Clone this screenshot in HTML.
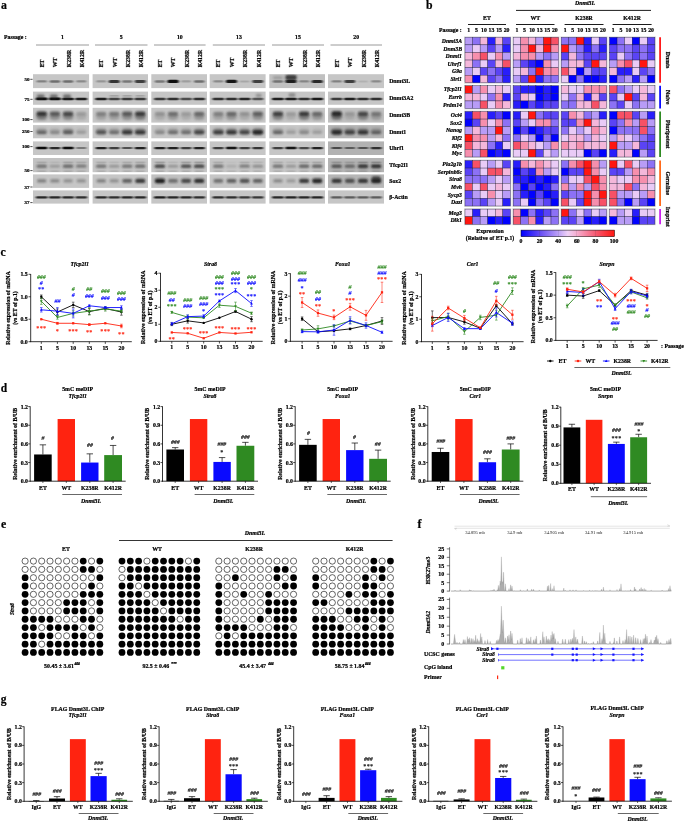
<!DOCTYPE html>
<html><head><meta charset="utf-8"><title>Figure</title>
<style>
html,body{margin:0;padding:0;background:#fff;}
body{width:685px;height:822px;overflow:hidden;font-family:"Liberation Serif",serif;}
svg{display:block;font-family:"Liberation Serif",serif;}
</style></head><body>
<svg width="685" height="822" viewBox="0 0 685 822">
<defs>
<filter id="b1" x="-30%" y="-80%" width="160%" height="260%"><feGaussianBlur stdDeviation="1.1 0.55"/></filter>
<filter id="b2" x="-30%" y="-80%" width="160%" height="260%"><feGaussianBlur stdDeviation="1.3 0.9"/></filter>
<filter id="b3" x="-30%" y="-80%" width="160%" height="260%"><feGaussianBlur stdDeviation="1.5 1.3"/></filter>
<linearGradient id="cb" x1="0" x2="1" y1="0" y2="0">
<stop offset="0" stop-color="#0000ff"/><stop offset="0.2" stop-color="#644af4"/><stop offset="0.4" stop-color="#bca0f6"/><stop offset="0.5" stop-color="#eed0f6"/><stop offset="0.6" stop-color="#f6acce"/><stop offset="0.8" stop-color="#f65870"/><stop offset="1" stop-color="#ff1610"/>
</linearGradient>
</defs>
<rect width="685" height="822" fill="#fff"/>
<g opacity="0.999">
<text x="1.00" y="8.90" font-size="11.8" font-weight="bold" font-style="normal" text-anchor="start" fill="#000" stroke="#000" stroke-width="0.22">a</text>
<text x="4.00" y="39.30" font-size="5.8" font-weight="bold" font-style="normal" text-anchor="start" fill="#000" stroke="#000" stroke-width="0.22">Passage :</text>
<line x1="36.00" y1="45.00" x2="89.00" y2="45.00" stroke="#9a9a9a" stroke-width="1.0"/>
<text x="62.50" y="39.30" font-size="5.8" font-weight="bold" font-style="normal" text-anchor="middle" fill="#000" stroke="#000" stroke-width="0.22">1</text>
<text x="43.76" y="67.30" font-size="5.8" font-weight="bold" font-style="normal" text-anchor="start" fill="#000" stroke="#000" stroke-width="0.22" transform="rotate(-90 43.76 67.30)">ET</text>
<text x="57.22" y="67.30" font-size="5.8" font-weight="bold" font-style="normal" text-anchor="start" fill="#000" stroke="#000" stroke-width="0.22" transform="rotate(-90 57.22 67.30)">WT</text>
<text x="70.68" y="67.30" font-size="5.8" font-weight="bold" font-style="normal" text-anchor="start" fill="#000" stroke="#000" stroke-width="0.22" transform="rotate(-90 70.68 67.30)">K238R</text>
<text x="84.15" y="67.30" font-size="5.8" font-weight="bold" font-style="normal" text-anchor="start" fill="#000" stroke="#000" stroke-width="0.22" transform="rotate(-90 84.15 67.30)">K412R</text>
<line x1="95.00" y1="45.00" x2="147.50" y2="45.00" stroke="#9a9a9a" stroke-width="1.0"/>
<text x="121.25" y="39.30" font-size="5.8" font-weight="bold" font-style="normal" text-anchor="middle" fill="#000" stroke="#000" stroke-width="0.22">5</text>
<text x="103.24" y="67.30" font-size="5.8" font-weight="bold" font-style="normal" text-anchor="start" fill="#000" stroke="#000" stroke-width="0.22" transform="rotate(-90 103.24 67.30)">ET</text>
<text x="116.54" y="67.30" font-size="5.8" font-weight="bold" font-style="normal" text-anchor="start" fill="#000" stroke="#000" stroke-width="0.22" transform="rotate(-90 116.54 67.30)">WT</text>
<text x="129.83" y="67.30" font-size="5.8" font-weight="bold" font-style="normal" text-anchor="start" fill="#000" stroke="#000" stroke-width="0.22" transform="rotate(-90 129.83 67.30)">K238R</text>
<text x="143.13" y="67.30" font-size="5.8" font-weight="bold" font-style="normal" text-anchor="start" fill="#000" stroke="#000" stroke-width="0.22" transform="rotate(-90 143.13 67.30)">K412R</text>
<line x1="154.00" y1="45.00" x2="205.60" y2="45.00" stroke="#9a9a9a" stroke-width="1.0"/>
<text x="179.80" y="39.30" font-size="5.8" font-weight="bold" font-style="normal" text-anchor="middle" fill="#000" stroke="#000" stroke-width="0.22">10</text>
<text x="161.99" y="67.30" font-size="5.8" font-weight="bold" font-style="normal" text-anchor="start" fill="#000" stroke="#000" stroke-width="0.22" transform="rotate(-90 161.99 67.30)">ET</text>
<text x="175.36" y="67.30" font-size="5.8" font-weight="bold" font-style="normal" text-anchor="start" fill="#000" stroke="#000" stroke-width="0.22" transform="rotate(-90 175.36 67.30)">WT</text>
<text x="188.73" y="67.30" font-size="5.8" font-weight="bold" font-style="normal" text-anchor="start" fill="#000" stroke="#000" stroke-width="0.22" transform="rotate(-90 188.73 67.30)">K238R</text>
<text x="202.09" y="67.30" font-size="5.8" font-weight="bold" font-style="normal" text-anchor="start" fill="#000" stroke="#000" stroke-width="0.22" transform="rotate(-90 202.09 67.30)">K412R</text>
<line x1="212.80" y1="45.00" x2="265.00" y2="45.00" stroke="#9a9a9a" stroke-width="1.0"/>
<text x="238.90" y="39.30" font-size="5.8" font-weight="bold" font-style="normal" text-anchor="middle" fill="#000" stroke="#000" stroke-width="0.22">13</text>
<text x="220.42" y="67.30" font-size="5.8" font-weight="bold" font-style="normal" text-anchor="start" fill="#000" stroke="#000" stroke-width="0.22" transform="rotate(-90 220.42 67.30)">ET</text>
<text x="233.84" y="67.30" font-size="5.8" font-weight="bold" font-style="normal" text-anchor="start" fill="#000" stroke="#000" stroke-width="0.22" transform="rotate(-90 233.84 67.30)">WT</text>
<text x="247.26" y="67.30" font-size="5.8" font-weight="bold" font-style="normal" text-anchor="start" fill="#000" stroke="#000" stroke-width="0.22" transform="rotate(-90 247.26 67.30)">K238R</text>
<text x="260.67" y="67.30" font-size="5.8" font-weight="bold" font-style="normal" text-anchor="start" fill="#000" stroke="#000" stroke-width="0.22" transform="rotate(-90 260.67 67.30)">K412R</text>
<line x1="272.00" y1="45.00" x2="324.00" y2="45.00" stroke="#9a9a9a" stroke-width="1.0"/>
<text x="298.00" y="39.30" font-size="5.8" font-weight="bold" font-style="normal" text-anchor="middle" fill="#000" stroke="#000" stroke-width="0.22">15</text>
<text x="279.99" y="67.30" font-size="5.8" font-weight="bold" font-style="normal" text-anchor="start" fill="#000" stroke="#000" stroke-width="0.22" transform="rotate(-90 279.99 67.30)">ET</text>
<text x="293.36" y="67.30" font-size="5.8" font-weight="bold" font-style="normal" text-anchor="start" fill="#000" stroke="#000" stroke-width="0.22" transform="rotate(-90 293.36 67.30)">WT</text>
<text x="306.73" y="67.30" font-size="5.8" font-weight="bold" font-style="normal" text-anchor="start" fill="#000" stroke="#000" stroke-width="0.22" transform="rotate(-90 306.73 67.30)">K238R</text>
<text x="320.09" y="67.30" font-size="5.8" font-weight="bold" font-style="normal" text-anchor="start" fill="#000" stroke="#000" stroke-width="0.22" transform="rotate(-90 320.09 67.30)">K412R</text>
<line x1="330.50" y1="45.00" x2="382.00" y2="45.00" stroke="#9a9a9a" stroke-width="1.0"/>
<text x="356.25" y="39.30" font-size="5.8" font-weight="bold" font-style="normal" text-anchor="middle" fill="#000" stroke="#000" stroke-width="0.22">20</text>
<text x="338.74" y="67.30" font-size="5.8" font-weight="bold" font-style="normal" text-anchor="start" fill="#000" stroke="#000" stroke-width="0.22" transform="rotate(-90 338.74 67.30)">ET</text>
<text x="352.18" y="67.30" font-size="5.8" font-weight="bold" font-style="normal" text-anchor="start" fill="#000" stroke="#000" stroke-width="0.22" transform="rotate(-90 352.18 67.30)">WT</text>
<text x="365.62" y="67.30" font-size="5.8" font-weight="bold" font-style="normal" text-anchor="start" fill="#000" stroke="#000" stroke-width="0.22" transform="rotate(-90 365.62 67.30)">K238R</text>
<text x="379.06" y="67.30" font-size="5.8" font-weight="bold" font-style="normal" text-anchor="start" fill="#000" stroke="#000" stroke-width="0.22" transform="rotate(-90 379.06 67.30)">K412R</text>
<text x="29.60" y="81.00" font-size="5.0" font-weight="bold" font-style="normal" text-anchor="end" fill="#000" stroke="#000" stroke-width="0.22">50</text>
<line x1="30.30" y1="79.30" x2="32.60" y2="79.30" stroke="#000" stroke-width="0.7"/>
<text x="29.60" y="101.00" font-size="5.0" font-weight="bold" font-style="normal" text-anchor="end" fill="#000" stroke="#000" stroke-width="0.22">75</text>
<line x1="30.30" y1="99.30" x2="32.60" y2="99.30" stroke="#000" stroke-width="0.7"/>
<text x="29.60" y="121.30" font-size="5.0" font-weight="bold" font-style="normal" text-anchor="end" fill="#000" stroke="#000" stroke-width="0.22">100</text>
<line x1="30.30" y1="119.60" x2="32.60" y2="119.60" stroke="#000" stroke-width="0.7"/>
<text x="29.60" y="133.20" font-size="5.0" font-weight="bold" font-style="normal" text-anchor="end" fill="#000" stroke="#000" stroke-width="0.22">250</text>
<line x1="30.30" y1="131.50" x2="32.60" y2="131.50" stroke="#000" stroke-width="0.7"/>
<text x="29.60" y="148.30" font-size="5.0" font-weight="bold" font-style="normal" text-anchor="end" fill="#000" stroke="#000" stroke-width="0.22">100</text>
<line x1="30.30" y1="146.60" x2="32.60" y2="146.60" stroke="#000" stroke-width="0.7"/>
<text x="29.60" y="172.30" font-size="5.0" font-weight="bold" font-style="normal" text-anchor="end" fill="#000" stroke="#000" stroke-width="0.22">50</text>
<line x1="30.30" y1="170.60" x2="32.60" y2="170.60" stroke="#000" stroke-width="0.7"/>
<text x="29.60" y="188.70" font-size="5.0" font-weight="bold" font-style="normal" text-anchor="end" fill="#000" stroke="#000" stroke-width="0.22">37</text>
<line x1="30.30" y1="187.00" x2="32.60" y2="187.00" stroke="#000" stroke-width="0.7"/>
<text x="29.60" y="204.30" font-size="5.0" font-weight="bold" font-style="normal" text-anchor="end" fill="#000" stroke="#000" stroke-width="0.22">37</text>
<line x1="30.30" y1="202.60" x2="32.60" y2="202.60" stroke="#000" stroke-width="0.7"/>
<clipPath id="c1"><rect x="33.0" y="74.2" width="56.10" height="13.90"/></clipPath>
<rect x="33.00" y="74.20" width="56.10" height="13.90" fill="#c6c6c6"/>
<g clip-path="url(#c1)">
<rect x="36.60" y="80.25" width="10.20" height="2.36" rx="1.18" fill="#111" opacity="0.37" filter="url(#b1)"/>
<rect x="49.68" y="80.17" width="10.40" height="2.52" rx="1.26" fill="#111" opacity="0.47" filter="url(#b1)"/>
<rect x="62.86" y="80.17" width="10.40" height="2.52" rx="1.26" fill="#111" opacity="0.47" filter="url(#b1)"/>
<rect x="76.20" y="80.29" width="10.10" height="2.28" rx="1.14" fill="#111" opacity="0.32" filter="url(#b1)"/>
</g>
<clipPath id="c2"><rect x="92.6" y="74.2" width="55.40" height="13.90"/></clipPath>
<rect x="92.60" y="74.20" width="55.40" height="13.90" fill="#c6c6c6"/>
<g clip-path="url(#c2)">
<rect x="96.19" y="80.33" width="10.00" height="2.20" rx="1.10" fill="#111" opacity="0.26" filter="url(#b1)"/>
<rect x="108.71" y="79.93" width="11.00" height="3.00" rx="1.50" fill="#111" opacity="0.79" filter="url(#b1)"/>
<rect x="122.07" y="80.21" width="10.30" height="2.44" rx="1.22" fill="#111" opacity="0.42" filter="url(#b1)"/>
<rect x="134.79" y="79.97" width="10.90" height="2.92" rx="1.46" fill="#111" opacity="0.73" filter="url(#b1)"/>
</g>
<clipPath id="c3"><rect x="151.3" y="74.2" width="55.70" height="13.90"/></clipPath>
<rect x="151.30" y="74.20" width="55.70" height="13.90" fill="#c6c6c6"/>
<g clip-path="url(#c3)">
<rect x="154.78" y="80.21" width="10.30" height="2.44" rx="1.22" fill="#111" opacity="0.42" filter="url(#b1)"/>
<rect x="167.32" y="79.77" width="11.40" height="3.32" rx="1.66" fill="#111" opacity="1.00" filter="url(#b1)"/>
<rect x="181.16" y="80.37" width="9.90" height="2.12" rx="1.06" fill="#111" opacity="0.21" filter="url(#b1)"/>
<rect x="194.00" y="80.17" width="10.40" height="2.52" rx="1.26" fill="#111" opacity="0.47" filter="url(#b1)"/>
</g>
<clipPath id="c4"><rect x="209.7" y="74.2" width="55.90" height="13.90"/></clipPath>
<rect x="209.70" y="74.20" width="55.90" height="13.90" fill="#c6c6c6"/>
<g clip-path="url(#c4)">
<rect x="213.31" y="80.29" width="10.10" height="2.28" rx="1.14" fill="#111" opacity="0.32" filter="url(#b1)"/>
<rect x="225.85" y="79.81" width="11.30" height="3.24" rx="1.62" fill="#111" opacity="0.95" filter="url(#b1)"/>
<rect x="239.74" y="80.41" width="9.80" height="2.04" rx="1.02" fill="#111" opacity="0.16" filter="url(#b1)"/>
<rect x="252.32" y="79.97" width="10.90" height="2.92" rx="1.46" fill="#111" opacity="0.73" filter="url(#b1)"/>
</g>
<clipPath id="c5"><rect x="269.3" y="74.2" width="55.70" height="13.90"/></clipPath>
<rect x="269.30" y="74.20" width="55.70" height="13.90" fill="#c0c0c0"/>
<g clip-path="url(#c5)">
<rect x="272.78" y="80.21" width="10.30" height="2.44" rx="1.22" fill="#111" opacity="0.42" filter="url(#b1)"/>
<rect x="285.42" y="79.85" width="11.20" height="3.16" rx="1.58" fill="#111" opacity="0.89" filter="url(#b1)"/>
<rect x="299.06" y="80.29" width="10.10" height="2.28" rx="1.14" fill="#111" opacity="0.32" filter="url(#b1)"/>
<rect x="311.65" y="79.89" width="11.10" height="3.08" rx="1.54" fill="#111" opacity="0.84" filter="url(#b1)"/>
<rect x="285.27" y="74.85" width="11.50" height="5.50" rx="2.75" fill="#1a1a1a" opacity="0.80" filter="url(#b2)"/>
<rect x="272.93" y="76.20" width="10.00" height="3.00" rx="1.50" fill="#111" opacity="0.20" filter="url(#b2)"/>
</g>
<clipPath id="c6"><rect x="328.0" y="74.2" width="56.00" height="13.90"/></clipPath>
<rect x="328.00" y="74.20" width="56.00" height="13.90" fill="#c6c6c6"/>
<g clip-path="url(#c6)">
<rect x="331.58" y="80.25" width="10.20" height="2.36" rx="1.18" fill="#111" opacity="0.37" filter="url(#b1)"/>
<rect x="344.39" y="79.97" width="10.90" height="2.92" rx="1.46" fill="#111" opacity="0.73" filter="url(#b1)"/>
<rect x="358.15" y="80.45" width="9.70" height="1.96" rx="0.98" fill="#111" opacity="0.11" filter="url(#b1)"/>
<rect x="371.11" y="80.29" width="10.10" height="2.28" rx="1.14" fill="#111" opacity="0.32" filter="url(#b1)"/>
</g>
<text x="389.20" y="83.05" font-size="5.8" font-weight="bold" font-style="normal" text-anchor="start" fill="#000" stroke="#000" stroke-width="0.22">Dnmt3L</text>
<clipPath id="c7"><rect x="33.0" y="91.6" width="56.10" height="13.20"/></clipPath>
<rect x="33.00" y="91.60" width="56.10" height="13.20" fill="#c6c6c6"/>
<g clip-path="url(#c7)">
<rect x="35.71" y="97.60" width="11.97" height="2.77" rx="1.39" fill="#080808" opacity="0.98" filter="url(#b1)"/>
<rect x="48.89" y="97.60" width="11.97" height="2.77" rx="1.39" fill="#080808" opacity="0.98" filter="url(#b1)"/>
<rect x="62.12" y="97.64" width="11.88" height="2.70" rx="1.35" fill="#080808" opacity="0.92" filter="url(#b1)"/>
<rect x="75.32" y="97.66" width="11.85" height="2.67" rx="1.33" fill="#080808" opacity="0.90" filter="url(#b1)"/>
<rect x="36.70" y="94.60" width="8.00" height="4.00" rx="2.00" fill="#222" opacity="0.55" filter="url(#b2)"/>
<rect x="49.88" y="94.60" width="8.00" height="4.00" rx="2.00" fill="#222" opacity="0.55" filter="url(#b2)"/>
<rect x="63.06" y="94.60" width="8.00" height="4.00" rx="2.00" fill="#222" opacity="0.55" filter="url(#b2)"/>
</g>
<clipPath id="c8"><rect x="92.6" y="91.6" width="55.40" height="13.20"/></clipPath>
<rect x="92.60" y="91.60" width="55.40" height="13.20" fill="#c6c6c6"/>
<g clip-path="url(#c8)">
<rect x="95.26" y="97.66" width="11.85" height="2.67" rx="1.33" fill="#080808" opacity="0.90" filter="url(#b1)"/>
<rect x="108.43" y="97.79" width="11.55" height="2.41" rx="1.21" fill="#080808" opacity="0.70" filter="url(#b1)"/>
<rect x="121.41" y="97.75" width="11.62" height="2.48" rx="1.24" fill="#080808" opacity="0.75" filter="url(#b1)"/>
<rect x="134.43" y="97.75" width="11.62" height="2.48" rx="1.24" fill="#080808" opacity="0.75" filter="url(#b1)"/>
<rect x="109.46" y="95.20" width="9.50" height="1.40" rx="0.70" fill="#333" opacity="0.30" filter="url(#b1)"/>
<rect x="122.47" y="95.20" width="9.50" height="1.40" rx="0.70" fill="#333" opacity="0.30" filter="url(#b1)"/>
<rect x="135.49" y="95.20" width="9.50" height="1.40" rx="0.70" fill="#333" opacity="0.30" filter="url(#b1)"/>
</g>
<clipPath id="c9"><rect x="151.3" y="91.6" width="55.70" height="13.20"/></clipPath>
<rect x="151.30" y="91.60" width="55.70" height="13.20" fill="#c6c6c6"/>
<g clip-path="url(#c9)">
<rect x="154.12" y="97.75" width="11.62" height="2.48" rx="1.24" fill="#080808" opacity="0.75" filter="url(#b1)"/>
<rect x="167.17" y="97.72" width="11.70" height="2.54" rx="1.27" fill="#080808" opacity="0.80" filter="url(#b1)"/>
<rect x="180.38" y="97.82" width="11.47" height="2.35" rx="1.17" fill="#080808" opacity="0.65" filter="url(#b1)"/>
<rect x="193.35" y="97.72" width="11.70" height="2.54" rx="1.27" fill="#080808" opacity="0.80" filter="url(#b1)"/>
</g>
<clipPath id="c10"><rect x="209.7" y="91.6" width="55.90" height="13.20"/></clipPath>
<rect x="209.70" y="91.60" width="55.90" height="13.20" fill="#c6c6c6"/>
<g clip-path="url(#c10)">
<rect x="212.51" y="97.72" width="11.70" height="2.54" rx="1.27" fill="#080808" opacity="0.80" filter="url(#b1)"/>
<rect x="225.65" y="97.72" width="11.70" height="2.54" rx="1.27" fill="#080808" opacity="0.80" filter="url(#b1)"/>
<rect x="238.75" y="97.69" width="11.78" height="2.60" rx="1.30" fill="#080808" opacity="0.85" filter="url(#b1)"/>
<rect x="252.07" y="97.85" width="11.40" height="2.28" rx="1.14" fill="#080808" opacity="0.60" filter="url(#b1)"/>
<rect x="255.77" y="93.85" width="6.00" height="3.50" rx="1.75" fill="#222" opacity="0.30" filter="url(#b2)"/>
</g>
<clipPath id="c11"><rect x="269.3" y="91.6" width="55.70" height="13.20"/></clipPath>
<rect x="269.30" y="91.60" width="55.70" height="13.20" fill="#c6c6c6"/>
<g clip-path="url(#c11)">
<rect x="272.01" y="97.66" width="11.85" height="2.67" rx="1.33" fill="#080808" opacity="0.90" filter="url(#b1)"/>
<rect x="285.10" y="97.66" width="11.85" height="2.67" rx="1.33" fill="#080808" opacity="0.90" filter="url(#b1)"/>
<rect x="298.26" y="97.72" width="11.70" height="2.54" rx="1.27" fill="#080808" opacity="0.80" filter="url(#b1)"/>
<rect x="311.26" y="97.64" width="11.88" height="2.70" rx="1.35" fill="#080808" opacity="0.92" filter="url(#b1)"/>
<rect x="288.52" y="93.10" width="7.00" height="4.00" rx="2.00" fill="#222" opacity="0.35" filter="url(#b2)"/>
</g>
<clipPath id="c12"><rect x="328.0" y="91.6" width="56.00" height="13.20"/></clipPath>
<rect x="328.00" y="91.60" width="56.00" height="13.20" fill="#c6c6c6"/>
<g clip-path="url(#c12)">
<rect x="330.87" y="97.75" width="11.62" height="2.48" rx="1.24" fill="#080808" opacity="0.75" filter="url(#b1)"/>
<rect x="343.91" y="97.66" width="11.85" height="2.67" rx="1.33" fill="#080808" opacity="0.90" filter="url(#b1)"/>
<rect x="357.15" y="97.72" width="11.70" height="2.54" rx="1.27" fill="#080808" opacity="0.80" filter="url(#b1)"/>
<rect x="370.31" y="97.72" width="11.70" height="2.54" rx="1.27" fill="#080808" opacity="0.80" filter="url(#b1)"/>
</g>
<text x="389.20" y="100.10" font-size="5.8" font-weight="bold" font-style="normal" text-anchor="start" fill="#000" stroke="#000" stroke-width="0.22">Dnmt3A2</text>
<clipPath id="c13"><rect x="33.0" y="107.8" width="56.10" height="14.80"/></clipPath>
<rect x="33.00" y="107.80" width="56.10" height="14.80" fill="#c6c6c6"/>
<g clip-path="url(#c13)">
<rect x="36.45" y="111.38" width="10.50" height="4.67" rx="2.34" fill="#151515" opacity="0.81" filter="url(#b2)"/>
<rect x="36.45" y="113.43" width="10.50" height="6.50" rx="3.25" fill="#2a2a2a" opacity="0.47" filter="url(#b3)"/>
<rect x="49.63" y="111.57" width="10.50" height="4.30" rx="2.15" fill="#151515" opacity="0.57" filter="url(#b2)"/>
<rect x="49.63" y="113.43" width="10.50" height="6.50" rx="3.25" fill="#2a2a2a" opacity="0.35" filter="url(#b3)"/>
<rect x="62.81" y="111.50" width="10.50" height="4.45" rx="2.22" fill="#151515" opacity="0.66" filter="url(#b2)"/>
<rect x="62.81" y="113.43" width="10.50" height="6.50" rx="3.25" fill="#2a2a2a" opacity="0.40" filter="url(#b3)"/>
<rect x="76.00" y="111.87" width="10.50" height="3.70" rx="1.85" fill="#151515" opacity="0.19" filter="url(#b2)"/>
<rect x="76.00" y="113.43" width="10.50" height="6.50" rx="3.25" fill="#2a2a2a" opacity="0.15" filter="url(#b3)"/>
</g>
<clipPath id="c14"><rect x="92.6" y="107.8" width="55.40" height="14.80"/></clipPath>
<rect x="92.60" y="107.80" width="55.40" height="14.80" fill="#c6c6c6"/>
<g clip-path="url(#c14)">
<rect x="95.94" y="111.76" width="10.50" height="3.92" rx="1.96" fill="#151515" opacity="0.33" filter="url(#b2)"/>
<rect x="95.94" y="113.43" width="10.50" height="6.50" rx="3.25" fill="#2a2a2a" opacity="0.22" filter="url(#b3)"/>
<rect x="108.96" y="111.72" width="10.50" height="4.00" rx="2.00" fill="#151515" opacity="0.38" filter="url(#b2)"/>
<rect x="108.96" y="113.43" width="10.50" height="6.50" rx="3.25" fill="#2a2a2a" opacity="0.25" filter="url(#b3)"/>
<rect x="121.97" y="111.57" width="10.50" height="4.30" rx="2.15" fill="#151515" opacity="0.57" filter="url(#b2)"/>
<rect x="121.97" y="113.43" width="10.50" height="6.50" rx="3.25" fill="#2a2a2a" opacity="0.35" filter="url(#b3)"/>
<rect x="134.99" y="111.42" width="10.50" height="4.60" rx="2.30" fill="#151515" opacity="0.76" filter="url(#b2)"/>
<rect x="134.99" y="113.43" width="10.50" height="6.50" rx="3.25" fill="#2a2a2a" opacity="0.45" filter="url(#b3)"/>
</g>
<clipPath id="c15"><rect x="151.3" y="107.8" width="55.70" height="14.80"/></clipPath>
<rect x="151.30" y="107.80" width="55.70" height="14.80" fill="#c6c6c6"/>
<g clip-path="url(#c15)">
<rect x="154.68" y="111.83" width="10.50" height="3.77" rx="1.89" fill="#151515" opacity="0.24" filter="url(#b2)"/>
<rect x="154.68" y="113.43" width="10.50" height="6.50" rx="3.25" fill="#2a2a2a" opacity="0.17" filter="url(#b3)"/>
<rect x="167.77" y="111.68" width="10.50" height="4.08" rx="2.04" fill="#151515" opacity="0.43" filter="url(#b2)"/>
<rect x="167.77" y="113.43" width="10.50" height="6.50" rx="3.25" fill="#2a2a2a" opacity="0.28" filter="url(#b3)"/>
<rect x="180.86" y="111.87" width="10.50" height="3.70" rx="1.85" fill="#151515" opacity="0.19" filter="url(#b2)"/>
<rect x="180.86" y="113.43" width="10.50" height="6.50" rx="3.25" fill="#2a2a2a" opacity="0.15" filter="url(#b3)"/>
<rect x="193.95" y="111.64" width="10.50" height="4.15" rx="2.08" fill="#151515" opacity="0.47" filter="url(#b2)"/>
<rect x="193.95" y="113.43" width="10.50" height="6.50" rx="3.25" fill="#2a2a2a" opacity="0.30" filter="url(#b3)"/>
</g>
<clipPath id="c16"><rect x="209.7" y="107.8" width="55.90" height="14.80"/></clipPath>
<rect x="209.70" y="107.80" width="55.90" height="14.80" fill="#c6c6c6"/>
<g clip-path="url(#c16)">
<rect x="213.11" y="111.76" width="10.50" height="3.92" rx="1.96" fill="#151515" opacity="0.33" filter="url(#b2)"/>
<rect x="213.11" y="113.43" width="10.50" height="6.50" rx="3.25" fill="#2a2a2a" opacity="0.22" filter="url(#b3)"/>
<rect x="226.25" y="111.64" width="10.50" height="4.15" rx="2.08" fill="#151515" opacity="0.47" filter="url(#b2)"/>
<rect x="226.25" y="113.43" width="10.50" height="6.50" rx="3.25" fill="#2a2a2a" opacity="0.30" filter="url(#b3)"/>
<rect x="239.39" y="111.83" width="10.50" height="3.77" rx="1.89" fill="#151515" opacity="0.24" filter="url(#b2)"/>
<rect x="239.39" y="113.43" width="10.50" height="6.50" rx="3.25" fill="#2a2a2a" opacity="0.17" filter="url(#b3)"/>
<rect x="252.52" y="111.61" width="10.50" height="4.22" rx="2.11" fill="#151515" opacity="0.52" filter="url(#b2)"/>
<rect x="252.52" y="113.43" width="10.50" height="6.50" rx="3.25" fill="#2a2a2a" opacity="0.33" filter="url(#b3)"/>
</g>
<clipPath id="c17"><rect x="269.3" y="107.8" width="55.70" height="14.80"/></clipPath>
<rect x="269.30" y="107.80" width="55.70" height="14.80" fill="#c6c6c6"/>
<g clip-path="url(#c17)">
<rect x="272.68" y="111.46" width="10.50" height="4.53" rx="2.26" fill="#151515" opacity="0.71" filter="url(#b2)"/>
<rect x="272.68" y="113.43" width="10.50" height="6.50" rx="3.25" fill="#2a2a2a" opacity="0.42" filter="url(#b3)"/>
<rect x="285.77" y="111.87" width="10.50" height="3.70" rx="1.85" fill="#151515" opacity="0.19" filter="url(#b2)"/>
<rect x="285.77" y="113.43" width="10.50" height="6.50" rx="3.25" fill="#2a2a2a" opacity="0.15" filter="url(#b3)"/>
<rect x="298.86" y="111.42" width="10.50" height="4.60" rx="2.30" fill="#151515" opacity="0.76" filter="url(#b2)"/>
<rect x="298.86" y="113.43" width="10.50" height="6.50" rx="3.25" fill="#2a2a2a" opacity="0.45" filter="url(#b3)"/>
<rect x="311.95" y="111.64" width="10.50" height="4.15" rx="2.08" fill="#151515" opacity="0.47" filter="url(#b2)"/>
<rect x="311.95" y="113.43" width="10.50" height="6.50" rx="3.25" fill="#2a2a2a" opacity="0.30" filter="url(#b3)"/>
</g>
<clipPath id="c18"><rect x="328.0" y="107.8" width="56.00" height="14.80"/></clipPath>
<rect x="328.00" y="107.80" width="56.00" height="14.80" fill="#c0c0c0"/>
<g clip-path="url(#c18)">
<rect x="331.43" y="111.31" width="10.50" height="4.82" rx="2.41" fill="#151515" opacity="0.90" filter="url(#b2)"/>
<rect x="331.43" y="113.43" width="10.50" height="6.50" rx="3.25" fill="#2a2a2a" opacity="0.53" filter="url(#b3)"/>
<rect x="344.59" y="111.87" width="10.50" height="3.70" rx="1.85" fill="#151515" opacity="0.19" filter="url(#b2)"/>
<rect x="344.59" y="113.43" width="10.50" height="6.50" rx="3.25" fill="#2a2a2a" opacity="0.15" filter="url(#b3)"/>
<rect x="357.75" y="111.50" width="10.50" height="4.45" rx="2.22" fill="#151515" opacity="0.66" filter="url(#b2)"/>
<rect x="357.75" y="113.43" width="10.50" height="6.50" rx="3.25" fill="#2a2a2a" opacity="0.40" filter="url(#b3)"/>
<rect x="370.91" y="111.72" width="10.50" height="4.00" rx="2.00" fill="#151515" opacity="0.38" filter="url(#b2)"/>
<rect x="370.91" y="113.43" width="10.50" height="6.50" rx="3.25" fill="#2a2a2a" opacity="0.25" filter="url(#b3)"/>
</g>
<text x="389.20" y="117.10" font-size="5.8" font-weight="bold" font-style="normal" text-anchor="start" fill="#000" stroke="#000" stroke-width="0.22">Dnmt3B</text>
<clipPath id="c19"><rect x="33.0" y="125.1" width="56.10" height="13.20"/></clipPath>
<rect x="33.00" y="125.10" width="56.10" height="13.20" fill="#c6c6c6"/>
<g clip-path="url(#c19)">
<rect x="36.57" y="130.41" width="10.25" height="3.90" rx="1.95" fill="#151515" opacity="0.50" filter="url(#b2)"/>
<rect x="36.45" y="127.63" width="10.50" height="5.50" rx="2.75" fill="#2a2a2a" opacity="0.17" filter="url(#b3)"/>
<rect x="49.90" y="130.59" width="9.95" height="3.54" rx="1.77" fill="#151515" opacity="0.30" filter="url(#b2)"/>
<rect x="49.63" y="127.63" width="10.50" height="5.50" rx="2.75" fill="#2a2a2a" opacity="0.10" filter="url(#b3)"/>
<rect x="62.90" y="130.37" width="10.32" height="3.99" rx="2.00" fill="#151515" opacity="0.55" filter="url(#b2)"/>
<rect x="62.81" y="127.63" width="10.50" height="5.50" rx="2.75" fill="#2a2a2a" opacity="0.19" filter="url(#b3)"/>
<rect x="76.35" y="130.68" width="9.80" height="3.36" rx="1.68" fill="#151515" opacity="0.20" filter="url(#b2)"/>
<rect x="76.00" y="127.63" width="10.50" height="5.50" rx="2.75" fill="#2a2a2a" opacity="0.07" filter="url(#b3)"/>
</g>
<clipPath id="c20"><rect x="92.6" y="125.1" width="55.40" height="13.20"/></clipPath>
<rect x="92.60" y="125.10" width="55.40" height="13.20" fill="#c6c6c6"/>
<g clip-path="url(#c20)">
<rect x="95.99" y="130.32" width="10.40" height="4.08" rx="2.04" fill="#151515" opacity="0.60" filter="url(#b2)"/>
<rect x="95.94" y="127.63" width="10.50" height="5.50" rx="2.75" fill="#2a2a2a" opacity="0.21" filter="url(#b3)"/>
<rect x="109.12" y="130.46" width="10.18" height="3.81" rx="1.91" fill="#151515" opacity="0.45" filter="url(#b2)"/>
<rect x="108.96" y="127.63" width="10.50" height="5.50" rx="2.75" fill="#2a2a2a" opacity="0.16" filter="url(#b3)"/>
<rect x="121.88" y="130.14" width="10.70" height="4.44" rx="2.22" fill="#151515" opacity="0.80" filter="url(#b2)"/>
<rect x="121.97" y="127.63" width="10.50" height="5.50" rx="2.75" fill="#2a2a2a" opacity="0.28" filter="url(#b3)"/>
<rect x="134.89" y="130.14" width="10.70" height="4.44" rx="2.22" fill="#151515" opacity="0.80" filter="url(#b2)"/>
<rect x="134.99" y="127.63" width="10.50" height="5.50" rx="2.75" fill="#2a2a2a" opacity="0.28" filter="url(#b3)"/>
</g>
<clipPath id="c21"><rect x="151.3" y="125.1" width="55.70" height="13.20"/></clipPath>
<rect x="151.30" y="125.10" width="55.70" height="13.20" fill="#c6c6c6"/>
<g clip-path="url(#c21)">
<rect x="154.96" y="130.59" width="9.95" height="3.54" rx="1.77" fill="#151515" opacity="0.30" filter="url(#b2)"/>
<rect x="154.68" y="127.63" width="10.50" height="5.50" rx="2.75" fill="#2a2a2a" opacity="0.10" filter="url(#b3)"/>
<rect x="167.94" y="130.46" width="10.18" height="3.81" rx="1.91" fill="#151515" opacity="0.45" filter="url(#b2)"/>
<rect x="167.77" y="127.63" width="10.50" height="5.50" rx="2.75" fill="#2a2a2a" opacity="0.16" filter="url(#b3)"/>
<rect x="181.03" y="130.46" width="10.18" height="3.81" rx="1.91" fill="#151515" opacity="0.45" filter="url(#b2)"/>
<rect x="180.86" y="127.63" width="10.50" height="5.50" rx="2.75" fill="#2a2a2a" opacity="0.16" filter="url(#b3)"/>
<rect x="193.93" y="130.23" width="10.55" height="4.26" rx="2.13" fill="#151515" opacity="0.70" filter="url(#b2)"/>
<rect x="193.95" y="127.63" width="10.50" height="5.50" rx="2.75" fill="#2a2a2a" opacity="0.24" filter="url(#b3)"/>
</g>
<clipPath id="c22"><rect x="209.7" y="125.1" width="55.90" height="13.20"/></clipPath>
<rect x="209.70" y="125.10" width="55.90" height="13.20" fill="#c6c6c6"/>
<g clip-path="url(#c22)">
<rect x="213.05" y="130.19" width="10.62" height="4.35" rx="2.17" fill="#151515" opacity="0.75" filter="url(#b2)"/>
<rect x="213.11" y="127.63" width="10.50" height="5.50" rx="2.75" fill="#2a2a2a" opacity="0.26" filter="url(#b3)"/>
<rect x="226.15" y="130.14" width="10.70" height="4.44" rx="2.22" fill="#151515" opacity="0.80" filter="url(#b2)"/>
<rect x="226.25" y="127.63" width="10.50" height="5.50" rx="2.75" fill="#2a2a2a" opacity="0.28" filter="url(#b3)"/>
<rect x="239.36" y="130.23" width="10.55" height="4.26" rx="2.13" fill="#151515" opacity="0.70" filter="url(#b2)"/>
<rect x="239.39" y="127.63" width="10.50" height="5.50" rx="2.75" fill="#2a2a2a" opacity="0.24" filter="url(#b3)"/>
<rect x="252.35" y="130.05" width="10.85" height="4.62" rx="2.31" fill="#151515" opacity="0.90" filter="url(#b2)"/>
<rect x="252.52" y="127.63" width="10.50" height="5.50" rx="2.75" fill="#2a2a2a" opacity="0.32" filter="url(#b3)"/>
</g>
<clipPath id="c23"><rect x="269.3" y="125.1" width="55.70" height="13.20"/></clipPath>
<rect x="269.30" y="125.10" width="55.70" height="13.20" fill="#c6c6c6"/>
<g clip-path="url(#c23)">
<rect x="272.81" y="130.41" width="10.25" height="3.90" rx="1.95" fill="#151515" opacity="0.50" filter="url(#b2)"/>
<rect x="272.68" y="127.63" width="10.50" height="5.50" rx="2.75" fill="#2a2a2a" opacity="0.17" filter="url(#b3)"/>
<rect x="286.12" y="130.68" width="9.80" height="3.36" rx="1.68" fill="#151515" opacity="0.20" filter="url(#b2)"/>
<rect x="285.77" y="127.63" width="10.50" height="5.50" rx="2.75" fill="#2a2a2a" opacity="0.07" filter="url(#b3)"/>
<rect x="299.14" y="130.59" width="9.95" height="3.54" rx="1.77" fill="#151515" opacity="0.30" filter="url(#b2)"/>
<rect x="298.86" y="127.63" width="10.50" height="5.50" rx="2.75" fill="#2a2a2a" opacity="0.10" filter="url(#b3)"/>
<rect x="312.30" y="130.68" width="9.80" height="3.36" rx="1.68" fill="#151515" opacity="0.20" filter="url(#b2)"/>
<rect x="311.95" y="127.63" width="10.50" height="5.50" rx="2.75" fill="#2a2a2a" opacity="0.07" filter="url(#b3)"/>
</g>
<clipPath id="c24"><rect x="328.0" y="125.1" width="56.00" height="13.20"/></clipPath>
<rect x="328.00" y="125.10" width="56.00" height="13.20" fill="#b4b4b4"/>
<g clip-path="url(#c24)">
<rect x="331.29" y="130.10" width="10.78" height="4.53" rx="2.27" fill="#151515" opacity="0.85" filter="url(#b2)"/>
<rect x="331.43" y="127.63" width="10.50" height="5.50" rx="2.75" fill="#2a2a2a" opacity="0.30" filter="url(#b3)"/>
<rect x="344.56" y="130.23" width="10.55" height="4.26" rx="2.13" fill="#151515" opacity="0.70" filter="url(#b2)"/>
<rect x="344.59" y="127.63" width="10.50" height="5.50" rx="2.75" fill="#2a2a2a" opacity="0.24" filter="url(#b3)"/>
<rect x="357.65" y="130.14" width="10.70" height="4.44" rx="2.22" fill="#151515" opacity="0.80" filter="url(#b2)"/>
<rect x="357.75" y="127.63" width="10.50" height="5.50" rx="2.75" fill="#2a2a2a" opacity="0.28" filter="url(#b3)"/>
<rect x="371.03" y="130.41" width="10.25" height="3.90" rx="1.95" fill="#151515" opacity="0.50" filter="url(#b2)"/>
<rect x="370.91" y="127.63" width="10.50" height="5.50" rx="2.75" fill="#2a2a2a" opacity="0.17" filter="url(#b3)"/>
</g>
<text x="389.20" y="133.60" font-size="5.8" font-weight="bold" font-style="normal" text-anchor="start" fill="#000" stroke="#000" stroke-width="0.22">Dnmt1</text>
<clipPath id="c25"><rect x="33.0" y="141.4" width="56.10" height="13.60"/></clipPath>
<rect x="33.00" y="141.40" width="56.10" height="13.60" fill="#c6c6c6"/>
<g clip-path="url(#c25)">
<rect x="36.00" y="146.84" width="11.40" height="2.45" rx="1.23" fill="#080808" opacity="1.00" filter="url(#b1)"/>
<rect x="49.33" y="146.91" width="11.10" height="2.30" rx="1.15" fill="#080808" opacity="0.84" filter="url(#b1)"/>
<rect x="62.36" y="146.84" width="11.40" height="2.45" rx="1.23" fill="#080808" opacity="1.00" filter="url(#b1)"/>
<rect x="76.10" y="147.11" width="10.30" height="1.90" rx="0.95" fill="#080808" opacity="0.42" filter="url(#b1)"/>
</g>
<clipPath id="c26"><rect x="92.6" y="141.4" width="55.40" height="13.60"/></clipPath>
<rect x="92.60" y="141.40" width="55.40" height="13.60" fill="#c6c6c6"/>
<g clip-path="url(#c26)">
<rect x="95.59" y="146.89" width="11.20" height="2.35" rx="1.18" fill="#080808" opacity="0.89" filter="url(#b1)"/>
<rect x="108.76" y="146.96" width="10.90" height="2.20" rx="1.10" fill="#080808" opacity="0.73" filter="url(#b1)"/>
<rect x="121.88" y="147.01" width="10.70" height="2.10" rx="1.05" fill="#080808" opacity="0.63" filter="url(#b1)"/>
<rect x="134.64" y="146.89" width="11.20" height="2.35" rx="1.18" fill="#080808" opacity="0.89" filter="url(#b1)"/>
</g>
<clipPath id="c27"><rect x="151.3" y="141.4" width="55.70" height="13.60"/></clipPath>
<rect x="151.30" y="141.40" width="55.70" height="13.60" fill="#c6c6c6"/>
<g clip-path="url(#c27)">
<rect x="154.33" y="146.89" width="11.20" height="2.35" rx="1.18" fill="#080808" opacity="0.89" filter="url(#b1)"/>
<rect x="167.42" y="146.89" width="11.20" height="2.35" rx="1.18" fill="#080808" opacity="0.89" filter="url(#b1)"/>
<rect x="180.66" y="146.96" width="10.90" height="2.20" rx="1.10" fill="#080808" opacity="0.73" filter="url(#b1)"/>
<rect x="193.60" y="146.89" width="11.20" height="2.35" rx="1.18" fill="#080808" opacity="0.89" filter="url(#b1)"/>
</g>
<clipPath id="c28"><rect x="209.7" y="141.4" width="55.90" height="13.60"/></clipPath>
<rect x="209.70" y="141.40" width="55.90" height="13.60" fill="#c6c6c6"/>
<g clip-path="url(#c28)">
<rect x="212.91" y="146.96" width="10.90" height="2.20" rx="1.10" fill="#080808" opacity="0.73" filter="url(#b1)"/>
<rect x="225.85" y="146.86" width="11.30" height="2.40" rx="1.20" fill="#080808" opacity="0.95" filter="url(#b1)"/>
<rect x="239.19" y="146.96" width="10.90" height="2.20" rx="1.10" fill="#080808" opacity="0.73" filter="url(#b1)"/>
<rect x="252.27" y="146.94" width="11.00" height="2.25" rx="1.12" fill="#080808" opacity="0.79" filter="url(#b1)"/>
</g>
<clipPath id="c29"><rect x="269.3" y="141.4" width="55.70" height="13.60"/></clipPath>
<rect x="269.30" y="141.40" width="55.70" height="13.60" fill="#c6c6c6"/>
<g clip-path="url(#c29)">
<rect x="272.48" y="146.96" width="10.90" height="2.20" rx="1.10" fill="#080808" opacity="0.73" filter="url(#b1)"/>
<rect x="285.37" y="146.86" width="11.30" height="2.40" rx="1.20" fill="#080808" opacity="0.95" filter="url(#b1)"/>
<rect x="298.71" y="146.99" width="10.80" height="2.15" rx="1.07" fill="#080808" opacity="0.68" filter="url(#b1)"/>
<rect x="311.60" y="146.89" width="11.20" height="2.35" rx="1.18" fill="#080808" opacity="0.89" filter="url(#b1)"/>
</g>
<clipPath id="c30"><rect x="328.0" y="141.4" width="56.00" height="13.60"/></clipPath>
<rect x="328.00" y="141.40" width="56.00" height="13.60" fill="#b2b2b2"/>
<g clip-path="url(#c30)">
<rect x="331.33" y="147.01" width="10.70" height="2.10" rx="1.05" fill="#080808" opacity="0.63" filter="url(#b1)"/>
<rect x="344.59" y="147.06" width="10.50" height="2.00" rx="1.00" fill="#080808" opacity="0.53" filter="url(#b1)"/>
<rect x="357.70" y="147.04" width="10.60" height="2.05" rx="1.02" fill="#080808" opacity="0.58" filter="url(#b1)"/>
<rect x="370.66" y="146.94" width="11.00" height="2.25" rx="1.12" fill="#080808" opacity="0.79" filter="url(#b1)"/>
</g>
<text x="389.20" y="150.10" font-size="5.8" font-weight="bold" font-style="normal" text-anchor="start" fill="#000" stroke="#000" stroke-width="0.22">Uhrf1</text>
<clipPath id="c31"><rect x="33.0" y="158.0" width="56.10" height="14.20"/></clipPath>
<rect x="33.00" y="158.00" width="56.10" height="14.20" fill="#c2c2c2"/>
<g clip-path="url(#c31)">
<rect x="36.45" y="164.59" width="10.50" height="3.30" rx="1.65" fill="#1a1a1a" opacity="0.47" filter="url(#b2)"/>
<rect x="36.45" y="161.46" width="10.50" height="1.60" rx="0.80" fill="#2a2a2a" opacity="0.15" filter="url(#b1)"/>
<rect x="37.20" y="170.46" width="9.00" height="1.20" rx="0.60" fill="#2a2a2a" opacity="0.18" filter="url(#b1)"/>
<rect x="49.63" y="164.76" width="10.50" height="2.95" rx="1.48" fill="#1a1a1a" opacity="0.24" filter="url(#b2)"/>
<rect x="49.63" y="161.46" width="10.50" height="1.60" rx="0.80" fill="#2a2a2a" opacity="0.07" filter="url(#b1)"/>
<rect x="50.38" y="170.46" width="9.00" height="1.20" rx="0.60" fill="#2a2a2a" opacity="0.15" filter="url(#b1)"/>
<rect x="62.81" y="164.55" width="10.50" height="3.37" rx="1.69" fill="#1a1a1a" opacity="0.52" filter="url(#b2)"/>
<rect x="62.81" y="161.46" width="10.50" height="1.60" rx="0.80" fill="#2a2a2a" opacity="0.17" filter="url(#b1)"/>
<rect x="63.56" y="170.46" width="9.00" height="1.20" rx="0.60" fill="#2a2a2a" opacity="0.19" filter="url(#b1)"/>
<rect x="76.00" y="164.62" width="10.50" height="3.23" rx="1.61" fill="#1a1a1a" opacity="0.43" filter="url(#b2)"/>
<rect x="76.00" y="161.46" width="10.50" height="1.60" rx="0.80" fill="#2a2a2a" opacity="0.14" filter="url(#b1)"/>
<rect x="76.75" y="170.46" width="9.00" height="1.20" rx="0.60" fill="#2a2a2a" opacity="0.17" filter="url(#b1)"/>
</g>
<clipPath id="c32"><rect x="92.6" y="158.0" width="55.40" height="14.20"/></clipPath>
<rect x="92.60" y="158.00" width="55.40" height="14.20" fill="#c6c6c6"/>
<g clip-path="url(#c32)">
<rect x="95.94" y="164.59" width="10.50" height="3.30" rx="1.65" fill="#1a1a1a" opacity="0.47" filter="url(#b2)"/>
<rect x="95.94" y="161.46" width="10.50" height="1.60" rx="0.80" fill="#2a2a2a" opacity="0.15" filter="url(#b1)"/>
<rect x="96.69" y="170.46" width="9.00" height="1.20" rx="0.60" fill="#2a2a2a" opacity="0.18" filter="url(#b1)"/>
<rect x="108.96" y="164.73" width="10.50" height="3.02" rx="1.51" fill="#1a1a1a" opacity="0.28" filter="url(#b2)"/>
<rect x="108.96" y="161.46" width="10.50" height="1.60" rx="0.80" fill="#2a2a2a" opacity="0.09" filter="url(#b1)"/>
<rect x="109.71" y="170.46" width="9.00" height="1.20" rx="0.60" fill="#2a2a2a" opacity="0.16" filter="url(#b1)"/>
<rect x="121.97" y="164.59" width="10.50" height="3.30" rx="1.65" fill="#1a1a1a" opacity="0.47" filter="url(#b2)"/>
<rect x="121.97" y="161.46" width="10.50" height="1.60" rx="0.80" fill="#2a2a2a" opacity="0.15" filter="url(#b1)"/>
<rect x="122.72" y="170.46" width="9.00" height="1.20" rx="0.60" fill="#2a2a2a" opacity="0.18" filter="url(#b1)"/>
<rect x="134.99" y="164.55" width="10.50" height="3.37" rx="1.69" fill="#1a1a1a" opacity="0.52" filter="url(#b2)"/>
<rect x="134.99" y="161.46" width="10.50" height="1.60" rx="0.80" fill="#2a2a2a" opacity="0.17" filter="url(#b1)"/>
<rect x="135.74" y="170.46" width="9.00" height="1.20" rx="0.60" fill="#2a2a2a" opacity="0.19" filter="url(#b1)"/>
</g>
<clipPath id="c33"><rect x="151.3" y="158.0" width="55.70" height="14.20"/></clipPath>
<rect x="151.30" y="158.00" width="55.70" height="14.20" fill="#c6c6c6"/>
<g clip-path="url(#c33)">
<rect x="154.68" y="164.38" width="10.50" height="3.72" rx="1.86" fill="#1a1a1a" opacity="0.76" filter="url(#b2)"/>
<rect x="154.68" y="161.46" width="10.50" height="1.60" rx="0.80" fill="#2a2a2a" opacity="0.24" filter="url(#b1)"/>
<rect x="155.43" y="170.46" width="9.00" height="1.20" rx="0.60" fill="#2a2a2a" opacity="0.22" filter="url(#b1)"/>
<rect x="167.77" y="164.73" width="10.50" height="3.02" rx="1.51" fill="#1a1a1a" opacity="0.28" filter="url(#b2)"/>
<rect x="167.77" y="161.46" width="10.50" height="1.60" rx="0.80" fill="#2a2a2a" opacity="0.09" filter="url(#b1)"/>
<rect x="168.52" y="170.46" width="9.00" height="1.20" rx="0.60" fill="#2a2a2a" opacity="0.16" filter="url(#b1)"/>
<rect x="180.86" y="164.41" width="10.50" height="3.65" rx="1.82" fill="#1a1a1a" opacity="0.71" filter="url(#b2)"/>
<rect x="180.86" y="161.46" width="10.50" height="1.60" rx="0.80" fill="#2a2a2a" opacity="0.22" filter="url(#b1)"/>
<rect x="181.61" y="170.46" width="9.00" height="1.20" rx="0.60" fill="#2a2a2a" opacity="0.21" filter="url(#b1)"/>
<rect x="193.95" y="164.38" width="10.50" height="3.72" rx="1.86" fill="#1a1a1a" opacity="0.76" filter="url(#b2)"/>
<rect x="193.95" y="161.46" width="10.50" height="1.60" rx="0.80" fill="#2a2a2a" opacity="0.24" filter="url(#b1)"/>
<rect x="194.70" y="170.46" width="9.00" height="1.20" rx="0.60" fill="#2a2a2a" opacity="0.22" filter="url(#b1)"/>
</g>
<clipPath id="c34"><rect x="209.7" y="158.0" width="55.90" height="14.20"/></clipPath>
<rect x="209.70" y="158.00" width="55.90" height="14.20" fill="#c6c6c6"/>
<g clip-path="url(#c34)">
<rect x="213.11" y="164.59" width="10.50" height="3.30" rx="1.65" fill="#1a1a1a" opacity="0.47" filter="url(#b2)"/>
<rect x="213.11" y="161.46" width="10.50" height="1.60" rx="0.80" fill="#2a2a2a" opacity="0.15" filter="url(#b1)"/>
<rect x="213.86" y="170.46" width="9.00" height="1.20" rx="0.60" fill="#2a2a2a" opacity="0.18" filter="url(#b1)"/>
<rect x="226.25" y="164.83" width="10.50" height="2.81" rx="1.41" fill="#1a1a1a" opacity="0.14" filter="url(#b2)"/>
<rect x="226.25" y="161.46" width="10.50" height="1.60" rx="0.80" fill="#2a2a2a" opacity="0.04" filter="url(#b1)"/>
<rect x="227.00" y="170.46" width="9.00" height="1.20" rx="0.60" fill="#2a2a2a" opacity="0.14" filter="url(#b1)"/>
<rect x="239.39" y="164.62" width="10.50" height="3.23" rx="1.61" fill="#1a1a1a" opacity="0.43" filter="url(#b2)"/>
<rect x="239.39" y="161.46" width="10.50" height="1.60" rx="0.80" fill="#2a2a2a" opacity="0.14" filter="url(#b1)"/>
<rect x="240.14" y="170.46" width="9.00" height="1.20" rx="0.60" fill="#2a2a2a" opacity="0.17" filter="url(#b1)"/>
<rect x="252.52" y="164.69" width="10.50" height="3.09" rx="1.54" fill="#1a1a1a" opacity="0.33" filter="url(#b2)"/>
<rect x="252.52" y="161.46" width="10.50" height="1.60" rx="0.80" fill="#2a2a2a" opacity="0.10" filter="url(#b1)"/>
<rect x="253.27" y="170.46" width="9.00" height="1.20" rx="0.60" fill="#2a2a2a" opacity="0.16" filter="url(#b1)"/>
</g>
<clipPath id="c35"><rect x="269.3" y="158.0" width="55.70" height="14.20"/></clipPath>
<rect x="269.30" y="158.00" width="55.70" height="14.20" fill="#c6c6c6"/>
<g clip-path="url(#c35)">
<rect x="272.68" y="164.59" width="10.50" height="3.30" rx="1.65" fill="#1a1a1a" opacity="0.47" filter="url(#b2)"/>
<rect x="272.68" y="161.46" width="10.50" height="1.60" rx="0.80" fill="#2a2a2a" opacity="0.15" filter="url(#b1)"/>
<rect x="273.43" y="170.46" width="9.00" height="1.20" rx="0.60" fill="#2a2a2a" opacity="0.18" filter="url(#b1)"/>
<rect x="285.77" y="164.73" width="10.50" height="3.02" rx="1.51" fill="#1a1a1a" opacity="0.28" filter="url(#b2)"/>
<rect x="285.77" y="161.46" width="10.50" height="1.60" rx="0.80" fill="#2a2a2a" opacity="0.09" filter="url(#b1)"/>
<rect x="286.52" y="170.46" width="9.00" height="1.20" rx="0.60" fill="#2a2a2a" opacity="0.16" filter="url(#b1)"/>
<rect x="298.86" y="164.52" width="10.50" height="3.44" rx="1.72" fill="#1a1a1a" opacity="0.57" filter="url(#b2)"/>
<rect x="298.86" y="161.46" width="10.50" height="1.60" rx="0.80" fill="#2a2a2a" opacity="0.18" filter="url(#b1)"/>
<rect x="299.61" y="170.46" width="9.00" height="1.20" rx="0.60" fill="#2a2a2a" opacity="0.19" filter="url(#b1)"/>
<rect x="311.95" y="164.52" width="10.50" height="3.44" rx="1.72" fill="#1a1a1a" opacity="0.57" filter="url(#b2)"/>
<rect x="311.95" y="161.46" width="10.50" height="1.60" rx="0.80" fill="#2a2a2a" opacity="0.18" filter="url(#b1)"/>
<rect x="312.70" y="170.46" width="9.00" height="1.20" rx="0.60" fill="#2a2a2a" opacity="0.19" filter="url(#b1)"/>
</g>
<clipPath id="c36"><rect x="328.0" y="158.0" width="56.00" height="14.20"/></clipPath>
<rect x="328.00" y="158.00" width="56.00" height="14.20" fill="#b4b4b4"/>
<g clip-path="url(#c36)">
<rect x="331.43" y="164.45" width="10.50" height="3.58" rx="1.79" fill="#1a1a1a" opacity="0.66" filter="url(#b2)"/>
<rect x="331.43" y="161.46" width="10.50" height="1.60" rx="0.80" fill="#2a2a2a" opacity="0.21" filter="url(#b1)"/>
<rect x="332.18" y="170.46" width="9.00" height="1.20" rx="0.60" fill="#2a2a2a" opacity="0.20" filter="url(#b1)"/>
<rect x="344.59" y="164.55" width="10.50" height="3.37" rx="1.69" fill="#1a1a1a" opacity="0.52" filter="url(#b2)"/>
<rect x="344.59" y="161.46" width="10.50" height="1.60" rx="0.80" fill="#2a2a2a" opacity="0.17" filter="url(#b1)"/>
<rect x="345.34" y="170.46" width="9.00" height="1.20" rx="0.60" fill="#2a2a2a" opacity="0.19" filter="url(#b1)"/>
<rect x="357.75" y="164.34" width="10.50" height="3.79" rx="1.90" fill="#1a1a1a" opacity="0.81" filter="url(#b2)"/>
<rect x="357.75" y="161.46" width="10.50" height="1.60" rx="0.80" fill="#2a2a2a" opacity="0.26" filter="url(#b1)"/>
<rect x="358.50" y="170.46" width="9.00" height="1.20" rx="0.60" fill="#2a2a2a" opacity="0.22" filter="url(#b1)"/>
<rect x="370.91" y="164.31" width="10.50" height="3.86" rx="1.93" fill="#1a1a1a" opacity="0.85" filter="url(#b2)"/>
<rect x="370.91" y="161.46" width="10.50" height="1.60" rx="0.80" fill="#2a2a2a" opacity="0.27" filter="url(#b1)"/>
<rect x="371.66" y="170.46" width="9.00" height="1.20" rx="0.60" fill="#2a2a2a" opacity="0.23" filter="url(#b1)"/>
</g>
<text x="389.20" y="167.00" font-size="5.8" font-weight="bold" font-style="normal" text-anchor="start" fill="#000" stroke="#000" stroke-width="0.22">Tfcp2l1</text>
<clipPath id="c37"><rect x="33.0" y="174.4" width="56.10" height="13.50"/></clipPath>
<rect x="33.00" y="174.40" width="56.10" height="13.50" fill="#c6c6c6"/>
<g clip-path="url(#c37)">
<rect x="36.90" y="179.14" width="9.60" height="3.48" rx="1.74" fill="#151515" opacity="0.40" filter="url(#b2)"/>
<rect x="50.12" y="179.19" width="9.53" height="3.37" rx="1.69" fill="#151515" opacity="0.35" filter="url(#b2)"/>
<rect x="63.34" y="179.25" width="9.45" height="3.26" rx="1.63" fill="#151515" opacity="0.30" filter="url(#b2)"/>
<rect x="76.52" y="179.25" width="9.45" height="3.26" rx="1.63" fill="#151515" opacity="0.30" filter="url(#b2)"/>
</g>
<clipPath id="c38"><rect x="92.6" y="174.4" width="55.40" height="13.50"/></clipPath>
<rect x="92.60" y="174.40" width="55.40" height="13.50" fill="#c6c6c6"/>
<g clip-path="url(#c38)">
<rect x="96.39" y="179.14" width="9.60" height="3.48" rx="1.74" fill="#151515" opacity="0.40" filter="url(#b2)"/>
<rect x="109.48" y="179.25" width="9.45" height="3.26" rx="1.63" fill="#151515" opacity="0.30" filter="url(#b2)"/>
<rect x="122.27" y="178.92" width="9.90" height="3.92" rx="1.96" fill="#151515" opacity="0.60" filter="url(#b2)"/>
<rect x="135.14" y="178.70" width="10.20" height="4.36" rx="2.18" fill="#151515" opacity="0.80" filter="url(#b2)"/>
</g>
<clipPath id="c39"><rect x="151.3" y="174.4" width="55.70" height="13.50"/></clipPath>
<rect x="151.30" y="174.40" width="55.70" height="13.50" fill="#c0c0c0"/>
<g clip-path="url(#c39)">
<rect x="154.72" y="178.53" width="10.43" height="4.69" rx="2.34" fill="#151515" opacity="0.95" filter="url(#b2)"/>
<rect x="168.15" y="179.03" width="9.75" height="3.70" rx="1.85" fill="#151515" opacity="0.50" filter="url(#b2)"/>
<rect x="181.09" y="178.81" width="10.05" height="4.14" rx="2.07" fill="#151515" opacity="0.70" filter="url(#b2)"/>
<rect x="194.06" y="178.64" width="10.28" height="4.47" rx="2.24" fill="#151515" opacity="0.85" filter="url(#b2)"/>
</g>
<clipPath id="c40"><rect x="209.7" y="174.4" width="55.90" height="13.50"/></clipPath>
<rect x="209.70" y="174.40" width="55.90" height="13.50" fill="#c6c6c6"/>
<g clip-path="url(#c40)">
<rect x="213.49" y="179.03" width="9.75" height="3.70" rx="1.85" fill="#151515" opacity="0.50" filter="url(#b2)"/>
<rect x="226.55" y="178.92" width="9.90" height="3.92" rx="1.96" fill="#151515" opacity="0.60" filter="url(#b2)"/>
<rect x="239.65" y="178.87" width="9.97" height="4.03" rx="2.02" fill="#151515" opacity="0.65" filter="url(#b2)"/>
<rect x="252.82" y="178.92" width="9.90" height="3.92" rx="1.96" fill="#151515" opacity="0.60" filter="url(#b2)"/>
</g>
<clipPath id="c41"><rect x="269.3" y="174.4" width="55.70" height="13.50"/></clipPath>
<rect x="269.30" y="174.40" width="55.70" height="13.50" fill="#c6c6c6"/>
<g clip-path="url(#c41)">
<rect x="273.17" y="179.19" width="9.53" height="3.37" rx="1.69" fill="#151515" opacity="0.35" filter="url(#b2)"/>
<rect x="286.34" y="179.31" width="9.38" height="3.15" rx="1.58" fill="#151515" opacity="0.25" filter="url(#b2)"/>
<rect x="299.01" y="178.70" width="10.20" height="4.36" rx="2.18" fill="#151515" opacity="0.80" filter="url(#b2)"/>
<rect x="312.03" y="178.59" width="10.35" height="4.58" rx="2.29" fill="#151515" opacity="0.90" filter="url(#b2)"/>
</g>
<clipPath id="c42"><rect x="328.0" y="174.4" width="56.00" height="13.50"/></clipPath>
<rect x="328.00" y="174.40" width="56.00" height="13.50" fill="#b6b6b6"/>
<g clip-path="url(#c42)">
<rect x="331.58" y="178.70" width="10.20" height="4.36" rx="2.18" fill="#151515" opacity="0.80" filter="url(#b2)"/>
<rect x="344.85" y="178.87" width="9.97" height="4.03" rx="2.02" fill="#151515" opacity="0.65" filter="url(#b2)"/>
<rect x="357.90" y="178.70" width="10.20" height="4.36" rx="2.18" fill="#151515" opacity="0.80" filter="url(#b2)"/>
<rect x="370.98" y="178.59" width="10.35" height="4.58" rx="2.29" fill="#151515" opacity="0.90" filter="url(#b2)"/>
<rect x="371.66" y="175.95" width="9.00" height="5.00" rx="2.50" fill="#1a1a1a" opacity="0.60" filter="url(#b2)"/>
</g>
<text x="389.20" y="183.05" font-size="5.8" font-weight="bold" font-style="normal" text-anchor="start" fill="#000" stroke="#000" stroke-width="0.22">Sox2</text>
<clipPath id="c43"><rect x="33.0" y="190.4" width="56.10" height="13.20"/></clipPath>
<rect x="33.00" y="190.40" width="56.10" height="13.20" fill="#c6c6c6"/>
<g clip-path="url(#c43)">
<rect x="35.75" y="196.23" width="11.90" height="2.33" rx="1.17" fill="#0c0c0c" opacity="0.85" filter="url(#b1)"/>
<rect x="48.93" y="196.23" width="11.90" height="2.33" rx="1.17" fill="#0c0c0c" opacity="0.85" filter="url(#b1)"/>
<rect x="62.12" y="196.24" width="11.88" height="2.32" rx="1.16" fill="#0c0c0c" opacity="0.84" filter="url(#b1)"/>
<rect x="75.32" y="196.25" width="11.85" height="2.29" rx="1.15" fill="#0c0c0c" opacity="0.81" filter="url(#b1)"/>
</g>
<clipPath id="c44"><rect x="92.6" y="190.4" width="55.40" height="13.20"/></clipPath>
<rect x="92.60" y="190.40" width="55.40" height="13.20" fill="#c6c6c6"/>
<g clip-path="url(#c44)">
<rect x="95.24" y="196.23" width="11.90" height="2.33" rx="1.17" fill="#0c0c0c" opacity="0.85" filter="url(#b1)"/>
<rect x="108.28" y="196.25" width="11.85" height="2.29" rx="1.15" fill="#0c0c0c" opacity="0.81" filter="url(#b1)"/>
<rect x="121.27" y="196.23" width="11.90" height="2.33" rx="1.17" fill="#0c0c0c" opacity="0.85" filter="url(#b1)"/>
<rect x="134.29" y="196.23" width="11.90" height="2.33" rx="1.17" fill="#0c0c0c" opacity="0.85" filter="url(#b1)"/>
</g>
<clipPath id="c45"><rect x="151.3" y="190.4" width="55.70" height="13.20"/></clipPath>
<rect x="151.30" y="190.40" width="55.70" height="13.20" fill="#c6c6c6"/>
<g clip-path="url(#c45)">
<rect x="153.96" y="196.21" width="11.95" height="2.36" rx="1.18" fill="#0c0c0c" opacity="0.90" filter="url(#b1)"/>
<rect x="167.07" y="196.23" width="11.90" height="2.33" rx="1.17" fill="#0c0c0c" opacity="0.85" filter="url(#b1)"/>
<rect x="180.16" y="196.23" width="11.90" height="2.33" rx="1.17" fill="#0c0c0c" opacity="0.85" filter="url(#b1)"/>
<rect x="193.28" y="196.25" width="11.85" height="2.29" rx="1.15" fill="#0c0c0c" opacity="0.81" filter="url(#b1)"/>
</g>
<clipPath id="c46"><rect x="209.7" y="190.4" width="55.90" height="13.20"/></clipPath>
<rect x="209.70" y="190.40" width="55.90" height="13.20" fill="#c6c6c6"/>
<g clip-path="url(#c46)">
<rect x="212.44" y="196.25" width="11.85" height="2.29" rx="1.15" fill="#0c0c0c" opacity="0.81" filter="url(#b1)"/>
<rect x="225.58" y="196.25" width="11.85" height="2.29" rx="1.15" fill="#0c0c0c" opacity="0.81" filter="url(#b1)"/>
<rect x="238.74" y="196.27" width="11.80" height="2.26" rx="1.13" fill="#0c0c0c" opacity="0.76" filter="url(#b1)"/>
<rect x="251.87" y="196.27" width="11.80" height="2.26" rx="1.13" fill="#0c0c0c" opacity="0.76" filter="url(#b1)"/>
</g>
<clipPath id="c47"><rect x="269.3" y="190.4" width="55.70" height="13.20"/></clipPath>
<rect x="269.30" y="190.40" width="55.70" height="13.20" fill="#c6c6c6"/>
<g clip-path="url(#c47)">
<rect x="271.98" y="196.23" width="11.90" height="2.33" rx="1.17" fill="#0c0c0c" opacity="0.85" filter="url(#b1)"/>
<rect x="285.06" y="196.22" width="11.92" height="2.34" rx="1.17" fill="#0c0c0c" opacity="0.87" filter="url(#b1)"/>
<rect x="298.16" y="196.23" width="11.90" height="2.33" rx="1.17" fill="#0c0c0c" opacity="0.85" filter="url(#b1)"/>
<rect x="311.24" y="196.22" width="11.92" height="2.34" rx="1.17" fill="#0c0c0c" opacity="0.87" filter="url(#b1)"/>
</g>
<clipPath id="c48"><rect x="328.0" y="190.4" width="56.00" height="13.20"/></clipPath>
<rect x="328.00" y="190.40" width="56.00" height="13.20" fill="#c6c6c6"/>
<g clip-path="url(#c48)">
<rect x="330.88" y="196.34" width="11.60" height="2.12" rx="1.06" fill="#0c0c0c" opacity="0.57" filter="url(#b1)"/>
<rect x="344.04" y="196.34" width="11.60" height="2.12" rx="1.06" fill="#0c0c0c" opacity="0.57" filter="url(#b1)"/>
<rect x="357.20" y="196.34" width="11.60" height="2.12" rx="1.06" fill="#0c0c0c" opacity="0.57" filter="url(#b1)"/>
<rect x="370.36" y="196.34" width="11.60" height="2.12" rx="1.06" fill="#0c0c0c" opacity="0.57" filter="url(#b1)"/>
</g>
<text x="389.20" y="198.90" font-size="5.8" font-weight="bold" font-style="normal" text-anchor="start" fill="#000" stroke="#000" stroke-width="0.22">β-Actin</text>
<text x="426.00" y="8.60" font-size="11.8" font-weight="bold" font-style="normal" text-anchor="start" fill="#000" stroke="#000" stroke-width="0.22">b</text>
<text x="585.00" y="4.80" font-size="5.85" font-weight="bold" font-style="italic" text-anchor="middle" fill="#000" stroke="#000" stroke-width="0.22">Dnmt3L</text>
<line x1="516.00" y1="10.40" x2="651.00" y2="10.40" stroke="#000" stroke-width="0.9"/>
<text x="487.00" y="19.80" font-size="5.85" font-weight="bold" font-style="normal" text-anchor="middle" fill="#000" stroke="#000" stroke-width="0.22">ET</text>
<line x1="468.00" y1="24.50" x2="506.00" y2="24.50" stroke="#000" stroke-width="0.9"/>
<text x="535.25" y="19.80" font-size="5.85" font-weight="bold" font-style="normal" text-anchor="middle" fill="#000" stroke="#000" stroke-width="0.22">WT</text>
<line x1="516.00" y1="24.50" x2="554.50" y2="24.50" stroke="#000" stroke-width="0.9"/>
<text x="584.05" y="19.80" font-size="5.85" font-weight="bold" font-style="normal" text-anchor="middle" fill="#000" stroke="#000" stroke-width="0.22">K238R</text>
<line x1="564.60" y1="24.50" x2="603.50" y2="24.50" stroke="#000" stroke-width="0.9"/>
<text x="632.10" y="19.80" font-size="5.85" font-weight="bold" font-style="normal" text-anchor="middle" fill="#000" stroke="#000" stroke-width="0.22">K412R</text>
<line x1="612.60" y1="24.50" x2="651.60" y2="24.50" stroke="#000" stroke-width="0.9"/>
<text x="439.00" y="32.00" font-size="5.8" font-weight="bold" font-style="normal" text-anchor="start" fill="#000" stroke="#000" stroke-width="0.22">Passage  :</text>
<text x="468.78" y="32.00" font-size="5.8" font-weight="bold" font-style="normal" text-anchor="middle" fill="#000" stroke="#000" stroke-width="0.22">1</text>
<text x="476.35" y="32.00" font-size="5.8" font-weight="bold" font-style="normal" text-anchor="middle" fill="#000" stroke="#000" stroke-width="0.22">5</text>
<text x="483.92" y="32.00" font-size="5.8" font-weight="bold" font-style="normal" text-anchor="middle" fill="#000" stroke="#000" stroke-width="0.22">10</text>
<text x="491.48" y="32.00" font-size="5.8" font-weight="bold" font-style="normal" text-anchor="middle" fill="#000" stroke="#000" stroke-width="0.22">13</text>
<text x="499.05" y="32.00" font-size="5.8" font-weight="bold" font-style="normal" text-anchor="middle" fill="#000" stroke="#000" stroke-width="0.22">15</text>
<text x="506.62" y="32.00" font-size="5.8" font-weight="bold" font-style="normal" text-anchor="middle" fill="#000" stroke="#000" stroke-width="0.22">20</text>
<text x="516.98" y="32.00" font-size="5.8" font-weight="bold" font-style="normal" text-anchor="middle" fill="#000" stroke="#000" stroke-width="0.22">1</text>
<text x="524.55" y="32.00" font-size="5.8" font-weight="bold" font-style="normal" text-anchor="middle" fill="#000" stroke="#000" stroke-width="0.22">5</text>
<text x="532.12" y="32.00" font-size="5.8" font-weight="bold" font-style="normal" text-anchor="middle" fill="#000" stroke="#000" stroke-width="0.22">10</text>
<text x="539.68" y="32.00" font-size="5.8" font-weight="bold" font-style="normal" text-anchor="middle" fill="#000" stroke="#000" stroke-width="0.22">13</text>
<text x="547.25" y="32.00" font-size="5.8" font-weight="bold" font-style="normal" text-anchor="middle" fill="#000" stroke="#000" stroke-width="0.22">15</text>
<text x="554.82" y="32.00" font-size="5.8" font-weight="bold" font-style="normal" text-anchor="middle" fill="#000" stroke="#000" stroke-width="0.22">20</text>
<text x="565.08" y="32.00" font-size="5.8" font-weight="bold" font-style="normal" text-anchor="middle" fill="#000" stroke="#000" stroke-width="0.22">1</text>
<text x="572.65" y="32.00" font-size="5.8" font-weight="bold" font-style="normal" text-anchor="middle" fill="#000" stroke="#000" stroke-width="0.22">5</text>
<text x="580.22" y="32.00" font-size="5.8" font-weight="bold" font-style="normal" text-anchor="middle" fill="#000" stroke="#000" stroke-width="0.22">10</text>
<text x="587.78" y="32.00" font-size="5.8" font-weight="bold" font-style="normal" text-anchor="middle" fill="#000" stroke="#000" stroke-width="0.22">13</text>
<text x="595.35" y="32.00" font-size="5.8" font-weight="bold" font-style="normal" text-anchor="middle" fill="#000" stroke="#000" stroke-width="0.22">15</text>
<text x="602.92" y="32.00" font-size="5.8" font-weight="bold" font-style="normal" text-anchor="middle" fill="#000" stroke="#000" stroke-width="0.22">20</text>
<text x="613.28" y="32.00" font-size="5.8" font-weight="bold" font-style="normal" text-anchor="middle" fill="#000" stroke="#000" stroke-width="0.22">1</text>
<text x="620.85" y="32.00" font-size="5.8" font-weight="bold" font-style="normal" text-anchor="middle" fill="#000" stroke="#000" stroke-width="0.22">5</text>
<text x="628.42" y="32.00" font-size="5.8" font-weight="bold" font-style="normal" text-anchor="middle" fill="#000" stroke="#000" stroke-width="0.22">10</text>
<text x="635.98" y="32.00" font-size="5.8" font-weight="bold" font-style="normal" text-anchor="middle" fill="#000" stroke="#000" stroke-width="0.22">13</text>
<text x="643.55" y="32.00" font-size="5.8" font-weight="bold" font-style="normal" text-anchor="middle" fill="#000" stroke="#000" stroke-width="0.22">15</text>
<text x="651.12" y="32.00" font-size="5.8" font-weight="bold" font-style="normal" text-anchor="middle" fill="#000" stroke="#000" stroke-width="0.22">20</text>
<rect x="464.10" y="36.40" width="47.20" height="47.28" fill="#d8d8d8"/>
<rect x="465.00" y="37.30" width="7.57" height="7.58" fill="#b89cf6" stroke="#1a1a3a" stroke-width="0.35"/>
<rect x="472.57" y="37.30" width="7.57" height="7.58" fill="#8c71f5" stroke="#1a1a3a" stroke-width="0.35"/>
<rect x="480.13" y="37.30" width="7.57" height="7.58" fill="#f4b7da" stroke="#1a1a3a" stroke-width="0.35"/>
<rect x="487.70" y="37.30" width="7.57" height="7.58" fill="#281efb" stroke="#1a1a3a" stroke-width="0.35"/>
<rect x="495.27" y="37.30" width="7.57" height="7.58" fill="#f4b7da" stroke="#1a1a3a" stroke-width="0.35"/>
<rect x="502.83" y="37.30" width="7.57" height="7.58" fill="#5a43f5" stroke="#1a1a3a" stroke-width="0.35"/>
<rect x="465.00" y="44.88" width="7.57" height="7.58" fill="#b89cf6" stroke="#1a1a3a" stroke-width="0.35"/>
<rect x="472.57" y="44.88" width="7.57" height="7.58" fill="#e9cbf6" stroke="#1a1a3a" stroke-width="0.35"/>
<rect x="480.13" y="44.88" width="7.57" height="7.58" fill="#b89cf6" stroke="#1a1a3a" stroke-width="0.35"/>
<rect x="487.70" y="44.88" width="7.57" height="7.58" fill="#5a43f5" stroke="#1a1a3a" stroke-width="0.35"/>
<rect x="495.27" y="44.88" width="7.57" height="7.58" fill="#b89cf6" stroke="#1a1a3a" stroke-width="0.35"/>
<rect x="502.83" y="44.88" width="7.57" height="7.58" fill="#281efb" stroke="#1a1a3a" stroke-width="0.35"/>
<rect x="465.00" y="52.46" width="7.57" height="7.58" fill="#f4b7da" stroke="#1a1a3a" stroke-width="0.35"/>
<rect x="472.57" y="52.46" width="7.57" height="7.58" fill="#f68fad" stroke="#1a1a3a" stroke-width="0.35"/>
<rect x="480.13" y="52.46" width="7.57" height="7.58" fill="#f75166" stroke="#1a1a3a" stroke-width="0.35"/>
<rect x="487.70" y="52.46" width="7.57" height="7.58" fill="#e9cbf6" stroke="#1a1a3a" stroke-width="0.35"/>
<rect x="495.27" y="52.46" width="7.57" height="7.58" fill="#f68fad" stroke="#1a1a3a" stroke-width="0.35"/>
<rect x="502.83" y="52.46" width="7.57" height="7.58" fill="#b89cf6" stroke="#1a1a3a" stroke-width="0.35"/>
<rect x="465.00" y="60.04" width="7.57" height="7.58" fill="#f4b7da" stroke="#1a1a3a" stroke-width="0.35"/>
<rect x="472.57" y="60.04" width="7.57" height="7.58" fill="#8c71f5" stroke="#1a1a3a" stroke-width="0.35"/>
<rect x="480.13" y="60.04" width="7.57" height="7.58" fill="#e9cbf6" stroke="#1a1a3a" stroke-width="0.35"/>
<rect x="487.70" y="60.04" width="7.57" height="7.58" fill="#5a43f5" stroke="#1a1a3a" stroke-width="0.35"/>
<rect x="495.27" y="60.04" width="7.57" height="7.58" fill="#f4b7da" stroke="#1a1a3a" stroke-width="0.35"/>
<rect x="502.83" y="60.04" width="7.57" height="7.58" fill="#f75166" stroke="#1a1a3a" stroke-width="0.35"/>
<rect x="465.00" y="67.62" width="7.57" height="7.58" fill="#b89cf6" stroke="#1a1a3a" stroke-width="0.35"/>
<rect x="472.57" y="67.62" width="7.57" height="7.58" fill="#e9cbf6" stroke="#1a1a3a" stroke-width="0.35"/>
<rect x="480.13" y="67.62" width="7.57" height="7.58" fill="#5a43f5" stroke="#1a1a3a" stroke-width="0.35"/>
<rect x="487.70" y="67.62" width="7.57" height="7.58" fill="#8c71f5" stroke="#1a1a3a" stroke-width="0.35"/>
<rect x="495.27" y="67.62" width="7.57" height="7.58" fill="#5a43f5" stroke="#1a1a3a" stroke-width="0.35"/>
<rect x="502.83" y="67.62" width="7.57" height="7.58" fill="#281efb" stroke="#1a1a3a" stroke-width="0.35"/>
<rect x="465.00" y="75.20" width="7.57" height="7.58" fill="#f68fad" stroke="#1a1a3a" stroke-width="0.35"/>
<rect x="472.57" y="75.20" width="7.57" height="7.58" fill="#0000ff" stroke="#1a1a3a" stroke-width="0.35"/>
<rect x="480.13" y="75.20" width="7.57" height="7.58" fill="#f4b7da" stroke="#1a1a3a" stroke-width="0.35"/>
<rect x="487.70" y="75.20" width="7.57" height="7.58" fill="#5a43f5" stroke="#1a1a3a" stroke-width="0.35"/>
<rect x="495.27" y="75.20" width="7.57" height="7.58" fill="#8c71f5" stroke="#1a1a3a" stroke-width="0.35"/>
<rect x="502.83" y="75.20" width="7.57" height="7.58" fill="#281efb" stroke="#1a1a3a" stroke-width="0.35"/>
<rect x="512.30" y="36.40" width="47.20" height="47.28" fill="#d8d8d8"/>
<rect x="513.20" y="37.30" width="7.57" height="7.58" fill="#e9cbf6" stroke="#1a1a3a" stroke-width="0.35"/>
<rect x="520.77" y="37.30" width="7.57" height="7.58" fill="#f68fad" stroke="#1a1a3a" stroke-width="0.35"/>
<rect x="528.33" y="37.30" width="7.57" height="7.58" fill="#f4b7da" stroke="#1a1a3a" stroke-width="0.35"/>
<rect x="535.90" y="37.30" width="7.57" height="7.58" fill="#b89cf6" stroke="#1a1a3a" stroke-width="0.35"/>
<rect x="543.47" y="37.30" width="7.57" height="7.58" fill="#ff1610" stroke="#1a1a3a" stroke-width="0.35"/>
<rect x="551.03" y="37.30" width="7.57" height="7.58" fill="#f75166" stroke="#1a1a3a" stroke-width="0.35"/>
<rect x="513.20" y="44.88" width="7.57" height="7.58" fill="#e9cbf6" stroke="#1a1a3a" stroke-width="0.35"/>
<rect x="520.77" y="44.88" width="7.57" height="7.58" fill="#f68fad" stroke="#1a1a3a" stroke-width="0.35"/>
<rect x="528.33" y="44.88" width="7.57" height="7.58" fill="#ff1610" stroke="#1a1a3a" stroke-width="0.35"/>
<rect x="535.90" y="44.88" width="7.57" height="7.58" fill="#f4b7da" stroke="#1a1a3a" stroke-width="0.35"/>
<rect x="543.47" y="44.88" width="7.57" height="7.58" fill="#ff1610" stroke="#1a1a3a" stroke-width="0.35"/>
<rect x="551.03" y="44.88" width="7.57" height="7.58" fill="#f68fad" stroke="#1a1a3a" stroke-width="0.35"/>
<rect x="513.20" y="52.46" width="7.57" height="7.58" fill="#f4b7da" stroke="#1a1a3a" stroke-width="0.35"/>
<rect x="520.77" y="52.46" width="7.57" height="7.58" fill="#f68fad" stroke="#1a1a3a" stroke-width="0.35"/>
<rect x="528.33" y="52.46" width="7.57" height="7.58" fill="#f68fad" stroke="#1a1a3a" stroke-width="0.35"/>
<rect x="535.90" y="52.46" width="7.57" height="7.58" fill="#b89cf6" stroke="#1a1a3a" stroke-width="0.35"/>
<rect x="543.47" y="52.46" width="7.57" height="7.58" fill="#8c71f5" stroke="#1a1a3a" stroke-width="0.35"/>
<rect x="551.03" y="52.46" width="7.57" height="7.58" fill="#b89cf6" stroke="#1a1a3a" stroke-width="0.35"/>
<rect x="513.20" y="60.04" width="7.57" height="7.58" fill="#b89cf6" stroke="#1a1a3a" stroke-width="0.35"/>
<rect x="520.77" y="60.04" width="7.57" height="7.58" fill="#5a43f5" stroke="#1a1a3a" stroke-width="0.35"/>
<rect x="528.33" y="60.04" width="7.57" height="7.58" fill="#281efb" stroke="#1a1a3a" stroke-width="0.35"/>
<rect x="535.90" y="60.04" width="7.57" height="7.58" fill="#0000ff" stroke="#1a1a3a" stroke-width="0.35"/>
<rect x="543.47" y="60.04" width="7.57" height="7.58" fill="#f68fad" stroke="#1a1a3a" stroke-width="0.35"/>
<rect x="551.03" y="60.04" width="7.57" height="7.58" fill="#e9cbf6" stroke="#1a1a3a" stroke-width="0.35"/>
<rect x="513.20" y="67.62" width="7.57" height="7.58" fill="#e9cbf6" stroke="#1a1a3a" stroke-width="0.35"/>
<rect x="520.77" y="67.62" width="7.57" height="7.58" fill="#f4b7da" stroke="#1a1a3a" stroke-width="0.35"/>
<rect x="528.33" y="67.62" width="7.57" height="7.58" fill="#8c71f5" stroke="#1a1a3a" stroke-width="0.35"/>
<rect x="535.90" y="67.62" width="7.57" height="7.58" fill="#ff1610" stroke="#1a1a3a" stroke-width="0.35"/>
<rect x="543.47" y="67.62" width="7.57" height="7.58" fill="#f68fad" stroke="#1a1a3a" stroke-width="0.35"/>
<rect x="551.03" y="67.62" width="7.57" height="7.58" fill="#f68fad" stroke="#1a1a3a" stroke-width="0.35"/>
<rect x="513.20" y="75.20" width="7.57" height="7.58" fill="#b89cf6" stroke="#1a1a3a" stroke-width="0.35"/>
<rect x="520.77" y="75.20" width="7.57" height="7.58" fill="#5a43f5" stroke="#1a1a3a" stroke-width="0.35"/>
<rect x="528.33" y="75.20" width="7.57" height="7.58" fill="#ff1610" stroke="#1a1a3a" stroke-width="0.35"/>
<rect x="535.90" y="75.20" width="7.57" height="7.58" fill="#281efb" stroke="#1a1a3a" stroke-width="0.35"/>
<rect x="543.47" y="75.20" width="7.57" height="7.58" fill="#8c71f5" stroke="#1a1a3a" stroke-width="0.35"/>
<rect x="551.03" y="75.20" width="7.57" height="7.58" fill="#8c71f5" stroke="#1a1a3a" stroke-width="0.35"/>
<rect x="560.40" y="36.40" width="47.20" height="47.28" fill="#d8d8d8"/>
<rect x="561.30" y="37.30" width="7.57" height="7.58" fill="#8c71f5" stroke="#1a1a3a" stroke-width="0.35"/>
<rect x="568.87" y="37.30" width="7.57" height="7.58" fill="#8c71f5" stroke="#1a1a3a" stroke-width="0.35"/>
<rect x="576.43" y="37.30" width="7.57" height="7.58" fill="#ff1610" stroke="#1a1a3a" stroke-width="0.35"/>
<rect x="584.00" y="37.30" width="7.57" height="7.58" fill="#281efb" stroke="#1a1a3a" stroke-width="0.35"/>
<rect x="591.57" y="37.30" width="7.57" height="7.58" fill="#e9cbf6" stroke="#1a1a3a" stroke-width="0.35"/>
<rect x="599.13" y="37.30" width="7.57" height="7.58" fill="#5a43f5" stroke="#1a1a3a" stroke-width="0.35"/>
<rect x="561.30" y="44.88" width="7.57" height="7.58" fill="#ff1610" stroke="#1a1a3a" stroke-width="0.35"/>
<rect x="568.87" y="44.88" width="7.57" height="7.58" fill="#b89cf6" stroke="#1a1a3a" stroke-width="0.35"/>
<rect x="576.43" y="44.88" width="7.57" height="7.58" fill="#8c71f5" stroke="#1a1a3a" stroke-width="0.35"/>
<rect x="584.00" y="44.88" width="7.57" height="7.58" fill="#281efb" stroke="#1a1a3a" stroke-width="0.35"/>
<rect x="591.57" y="44.88" width="7.57" height="7.58" fill="#8c71f5" stroke="#1a1a3a" stroke-width="0.35"/>
<rect x="599.13" y="44.88" width="7.57" height="7.58" fill="#281efb" stroke="#1a1a3a" stroke-width="0.35"/>
<rect x="561.30" y="52.46" width="7.57" height="7.58" fill="#5a43f5" stroke="#1a1a3a" stroke-width="0.35"/>
<rect x="568.87" y="52.46" width="7.57" height="7.58" fill="#f4b7da" stroke="#1a1a3a" stroke-width="0.35"/>
<rect x="576.43" y="52.46" width="7.57" height="7.58" fill="#8c71f5" stroke="#1a1a3a" stroke-width="0.35"/>
<rect x="584.00" y="52.46" width="7.57" height="7.58" fill="#5a43f5" stroke="#1a1a3a" stroke-width="0.35"/>
<rect x="591.57" y="52.46" width="7.57" height="7.58" fill="#5a43f5" stroke="#1a1a3a" stroke-width="0.35"/>
<rect x="599.13" y="52.46" width="7.57" height="7.58" fill="#5a43f5" stroke="#1a1a3a" stroke-width="0.35"/>
<rect x="561.30" y="60.04" width="7.57" height="7.58" fill="#b89cf6" stroke="#1a1a3a" stroke-width="0.35"/>
<rect x="568.87" y="60.04" width="7.57" height="7.58" fill="#f4b7da" stroke="#1a1a3a" stroke-width="0.35"/>
<rect x="576.43" y="60.04" width="7.57" height="7.58" fill="#f4b7da" stroke="#1a1a3a" stroke-width="0.35"/>
<rect x="584.00" y="60.04" width="7.57" height="7.58" fill="#5a43f5" stroke="#1a1a3a" stroke-width="0.35"/>
<rect x="591.57" y="60.04" width="7.57" height="7.58" fill="#ff1610" stroke="#1a1a3a" stroke-width="0.35"/>
<rect x="599.13" y="60.04" width="7.57" height="7.58" fill="#f4b7da" stroke="#1a1a3a" stroke-width="0.35"/>
<rect x="561.30" y="67.62" width="7.57" height="7.58" fill="#f75166" stroke="#1a1a3a" stroke-width="0.35"/>
<rect x="568.87" y="67.62" width="7.57" height="7.58" fill="#f4b7da" stroke="#1a1a3a" stroke-width="0.35"/>
<rect x="576.43" y="67.62" width="7.57" height="7.58" fill="#0000ff" stroke="#1a1a3a" stroke-width="0.35"/>
<rect x="584.00" y="67.62" width="7.57" height="7.58" fill="#b89cf6" stroke="#1a1a3a" stroke-width="0.35"/>
<rect x="591.57" y="67.62" width="7.57" height="7.58" fill="#5a43f5" stroke="#1a1a3a" stroke-width="0.35"/>
<rect x="599.13" y="67.62" width="7.57" height="7.58" fill="#5a43f5" stroke="#1a1a3a" stroke-width="0.35"/>
<rect x="561.30" y="75.20" width="7.57" height="7.58" fill="#e9cbf6" stroke="#1a1a3a" stroke-width="0.35"/>
<rect x="568.87" y="75.20" width="7.57" height="7.58" fill="#0000ff" stroke="#1a1a3a" stroke-width="0.35"/>
<rect x="576.43" y="75.20" width="7.57" height="7.58" fill="#8c71f5" stroke="#1a1a3a" stroke-width="0.35"/>
<rect x="584.00" y="75.20" width="7.57" height="7.58" fill="#0000ff" stroke="#1a1a3a" stroke-width="0.35"/>
<rect x="591.57" y="75.20" width="7.57" height="7.58" fill="#0000ff" stroke="#1a1a3a" stroke-width="0.35"/>
<rect x="599.13" y="75.20" width="7.57" height="7.58" fill="#281efb" stroke="#1a1a3a" stroke-width="0.35"/>
<rect x="608.60" y="36.40" width="47.20" height="47.28" fill="#d8d8d8"/>
<rect x="609.50" y="37.30" width="7.57" height="7.58" fill="#0000ff" stroke="#1a1a3a" stroke-width="0.35"/>
<rect x="617.07" y="37.30" width="7.57" height="7.58" fill="#8c71f5" stroke="#1a1a3a" stroke-width="0.35"/>
<rect x="624.63" y="37.30" width="7.57" height="7.58" fill="#e9cbf6" stroke="#1a1a3a" stroke-width="0.35"/>
<rect x="632.20" y="37.30" width="7.57" height="7.58" fill="#0000ff" stroke="#1a1a3a" stroke-width="0.35"/>
<rect x="639.77" y="37.30" width="7.57" height="7.58" fill="#e9cbf6" stroke="#1a1a3a" stroke-width="0.35"/>
<rect x="647.33" y="37.30" width="7.57" height="7.58" fill="#5a43f5" stroke="#1a1a3a" stroke-width="0.35"/>
<rect x="609.50" y="44.88" width="7.57" height="7.58" fill="#5a43f5" stroke="#1a1a3a" stroke-width="0.35"/>
<rect x="617.07" y="44.88" width="7.57" height="7.58" fill="#8c71f5" stroke="#1a1a3a" stroke-width="0.35"/>
<rect x="624.63" y="44.88" width="7.57" height="7.58" fill="#8c71f5" stroke="#1a1a3a" stroke-width="0.35"/>
<rect x="632.20" y="44.88" width="7.57" height="7.58" fill="#5a43f5" stroke="#1a1a3a" stroke-width="0.35"/>
<rect x="639.77" y="44.88" width="7.57" height="7.58" fill="#8c71f5" stroke="#1a1a3a" stroke-width="0.35"/>
<rect x="647.33" y="44.88" width="7.57" height="7.58" fill="#5a43f5" stroke="#1a1a3a" stroke-width="0.35"/>
<rect x="609.50" y="52.46" width="7.57" height="7.58" fill="#5a43f5" stroke="#1a1a3a" stroke-width="0.35"/>
<rect x="617.07" y="52.46" width="7.57" height="7.58" fill="#e9cbf6" stroke="#1a1a3a" stroke-width="0.35"/>
<rect x="624.63" y="52.46" width="7.57" height="7.58" fill="#8c71f5" stroke="#1a1a3a" stroke-width="0.35"/>
<rect x="632.20" y="52.46" width="7.57" height="7.58" fill="#5a43f5" stroke="#1a1a3a" stroke-width="0.35"/>
<rect x="639.77" y="52.46" width="7.57" height="7.58" fill="#8c71f5" stroke="#1a1a3a" stroke-width="0.35"/>
<rect x="647.33" y="52.46" width="7.57" height="7.58" fill="#5a43f5" stroke="#1a1a3a" stroke-width="0.35"/>
<rect x="609.50" y="60.04" width="7.57" height="7.58" fill="#b89cf6" stroke="#1a1a3a" stroke-width="0.35"/>
<rect x="617.07" y="60.04" width="7.57" height="7.58" fill="#f68fad" stroke="#1a1a3a" stroke-width="0.35"/>
<rect x="624.63" y="60.04" width="7.57" height="7.58" fill="#f75166" stroke="#1a1a3a" stroke-width="0.35"/>
<rect x="632.20" y="60.04" width="7.57" height="7.58" fill="#e9cbf6" stroke="#1a1a3a" stroke-width="0.35"/>
<rect x="639.77" y="60.04" width="7.57" height="7.58" fill="#ff1610" stroke="#1a1a3a" stroke-width="0.35"/>
<rect x="647.33" y="60.04" width="7.57" height="7.58" fill="#e9cbf6" stroke="#1a1a3a" stroke-width="0.35"/>
<rect x="609.50" y="67.62" width="7.57" height="7.58" fill="#f4b7da" stroke="#1a1a3a" stroke-width="0.35"/>
<rect x="617.07" y="67.62" width="7.57" height="7.58" fill="#281efb" stroke="#1a1a3a" stroke-width="0.35"/>
<rect x="624.63" y="67.62" width="7.57" height="7.58" fill="#281efb" stroke="#1a1a3a" stroke-width="0.35"/>
<rect x="632.20" y="67.62" width="7.57" height="7.58" fill="#e9cbf6" stroke="#1a1a3a" stroke-width="0.35"/>
<rect x="639.77" y="67.62" width="7.57" height="7.58" fill="#5a43f5" stroke="#1a1a3a" stroke-width="0.35"/>
<rect x="647.33" y="67.62" width="7.57" height="7.58" fill="#8c71f5" stroke="#1a1a3a" stroke-width="0.35"/>
<rect x="609.50" y="75.20" width="7.57" height="7.58" fill="#0000ff" stroke="#1a1a3a" stroke-width="0.35"/>
<rect x="617.07" y="75.20" width="7.57" height="7.58" fill="#8c71f5" stroke="#1a1a3a" stroke-width="0.35"/>
<rect x="624.63" y="75.20" width="7.57" height="7.58" fill="#b89cf6" stroke="#1a1a3a" stroke-width="0.35"/>
<rect x="632.20" y="75.20" width="7.57" height="7.58" fill="#281efb" stroke="#1a1a3a" stroke-width="0.35"/>
<rect x="639.77" y="75.20" width="7.57" height="7.58" fill="#b89cf6" stroke="#1a1a3a" stroke-width="0.35"/>
<rect x="647.33" y="75.20" width="7.57" height="7.58" fill="#0000ff" stroke="#1a1a3a" stroke-width="0.35"/>
<text x="462.00" y="42.99" font-size="5.8" font-weight="bold" font-style="italic" text-anchor="end" fill="#000" stroke="#000" stroke-width="0.22">Dnmt3A</text>
<text x="462.00" y="50.57" font-size="5.8" font-weight="bold" font-style="italic" text-anchor="end" fill="#000" stroke="#000" stroke-width="0.22">Dnm3B</text>
<text x="462.00" y="58.15" font-size="5.8" font-weight="bold" font-style="italic" text-anchor="end" fill="#000" stroke="#000" stroke-width="0.22">Dnmt1</text>
<text x="462.00" y="65.73" font-size="5.8" font-weight="bold" font-style="italic" text-anchor="end" fill="#000" stroke="#000" stroke-width="0.22">Uhrf1</text>
<text x="462.00" y="73.31" font-size="5.8" font-weight="bold" font-style="italic" text-anchor="end" fill="#000" stroke="#000" stroke-width="0.22">G9a</text>
<text x="462.00" y="80.89" font-size="5.8" font-weight="bold" font-style="italic" text-anchor="end" fill="#000" stroke="#000" stroke-width="0.22">Sirt1</text>
<line x1="660.10" y1="37.30" x2="660.10" y2="82.78" stroke="#ff1a1a" stroke-width="1.8"/>
<text x="665.50" y="60.04" font-size="5.85" font-weight="bold" font-style="normal" text-anchor="middle" fill="#000" stroke="#000" stroke-width="0.22" transform="rotate(90 665.50 60.04)">Dnmts</text>
<rect x="464.10" y="84.90" width="47.20" height="24.54" fill="#d8d8d8"/>
<rect x="465.00" y="85.80" width="7.57" height="7.58" fill="#ff1610" stroke="#1a1a3a" stroke-width="0.35"/>
<rect x="472.57" y="85.80" width="7.57" height="7.58" fill="#b89cf6" stroke="#1a1a3a" stroke-width="0.35"/>
<rect x="480.13" y="85.80" width="7.57" height="7.58" fill="#f68fad" stroke="#1a1a3a" stroke-width="0.35"/>
<rect x="487.70" y="85.80" width="7.57" height="7.58" fill="#e9cbf6" stroke="#1a1a3a" stroke-width="0.35"/>
<rect x="495.27" y="85.80" width="7.57" height="7.58" fill="#f4b7da" stroke="#1a1a3a" stroke-width="0.35"/>
<rect x="502.83" y="85.80" width="7.57" height="7.58" fill="#e9cbf6" stroke="#1a1a3a" stroke-width="0.35"/>
<rect x="465.00" y="93.38" width="7.57" height="7.58" fill="#f4b7da" stroke="#1a1a3a" stroke-width="0.35"/>
<rect x="472.57" y="93.38" width="7.57" height="7.58" fill="#f4b7da" stroke="#1a1a3a" stroke-width="0.35"/>
<rect x="480.13" y="93.38" width="7.57" height="7.58" fill="#e9cbf6" stroke="#1a1a3a" stroke-width="0.35"/>
<rect x="487.70" y="93.38" width="7.57" height="7.58" fill="#8c71f5" stroke="#1a1a3a" stroke-width="0.35"/>
<rect x="495.27" y="93.38" width="7.57" height="7.58" fill="#f68fad" stroke="#1a1a3a" stroke-width="0.35"/>
<rect x="502.83" y="93.38" width="7.57" height="7.58" fill="#281efb" stroke="#1a1a3a" stroke-width="0.35"/>
<rect x="465.00" y="100.96" width="7.57" height="7.58" fill="#b89cf6" stroke="#1a1a3a" stroke-width="0.35"/>
<rect x="472.57" y="100.96" width="7.57" height="7.58" fill="#b89cf6" stroke="#1a1a3a" stroke-width="0.35"/>
<rect x="480.13" y="100.96" width="7.57" height="7.58" fill="#f75166" stroke="#1a1a3a" stroke-width="0.35"/>
<rect x="487.70" y="100.96" width="7.57" height="7.58" fill="#e9cbf6" stroke="#1a1a3a" stroke-width="0.35"/>
<rect x="495.27" y="100.96" width="7.57" height="7.58" fill="#f68fad" stroke="#1a1a3a" stroke-width="0.35"/>
<rect x="502.83" y="100.96" width="7.57" height="7.58" fill="#f4b7da" stroke="#1a1a3a" stroke-width="0.35"/>
<rect x="512.30" y="84.90" width="47.20" height="24.54" fill="#d8d8d8"/>
<rect x="513.20" y="85.80" width="7.57" height="7.58" fill="#5a43f5" stroke="#1a1a3a" stroke-width="0.35"/>
<rect x="520.77" y="85.80" width="7.57" height="7.58" fill="#281efb" stroke="#1a1a3a" stroke-width="0.35"/>
<rect x="528.33" y="85.80" width="7.57" height="7.58" fill="#281efb" stroke="#1a1a3a" stroke-width="0.35"/>
<rect x="535.90" y="85.80" width="7.57" height="7.58" fill="#0000ff" stroke="#1a1a3a" stroke-width="0.35"/>
<rect x="543.47" y="85.80" width="7.57" height="7.58" fill="#281efb" stroke="#1a1a3a" stroke-width="0.35"/>
<rect x="551.03" y="85.80" width="7.57" height="7.58" fill="#0000ff" stroke="#1a1a3a" stroke-width="0.35"/>
<rect x="513.20" y="93.38" width="7.57" height="7.58" fill="#5a43f5" stroke="#1a1a3a" stroke-width="0.35"/>
<rect x="520.77" y="93.38" width="7.57" height="7.58" fill="#f4b7da" stroke="#1a1a3a" stroke-width="0.35"/>
<rect x="528.33" y="93.38" width="7.57" height="7.58" fill="#e9cbf6" stroke="#1a1a3a" stroke-width="0.35"/>
<rect x="535.90" y="93.38" width="7.57" height="7.58" fill="#0000ff" stroke="#1a1a3a" stroke-width="0.35"/>
<rect x="543.47" y="93.38" width="7.57" height="7.58" fill="#281efb" stroke="#1a1a3a" stroke-width="0.35"/>
<rect x="551.03" y="93.38" width="7.57" height="7.58" fill="#0000ff" stroke="#1a1a3a" stroke-width="0.35"/>
<rect x="513.20" y="100.96" width="7.57" height="7.58" fill="#281efb" stroke="#1a1a3a" stroke-width="0.35"/>
<rect x="520.77" y="100.96" width="7.57" height="7.58" fill="#0000ff" stroke="#1a1a3a" stroke-width="0.35"/>
<rect x="528.33" y="100.96" width="7.57" height="7.58" fill="#5a43f5" stroke="#1a1a3a" stroke-width="0.35"/>
<rect x="535.90" y="100.96" width="7.57" height="7.58" fill="#281efb" stroke="#1a1a3a" stroke-width="0.35"/>
<rect x="543.47" y="100.96" width="7.57" height="7.58" fill="#5a43f5" stroke="#1a1a3a" stroke-width="0.35"/>
<rect x="551.03" y="100.96" width="7.57" height="7.58" fill="#5a43f5" stroke="#1a1a3a" stroke-width="0.35"/>
<rect x="560.40" y="84.90" width="47.20" height="24.54" fill="#d8d8d8"/>
<rect x="561.30" y="85.80" width="7.57" height="7.58" fill="#f4b7da" stroke="#1a1a3a" stroke-width="0.35"/>
<rect x="568.87" y="85.80" width="7.57" height="7.58" fill="#e9cbf6" stroke="#1a1a3a" stroke-width="0.35"/>
<rect x="576.43" y="85.80" width="7.57" height="7.58" fill="#e9cbf6" stroke="#1a1a3a" stroke-width="0.35"/>
<rect x="584.00" y="85.80" width="7.57" height="7.58" fill="#f68fad" stroke="#1a1a3a" stroke-width="0.35"/>
<rect x="591.57" y="85.80" width="7.57" height="7.58" fill="#f68fad" stroke="#1a1a3a" stroke-width="0.35"/>
<rect x="599.13" y="85.80" width="7.57" height="7.58" fill="#f68fad" stroke="#1a1a3a" stroke-width="0.35"/>
<rect x="561.30" y="93.38" width="7.57" height="7.58" fill="#e9cbf6" stroke="#1a1a3a" stroke-width="0.35"/>
<rect x="568.87" y="93.38" width="7.57" height="7.58" fill="#8c71f5" stroke="#1a1a3a" stroke-width="0.35"/>
<rect x="576.43" y="93.38" width="7.57" height="7.58" fill="#f4b7da" stroke="#1a1a3a" stroke-width="0.35"/>
<rect x="584.00" y="93.38" width="7.57" height="7.58" fill="#281efb" stroke="#1a1a3a" stroke-width="0.35"/>
<rect x="591.57" y="93.38" width="7.57" height="7.58" fill="#f4b7da" stroke="#1a1a3a" stroke-width="0.35"/>
<rect x="599.13" y="93.38" width="7.57" height="7.58" fill="#5a43f5" stroke="#1a1a3a" stroke-width="0.35"/>
<rect x="561.30" y="100.96" width="7.57" height="7.58" fill="#8c71f5" stroke="#1a1a3a" stroke-width="0.35"/>
<rect x="568.87" y="100.96" width="7.57" height="7.58" fill="#8c71f5" stroke="#1a1a3a" stroke-width="0.35"/>
<rect x="576.43" y="100.96" width="7.57" height="7.58" fill="#f4b7da" stroke="#1a1a3a" stroke-width="0.35"/>
<rect x="584.00" y="100.96" width="7.57" height="7.58" fill="#f4b7da" stroke="#1a1a3a" stroke-width="0.35"/>
<rect x="591.57" y="100.96" width="7.57" height="7.58" fill="#f75166" stroke="#1a1a3a" stroke-width="0.35"/>
<rect x="599.13" y="100.96" width="7.57" height="7.58" fill="#f4b7da" stroke="#1a1a3a" stroke-width="0.35"/>
<rect x="608.60" y="84.90" width="47.20" height="24.54" fill="#d8d8d8"/>
<rect x="609.50" y="85.80" width="7.57" height="7.58" fill="#f75166" stroke="#1a1a3a" stroke-width="0.35"/>
<rect x="617.07" y="85.80" width="7.57" height="7.58" fill="#8c71f5" stroke="#1a1a3a" stroke-width="0.35"/>
<rect x="624.63" y="85.80" width="7.57" height="7.58" fill="#b89cf6" stroke="#1a1a3a" stroke-width="0.35"/>
<rect x="632.20" y="85.80" width="7.57" height="7.58" fill="#e9cbf6" stroke="#1a1a3a" stroke-width="0.35"/>
<rect x="639.77" y="85.80" width="7.57" height="7.58" fill="#f4b7da" stroke="#1a1a3a" stroke-width="0.35"/>
<rect x="647.33" y="85.80" width="7.57" height="7.58" fill="#e9cbf6" stroke="#1a1a3a" stroke-width="0.35"/>
<rect x="609.50" y="93.38" width="7.57" height="7.58" fill="#5a43f5" stroke="#1a1a3a" stroke-width="0.35"/>
<rect x="617.07" y="93.38" width="7.57" height="7.58" fill="#e9cbf6" stroke="#1a1a3a" stroke-width="0.35"/>
<rect x="624.63" y="93.38" width="7.57" height="7.58" fill="#ff1610" stroke="#1a1a3a" stroke-width="0.35"/>
<rect x="632.20" y="93.38" width="7.57" height="7.58" fill="#5a43f5" stroke="#1a1a3a" stroke-width="0.35"/>
<rect x="639.77" y="93.38" width="7.57" height="7.58" fill="#f4b7da" stroke="#1a1a3a" stroke-width="0.35"/>
<rect x="647.33" y="93.38" width="7.57" height="7.58" fill="#5a43f5" stroke="#1a1a3a" stroke-width="0.35"/>
<rect x="609.50" y="100.96" width="7.57" height="7.58" fill="#8c71f5" stroke="#1a1a3a" stroke-width="0.35"/>
<rect x="617.07" y="100.96" width="7.57" height="7.58" fill="#5a43f5" stroke="#1a1a3a" stroke-width="0.35"/>
<rect x="624.63" y="100.96" width="7.57" height="7.58" fill="#e9cbf6" stroke="#1a1a3a" stroke-width="0.35"/>
<rect x="632.20" y="100.96" width="7.57" height="7.58" fill="#8c71f5" stroke="#1a1a3a" stroke-width="0.35"/>
<rect x="639.77" y="100.96" width="7.57" height="7.58" fill="#b89cf6" stroke="#1a1a3a" stroke-width="0.35"/>
<rect x="647.33" y="100.96" width="7.57" height="7.58" fill="#b89cf6" stroke="#1a1a3a" stroke-width="0.35"/>
<text x="462.00" y="91.49" font-size="5.8" font-weight="bold" font-style="italic" text-anchor="end" fill="#000" stroke="#000" stroke-width="0.22">Tfcp2l1</text>
<text x="462.00" y="99.07" font-size="5.8" font-weight="bold" font-style="italic" text-anchor="end" fill="#000" stroke="#000" stroke-width="0.22">Esrrb</text>
<text x="462.00" y="106.65" font-size="5.8" font-weight="bold" font-style="italic" text-anchor="end" fill="#000" stroke="#000" stroke-width="0.22">Prdm14</text>
<line x1="660.10" y1="85.80" x2="660.10" y2="108.54" stroke="#0a0aff" stroke-width="1.8"/>
<text x="665.50" y="97.17" font-size="5.85" font-weight="bold" font-style="normal" text-anchor="middle" fill="#000" stroke="#000" stroke-width="0.22" transform="rotate(90 665.50 97.17)">Naive</text>
<rect x="464.10" y="110.60" width="47.20" height="47.28" fill="#d8d8d8"/>
<rect x="465.00" y="111.50" width="7.57" height="7.58" fill="#281efb" stroke="#1a1a3a" stroke-width="0.35"/>
<rect x="472.57" y="111.50" width="7.57" height="7.58" fill="#f75166" stroke="#1a1a3a" stroke-width="0.35"/>
<rect x="480.13" y="111.50" width="7.57" height="7.58" fill="#f68fad" stroke="#1a1a3a" stroke-width="0.35"/>
<rect x="487.70" y="111.50" width="7.57" height="7.58" fill="#281efb" stroke="#1a1a3a" stroke-width="0.35"/>
<rect x="495.27" y="111.50" width="7.57" height="7.58" fill="#5a43f5" stroke="#1a1a3a" stroke-width="0.35"/>
<rect x="502.83" y="111.50" width="7.57" height="7.58" fill="#0000ff" stroke="#1a1a3a" stroke-width="0.35"/>
<rect x="465.00" y="119.08" width="7.57" height="7.58" fill="#0000ff" stroke="#1a1a3a" stroke-width="0.35"/>
<rect x="472.57" y="119.08" width="7.57" height="7.58" fill="#5a43f5" stroke="#1a1a3a" stroke-width="0.35"/>
<rect x="480.13" y="119.08" width="7.57" height="7.58" fill="#f68fad" stroke="#1a1a3a" stroke-width="0.35"/>
<rect x="487.70" y="119.08" width="7.57" height="7.58" fill="#e9cbf6" stroke="#1a1a3a" stroke-width="0.35"/>
<rect x="495.27" y="119.08" width="7.57" height="7.58" fill="#f68fad" stroke="#1a1a3a" stroke-width="0.35"/>
<rect x="502.83" y="119.08" width="7.57" height="7.58" fill="#8c71f5" stroke="#1a1a3a" stroke-width="0.35"/>
<rect x="465.00" y="126.66" width="7.57" height="7.58" fill="#b89cf6" stroke="#1a1a3a" stroke-width="0.35"/>
<rect x="472.57" y="126.66" width="7.57" height="7.58" fill="#f4b7da" stroke="#1a1a3a" stroke-width="0.35"/>
<rect x="480.13" y="126.66" width="7.57" height="7.58" fill="#b89cf6" stroke="#1a1a3a" stroke-width="0.35"/>
<rect x="487.70" y="126.66" width="7.57" height="7.58" fill="#b89cf6" stroke="#1a1a3a" stroke-width="0.35"/>
<rect x="495.27" y="126.66" width="7.57" height="7.58" fill="#ff1610" stroke="#1a1a3a" stroke-width="0.35"/>
<rect x="502.83" y="126.66" width="7.57" height="7.58" fill="#b89cf6" stroke="#1a1a3a" stroke-width="0.35"/>
<rect x="465.00" y="134.24" width="7.57" height="7.58" fill="#ff1610" stroke="#1a1a3a" stroke-width="0.35"/>
<rect x="472.57" y="134.24" width="7.57" height="7.58" fill="#f68fad" stroke="#1a1a3a" stroke-width="0.35"/>
<rect x="480.13" y="134.24" width="7.57" height="7.58" fill="#f68fad" stroke="#1a1a3a" stroke-width="0.35"/>
<rect x="487.70" y="134.24" width="7.57" height="7.58" fill="#b89cf6" stroke="#1a1a3a" stroke-width="0.35"/>
<rect x="495.27" y="134.24" width="7.57" height="7.58" fill="#f4b7da" stroke="#1a1a3a" stroke-width="0.35"/>
<rect x="502.83" y="134.24" width="7.57" height="7.58" fill="#8c71f5" stroke="#1a1a3a" stroke-width="0.35"/>
<rect x="465.00" y="141.82" width="7.57" height="7.58" fill="#f75166" stroke="#1a1a3a" stroke-width="0.35"/>
<rect x="472.57" y="141.82" width="7.57" height="7.58" fill="#f4b7da" stroke="#1a1a3a" stroke-width="0.35"/>
<rect x="480.13" y="141.82" width="7.57" height="7.58" fill="#f4b7da" stroke="#1a1a3a" stroke-width="0.35"/>
<rect x="487.70" y="141.82" width="7.57" height="7.58" fill="#8c71f5" stroke="#1a1a3a" stroke-width="0.35"/>
<rect x="495.27" y="141.82" width="7.57" height="7.58" fill="#281efb" stroke="#1a1a3a" stroke-width="0.35"/>
<rect x="502.83" y="141.82" width="7.57" height="7.58" fill="#e9cbf6" stroke="#1a1a3a" stroke-width="0.35"/>
<rect x="465.00" y="149.40" width="7.57" height="7.58" fill="#f68fad" stroke="#1a1a3a" stroke-width="0.35"/>
<rect x="472.57" y="149.40" width="7.57" height="7.58" fill="#b89cf6" stroke="#1a1a3a" stroke-width="0.35"/>
<rect x="480.13" y="149.40" width="7.57" height="7.58" fill="#f75166" stroke="#1a1a3a" stroke-width="0.35"/>
<rect x="487.70" y="149.40" width="7.57" height="7.58" fill="#0000ff" stroke="#1a1a3a" stroke-width="0.35"/>
<rect x="495.27" y="149.40" width="7.57" height="7.58" fill="#281efb" stroke="#1a1a3a" stroke-width="0.35"/>
<rect x="502.83" y="149.40" width="7.57" height="7.58" fill="#0000ff" stroke="#1a1a3a" stroke-width="0.35"/>
<rect x="512.30" y="110.60" width="47.20" height="47.28" fill="#d8d8d8"/>
<rect x="513.20" y="111.50" width="7.57" height="7.58" fill="#281efb" stroke="#1a1a3a" stroke-width="0.35"/>
<rect x="520.77" y="111.50" width="7.57" height="7.58" fill="#e9cbf6" stroke="#1a1a3a" stroke-width="0.35"/>
<rect x="528.33" y="111.50" width="7.57" height="7.58" fill="#ff1610" stroke="#1a1a3a" stroke-width="0.35"/>
<rect x="535.90" y="111.50" width="7.57" height="7.58" fill="#8c71f5" stroke="#1a1a3a" stroke-width="0.35"/>
<rect x="543.47" y="111.50" width="7.57" height="7.58" fill="#5a43f5" stroke="#1a1a3a" stroke-width="0.35"/>
<rect x="551.03" y="111.50" width="7.57" height="7.58" fill="#5a43f5" stroke="#1a1a3a" stroke-width="0.35"/>
<rect x="513.20" y="119.08" width="7.57" height="7.58" fill="#5a43f5" stroke="#1a1a3a" stroke-width="0.35"/>
<rect x="520.77" y="119.08" width="7.57" height="7.58" fill="#b89cf6" stroke="#1a1a3a" stroke-width="0.35"/>
<rect x="528.33" y="119.08" width="7.57" height="7.58" fill="#e9cbf6" stroke="#1a1a3a" stroke-width="0.35"/>
<rect x="535.90" y="119.08" width="7.57" height="7.58" fill="#f68fad" stroke="#1a1a3a" stroke-width="0.35"/>
<rect x="543.47" y="119.08" width="7.57" height="7.58" fill="#f68fad" stroke="#1a1a3a" stroke-width="0.35"/>
<rect x="551.03" y="119.08" width="7.57" height="7.58" fill="#8c71f5" stroke="#1a1a3a" stroke-width="0.35"/>
<rect x="513.20" y="126.66" width="7.57" height="7.58" fill="#0000ff" stroke="#1a1a3a" stroke-width="0.35"/>
<rect x="520.77" y="126.66" width="7.57" height="7.58" fill="#5a43f5" stroke="#1a1a3a" stroke-width="0.35"/>
<rect x="528.33" y="126.66" width="7.57" height="7.58" fill="#0000ff" stroke="#1a1a3a" stroke-width="0.35"/>
<rect x="535.90" y="126.66" width="7.57" height="7.58" fill="#281efb" stroke="#1a1a3a" stroke-width="0.35"/>
<rect x="543.47" y="126.66" width="7.57" height="7.58" fill="#5a43f5" stroke="#1a1a3a" stroke-width="0.35"/>
<rect x="551.03" y="126.66" width="7.57" height="7.58" fill="#5a43f5" stroke="#1a1a3a" stroke-width="0.35"/>
<rect x="513.20" y="134.24" width="7.57" height="7.58" fill="#8c71f5" stroke="#1a1a3a" stroke-width="0.35"/>
<rect x="520.77" y="134.24" width="7.57" height="7.58" fill="#e9cbf6" stroke="#1a1a3a" stroke-width="0.35"/>
<rect x="528.33" y="134.24" width="7.57" height="7.58" fill="#b89cf6" stroke="#1a1a3a" stroke-width="0.35"/>
<rect x="535.90" y="134.24" width="7.57" height="7.58" fill="#0000ff" stroke="#1a1a3a" stroke-width="0.35"/>
<rect x="543.47" y="134.24" width="7.57" height="7.58" fill="#8c71f5" stroke="#1a1a3a" stroke-width="0.35"/>
<rect x="551.03" y="134.24" width="7.57" height="7.58" fill="#0000ff" stroke="#1a1a3a" stroke-width="0.35"/>
<rect x="513.20" y="141.82" width="7.57" height="7.58" fill="#f75166" stroke="#1a1a3a" stroke-width="0.35"/>
<rect x="520.77" y="141.82" width="7.57" height="7.58" fill="#f68fad" stroke="#1a1a3a" stroke-width="0.35"/>
<rect x="528.33" y="141.82" width="7.57" height="7.58" fill="#f4b7da" stroke="#1a1a3a" stroke-width="0.35"/>
<rect x="535.90" y="141.82" width="7.57" height="7.58" fill="#e9cbf6" stroke="#1a1a3a" stroke-width="0.35"/>
<rect x="543.47" y="141.82" width="7.57" height="7.58" fill="#b89cf6" stroke="#1a1a3a" stroke-width="0.35"/>
<rect x="551.03" y="141.82" width="7.57" height="7.58" fill="#f68fad" stroke="#1a1a3a" stroke-width="0.35"/>
<rect x="513.20" y="149.40" width="7.57" height="7.58" fill="#e9cbf6" stroke="#1a1a3a" stroke-width="0.35"/>
<rect x="520.77" y="149.40" width="7.57" height="7.58" fill="#e9cbf6" stroke="#1a1a3a" stroke-width="0.35"/>
<rect x="528.33" y="149.40" width="7.57" height="7.58" fill="#ff1610" stroke="#1a1a3a" stroke-width="0.35"/>
<rect x="535.90" y="149.40" width="7.57" height="7.58" fill="#5a43f5" stroke="#1a1a3a" stroke-width="0.35"/>
<rect x="543.47" y="149.40" width="7.57" height="7.58" fill="#e9cbf6" stroke="#1a1a3a" stroke-width="0.35"/>
<rect x="551.03" y="149.40" width="7.57" height="7.58" fill="#b89cf6" stroke="#1a1a3a" stroke-width="0.35"/>
<rect x="560.40" y="110.60" width="47.20" height="47.28" fill="#d8d8d8"/>
<rect x="561.30" y="111.50" width="7.57" height="7.58" fill="#5a43f5" stroke="#1a1a3a" stroke-width="0.35"/>
<rect x="568.87" y="111.50" width="7.57" height="7.58" fill="#f68fad" stroke="#1a1a3a" stroke-width="0.35"/>
<rect x="576.43" y="111.50" width="7.57" height="7.58" fill="#f4b7da" stroke="#1a1a3a" stroke-width="0.35"/>
<rect x="584.00" y="111.50" width="7.57" height="7.58" fill="#8c71f5" stroke="#1a1a3a" stroke-width="0.35"/>
<rect x="591.57" y="111.50" width="7.57" height="7.58" fill="#b89cf6" stroke="#1a1a3a" stroke-width="0.35"/>
<rect x="599.13" y="111.50" width="7.57" height="7.58" fill="#281efb" stroke="#1a1a3a" stroke-width="0.35"/>
<rect x="561.30" y="119.08" width="7.57" height="7.58" fill="#5a43f5" stroke="#1a1a3a" stroke-width="0.35"/>
<rect x="568.87" y="119.08" width="7.57" height="7.58" fill="#5a43f5" stroke="#1a1a3a" stroke-width="0.35"/>
<rect x="576.43" y="119.08" width="7.57" height="7.58" fill="#f68fad" stroke="#1a1a3a" stroke-width="0.35"/>
<rect x="584.00" y="119.08" width="7.57" height="7.58" fill="#ff1610" stroke="#1a1a3a" stroke-width="0.35"/>
<rect x="591.57" y="119.08" width="7.57" height="7.58" fill="#f4b7da" stroke="#1a1a3a" stroke-width="0.35"/>
<rect x="599.13" y="119.08" width="7.57" height="7.58" fill="#e9cbf6" stroke="#1a1a3a" stroke-width="0.35"/>
<rect x="561.30" y="126.66" width="7.57" height="7.58" fill="#8c71f5" stroke="#1a1a3a" stroke-width="0.35"/>
<rect x="568.87" y="126.66" width="7.57" height="7.58" fill="#e9cbf6" stroke="#1a1a3a" stroke-width="0.35"/>
<rect x="576.43" y="126.66" width="7.57" height="7.58" fill="#b89cf6" stroke="#1a1a3a" stroke-width="0.35"/>
<rect x="584.00" y="126.66" width="7.57" height="7.58" fill="#e9cbf6" stroke="#1a1a3a" stroke-width="0.35"/>
<rect x="591.57" y="126.66" width="7.57" height="7.58" fill="#f68fad" stroke="#1a1a3a" stroke-width="0.35"/>
<rect x="599.13" y="126.66" width="7.57" height="7.58" fill="#f4b7da" stroke="#1a1a3a" stroke-width="0.35"/>
<rect x="561.30" y="134.24" width="7.57" height="7.58" fill="#e9cbf6" stroke="#1a1a3a" stroke-width="0.35"/>
<rect x="568.87" y="134.24" width="7.57" height="7.58" fill="#f4b7da" stroke="#1a1a3a" stroke-width="0.35"/>
<rect x="576.43" y="134.24" width="7.57" height="7.58" fill="#f4b7da" stroke="#1a1a3a" stroke-width="0.35"/>
<rect x="584.00" y="134.24" width="7.57" height="7.58" fill="#b89cf6" stroke="#1a1a3a" stroke-width="0.35"/>
<rect x="591.57" y="134.24" width="7.57" height="7.58" fill="#f4b7da" stroke="#1a1a3a" stroke-width="0.35"/>
<rect x="599.13" y="134.24" width="7.57" height="7.58" fill="#e9cbf6" stroke="#1a1a3a" stroke-width="0.35"/>
<rect x="561.30" y="141.82" width="7.57" height="7.58" fill="#f68fad" stroke="#1a1a3a" stroke-width="0.35"/>
<rect x="568.87" y="141.82" width="7.57" height="7.58" fill="#f4b7da" stroke="#1a1a3a" stroke-width="0.35"/>
<rect x="576.43" y="141.82" width="7.57" height="7.58" fill="#f68fad" stroke="#1a1a3a" stroke-width="0.35"/>
<rect x="584.00" y="141.82" width="7.57" height="7.58" fill="#f4b7da" stroke="#1a1a3a" stroke-width="0.35"/>
<rect x="591.57" y="141.82" width="7.57" height="7.58" fill="#f4b7da" stroke="#1a1a3a" stroke-width="0.35"/>
<rect x="599.13" y="141.82" width="7.57" height="7.58" fill="#f4b7da" stroke="#1a1a3a" stroke-width="0.35"/>
<rect x="561.30" y="149.40" width="7.57" height="7.58" fill="#e9cbf6" stroke="#1a1a3a" stroke-width="0.35"/>
<rect x="568.87" y="149.40" width="7.57" height="7.58" fill="#e9cbf6" stroke="#1a1a3a" stroke-width="0.35"/>
<rect x="576.43" y="149.40" width="7.57" height="7.58" fill="#e9cbf6" stroke="#1a1a3a" stroke-width="0.35"/>
<rect x="584.00" y="149.40" width="7.57" height="7.58" fill="#0000ff" stroke="#1a1a3a" stroke-width="0.35"/>
<rect x="591.57" y="149.40" width="7.57" height="7.58" fill="#5a43f5" stroke="#1a1a3a" stroke-width="0.35"/>
<rect x="599.13" y="149.40" width="7.57" height="7.58" fill="#0000ff" stroke="#1a1a3a" stroke-width="0.35"/>
<rect x="608.60" y="110.60" width="47.20" height="47.28" fill="#d8d8d8"/>
<rect x="609.50" y="111.50" width="7.57" height="7.58" fill="#0000ff" stroke="#1a1a3a" stroke-width="0.35"/>
<rect x="617.07" y="111.50" width="7.57" height="7.58" fill="#f75166" stroke="#1a1a3a" stroke-width="0.35"/>
<rect x="624.63" y="111.50" width="7.57" height="7.58" fill="#f75166" stroke="#1a1a3a" stroke-width="0.35"/>
<rect x="632.20" y="111.50" width="7.57" height="7.58" fill="#5a43f5" stroke="#1a1a3a" stroke-width="0.35"/>
<rect x="639.77" y="111.50" width="7.57" height="7.58" fill="#b89cf6" stroke="#1a1a3a" stroke-width="0.35"/>
<rect x="647.33" y="111.50" width="7.57" height="7.58" fill="#281efb" stroke="#1a1a3a" stroke-width="0.35"/>
<rect x="609.50" y="119.08" width="7.57" height="7.58" fill="#5a43f5" stroke="#1a1a3a" stroke-width="0.35"/>
<rect x="617.07" y="119.08" width="7.57" height="7.58" fill="#8c71f5" stroke="#1a1a3a" stroke-width="0.35"/>
<rect x="624.63" y="119.08" width="7.57" height="7.58" fill="#f68fad" stroke="#1a1a3a" stroke-width="0.35"/>
<rect x="632.20" y="119.08" width="7.57" height="7.58" fill="#b89cf6" stroke="#1a1a3a" stroke-width="0.35"/>
<rect x="639.77" y="119.08" width="7.57" height="7.58" fill="#f75166" stroke="#1a1a3a" stroke-width="0.35"/>
<rect x="647.33" y="119.08" width="7.57" height="7.58" fill="#b89cf6" stroke="#1a1a3a" stroke-width="0.35"/>
<rect x="609.50" y="126.66" width="7.57" height="7.58" fill="#0000ff" stroke="#1a1a3a" stroke-width="0.35"/>
<rect x="617.07" y="126.66" width="7.57" height="7.58" fill="#8c71f5" stroke="#1a1a3a" stroke-width="0.35"/>
<rect x="624.63" y="126.66" width="7.57" height="7.58" fill="#8c71f5" stroke="#1a1a3a" stroke-width="0.35"/>
<rect x="632.20" y="126.66" width="7.57" height="7.58" fill="#8c71f5" stroke="#1a1a3a" stroke-width="0.35"/>
<rect x="639.77" y="126.66" width="7.57" height="7.58" fill="#f75166" stroke="#1a1a3a" stroke-width="0.35"/>
<rect x="647.33" y="126.66" width="7.57" height="7.58" fill="#8c71f5" stroke="#1a1a3a" stroke-width="0.35"/>
<rect x="609.50" y="134.24" width="7.57" height="7.58" fill="#b89cf6" stroke="#1a1a3a" stroke-width="0.35"/>
<rect x="617.07" y="134.24" width="7.57" height="7.58" fill="#f4b7da" stroke="#1a1a3a" stroke-width="0.35"/>
<rect x="624.63" y="134.24" width="7.57" height="7.58" fill="#e9cbf6" stroke="#1a1a3a" stroke-width="0.35"/>
<rect x="632.20" y="134.24" width="7.57" height="7.58" fill="#b89cf6" stroke="#1a1a3a" stroke-width="0.35"/>
<rect x="639.77" y="134.24" width="7.57" height="7.58" fill="#8c71f5" stroke="#1a1a3a" stroke-width="0.35"/>
<rect x="647.33" y="134.24" width="7.57" height="7.58" fill="#5a43f5" stroke="#1a1a3a" stroke-width="0.35"/>
<rect x="609.50" y="141.82" width="7.57" height="7.58" fill="#ff1610" stroke="#1a1a3a" stroke-width="0.35"/>
<rect x="617.07" y="141.82" width="7.57" height="7.58" fill="#b89cf6" stroke="#1a1a3a" stroke-width="0.35"/>
<rect x="624.63" y="141.82" width="7.57" height="7.58" fill="#b89cf6" stroke="#1a1a3a" stroke-width="0.35"/>
<rect x="632.20" y="141.82" width="7.57" height="7.58" fill="#f4b7da" stroke="#1a1a3a" stroke-width="0.35"/>
<rect x="639.77" y="141.82" width="7.57" height="7.58" fill="#5a43f5" stroke="#1a1a3a" stroke-width="0.35"/>
<rect x="647.33" y="141.82" width="7.57" height="7.58" fill="#5a43f5" stroke="#1a1a3a" stroke-width="0.35"/>
<rect x="609.50" y="149.40" width="7.57" height="7.58" fill="#281efb" stroke="#1a1a3a" stroke-width="0.35"/>
<rect x="617.07" y="149.40" width="7.57" height="7.58" fill="#f4b7da" stroke="#1a1a3a" stroke-width="0.35"/>
<rect x="624.63" y="149.40" width="7.57" height="7.58" fill="#f4b7da" stroke="#1a1a3a" stroke-width="0.35"/>
<rect x="632.20" y="149.40" width="7.57" height="7.58" fill="#0000ff" stroke="#1a1a3a" stroke-width="0.35"/>
<rect x="639.77" y="149.40" width="7.57" height="7.58" fill="#b89cf6" stroke="#1a1a3a" stroke-width="0.35"/>
<rect x="647.33" y="149.40" width="7.57" height="7.58" fill="#5a43f5" stroke="#1a1a3a" stroke-width="0.35"/>
<text x="462.00" y="117.19" font-size="5.8" font-weight="bold" font-style="italic" text-anchor="end" fill="#000" stroke="#000" stroke-width="0.22">Oct4</text>
<text x="462.00" y="124.77" font-size="5.8" font-weight="bold" font-style="italic" text-anchor="end" fill="#000" stroke="#000" stroke-width="0.22">Sox2</text>
<text x="462.00" y="132.35" font-size="5.8" font-weight="bold" font-style="italic" text-anchor="end" fill="#000" stroke="#000" stroke-width="0.22">Nanog</text>
<text x="462.00" y="139.93" font-size="5.8" font-weight="bold" font-style="italic" text-anchor="end" fill="#000" stroke="#000" stroke-width="0.22">Klf2</text>
<text x="462.00" y="147.51" font-size="5.8" font-weight="bold" font-style="italic" text-anchor="end" fill="#000" stroke="#000" stroke-width="0.22">Klf4</text>
<text x="462.00" y="155.09" font-size="5.8" font-weight="bold" font-style="italic" text-anchor="end" fill="#000" stroke="#000" stroke-width="0.22">Myc</text>
<line x1="660.10" y1="111.50" x2="660.10" y2="156.98" stroke="#2f8a22" stroke-width="1.8"/>
<text x="665.50" y="134.24" font-size="5.85" font-weight="bold" font-style="normal" text-anchor="middle" fill="#000" stroke="#000" stroke-width="0.22" transform="rotate(90 665.50 134.24)">Pluripotent</text>
<rect x="464.10" y="159.60" width="47.20" height="47.28" fill="#d8d8d8"/>
<rect x="465.00" y="160.50" width="7.57" height="7.58" fill="#281efb" stroke="#1a1a3a" stroke-width="0.35"/>
<rect x="472.57" y="160.50" width="7.57" height="7.58" fill="#f75166" stroke="#1a1a3a" stroke-width="0.35"/>
<rect x="480.13" y="160.50" width="7.57" height="7.58" fill="#e9cbf6" stroke="#1a1a3a" stroke-width="0.35"/>
<rect x="487.70" y="160.50" width="7.57" height="7.58" fill="#b89cf6" stroke="#1a1a3a" stroke-width="0.35"/>
<rect x="495.27" y="160.50" width="7.57" height="7.58" fill="#e9cbf6" stroke="#1a1a3a" stroke-width="0.35"/>
<rect x="502.83" y="160.50" width="7.57" height="7.58" fill="#5a43f5" stroke="#1a1a3a" stroke-width="0.35"/>
<rect x="465.00" y="168.08" width="7.57" height="7.58" fill="#5a43f5" stroke="#1a1a3a" stroke-width="0.35"/>
<rect x="472.57" y="168.08" width="7.57" height="7.58" fill="#8c71f5" stroke="#1a1a3a" stroke-width="0.35"/>
<rect x="480.13" y="168.08" width="7.57" height="7.58" fill="#e9cbf6" stroke="#1a1a3a" stroke-width="0.35"/>
<rect x="487.70" y="168.08" width="7.57" height="7.58" fill="#f75166" stroke="#1a1a3a" stroke-width="0.35"/>
<rect x="495.27" y="168.08" width="7.57" height="7.58" fill="#f75166" stroke="#1a1a3a" stroke-width="0.35"/>
<rect x="502.83" y="168.08" width="7.57" height="7.58" fill="#f4b7da" stroke="#1a1a3a" stroke-width="0.35"/>
<rect x="465.00" y="175.66" width="7.57" height="7.58" fill="#8c71f5" stroke="#1a1a3a" stroke-width="0.35"/>
<rect x="472.57" y="175.66" width="7.57" height="7.58" fill="#8c71f5" stroke="#1a1a3a" stroke-width="0.35"/>
<rect x="480.13" y="175.66" width="7.57" height="7.58" fill="#8c71f5" stroke="#1a1a3a" stroke-width="0.35"/>
<rect x="487.70" y="175.66" width="7.57" height="7.58" fill="#b89cf6" stroke="#1a1a3a" stroke-width="0.35"/>
<rect x="495.27" y="175.66" width="7.57" height="7.58" fill="#e9cbf6" stroke="#1a1a3a" stroke-width="0.35"/>
<rect x="502.83" y="175.66" width="7.57" height="7.58" fill="#b89cf6" stroke="#1a1a3a" stroke-width="0.35"/>
<rect x="465.00" y="183.24" width="7.57" height="7.58" fill="#f75166" stroke="#1a1a3a" stroke-width="0.35"/>
<rect x="472.57" y="183.24" width="7.57" height="7.58" fill="#e9cbf6" stroke="#1a1a3a" stroke-width="0.35"/>
<rect x="480.13" y="183.24" width="7.57" height="7.58" fill="#f75166" stroke="#1a1a3a" stroke-width="0.35"/>
<rect x="487.70" y="183.24" width="7.57" height="7.58" fill="#e9cbf6" stroke="#1a1a3a" stroke-width="0.35"/>
<rect x="495.27" y="183.24" width="7.57" height="7.58" fill="#f4b7da" stroke="#1a1a3a" stroke-width="0.35"/>
<rect x="502.83" y="183.24" width="7.57" height="7.58" fill="#e9cbf6" stroke="#1a1a3a" stroke-width="0.35"/>
<rect x="465.00" y="190.82" width="7.57" height="7.58" fill="#5a43f5" stroke="#1a1a3a" stroke-width="0.35"/>
<rect x="472.57" y="190.82" width="7.57" height="7.58" fill="#b89cf6" stroke="#1a1a3a" stroke-width="0.35"/>
<rect x="480.13" y="190.82" width="7.57" height="7.58" fill="#e9cbf6" stroke="#1a1a3a" stroke-width="0.35"/>
<rect x="487.70" y="190.82" width="7.57" height="7.58" fill="#f68fad" stroke="#1a1a3a" stroke-width="0.35"/>
<rect x="495.27" y="190.82" width="7.57" height="7.58" fill="#e9cbf6" stroke="#1a1a3a" stroke-width="0.35"/>
<rect x="502.83" y="190.82" width="7.57" height="7.58" fill="#b89cf6" stroke="#1a1a3a" stroke-width="0.35"/>
<rect x="465.00" y="198.40" width="7.57" height="7.58" fill="#8c71f5" stroke="#1a1a3a" stroke-width="0.35"/>
<rect x="472.57" y="198.40" width="7.57" height="7.58" fill="#8c71f5" stroke="#1a1a3a" stroke-width="0.35"/>
<rect x="480.13" y="198.40" width="7.57" height="7.58" fill="#5a43f5" stroke="#1a1a3a" stroke-width="0.35"/>
<rect x="487.70" y="198.40" width="7.57" height="7.58" fill="#b89cf6" stroke="#1a1a3a" stroke-width="0.35"/>
<rect x="495.27" y="198.40" width="7.57" height="7.58" fill="#e9cbf6" stroke="#1a1a3a" stroke-width="0.35"/>
<rect x="502.83" y="198.40" width="7.57" height="7.58" fill="#281efb" stroke="#1a1a3a" stroke-width="0.35"/>
<rect x="512.30" y="159.60" width="47.20" height="47.28" fill="#d8d8d8"/>
<rect x="513.20" y="160.50" width="7.57" height="7.58" fill="#281efb" stroke="#1a1a3a" stroke-width="0.35"/>
<rect x="520.77" y="160.50" width="7.57" height="7.58" fill="#f68fad" stroke="#1a1a3a" stroke-width="0.35"/>
<rect x="528.33" y="160.50" width="7.57" height="7.58" fill="#f4b7da" stroke="#1a1a3a" stroke-width="0.35"/>
<rect x="535.90" y="160.50" width="7.57" height="7.58" fill="#f68fad" stroke="#1a1a3a" stroke-width="0.35"/>
<rect x="543.47" y="160.50" width="7.57" height="7.58" fill="#f4b7da" stroke="#1a1a3a" stroke-width="0.35"/>
<rect x="551.03" y="160.50" width="7.57" height="7.58" fill="#e9cbf6" stroke="#1a1a3a" stroke-width="0.35"/>
<rect x="513.20" y="168.08" width="7.57" height="7.58" fill="#0000ff" stroke="#1a1a3a" stroke-width="0.35"/>
<rect x="520.77" y="168.08" width="7.57" height="7.58" fill="#5a43f5" stroke="#1a1a3a" stroke-width="0.35"/>
<rect x="528.33" y="168.08" width="7.57" height="7.58" fill="#281efb" stroke="#1a1a3a" stroke-width="0.35"/>
<rect x="535.90" y="168.08" width="7.57" height="7.58" fill="#f68fad" stroke="#1a1a3a" stroke-width="0.35"/>
<rect x="543.47" y="168.08" width="7.57" height="7.58" fill="#b89cf6" stroke="#1a1a3a" stroke-width="0.35"/>
<rect x="551.03" y="168.08" width="7.57" height="7.58" fill="#e9cbf6" stroke="#1a1a3a" stroke-width="0.35"/>
<rect x="513.20" y="175.66" width="7.57" height="7.58" fill="#281efb" stroke="#1a1a3a" stroke-width="0.35"/>
<rect x="520.77" y="175.66" width="7.57" height="7.58" fill="#281efb" stroke="#1a1a3a" stroke-width="0.35"/>
<rect x="528.33" y="175.66" width="7.57" height="7.58" fill="#0000ff" stroke="#1a1a3a" stroke-width="0.35"/>
<rect x="535.90" y="175.66" width="7.57" height="7.58" fill="#281efb" stroke="#1a1a3a" stroke-width="0.35"/>
<rect x="543.47" y="175.66" width="7.57" height="7.58" fill="#0000ff" stroke="#1a1a3a" stroke-width="0.35"/>
<rect x="551.03" y="175.66" width="7.57" height="7.58" fill="#281efb" stroke="#1a1a3a" stroke-width="0.35"/>
<rect x="513.20" y="183.24" width="7.57" height="7.58" fill="#8c71f5" stroke="#1a1a3a" stroke-width="0.35"/>
<rect x="520.77" y="183.24" width="7.57" height="7.58" fill="#0000ff" stroke="#1a1a3a" stroke-width="0.35"/>
<rect x="528.33" y="183.24" width="7.57" height="7.58" fill="#5a43f5" stroke="#1a1a3a" stroke-width="0.35"/>
<rect x="535.90" y="183.24" width="7.57" height="7.58" fill="#0000ff" stroke="#1a1a3a" stroke-width="0.35"/>
<rect x="543.47" y="183.24" width="7.57" height="7.58" fill="#281efb" stroke="#1a1a3a" stroke-width="0.35"/>
<rect x="551.03" y="183.24" width="7.57" height="7.58" fill="#8c71f5" stroke="#1a1a3a" stroke-width="0.35"/>
<rect x="513.20" y="190.82" width="7.57" height="7.58" fill="#8c71f5" stroke="#1a1a3a" stroke-width="0.35"/>
<rect x="520.77" y="190.82" width="7.57" height="7.58" fill="#281efb" stroke="#1a1a3a" stroke-width="0.35"/>
<rect x="528.33" y="190.82" width="7.57" height="7.58" fill="#0000ff" stroke="#1a1a3a" stroke-width="0.35"/>
<rect x="535.90" y="190.82" width="7.57" height="7.58" fill="#5a43f5" stroke="#1a1a3a" stroke-width="0.35"/>
<rect x="543.47" y="190.82" width="7.57" height="7.58" fill="#0000ff" stroke="#1a1a3a" stroke-width="0.35"/>
<rect x="551.03" y="190.82" width="7.57" height="7.58" fill="#281efb" stroke="#1a1a3a" stroke-width="0.35"/>
<rect x="513.20" y="198.40" width="7.57" height="7.58" fill="#8c71f5" stroke="#1a1a3a" stroke-width="0.35"/>
<rect x="520.77" y="198.40" width="7.57" height="7.58" fill="#e9cbf6" stroke="#1a1a3a" stroke-width="0.35"/>
<rect x="528.33" y="198.40" width="7.57" height="7.58" fill="#0000ff" stroke="#1a1a3a" stroke-width="0.35"/>
<rect x="535.90" y="198.40" width="7.57" height="7.58" fill="#8c71f5" stroke="#1a1a3a" stroke-width="0.35"/>
<rect x="543.47" y="198.40" width="7.57" height="7.58" fill="#5a43f5" stroke="#1a1a3a" stroke-width="0.35"/>
<rect x="551.03" y="198.40" width="7.57" height="7.58" fill="#0000ff" stroke="#1a1a3a" stroke-width="0.35"/>
<rect x="560.40" y="159.60" width="47.20" height="47.28" fill="#d8d8d8"/>
<rect x="561.30" y="160.50" width="7.57" height="7.58" fill="#8c71f5" stroke="#1a1a3a" stroke-width="0.35"/>
<rect x="568.87" y="160.50" width="7.57" height="7.58" fill="#f68fad" stroke="#1a1a3a" stroke-width="0.35"/>
<rect x="576.43" y="160.50" width="7.57" height="7.58" fill="#f75166" stroke="#1a1a3a" stroke-width="0.35"/>
<rect x="584.00" y="160.50" width="7.57" height="7.58" fill="#ff1610" stroke="#1a1a3a" stroke-width="0.35"/>
<rect x="591.57" y="160.50" width="7.57" height="7.58" fill="#f68fad" stroke="#1a1a3a" stroke-width="0.35"/>
<rect x="599.13" y="160.50" width="7.57" height="7.58" fill="#b89cf6" stroke="#1a1a3a" stroke-width="0.35"/>
<rect x="561.30" y="168.08" width="7.57" height="7.58" fill="#0000ff" stroke="#1a1a3a" stroke-width="0.35"/>
<rect x="568.87" y="168.08" width="7.57" height="7.58" fill="#5a43f5" stroke="#1a1a3a" stroke-width="0.35"/>
<rect x="576.43" y="168.08" width="7.57" height="7.58" fill="#5a43f5" stroke="#1a1a3a" stroke-width="0.35"/>
<rect x="584.00" y="168.08" width="7.57" height="7.58" fill="#ff1610" stroke="#1a1a3a" stroke-width="0.35"/>
<rect x="591.57" y="168.08" width="7.57" height="7.58" fill="#f68fad" stroke="#1a1a3a" stroke-width="0.35"/>
<rect x="599.13" y="168.08" width="7.57" height="7.58" fill="#e9cbf6" stroke="#1a1a3a" stroke-width="0.35"/>
<rect x="561.30" y="175.66" width="7.57" height="7.58" fill="#8c71f5" stroke="#1a1a3a" stroke-width="0.35"/>
<rect x="568.87" y="175.66" width="7.57" height="7.58" fill="#e9cbf6" stroke="#1a1a3a" stroke-width="0.35"/>
<rect x="576.43" y="175.66" width="7.57" height="7.58" fill="#e9cbf6" stroke="#1a1a3a" stroke-width="0.35"/>
<rect x="584.00" y="175.66" width="7.57" height="7.58" fill="#f75166" stroke="#1a1a3a" stroke-width="0.35"/>
<rect x="591.57" y="175.66" width="7.57" height="7.58" fill="#ff1610" stroke="#1a1a3a" stroke-width="0.35"/>
<rect x="599.13" y="175.66" width="7.57" height="7.58" fill="#f68fad" stroke="#1a1a3a" stroke-width="0.35"/>
<rect x="561.30" y="183.24" width="7.57" height="7.58" fill="#f68fad" stroke="#1a1a3a" stroke-width="0.35"/>
<rect x="568.87" y="183.24" width="7.57" height="7.58" fill="#b89cf6" stroke="#1a1a3a" stroke-width="0.35"/>
<rect x="576.43" y="183.24" width="7.57" height="7.58" fill="#f68fad" stroke="#1a1a3a" stroke-width="0.35"/>
<rect x="584.00" y="183.24" width="7.57" height="7.58" fill="#b89cf6" stroke="#1a1a3a" stroke-width="0.35"/>
<rect x="591.57" y="183.24" width="7.57" height="7.58" fill="#f75166" stroke="#1a1a3a" stroke-width="0.35"/>
<rect x="599.13" y="183.24" width="7.57" height="7.58" fill="#f68fad" stroke="#1a1a3a" stroke-width="0.35"/>
<rect x="561.30" y="190.82" width="7.57" height="7.58" fill="#5a43f5" stroke="#1a1a3a" stroke-width="0.35"/>
<rect x="568.87" y="190.82" width="7.57" height="7.58" fill="#8c71f5" stroke="#1a1a3a" stroke-width="0.35"/>
<rect x="576.43" y="190.82" width="7.57" height="7.58" fill="#8c71f5" stroke="#1a1a3a" stroke-width="0.35"/>
<rect x="584.00" y="190.82" width="7.57" height="7.58" fill="#ff1610" stroke="#1a1a3a" stroke-width="0.35"/>
<rect x="591.57" y="190.82" width="7.57" height="7.58" fill="#f68fad" stroke="#1a1a3a" stroke-width="0.35"/>
<rect x="599.13" y="190.82" width="7.57" height="7.58" fill="#ff1610" stroke="#1a1a3a" stroke-width="0.35"/>
<rect x="561.30" y="198.40" width="7.57" height="7.58" fill="#f75166" stroke="#1a1a3a" stroke-width="0.35"/>
<rect x="568.87" y="198.40" width="7.57" height="7.58" fill="#e9cbf6" stroke="#1a1a3a" stroke-width="0.35"/>
<rect x="576.43" y="198.40" width="7.57" height="7.58" fill="#5a43f5" stroke="#1a1a3a" stroke-width="0.35"/>
<rect x="584.00" y="198.40" width="7.57" height="7.58" fill="#ff1610" stroke="#1a1a3a" stroke-width="0.35"/>
<rect x="591.57" y="198.40" width="7.57" height="7.58" fill="#f68fad" stroke="#1a1a3a" stroke-width="0.35"/>
<rect x="599.13" y="198.40" width="7.57" height="7.58" fill="#f75166" stroke="#1a1a3a" stroke-width="0.35"/>
<rect x="608.60" y="159.60" width="47.20" height="47.28" fill="#d8d8d8"/>
<rect x="609.50" y="160.50" width="7.57" height="7.58" fill="#ff1610" stroke="#1a1a3a" stroke-width="0.35"/>
<rect x="617.07" y="160.50" width="7.57" height="7.58" fill="#e9cbf6" stroke="#1a1a3a" stroke-width="0.35"/>
<rect x="624.63" y="160.50" width="7.57" height="7.58" fill="#f75166" stroke="#1a1a3a" stroke-width="0.35"/>
<rect x="632.20" y="160.50" width="7.57" height="7.58" fill="#e9cbf6" stroke="#1a1a3a" stroke-width="0.35"/>
<rect x="639.77" y="160.50" width="7.57" height="7.58" fill="#b89cf6" stroke="#1a1a3a" stroke-width="0.35"/>
<rect x="647.33" y="160.50" width="7.57" height="7.58" fill="#8c71f5" stroke="#1a1a3a" stroke-width="0.35"/>
<rect x="609.50" y="168.08" width="7.57" height="7.58" fill="#5a43f5" stroke="#1a1a3a" stroke-width="0.35"/>
<rect x="617.07" y="168.08" width="7.57" height="7.58" fill="#5a43f5" stroke="#1a1a3a" stroke-width="0.35"/>
<rect x="624.63" y="168.08" width="7.57" height="7.58" fill="#b89cf6" stroke="#1a1a3a" stroke-width="0.35"/>
<rect x="632.20" y="168.08" width="7.57" height="7.58" fill="#f68fad" stroke="#1a1a3a" stroke-width="0.35"/>
<rect x="639.77" y="168.08" width="7.57" height="7.58" fill="#f4b7da" stroke="#1a1a3a" stroke-width="0.35"/>
<rect x="647.33" y="168.08" width="7.57" height="7.58" fill="#f68fad" stroke="#1a1a3a" stroke-width="0.35"/>
<rect x="609.50" y="175.66" width="7.57" height="7.58" fill="#f4b7da" stroke="#1a1a3a" stroke-width="0.35"/>
<rect x="617.07" y="175.66" width="7.57" height="7.58" fill="#e9cbf6" stroke="#1a1a3a" stroke-width="0.35"/>
<rect x="624.63" y="175.66" width="7.57" height="7.58" fill="#e9cbf6" stroke="#1a1a3a" stroke-width="0.35"/>
<rect x="632.20" y="175.66" width="7.57" height="7.58" fill="#f68fad" stroke="#1a1a3a" stroke-width="0.35"/>
<rect x="639.77" y="175.66" width="7.57" height="7.58" fill="#f68fad" stroke="#1a1a3a" stroke-width="0.35"/>
<rect x="647.33" y="175.66" width="7.57" height="7.58" fill="#f4b7da" stroke="#1a1a3a" stroke-width="0.35"/>
<rect x="609.50" y="183.24" width="7.57" height="7.58" fill="#f4b7da" stroke="#1a1a3a" stroke-width="0.35"/>
<rect x="617.07" y="183.24" width="7.57" height="7.58" fill="#f4b7da" stroke="#1a1a3a" stroke-width="0.35"/>
<rect x="624.63" y="183.24" width="7.57" height="7.58" fill="#f75166" stroke="#1a1a3a" stroke-width="0.35"/>
<rect x="632.20" y="183.24" width="7.57" height="7.58" fill="#8c71f5" stroke="#1a1a3a" stroke-width="0.35"/>
<rect x="639.77" y="183.24" width="7.57" height="7.58" fill="#f4b7da" stroke="#1a1a3a" stroke-width="0.35"/>
<rect x="647.33" y="183.24" width="7.57" height="7.58" fill="#e9cbf6" stroke="#1a1a3a" stroke-width="0.35"/>
<rect x="609.50" y="190.82" width="7.57" height="7.58" fill="#f75166" stroke="#1a1a3a" stroke-width="0.35"/>
<rect x="617.07" y="190.82" width="7.57" height="7.58" fill="#b89cf6" stroke="#1a1a3a" stroke-width="0.35"/>
<rect x="624.63" y="190.82" width="7.57" height="7.58" fill="#b89cf6" stroke="#1a1a3a" stroke-width="0.35"/>
<rect x="632.20" y="190.82" width="7.57" height="7.58" fill="#e9cbf6" stroke="#1a1a3a" stroke-width="0.35"/>
<rect x="639.77" y="190.82" width="7.57" height="7.58" fill="#b89cf6" stroke="#1a1a3a" stroke-width="0.35"/>
<rect x="647.33" y="190.82" width="7.57" height="7.58" fill="#f68fad" stroke="#1a1a3a" stroke-width="0.35"/>
<rect x="609.50" y="198.40" width="7.57" height="7.58" fill="#f75166" stroke="#1a1a3a" stroke-width="0.35"/>
<rect x="617.07" y="198.40" width="7.57" height="7.58" fill="#8c71f5" stroke="#1a1a3a" stroke-width="0.35"/>
<rect x="624.63" y="198.40" width="7.57" height="7.58" fill="#0000ff" stroke="#1a1a3a" stroke-width="0.35"/>
<rect x="632.20" y="198.40" width="7.57" height="7.58" fill="#b89cf6" stroke="#1a1a3a" stroke-width="0.35"/>
<rect x="639.77" y="198.40" width="7.57" height="7.58" fill="#5a43f5" stroke="#1a1a3a" stroke-width="0.35"/>
<rect x="647.33" y="198.40" width="7.57" height="7.58" fill="#0000ff" stroke="#1a1a3a" stroke-width="0.35"/>
<text x="462.00" y="166.19" font-size="5.8" font-weight="bold" font-style="italic" text-anchor="end" fill="#000" stroke="#000" stroke-width="0.22">Pla2g1b</text>
<text x="462.00" y="173.77" font-size="5.8" font-weight="bold" font-style="italic" text-anchor="end" fill="#000" stroke="#000" stroke-width="0.22">Serpinb6c</text>
<text x="462.00" y="181.35" font-size="5.8" font-weight="bold" font-style="italic" text-anchor="end" fill="#000" stroke="#000" stroke-width="0.22">Stra8</text>
<text x="462.00" y="188.93" font-size="5.8" font-weight="bold" font-style="italic" text-anchor="end" fill="#000" stroke="#000" stroke-width="0.22">Mvh</text>
<text x="462.00" y="196.51" font-size="5.8" font-weight="bold" font-style="italic" text-anchor="end" fill="#000" stroke="#000" stroke-width="0.22">Sycp3</text>
<text x="462.00" y="204.09" font-size="5.8" font-weight="bold" font-style="italic" text-anchor="end" fill="#000" stroke="#000" stroke-width="0.22">Dazl</text>
<line x1="660.10" y1="160.50" x2="660.10" y2="205.98" stroke="#ff6a1a" stroke-width="1.8"/>
<text x="665.50" y="183.24" font-size="5.85" font-weight="bold" font-style="normal" text-anchor="middle" fill="#000" stroke="#000" stroke-width="0.22" transform="rotate(90 665.50 183.24)">Germline</text>
<rect x="464.10" y="208.20" width="47.20" height="16.96" fill="#d8d8d8"/>
<rect x="465.00" y="209.10" width="7.57" height="7.58" fill="#e9cbf6" stroke="#1a1a3a" stroke-width="0.35"/>
<rect x="472.57" y="209.10" width="7.57" height="7.58" fill="#281efb" stroke="#1a1a3a" stroke-width="0.35"/>
<rect x="480.13" y="209.10" width="7.57" height="7.58" fill="#e9cbf6" stroke="#1a1a3a" stroke-width="0.35"/>
<rect x="487.70" y="209.10" width="7.57" height="7.58" fill="#e9cbf6" stroke="#1a1a3a" stroke-width="0.35"/>
<rect x="495.27" y="209.10" width="7.57" height="7.58" fill="#f4b7da" stroke="#1a1a3a" stroke-width="0.35"/>
<rect x="502.83" y="209.10" width="7.57" height="7.58" fill="#5a43f5" stroke="#1a1a3a" stroke-width="0.35"/>
<rect x="465.00" y="216.68" width="7.57" height="7.58" fill="#ff1610" stroke="#1a1a3a" stroke-width="0.35"/>
<rect x="472.57" y="216.68" width="7.57" height="7.58" fill="#8c71f5" stroke="#1a1a3a" stroke-width="0.35"/>
<rect x="480.13" y="216.68" width="7.57" height="7.58" fill="#b89cf6" stroke="#1a1a3a" stroke-width="0.35"/>
<rect x="487.70" y="216.68" width="7.57" height="7.58" fill="#0000ff" stroke="#1a1a3a" stroke-width="0.35"/>
<rect x="495.27" y="216.68" width="7.57" height="7.58" fill="#281efb" stroke="#1a1a3a" stroke-width="0.35"/>
<rect x="502.83" y="216.68" width="7.57" height="7.58" fill="#0000ff" stroke="#1a1a3a" stroke-width="0.35"/>
<rect x="512.30" y="208.20" width="47.20" height="16.96" fill="#d8d8d8"/>
<rect x="513.20" y="209.10" width="7.57" height="7.58" fill="#f68fad" stroke="#1a1a3a" stroke-width="0.35"/>
<rect x="520.77" y="209.10" width="7.57" height="7.58" fill="#0000ff" stroke="#1a1a3a" stroke-width="0.35"/>
<rect x="528.33" y="209.10" width="7.57" height="7.58" fill="#8c71f5" stroke="#1a1a3a" stroke-width="0.35"/>
<rect x="535.90" y="209.10" width="7.57" height="7.58" fill="#281efb" stroke="#1a1a3a" stroke-width="0.35"/>
<rect x="543.47" y="209.10" width="7.57" height="7.58" fill="#5a43f5" stroke="#1a1a3a" stroke-width="0.35"/>
<rect x="551.03" y="209.10" width="7.57" height="7.58" fill="#8c71f5" stroke="#1a1a3a" stroke-width="0.35"/>
<rect x="513.20" y="216.68" width="7.57" height="7.58" fill="#f75166" stroke="#1a1a3a" stroke-width="0.35"/>
<rect x="520.77" y="216.68" width="7.57" height="7.58" fill="#8c71f5" stroke="#1a1a3a" stroke-width="0.35"/>
<rect x="528.33" y="216.68" width="7.57" height="7.58" fill="#f68fad" stroke="#1a1a3a" stroke-width="0.35"/>
<rect x="535.90" y="216.68" width="7.57" height="7.58" fill="#281efb" stroke="#1a1a3a" stroke-width="0.35"/>
<rect x="543.47" y="216.68" width="7.57" height="7.58" fill="#b89cf6" stroke="#1a1a3a" stroke-width="0.35"/>
<rect x="551.03" y="216.68" width="7.57" height="7.58" fill="#8c71f5" stroke="#1a1a3a" stroke-width="0.35"/>
<rect x="560.40" y="208.20" width="47.20" height="16.96" fill="#d8d8d8"/>
<rect x="561.30" y="209.10" width="7.57" height="7.58" fill="#ff1610" stroke="#1a1a3a" stroke-width="0.35"/>
<rect x="568.87" y="209.10" width="7.57" height="7.58" fill="#8c71f5" stroke="#1a1a3a" stroke-width="0.35"/>
<rect x="576.43" y="209.10" width="7.57" height="7.58" fill="#e9cbf6" stroke="#1a1a3a" stroke-width="0.35"/>
<rect x="584.00" y="209.10" width="7.57" height="7.58" fill="#8c71f5" stroke="#1a1a3a" stroke-width="0.35"/>
<rect x="591.57" y="209.10" width="7.57" height="7.58" fill="#e9cbf6" stroke="#1a1a3a" stroke-width="0.35"/>
<rect x="599.13" y="209.10" width="7.57" height="7.58" fill="#b89cf6" stroke="#1a1a3a" stroke-width="0.35"/>
<rect x="561.30" y="216.68" width="7.57" height="7.58" fill="#5a43f5" stroke="#1a1a3a" stroke-width="0.35"/>
<rect x="568.87" y="216.68" width="7.57" height="7.58" fill="#5a43f5" stroke="#1a1a3a" stroke-width="0.35"/>
<rect x="576.43" y="216.68" width="7.57" height="7.58" fill="#b89cf6" stroke="#1a1a3a" stroke-width="0.35"/>
<rect x="584.00" y="216.68" width="7.57" height="7.58" fill="#0000ff" stroke="#1a1a3a" stroke-width="0.35"/>
<rect x="591.57" y="216.68" width="7.57" height="7.58" fill="#281efb" stroke="#1a1a3a" stroke-width="0.35"/>
<rect x="599.13" y="216.68" width="7.57" height="7.58" fill="#0000ff" stroke="#1a1a3a" stroke-width="0.35"/>
<rect x="608.60" y="208.20" width="47.20" height="16.96" fill="#d8d8d8"/>
<rect x="609.50" y="209.10" width="7.57" height="7.58" fill="#f4b7da" stroke="#1a1a3a" stroke-width="0.35"/>
<rect x="617.07" y="209.10" width="7.57" height="7.58" fill="#b89cf6" stroke="#1a1a3a" stroke-width="0.35"/>
<rect x="624.63" y="209.10" width="7.57" height="7.58" fill="#e9cbf6" stroke="#1a1a3a" stroke-width="0.35"/>
<rect x="632.20" y="209.10" width="7.57" height="7.58" fill="#281efb" stroke="#1a1a3a" stroke-width="0.35"/>
<rect x="639.77" y="209.10" width="7.57" height="7.58" fill="#e9cbf6" stroke="#1a1a3a" stroke-width="0.35"/>
<rect x="647.33" y="209.10" width="7.57" height="7.58" fill="#e9cbf6" stroke="#1a1a3a" stroke-width="0.35"/>
<rect x="609.50" y="216.68" width="7.57" height="7.58" fill="#0000ff" stroke="#1a1a3a" stroke-width="0.35"/>
<rect x="617.07" y="216.68" width="7.57" height="7.58" fill="#b89cf6" stroke="#1a1a3a" stroke-width="0.35"/>
<rect x="624.63" y="216.68" width="7.57" height="7.58" fill="#b89cf6" stroke="#1a1a3a" stroke-width="0.35"/>
<rect x="632.20" y="216.68" width="7.57" height="7.58" fill="#0000ff" stroke="#1a1a3a" stroke-width="0.35"/>
<rect x="639.77" y="216.68" width="7.57" height="7.58" fill="#5a43f5" stroke="#1a1a3a" stroke-width="0.35"/>
<rect x="647.33" y="216.68" width="7.57" height="7.58" fill="#5a43f5" stroke="#1a1a3a" stroke-width="0.35"/>
<text x="462.00" y="214.79" font-size="5.8" font-weight="bold" font-style="italic" text-anchor="end" fill="#000" stroke="#000" stroke-width="0.22">Meg3</text>
<text x="462.00" y="222.37" font-size="5.8" font-weight="bold" font-style="italic" text-anchor="end" fill="#000" stroke="#000" stroke-width="0.22">Dlk1</text>
<line x1="660.10" y1="209.10" x2="660.10" y2="224.26" stroke="#cc22ee" stroke-width="1.8"/>
<text x="665.50" y="216.68" font-size="5.85" font-weight="bold" font-style="normal" text-anchor="middle" fill="#000" stroke="#000" stroke-width="0.22" transform="rotate(90 665.50 216.68)">Imprint</text>
<rect x="521.00" y="230.10" width="93.50" height="6.60" fill="url(#cb)" stroke="#000" stroke-width="0.5"/>
<text x="521.00" y="243.30" font-size="5.8" font-weight="bold" font-style="normal" text-anchor="middle" fill="#000" stroke="#000" stroke-width="0.22">0</text>
<text x="539.60" y="243.30" font-size="5.8" font-weight="bold" font-style="normal" text-anchor="middle" fill="#000" stroke="#000" stroke-width="0.22">20</text>
<line x1="539.60" y1="230.00" x2="539.60" y2="237.00" stroke="#333" stroke-width="0.3" opacity="0.5"/>
<text x="558.20" y="243.30" font-size="5.8" font-weight="bold" font-style="normal" text-anchor="middle" fill="#000" stroke="#000" stroke-width="0.22">40</text>
<line x1="558.20" y1="230.00" x2="558.20" y2="237.00" stroke="#333" stroke-width="0.3" opacity="0.5"/>
<text x="576.80" y="243.30" font-size="5.8" font-weight="bold" font-style="normal" text-anchor="middle" fill="#000" stroke="#000" stroke-width="0.22">60</text>
<line x1="576.80" y1="230.00" x2="576.80" y2="237.00" stroke="#333" stroke-width="0.3" opacity="0.5"/>
<text x="595.40" y="243.30" font-size="5.8" font-weight="bold" font-style="normal" text-anchor="middle" fill="#000" stroke="#000" stroke-width="0.22">80</text>
<line x1="595.40" y1="230.00" x2="595.40" y2="237.00" stroke="#333" stroke-width="0.3" opacity="0.5"/>
<text x="614.00" y="243.30" font-size="5.8" font-weight="bold" font-style="normal" text-anchor="middle" fill="#000" stroke="#000" stroke-width="0.22">100</text>
<text x="490.00" y="233.00" font-size="5.8" font-weight="bold" font-style="normal" text-anchor="middle" fill="#000" stroke="#000" stroke-width="0.22">Expression</text>
<text x="490.00" y="239.70" font-size="5.8" font-weight="bold" font-style="normal" text-anchor="middle" fill="#000" stroke="#000" stroke-width="0.22">(Relative of ET p.1)</text>
<text x="0.60" y="255.80" font-size="11.8" font-weight="bold" font-style="normal" text-anchor="start" fill="#000" stroke="#000" stroke-width="0.22">c</text>
<text x="79.70" y="266.30" font-size="5.85" font-weight="bold" font-style="italic" text-anchor="middle" fill="#000" stroke="#000" stroke-width="0.22">Tfcp2l1</text>
<polyline fill="none" stroke="#000" stroke-width="0.9" points="41.30,296.77 57.40,312.04 73.20,304.85 89.30,311.59 105.30,308.45 121.40,312.04"/>
<line x1="41.30" y1="294.97" x2="41.30" y2="298.56" stroke="#000" stroke-width="0.55"/>
<line x1="40.00" y1="294.97" x2="42.60" y2="294.97" stroke="#000" stroke-width="0.55"/>
<line x1="40.00" y1="298.56" x2="42.60" y2="298.56" stroke="#000" stroke-width="0.55"/>
<circle cx="41.30" cy="296.77" r="1.19" fill="#000"/>
<line x1="57.40" y1="308.90" x2="57.40" y2="315.19" stroke="#000" stroke-width="0.55"/>
<line x1="56.10" y1="308.90" x2="58.70" y2="308.90" stroke="#000" stroke-width="0.55"/>
<line x1="56.10" y1="315.19" x2="58.70" y2="315.19" stroke="#000" stroke-width="0.55"/>
<circle cx="57.40" cy="312.04" r="1.19" fill="#000"/>
<line x1="73.20" y1="302.16" x2="73.20" y2="307.55" stroke="#000" stroke-width="0.55"/>
<line x1="71.90" y1="302.16" x2="74.50" y2="302.16" stroke="#000" stroke-width="0.55"/>
<line x1="71.90" y1="307.55" x2="74.50" y2="307.55" stroke="#000" stroke-width="0.55"/>
<circle cx="73.20" cy="304.85" r="1.19" fill="#000"/>
<line x1="89.30" y1="308.45" x2="89.30" y2="314.74" stroke="#000" stroke-width="0.55"/>
<line x1="88.00" y1="308.45" x2="90.60" y2="308.45" stroke="#000" stroke-width="0.55"/>
<line x1="88.00" y1="314.74" x2="90.60" y2="314.74" stroke="#000" stroke-width="0.55"/>
<circle cx="89.30" cy="311.59" r="1.19" fill="#000"/>
<line x1="105.30" y1="307.10" x2="105.30" y2="309.80" stroke="#000" stroke-width="0.55"/>
<line x1="104.00" y1="307.10" x2="106.60" y2="307.10" stroke="#000" stroke-width="0.55"/>
<line x1="104.00" y1="309.80" x2="106.60" y2="309.80" stroke="#000" stroke-width="0.55"/>
<circle cx="105.30" cy="308.45" r="1.19" fill="#000"/>
<line x1="121.40" y1="308.90" x2="121.40" y2="315.19" stroke="#000" stroke-width="0.55"/>
<line x1="120.10" y1="308.90" x2="122.70" y2="308.90" stroke="#000" stroke-width="0.55"/>
<line x1="120.10" y1="315.19" x2="122.70" y2="315.19" stroke="#000" stroke-width="0.55"/>
<circle cx="121.40" cy="312.04" r="1.19" fill="#000"/>
<polyline fill="none" stroke="#2f8a22" stroke-width="0.9" points="41.30,301.26 57.40,317.44 73.20,313.39 89.30,311.15 105.30,308.90 121.40,311.15"/>
<line x1="41.30" y1="298.11" x2="41.30" y2="304.41" stroke="#2f8a22" stroke-width="0.55"/>
<line x1="40.00" y1="298.11" x2="42.60" y2="298.11" stroke="#2f8a22" stroke-width="0.55"/>
<line x1="40.00" y1="304.41" x2="42.60" y2="304.41" stroke="#2f8a22" stroke-width="0.55"/>
<path d="M41.30 302.70 L42.67 300.20 L39.92 300.20Z" fill="#2f8a22"/>
<line x1="57.40" y1="315.64" x2="57.40" y2="319.23" stroke="#2f8a22" stroke-width="0.55"/>
<line x1="56.10" y1="315.64" x2="58.70" y2="315.64" stroke="#2f8a22" stroke-width="0.55"/>
<line x1="56.10" y1="319.23" x2="58.70" y2="319.23" stroke="#2f8a22" stroke-width="0.55"/>
<path d="M57.40 318.87 L58.77 316.37 L56.02 316.37Z" fill="#2f8a22"/>
<line x1="73.20" y1="310.70" x2="73.20" y2="316.09" stroke="#2f8a22" stroke-width="0.55"/>
<line x1="71.90" y1="310.70" x2="74.50" y2="310.70" stroke="#2f8a22" stroke-width="0.55"/>
<line x1="71.90" y1="316.09" x2="74.50" y2="316.09" stroke="#2f8a22" stroke-width="0.55"/>
<path d="M73.20 314.83 L74.58 312.33 L71.83 312.33Z" fill="#2f8a22"/>
<line x1="89.30" y1="307.55" x2="89.30" y2="314.74" stroke="#2f8a22" stroke-width="0.55"/>
<line x1="88.00" y1="307.55" x2="90.60" y2="307.55" stroke="#2f8a22" stroke-width="0.55"/>
<line x1="88.00" y1="314.74" x2="90.60" y2="314.74" stroke="#2f8a22" stroke-width="0.55"/>
<path d="M89.30 312.58 L90.67 310.08 L87.92 310.08Z" fill="#2f8a22"/>
<line x1="105.30" y1="306.65" x2="105.30" y2="311.15" stroke="#2f8a22" stroke-width="0.55"/>
<line x1="104.00" y1="306.65" x2="106.60" y2="306.65" stroke="#2f8a22" stroke-width="0.55"/>
<line x1="104.00" y1="311.15" x2="106.60" y2="311.15" stroke="#2f8a22" stroke-width="0.55"/>
<path d="M105.30 310.34 L106.67 307.84 L103.92 307.84Z" fill="#2f8a22"/>
<line x1="121.40" y1="309.80" x2="121.40" y2="312.49" stroke="#2f8a22" stroke-width="0.55"/>
<line x1="120.10" y1="309.80" x2="122.70" y2="309.80" stroke="#2f8a22" stroke-width="0.55"/>
<line x1="120.10" y1="312.49" x2="122.70" y2="312.49" stroke="#2f8a22" stroke-width="0.55"/>
<path d="M121.40 312.58 L122.78 310.08 L120.03 310.08Z" fill="#2f8a22"/>
<polyline fill="none" stroke="#0a0aff" stroke-width="0.9" points="41.30,309.80 57.40,311.15 73.20,313.39 89.30,305.75 105.30,307.55 121.40,307.55"/>
<line x1="41.30" y1="307.55" x2="41.30" y2="312.04" stroke="#0a0aff" stroke-width="0.55"/>
<line x1="40.00" y1="307.55" x2="42.60" y2="307.55" stroke="#0a0aff" stroke-width="0.55"/>
<line x1="40.00" y1="312.04" x2="42.60" y2="312.04" stroke="#0a0aff" stroke-width="0.55"/>
<path d="M41.30 308.36 L42.67 310.86 L39.92 310.86Z" fill="#0a0aff"/>
<line x1="57.40" y1="307.55" x2="57.40" y2="314.74" stroke="#0a0aff" stroke-width="0.55"/>
<line x1="56.10" y1="307.55" x2="58.70" y2="307.55" stroke="#0a0aff" stroke-width="0.55"/>
<line x1="56.10" y1="314.74" x2="58.70" y2="314.74" stroke="#0a0aff" stroke-width="0.55"/>
<path d="M57.40 309.71 L58.77 312.21 L56.02 312.21Z" fill="#0a0aff"/>
<line x1="73.20" y1="308.90" x2="73.20" y2="317.89" stroke="#0a0aff" stroke-width="0.55"/>
<line x1="71.90" y1="308.90" x2="74.50" y2="308.90" stroke="#0a0aff" stroke-width="0.55"/>
<line x1="71.90" y1="317.89" x2="74.50" y2="317.89" stroke="#0a0aff" stroke-width="0.55"/>
<path d="M73.20 311.95 L74.58 314.45 L71.83 314.45Z" fill="#0a0aff"/>
<line x1="89.30" y1="304.85" x2="89.30" y2="306.65" stroke="#0a0aff" stroke-width="0.55"/>
<line x1="88.00" y1="304.85" x2="90.60" y2="304.85" stroke="#0a0aff" stroke-width="0.55"/>
<line x1="88.00" y1="306.65" x2="90.60" y2="306.65" stroke="#0a0aff" stroke-width="0.55"/>
<path d="M89.30 304.32 L90.67 306.82 L87.92 306.82Z" fill="#0a0aff"/>
<line x1="105.30" y1="306.65" x2="105.30" y2="308.45" stroke="#0a0aff" stroke-width="0.55"/>
<line x1="104.00" y1="306.65" x2="106.60" y2="306.65" stroke="#0a0aff" stroke-width="0.55"/>
<line x1="104.00" y1="308.45" x2="106.60" y2="308.45" stroke="#0a0aff" stroke-width="0.55"/>
<path d="M105.30 306.11 L106.67 308.61 L103.92 308.61Z" fill="#0a0aff"/>
<line x1="121.40" y1="305.75" x2="121.40" y2="309.35" stroke="#0a0aff" stroke-width="0.55"/>
<line x1="120.10" y1="305.75" x2="122.70" y2="305.75" stroke="#0a0aff" stroke-width="0.55"/>
<line x1="120.10" y1="309.35" x2="122.70" y2="309.35" stroke="#0a0aff" stroke-width="0.55"/>
<path d="M121.40 306.11 L122.78 308.61 L120.03 308.61Z" fill="#0a0aff"/>
<polyline fill="none" stroke="#ff2310" stroke-width="0.9" points="41.30,319.23 57.40,323.28 73.20,323.28 89.30,324.63 105.30,323.28 121.40,325.97"/>
<rect x="40.17" y="318.11" width="2.25" height="2.25" fill="#ff2310"/>
<line x1="57.40" y1="322.38" x2="57.40" y2="324.18" stroke="#ff2310" stroke-width="0.55"/>
<line x1="56.10" y1="322.38" x2="58.70" y2="322.38" stroke="#ff2310" stroke-width="0.55"/>
<line x1="56.10" y1="324.18" x2="58.70" y2="324.18" stroke="#ff2310" stroke-width="0.55"/>
<rect x="56.27" y="322.15" width="2.25" height="2.25" fill="#ff2310"/>
<rect x="72.08" y="322.15" width="2.25" height="2.25" fill="#ff2310"/>
<line x1="89.30" y1="323.73" x2="89.30" y2="325.52" stroke="#ff2310" stroke-width="0.55"/>
<line x1="88.00" y1="323.73" x2="90.60" y2="323.73" stroke="#ff2310" stroke-width="0.55"/>
<line x1="88.00" y1="325.52" x2="90.60" y2="325.52" stroke="#ff2310" stroke-width="0.55"/>
<rect x="88.17" y="323.50" width="2.25" height="2.25" fill="#ff2310"/>
<rect x="104.17" y="322.15" width="2.25" height="2.25" fill="#ff2310"/>
<line x1="121.40" y1="324.18" x2="121.40" y2="327.77" stroke="#ff2310" stroke-width="0.55"/>
<line x1="120.10" y1="324.18" x2="122.70" y2="324.18" stroke="#ff2310" stroke-width="0.55"/>
<line x1="120.10" y1="327.77" x2="122.70" y2="327.77" stroke="#ff2310" stroke-width="0.55"/>
<rect x="120.28" y="324.85" width="2.25" height="2.25" fill="#ff2310"/>
<line x1="30.70" y1="274.00" x2="30.70" y2="342.10" stroke="#000" stroke-width="0.8"/>
<line x1="30.30" y1="341.70" x2="131.80" y2="341.70" stroke="#000" stroke-width="0.8"/>
<line x1="28.50" y1="341.70" x2="30.70" y2="341.70" stroke="#000" stroke-width="0.7"/>
<text x="27.70" y="343.70" font-size="5.85" font-weight="bold" font-style="normal" text-anchor="end" fill="#000" stroke="#000" stroke-width="0.22">0.0</text>
<line x1="28.50" y1="319.23" x2="30.70" y2="319.23" stroke="#000" stroke-width="0.7"/>
<text x="27.70" y="321.23" font-size="5.85" font-weight="bold" font-style="normal" text-anchor="end" fill="#000" stroke="#000" stroke-width="0.22">0.5</text>
<line x1="28.50" y1="296.77" x2="30.70" y2="296.77" stroke="#000" stroke-width="0.7"/>
<text x="27.70" y="298.77" font-size="5.85" font-weight="bold" font-style="normal" text-anchor="end" fill="#000" stroke="#000" stroke-width="0.22">1.0</text>
<line x1="28.50" y1="274.30" x2="30.70" y2="274.30" stroke="#000" stroke-width="0.7"/>
<text x="27.70" y="276.30" font-size="5.85" font-weight="bold" font-style="normal" text-anchor="end" fill="#000" stroke="#000" stroke-width="0.22">1.5</text>
<line x1="41.30" y1="341.70" x2="41.30" y2="343.90" stroke="#000" stroke-width="0.7"/>
<text x="41.30" y="349.70" font-size="5.85" font-weight="bold" font-style="normal" text-anchor="middle" fill="#000" stroke="#000" stroke-width="0.22">1</text>
<line x1="57.40" y1="341.70" x2="57.40" y2="343.90" stroke="#000" stroke-width="0.7"/>
<text x="57.40" y="349.70" font-size="5.85" font-weight="bold" font-style="normal" text-anchor="middle" fill="#000" stroke="#000" stroke-width="0.22">5</text>
<line x1="73.20" y1="341.70" x2="73.20" y2="343.90" stroke="#000" stroke-width="0.7"/>
<text x="73.20" y="349.70" font-size="5.85" font-weight="bold" font-style="normal" text-anchor="middle" fill="#000" stroke="#000" stroke-width="0.22">10</text>
<line x1="89.30" y1="341.70" x2="89.30" y2="343.90" stroke="#000" stroke-width="0.7"/>
<text x="89.30" y="349.70" font-size="5.85" font-weight="bold" font-style="normal" text-anchor="middle" fill="#000" stroke="#000" stroke-width="0.22">13</text>
<line x1="105.30" y1="341.70" x2="105.30" y2="343.90" stroke="#000" stroke-width="0.7"/>
<text x="105.30" y="349.70" font-size="5.85" font-weight="bold" font-style="normal" text-anchor="middle" fill="#000" stroke="#000" stroke-width="0.22">15</text>
<line x1="121.40" y1="341.70" x2="121.40" y2="343.90" stroke="#000" stroke-width="0.7"/>
<text x="121.40" y="349.70" font-size="5.85" font-weight="bold" font-style="normal" text-anchor="middle" fill="#000" stroke="#000" stroke-width="0.22">20</text>
<text x="9.70" y="308.00" font-size="5.85" font-weight="bold" font-style="normal" text-anchor="middle" fill="#000" stroke="#000" stroke-width="0.22" transform="rotate(-90 9.70 308.00)">Relative expression of mRNA</text>
<text x="17.10" y="308.00" font-size="5.85" font-weight="bold" font-style="normal" text-anchor="middle" fill="#000" stroke="#000" stroke-width="0.22" transform="rotate(-90 17.10 308.00)">(vs ET of p.1)</text>
<text x="41.30" y="279.40" font-size="5.9" font-weight="normal" font-style="italic" text-anchor="middle" fill="#2f8a22" stroke="#2f8a22" stroke-width="0.16">###</text>
<text x="41.30" y="285.10" font-size="5.9" font-weight="normal" font-style="italic" text-anchor="middle" fill="#0a0aff" stroke="#0a0aff" stroke-width="0.16">#</text>
<text x="41.30" y="291.40" font-size="6.2" font-weight="bold" font-style="normal" text-anchor="middle" fill="#0a0aff" stroke="#0a0aff" stroke-width="0.05" letter-spacing="0.2">**</text>
<text x="41.30" y="329.80" font-size="6.2" font-weight="bold" font-style="normal" text-anchor="middle" fill="#ff2310" stroke="#ff2310" stroke-width="0.05" letter-spacing="0.2">***</text>
<text x="57.40" y="302.90" font-size="5.9" font-weight="normal" font-style="italic" text-anchor="middle" fill="#0a0aff" stroke="#0a0aff" stroke-width="0.16">##</text>
<text x="57.40" y="333.30" font-size="6.2" font-weight="bold" font-style="normal" text-anchor="middle" fill="#ff2310" stroke="#ff2310" stroke-width="0.05" letter-spacing="0.2">*</text>
<text x="73.20" y="291.30" font-size="5.9" font-weight="normal" font-style="italic" text-anchor="middle" fill="#2f8a22" stroke="#2f8a22" stroke-width="0.16">#</text>
<text x="73.20" y="296.80" font-size="5.9" font-weight="normal" font-style="italic" text-anchor="middle" fill="#0a0aff" stroke="#0a0aff" stroke-width="0.16">#</text>
<text x="73.20" y="332.80" font-size="6.2" font-weight="bold" font-style="normal" text-anchor="middle" fill="#ff2310" stroke="#ff2310" stroke-width="0.05" letter-spacing="0.2">***</text>
<text x="89.30" y="291.30" font-size="5.9" font-weight="normal" font-style="italic" text-anchor="middle" fill="#2f8a22" stroke="#2f8a22" stroke-width="0.16">##</text>
<text x="89.30" y="297.80" font-size="5.9" font-weight="normal" font-style="italic" text-anchor="middle" fill="#0a0aff" stroke="#0a0aff" stroke-width="0.16">###</text>
<text x="89.30" y="333.70" font-size="6.2" font-weight="bold" font-style="normal" text-anchor="middle" fill="#ff2310" stroke="#ff2310" stroke-width="0.05" letter-spacing="0.2">**</text>
<text x="105.30" y="293.30" font-size="5.9" font-weight="normal" font-style="italic" text-anchor="middle" fill="#2f8a22" stroke="#2f8a22" stroke-width="0.16">###</text>
<text x="105.30" y="299.90" font-size="5.9" font-weight="normal" font-style="italic" text-anchor="middle" fill="#0a0aff" stroke="#0a0aff" stroke-width="0.16">###</text>
<text x="105.30" y="332.80" font-size="6.2" font-weight="bold" font-style="normal" text-anchor="middle" fill="#ff2310" stroke="#ff2310" stroke-width="0.05" letter-spacing="0.2">***</text>
<text x="121.40" y="294.80" font-size="5.9" font-weight="normal" font-style="italic" text-anchor="middle" fill="#2f8a22" stroke="#2f8a22" stroke-width="0.16">###</text>
<text x="121.40" y="300.90" font-size="5.9" font-weight="normal" font-style="italic" text-anchor="middle" fill="#0a0aff" stroke="#0a0aff" stroke-width="0.16">###</text>
<text x="121.40" y="336.30" font-size="6.2" font-weight="bold" font-style="normal" text-anchor="middle" fill="#ff2310" stroke="#ff2310" stroke-width="0.05" letter-spacing="0.2">**</text>
<text x="210.50" y="266.30" font-size="5.85" font-weight="bold" font-style="italic" text-anchor="middle" fill="#000" stroke="#000" stroke-width="0.22">Stra8</text>
<polyline fill="none" stroke="#000" stroke-width="0.9" points="171.80,324.27 187.70,320.87 203.70,322.91 219.40,317.81 235.50,311.51 251.50,319.17"/>
<line x1="171.80" y1="322.91" x2="171.80" y2="325.64" stroke="#000" stroke-width="0.55"/>
<line x1="170.50" y1="322.91" x2="173.10" y2="322.91" stroke="#000" stroke-width="0.55"/>
<line x1="170.50" y1="325.64" x2="173.10" y2="325.64" stroke="#000" stroke-width="0.55"/>
<circle cx="171.80" cy="324.27" r="1.19" fill="#000"/>
<line x1="187.70" y1="318.66" x2="187.70" y2="323.08" stroke="#000" stroke-width="0.55"/>
<line x1="186.40" y1="318.66" x2="189.00" y2="318.66" stroke="#000" stroke-width="0.55"/>
<line x1="186.40" y1="323.08" x2="189.00" y2="323.08" stroke="#000" stroke-width="0.55"/>
<circle cx="187.70" cy="320.87" r="1.19" fill="#000"/>
<circle cx="203.70" cy="322.91" r="1.19" fill="#000"/>
<circle cx="219.40" cy="317.81" r="1.19" fill="#000"/>
<line x1="235.50" y1="310.66" x2="235.50" y2="312.36" stroke="#000" stroke-width="0.55"/>
<line x1="234.20" y1="310.66" x2="236.80" y2="310.66" stroke="#000" stroke-width="0.55"/>
<line x1="234.20" y1="312.36" x2="236.80" y2="312.36" stroke="#000" stroke-width="0.55"/>
<circle cx="235.50" cy="311.51" r="1.19" fill="#000"/>
<line x1="251.50" y1="316.61" x2="251.50" y2="321.72" stroke="#000" stroke-width="0.55"/>
<line x1="250.20" y1="316.61" x2="252.80" y2="316.61" stroke="#000" stroke-width="0.55"/>
<line x1="250.20" y1="321.72" x2="252.80" y2="321.72" stroke="#000" stroke-width="0.55"/>
<circle cx="251.50" cy="319.17" r="1.19" fill="#000"/>
<polyline fill="none" stroke="#2f8a22" stroke-width="0.9" points="171.80,312.36 187.70,317.12 203.70,317.81 219.40,305.21 235.50,306.40 251.50,313.21"/>
<line x1="171.80" y1="311.34" x2="171.80" y2="313.38" stroke="#2f8a22" stroke-width="0.55"/>
<line x1="170.50" y1="311.34" x2="173.10" y2="311.34" stroke="#2f8a22" stroke-width="0.55"/>
<line x1="170.50" y1="313.38" x2="173.10" y2="313.38" stroke="#2f8a22" stroke-width="0.55"/>
<path d="M171.80 313.80 L173.18 311.30 L170.43 311.30Z" fill="#2f8a22"/>
<line x1="187.70" y1="315.08" x2="187.70" y2="319.17" stroke="#2f8a22" stroke-width="0.55"/>
<line x1="186.40" y1="315.08" x2="189.00" y2="315.08" stroke="#2f8a22" stroke-width="0.55"/>
<line x1="186.40" y1="319.17" x2="189.00" y2="319.17" stroke="#2f8a22" stroke-width="0.55"/>
<path d="M187.70 318.56 L189.07 316.06 L186.32 316.06Z" fill="#2f8a22"/>
<line x1="203.70" y1="317.12" x2="203.70" y2="318.49" stroke="#2f8a22" stroke-width="0.55"/>
<line x1="202.40" y1="317.12" x2="205.00" y2="317.12" stroke="#2f8a22" stroke-width="0.55"/>
<line x1="202.40" y1="318.49" x2="205.00" y2="318.49" stroke="#2f8a22" stroke-width="0.55"/>
<path d="M203.70 319.24 L205.07 316.74 L202.32 316.74Z" fill="#2f8a22"/>
<line x1="219.40" y1="302.99" x2="219.40" y2="307.42" stroke="#2f8a22" stroke-width="0.55"/>
<line x1="218.10" y1="302.99" x2="220.70" y2="302.99" stroke="#2f8a22" stroke-width="0.55"/>
<line x1="218.10" y1="307.42" x2="220.70" y2="307.42" stroke="#2f8a22" stroke-width="0.55"/>
<path d="M219.40 306.64 L220.78 304.14 L218.03 304.14Z" fill="#2f8a22"/>
<line x1="235.50" y1="302.14" x2="235.50" y2="310.66" stroke="#2f8a22" stroke-width="0.55"/>
<line x1="234.20" y1="302.14" x2="236.80" y2="302.14" stroke="#2f8a22" stroke-width="0.55"/>
<line x1="234.20" y1="310.66" x2="236.80" y2="310.66" stroke="#2f8a22" stroke-width="0.55"/>
<path d="M235.50 307.84 L236.88 305.34 L234.12 305.34Z" fill="#2f8a22"/>
<line x1="251.50" y1="312.02" x2="251.50" y2="314.40" stroke="#2f8a22" stroke-width="0.55"/>
<line x1="250.20" y1="312.02" x2="252.80" y2="312.02" stroke="#2f8a22" stroke-width="0.55"/>
<line x1="250.20" y1="314.40" x2="252.80" y2="314.40" stroke="#2f8a22" stroke-width="0.55"/>
<path d="M251.50 314.65 L252.88 312.15 L250.12 312.15Z" fill="#2f8a22"/>
<polyline fill="none" stroke="#0a0aff" stroke-width="0.9" points="171.80,323.76 187.70,316.61 203.70,316.10 219.40,300.95 235.50,290.57 251.50,303.50"/>
<line x1="171.80" y1="322.40" x2="171.80" y2="325.13" stroke="#0a0aff" stroke-width="0.55"/>
<line x1="170.50" y1="322.40" x2="173.10" y2="322.40" stroke="#0a0aff" stroke-width="0.55"/>
<line x1="170.50" y1="325.13" x2="173.10" y2="325.13" stroke="#0a0aff" stroke-width="0.55"/>
<path d="M171.80 322.33 L173.18 324.83 L170.43 324.83Z" fill="#0a0aff"/>
<line x1="187.70" y1="314.91" x2="187.70" y2="318.32" stroke="#0a0aff" stroke-width="0.55"/>
<line x1="186.40" y1="314.91" x2="189.00" y2="314.91" stroke="#0a0aff" stroke-width="0.55"/>
<line x1="186.40" y1="318.32" x2="189.00" y2="318.32" stroke="#0a0aff" stroke-width="0.55"/>
<path d="M187.70 315.18 L189.07 317.68 L186.32 317.68Z" fill="#0a0aff"/>
<line x1="203.70" y1="314.74" x2="203.70" y2="317.47" stroke="#0a0aff" stroke-width="0.55"/>
<line x1="202.40" y1="314.74" x2="205.00" y2="314.74" stroke="#0a0aff" stroke-width="0.55"/>
<line x1="202.40" y1="317.47" x2="205.00" y2="317.47" stroke="#0a0aff" stroke-width="0.55"/>
<path d="M203.70 314.67 L205.07 317.17 L202.32 317.17Z" fill="#0a0aff"/>
<line x1="219.40" y1="300.10" x2="219.40" y2="301.80" stroke="#0a0aff" stroke-width="0.55"/>
<line x1="218.10" y1="300.10" x2="220.70" y2="300.10" stroke="#0a0aff" stroke-width="0.55"/>
<line x1="218.10" y1="301.80" x2="220.70" y2="301.80" stroke="#0a0aff" stroke-width="0.55"/>
<path d="M219.40 299.51 L220.78 302.01 L218.03 302.01Z" fill="#0a0aff"/>
<line x1="235.50" y1="288.52" x2="235.50" y2="292.61" stroke="#0a0aff" stroke-width="0.55"/>
<line x1="234.20" y1="288.52" x2="236.80" y2="288.52" stroke="#0a0aff" stroke-width="0.55"/>
<line x1="234.20" y1="292.61" x2="236.80" y2="292.61" stroke="#0a0aff" stroke-width="0.55"/>
<path d="M235.50 289.13 L236.88 291.63 L234.12 291.63Z" fill="#0a0aff"/>
<line x1="251.50" y1="300.61" x2="251.50" y2="306.40" stroke="#0a0aff" stroke-width="0.55"/>
<line x1="250.20" y1="300.61" x2="252.80" y2="300.61" stroke="#0a0aff" stroke-width="0.55"/>
<line x1="250.20" y1="306.40" x2="252.80" y2="306.40" stroke="#0a0aff" stroke-width="0.55"/>
<path d="M251.50 302.07 L252.88 304.57 L250.12 304.57Z" fill="#0a0aff"/>
<polyline fill="none" stroke="#ff2310" stroke-width="0.9" points="171.80,332.45 187.70,333.30 203.70,338.24 219.40,332.45 235.50,333.47 251.50,332.28"/>
<rect x="170.68" y="331.32" width="2.25" height="2.25" fill="#ff2310"/>
<rect x="186.57" y="332.17" width="2.25" height="2.25" fill="#ff2310"/>
<rect x="202.57" y="337.11" width="2.25" height="2.25" fill="#ff2310"/>
<rect x="218.28" y="331.32" width="2.25" height="2.25" fill="#ff2310"/>
<rect x="234.38" y="332.34" width="2.25" height="2.25" fill="#ff2310"/>
<rect x="250.38" y="331.15" width="2.25" height="2.25" fill="#ff2310"/>
<line x1="160.50" y1="272.90" x2="160.50" y2="341.70" stroke="#000" stroke-width="0.8"/>
<line x1="160.10" y1="341.30" x2="262.70" y2="341.30" stroke="#000" stroke-width="0.8"/>
<line x1="158.30" y1="341.30" x2="160.50" y2="341.30" stroke="#000" stroke-width="0.7"/>
<text x="157.50" y="343.30" font-size="5.85" font-weight="bold" font-style="normal" text-anchor="end" fill="#000" stroke="#000" stroke-width="0.22">0</text>
<line x1="158.30" y1="324.27" x2="160.50" y2="324.27" stroke="#000" stroke-width="0.7"/>
<text x="157.50" y="326.27" font-size="5.85" font-weight="bold" font-style="normal" text-anchor="end" fill="#000" stroke="#000" stroke-width="0.22">1</text>
<line x1="158.30" y1="307.25" x2="160.50" y2="307.25" stroke="#000" stroke-width="0.7"/>
<text x="157.50" y="309.25" font-size="5.85" font-weight="bold" font-style="normal" text-anchor="end" fill="#000" stroke="#000" stroke-width="0.22">2</text>
<line x1="158.30" y1="290.23" x2="160.50" y2="290.23" stroke="#000" stroke-width="0.7"/>
<text x="157.50" y="292.23" font-size="5.85" font-weight="bold" font-style="normal" text-anchor="end" fill="#000" stroke="#000" stroke-width="0.22">3</text>
<line x1="158.30" y1="273.20" x2="160.50" y2="273.20" stroke="#000" stroke-width="0.7"/>
<text x="157.50" y="275.20" font-size="5.85" font-weight="bold" font-style="normal" text-anchor="end" fill="#000" stroke="#000" stroke-width="0.22">4</text>
<line x1="171.80" y1="341.30" x2="171.80" y2="343.50" stroke="#000" stroke-width="0.7"/>
<text x="171.80" y="349.30" font-size="5.85" font-weight="bold" font-style="normal" text-anchor="middle" fill="#000" stroke="#000" stroke-width="0.22">1</text>
<line x1="187.70" y1="341.30" x2="187.70" y2="343.50" stroke="#000" stroke-width="0.7"/>
<text x="187.70" y="349.30" font-size="5.85" font-weight="bold" font-style="normal" text-anchor="middle" fill="#000" stroke="#000" stroke-width="0.22">5</text>
<line x1="203.70" y1="341.30" x2="203.70" y2="343.50" stroke="#000" stroke-width="0.7"/>
<text x="203.70" y="349.30" font-size="5.85" font-weight="bold" font-style="normal" text-anchor="middle" fill="#000" stroke="#000" stroke-width="0.22">10</text>
<line x1="219.40" y1="341.30" x2="219.40" y2="343.50" stroke="#000" stroke-width="0.7"/>
<text x="219.40" y="349.30" font-size="5.85" font-weight="bold" font-style="normal" text-anchor="middle" fill="#000" stroke="#000" stroke-width="0.22">13</text>
<line x1="235.50" y1="341.30" x2="235.50" y2="343.50" stroke="#000" stroke-width="0.7"/>
<text x="235.50" y="349.30" font-size="5.85" font-weight="bold" font-style="normal" text-anchor="middle" fill="#000" stroke="#000" stroke-width="0.22">15</text>
<line x1="251.50" y1="341.30" x2="251.50" y2="343.50" stroke="#000" stroke-width="0.7"/>
<text x="251.50" y="349.30" font-size="5.85" font-weight="bold" font-style="normal" text-anchor="middle" fill="#000" stroke="#000" stroke-width="0.22">20</text>
<text x="144.80" y="307.25" font-size="5.85" font-weight="bold" font-style="normal" text-anchor="middle" fill="#000" stroke="#000" stroke-width="0.22" transform="rotate(-90 144.80 307.25)">Relative expression of mRNA</text>
<text x="152.20" y="307.25" font-size="5.85" font-weight="bold" font-style="normal" text-anchor="middle" fill="#000" stroke="#000" stroke-width="0.22" transform="rotate(-90 152.20 307.25)">(vs ET of p.1)</text>
<text x="171.80" y="295.40" font-size="5.9" font-weight="normal" font-style="italic" text-anchor="middle" fill="#2f8a22" stroke="#2f8a22" stroke-width="0.16">###</text>
<text x="171.80" y="301.50" font-size="5.9" font-weight="normal" font-style="italic" text-anchor="middle" fill="#0a0aff" stroke="#0a0aff" stroke-width="0.16">##</text>
<text x="171.80" y="308.10" font-size="6.2" font-weight="bold" font-style="normal" text-anchor="middle" fill="#2f8a22" stroke="#2f8a22" stroke-width="0.05" letter-spacing="0.2">***</text>
<text x="171.80" y="340.80" font-size="6.2" font-weight="bold" font-style="normal" text-anchor="middle" fill="#ff2310" stroke="#ff2310" stroke-width="0.05" letter-spacing="0.2">**</text>
<text x="187.70" y="301.90" font-size="5.9" font-weight="normal" font-style="italic" text-anchor="middle" fill="#2f8a22" stroke="#2f8a22" stroke-width="0.16">###</text>
<text x="187.70" y="308.10" font-size="5.9" font-weight="normal" font-style="italic" text-anchor="middle" fill="#0a0aff" stroke="#0a0aff" stroke-width="0.16">###</text>
<text x="187.70" y="331.20" font-size="6.2" font-weight="bold" font-style="normal" text-anchor="middle" fill="#ff2310" stroke="#ff2310" stroke-width="0.05" letter-spacing="0.2">***</text>
<text x="203.70" y="299.90" font-size="5.9" font-weight="normal" font-style="italic" text-anchor="middle" fill="#2f8a22" stroke="#2f8a22" stroke-width="0.16">###</text>
<text x="203.70" y="306.40" font-size="5.9" font-weight="normal" font-style="italic" text-anchor="middle" fill="#0a0aff" stroke="#0a0aff" stroke-width="0.16">###</text>
<text x="203.70" y="312.80" font-size="6.2" font-weight="bold" font-style="normal" text-anchor="middle" fill="#0a0aff" stroke="#0a0aff" stroke-width="0.05" letter-spacing="0.2">*</text>
<text x="203.70" y="335.30" font-size="6.2" font-weight="bold" font-style="normal" text-anchor="middle" fill="#ff2310" stroke="#ff2310" stroke-width="0.05" letter-spacing="0.2">***</text>
<text x="219.40" y="279.00" font-size="5.9" font-weight="normal" font-style="italic" text-anchor="middle" fill="#2f8a22" stroke="#2f8a22" stroke-width="0.16">###</text>
<text x="219.40" y="285.10" font-size="5.9" font-weight="normal" font-style="italic" text-anchor="middle" fill="#0a0aff" stroke="#0a0aff" stroke-width="0.16">###</text>
<text x="219.40" y="291.40" font-size="6.2" font-weight="bold" font-style="normal" text-anchor="middle" fill="#2f8a22" stroke="#2f8a22" stroke-width="0.05" letter-spacing="0.2">***</text>
<text x="219.40" y="296.50" font-size="6.2" font-weight="bold" font-style="normal" text-anchor="middle" fill="#0a0aff" stroke="#0a0aff" stroke-width="0.05" letter-spacing="0.2">***</text>
<text x="219.40" y="330.20" font-size="6.2" font-weight="bold" font-style="normal" text-anchor="middle" fill="#ff2310" stroke="#ff2310" stroke-width="0.05" letter-spacing="0.2">***</text>
<text x="235.50" y="274.90" font-size="5.9" font-weight="normal" font-style="italic" text-anchor="middle" fill="#2f8a22" stroke="#2f8a22" stroke-width="0.16">###</text>
<text x="235.50" y="280.90" font-size="5.9" font-weight="normal" font-style="italic" text-anchor="middle" fill="#0a0aff" stroke="#0a0aff" stroke-width="0.16">###</text>
<text x="235.50" y="286.30" font-size="6.2" font-weight="bold" font-style="normal" text-anchor="middle" fill="#0a0aff" stroke="#0a0aff" stroke-width="0.05" letter-spacing="0.2">***</text>
<text x="235.50" y="330.80" font-size="6.2" font-weight="bold" font-style="normal" text-anchor="middle" fill="#ff2310" stroke="#ff2310" stroke-width="0.05" letter-spacing="0.2">***</text>
<text x="251.50" y="278.80" font-size="5.9" font-weight="normal" font-style="italic" text-anchor="middle" fill="#2f8a22" stroke="#2f8a22" stroke-width="0.16">###</text>
<text x="251.50" y="284.90" font-size="5.9" font-weight="normal" font-style="italic" text-anchor="middle" fill="#0a0aff" stroke="#0a0aff" stroke-width="0.16">###</text>
<text x="251.50" y="291.40" font-size="6.2" font-weight="bold" font-style="normal" text-anchor="middle" fill="#2f8a22" stroke="#2f8a22" stroke-width="0.05" letter-spacing="0.2">*</text>
<text x="251.50" y="297.50" font-size="6.2" font-weight="bold" font-style="normal" text-anchor="middle" fill="#0a0aff" stroke="#0a0aff" stroke-width="0.05" letter-spacing="0.2">***</text>
<text x="251.50" y="330.60" font-size="6.2" font-weight="bold" font-style="normal" text-anchor="middle" fill="#ff2310" stroke="#ff2310" stroke-width="0.05" letter-spacing="0.2">***</text>
<text x="342.70" y="266.30" font-size="5.85" font-weight="bold" font-style="italic" text-anchor="middle" fill="#000" stroke="#000" stroke-width="0.22">Foxa1</text>
<polyline fill="none" stroke="#000" stroke-width="0.9" points="302.10,318.73 318.00,331.82 334.00,330.69 350.10,328.89 366.00,325.50 382.00,320.99"/>
<line x1="302.10" y1="316.93" x2="302.10" y2="320.54" stroke="#000" stroke-width="0.55"/>
<line x1="300.80" y1="316.93" x2="303.40" y2="316.93" stroke="#000" stroke-width="0.55"/>
<line x1="300.80" y1="320.54" x2="303.40" y2="320.54" stroke="#000" stroke-width="0.55"/>
<circle cx="302.10" cy="318.73" r="1.19" fill="#000"/>
<line x1="318.00" y1="330.92" x2="318.00" y2="332.72" stroke="#000" stroke-width="0.55"/>
<line x1="316.70" y1="330.92" x2="319.30" y2="330.92" stroke="#000" stroke-width="0.55"/>
<line x1="316.70" y1="332.72" x2="319.30" y2="332.72" stroke="#000" stroke-width="0.55"/>
<circle cx="318.00" cy="331.82" r="1.19" fill="#000"/>
<line x1="334.00" y1="329.79" x2="334.00" y2="331.60" stroke="#000" stroke-width="0.55"/>
<line x1="332.70" y1="329.79" x2="335.30" y2="329.79" stroke="#000" stroke-width="0.55"/>
<line x1="332.70" y1="331.60" x2="335.30" y2="331.60" stroke="#000" stroke-width="0.55"/>
<circle cx="334.00" cy="330.69" r="1.19" fill="#000"/>
<line x1="350.10" y1="327.99" x2="350.10" y2="329.79" stroke="#000" stroke-width="0.55"/>
<line x1="348.80" y1="327.99" x2="351.40" y2="327.99" stroke="#000" stroke-width="0.55"/>
<line x1="348.80" y1="329.79" x2="351.40" y2="329.79" stroke="#000" stroke-width="0.55"/>
<circle cx="350.10" cy="328.89" r="1.19" fill="#000"/>
<line x1="366.00" y1="324.60" x2="366.00" y2="326.41" stroke="#000" stroke-width="0.55"/>
<line x1="364.70" y1="324.60" x2="367.30" y2="324.60" stroke="#000" stroke-width="0.55"/>
<line x1="364.70" y1="326.41" x2="367.30" y2="326.41" stroke="#000" stroke-width="0.55"/>
<circle cx="366.00" cy="325.50" r="1.19" fill="#000"/>
<line x1="382.00" y1="317.61" x2="382.00" y2="324.38" stroke="#000" stroke-width="0.55"/>
<line x1="380.70" y1="317.61" x2="383.30" y2="317.61" stroke="#000" stroke-width="0.55"/>
<line x1="380.70" y1="324.38" x2="383.30" y2="324.38" stroke="#000" stroke-width="0.55"/>
<circle cx="382.00" cy="320.99" r="1.19" fill="#000"/>
<polyline fill="none" stroke="#2f8a22" stroke-width="0.9" points="302.10,330.02 318.00,328.89 334.00,325.95 350.10,320.99 366.00,325.50 382.00,321.67"/>
<line x1="302.10" y1="328.89" x2="302.10" y2="331.14" stroke="#2f8a22" stroke-width="0.55"/>
<line x1="300.80" y1="328.89" x2="303.40" y2="328.89" stroke="#2f8a22" stroke-width="0.55"/>
<line x1="300.80" y1="331.14" x2="303.40" y2="331.14" stroke="#2f8a22" stroke-width="0.55"/>
<path d="M302.10 331.45 L303.48 328.95 L300.73 328.95Z" fill="#2f8a22"/>
<line x1="318.00" y1="325.73" x2="318.00" y2="332.05" stroke="#2f8a22" stroke-width="0.55"/>
<line x1="316.70" y1="325.73" x2="319.30" y2="325.73" stroke="#2f8a22" stroke-width="0.55"/>
<line x1="316.70" y1="332.05" x2="319.30" y2="332.05" stroke="#2f8a22" stroke-width="0.55"/>
<path d="M318.00 330.33 L319.38 327.83 L316.62 327.83Z" fill="#2f8a22"/>
<line x1="334.00" y1="324.83" x2="334.00" y2="327.08" stroke="#2f8a22" stroke-width="0.55"/>
<line x1="332.70" y1="324.83" x2="335.30" y2="324.83" stroke="#2f8a22" stroke-width="0.55"/>
<line x1="332.70" y1="327.08" x2="335.30" y2="327.08" stroke="#2f8a22" stroke-width="0.55"/>
<path d="M334.00 327.39 L335.38 324.89 L332.62 324.89Z" fill="#2f8a22"/>
<line x1="350.10" y1="318.28" x2="350.10" y2="323.70" stroke="#2f8a22" stroke-width="0.55"/>
<line x1="348.80" y1="318.28" x2="351.40" y2="318.28" stroke="#2f8a22" stroke-width="0.55"/>
<line x1="348.80" y1="323.70" x2="351.40" y2="323.70" stroke="#2f8a22" stroke-width="0.55"/>
<path d="M350.10 322.43 L351.48 319.93 L348.73 319.93Z" fill="#2f8a22"/>
<line x1="366.00" y1="324.38" x2="366.00" y2="326.63" stroke="#2f8a22" stroke-width="0.55"/>
<line x1="364.70" y1="324.38" x2="367.30" y2="324.38" stroke="#2f8a22" stroke-width="0.55"/>
<line x1="364.70" y1="326.63" x2="367.30" y2="326.63" stroke="#2f8a22" stroke-width="0.55"/>
<path d="M366.00 326.94 L367.38 324.44 L364.62 324.44Z" fill="#2f8a22"/>
<line x1="382.00" y1="319.86" x2="382.00" y2="323.47" stroke="#2f8a22" stroke-width="0.55"/>
<line x1="380.70" y1="319.86" x2="383.30" y2="319.86" stroke="#2f8a22" stroke-width="0.55"/>
<line x1="380.70" y1="323.47" x2="383.30" y2="323.47" stroke="#2f8a22" stroke-width="0.55"/>
<path d="M382.00 323.10 L383.38 320.60 L380.62 320.60Z" fill="#2f8a22"/>
<polyline fill="none" stroke="#0a0aff" stroke-width="0.9" points="302.10,331.60 318.00,331.82 334.00,330.02 350.10,320.31 366.00,325.50 382.00,332.27"/>
<line x1="302.10" y1="330.47" x2="302.10" y2="332.72" stroke="#0a0aff" stroke-width="0.55"/>
<line x1="300.80" y1="330.47" x2="303.40" y2="330.47" stroke="#0a0aff" stroke-width="0.55"/>
<line x1="300.80" y1="332.72" x2="303.40" y2="332.72" stroke="#0a0aff" stroke-width="0.55"/>
<path d="M302.10 330.16 L303.48 332.66 L300.73 332.66Z" fill="#0a0aff"/>
<line x1="318.00" y1="330.47" x2="318.00" y2="333.18" stroke="#0a0aff" stroke-width="0.55"/>
<line x1="316.70" y1="330.47" x2="319.30" y2="330.47" stroke="#0a0aff" stroke-width="0.55"/>
<line x1="316.70" y1="333.18" x2="319.30" y2="333.18" stroke="#0a0aff" stroke-width="0.55"/>
<path d="M318.00 330.38 L319.38 332.88 L316.62 332.88Z" fill="#0a0aff"/>
<line x1="334.00" y1="324.83" x2="334.00" y2="335.21" stroke="#0a0aff" stroke-width="0.55"/>
<line x1="332.70" y1="324.83" x2="335.30" y2="324.83" stroke="#0a0aff" stroke-width="0.55"/>
<line x1="332.70" y1="335.21" x2="335.30" y2="335.21" stroke="#0a0aff" stroke-width="0.55"/>
<path d="M334.00 328.58 L335.38 331.08 L332.62 331.08Z" fill="#0a0aff"/>
<line x1="350.10" y1="316.70" x2="350.10" y2="323.92" stroke="#0a0aff" stroke-width="0.55"/>
<line x1="348.80" y1="316.70" x2="351.40" y2="316.70" stroke="#0a0aff" stroke-width="0.55"/>
<line x1="348.80" y1="323.92" x2="351.40" y2="323.92" stroke="#0a0aff" stroke-width="0.55"/>
<path d="M350.10 318.88 L351.48 321.38 L348.73 321.38Z" fill="#0a0aff"/>
<line x1="366.00" y1="322.80" x2="366.00" y2="328.21" stroke="#0a0aff" stroke-width="0.55"/>
<line x1="364.70" y1="322.80" x2="367.30" y2="322.80" stroke="#0a0aff" stroke-width="0.55"/>
<line x1="364.70" y1="328.21" x2="367.30" y2="328.21" stroke="#0a0aff" stroke-width="0.55"/>
<path d="M366.00 324.07 L367.38 326.57 L364.62 326.57Z" fill="#0a0aff"/>
<line x1="382.00" y1="331.15" x2="382.00" y2="333.40" stroke="#0a0aff" stroke-width="0.55"/>
<line x1="380.70" y1="331.15" x2="383.30" y2="331.15" stroke="#0a0aff" stroke-width="0.55"/>
<line x1="380.70" y1="333.40" x2="383.30" y2="333.40" stroke="#0a0aff" stroke-width="0.55"/>
<path d="M382.00 330.84 L383.38 333.34 L380.62 333.34Z" fill="#0a0aff"/>
<polyline fill="none" stroke="#ff2310" stroke-width="0.9" points="302.10,302.49 318.00,313.09 334.00,317.38 350.10,306.77 366.00,315.35 382.00,292.33"/>
<line x1="302.10" y1="297.52" x2="302.10" y2="307.45" stroke="#ff2310" stroke-width="0.55"/>
<line x1="300.80" y1="297.52" x2="303.40" y2="297.52" stroke="#ff2310" stroke-width="0.55"/>
<line x1="300.80" y1="307.45" x2="303.40" y2="307.45" stroke="#ff2310" stroke-width="0.55"/>
<rect x="300.98" y="301.36" width="2.25" height="2.25" fill="#ff2310"/>
<line x1="318.00" y1="309.93" x2="318.00" y2="316.25" stroke="#ff2310" stroke-width="0.55"/>
<line x1="316.70" y1="309.93" x2="319.30" y2="309.93" stroke="#ff2310" stroke-width="0.55"/>
<line x1="316.70" y1="316.25" x2="319.30" y2="316.25" stroke="#ff2310" stroke-width="0.55"/>
<rect x="316.88" y="311.97" width="2.25" height="2.25" fill="#ff2310"/>
<line x1="334.00" y1="315.12" x2="334.00" y2="319.64" stroke="#ff2310" stroke-width="0.55"/>
<line x1="332.70" y1="315.12" x2="335.30" y2="315.12" stroke="#ff2310" stroke-width="0.55"/>
<line x1="332.70" y1="319.64" x2="335.30" y2="319.64" stroke="#ff2310" stroke-width="0.55"/>
<rect x="332.88" y="316.25" width="2.25" height="2.25" fill="#ff2310"/>
<line x1="350.10" y1="303.39" x2="350.10" y2="310.16" stroke="#ff2310" stroke-width="0.55"/>
<line x1="348.80" y1="303.39" x2="351.40" y2="303.39" stroke="#ff2310" stroke-width="0.55"/>
<line x1="348.80" y1="310.16" x2="351.40" y2="310.16" stroke="#ff2310" stroke-width="0.55"/>
<rect x="348.98" y="305.65" width="2.25" height="2.25" fill="#ff2310"/>
<line x1="366.00" y1="310.38" x2="366.00" y2="320.31" stroke="#ff2310" stroke-width="0.55"/>
<line x1="364.70" y1="310.38" x2="367.30" y2="310.38" stroke="#ff2310" stroke-width="0.55"/>
<line x1="364.70" y1="320.31" x2="367.30" y2="320.31" stroke="#ff2310" stroke-width="0.55"/>
<rect x="364.88" y="314.22" width="2.25" height="2.25" fill="#ff2310"/>
<line x1="382.00" y1="282.18" x2="382.00" y2="302.49" stroke="#ff2310" stroke-width="0.55"/>
<line x1="380.70" y1="282.18" x2="383.30" y2="282.18" stroke="#ff2310" stroke-width="0.55"/>
<line x1="380.70" y1="302.49" x2="383.30" y2="302.49" stroke="#ff2310" stroke-width="0.55"/>
<rect x="380.88" y="291.21" width="2.25" height="2.25" fill="#ff2310"/>
<line x1="290.40" y1="273.30" x2="290.40" y2="341.70" stroke="#000" stroke-width="0.8"/>
<line x1="290.00" y1="341.30" x2="392.60" y2="341.30" stroke="#000" stroke-width="0.8"/>
<line x1="288.20" y1="341.30" x2="290.40" y2="341.30" stroke="#000" stroke-width="0.7"/>
<text x="287.40" y="343.30" font-size="5.85" font-weight="bold" font-style="normal" text-anchor="end" fill="#000" stroke="#000" stroke-width="0.22">0</text>
<line x1="288.20" y1="318.73" x2="290.40" y2="318.73" stroke="#000" stroke-width="0.7"/>
<text x="287.40" y="320.73" font-size="5.85" font-weight="bold" font-style="normal" text-anchor="end" fill="#000" stroke="#000" stroke-width="0.22">1</text>
<line x1="288.20" y1="296.17" x2="290.40" y2="296.17" stroke="#000" stroke-width="0.7"/>
<text x="287.40" y="298.17" font-size="5.85" font-weight="bold" font-style="normal" text-anchor="end" fill="#000" stroke="#000" stroke-width="0.22">2</text>
<line x1="288.20" y1="273.60" x2="290.40" y2="273.60" stroke="#000" stroke-width="0.7"/>
<text x="287.40" y="275.60" font-size="5.85" font-weight="bold" font-style="normal" text-anchor="end" fill="#000" stroke="#000" stroke-width="0.22">3</text>
<line x1="302.10" y1="341.30" x2="302.10" y2="343.50" stroke="#000" stroke-width="0.7"/>
<text x="302.10" y="349.30" font-size="5.85" font-weight="bold" font-style="normal" text-anchor="middle" fill="#000" stroke="#000" stroke-width="0.22">1</text>
<line x1="318.00" y1="341.30" x2="318.00" y2="343.50" stroke="#000" stroke-width="0.7"/>
<text x="318.00" y="349.30" font-size="5.85" font-weight="bold" font-style="normal" text-anchor="middle" fill="#000" stroke="#000" stroke-width="0.22">5</text>
<line x1="334.00" y1="341.30" x2="334.00" y2="343.50" stroke="#000" stroke-width="0.7"/>
<text x="334.00" y="349.30" font-size="5.85" font-weight="bold" font-style="normal" text-anchor="middle" fill="#000" stroke="#000" stroke-width="0.22">10</text>
<line x1="350.10" y1="341.30" x2="350.10" y2="343.50" stroke="#000" stroke-width="0.7"/>
<text x="350.10" y="349.30" font-size="5.85" font-weight="bold" font-style="normal" text-anchor="middle" fill="#000" stroke="#000" stroke-width="0.22">13</text>
<line x1="366.00" y1="341.30" x2="366.00" y2="343.50" stroke="#000" stroke-width="0.7"/>
<text x="366.00" y="349.30" font-size="5.85" font-weight="bold" font-style="normal" text-anchor="middle" fill="#000" stroke="#000" stroke-width="0.22">15</text>
<line x1="382.00" y1="341.30" x2="382.00" y2="343.50" stroke="#000" stroke-width="0.7"/>
<text x="382.00" y="349.30" font-size="5.85" font-weight="bold" font-style="normal" text-anchor="middle" fill="#000" stroke="#000" stroke-width="0.22">20</text>
<text x="274.70" y="307.45" font-size="5.85" font-weight="bold" font-style="normal" text-anchor="middle" fill="#000" stroke="#000" stroke-width="0.22" transform="rotate(-90 274.70 307.45)">Relative expression of mRNA</text>
<text x="282.10" y="307.45" font-size="5.85" font-weight="bold" font-style="normal" text-anchor="middle" fill="#000" stroke="#000" stroke-width="0.22" transform="rotate(-90 282.10 307.45)">(vs ET of p.1)</text>
<text x="302.10" y="274.90" font-size="5.9" font-weight="normal" font-style="italic" text-anchor="middle" fill="#2f8a22" stroke="#2f8a22" stroke-width="0.16">###</text>
<text x="302.10" y="282.10" font-size="5.9" font-weight="normal" font-style="italic" text-anchor="middle" fill="#0a0aff" stroke="#0a0aff" stroke-width="0.16">###</text>
<text x="302.10" y="290.30" font-size="6.2" font-weight="bold" font-style="normal" text-anchor="middle" fill="#0a0aff" stroke="#0a0aff" stroke-width="0.05" letter-spacing="0.2">*</text>
<text x="302.10" y="295.80" font-size="6.2" font-weight="bold" font-style="normal" text-anchor="middle" fill="#ff2310" stroke="#ff2310" stroke-width="0.05" letter-spacing="0.2">**</text>
<text x="318.00" y="293.70" font-size="5.9" font-weight="normal" font-style="italic" text-anchor="middle" fill="#2f8a22" stroke="#2f8a22" stroke-width="0.16">##</text>
<text x="318.00" y="300.90" font-size="5.9" font-weight="normal" font-style="italic" text-anchor="middle" fill="#0a0aff" stroke="#0a0aff" stroke-width="0.16">##</text>
<text x="318.00" y="308.10" font-size="6.2" font-weight="bold" font-style="normal" text-anchor="middle" fill="#ff2310" stroke="#ff2310" stroke-width="0.05" letter-spacing="0.2">**</text>
<text x="334.00" y="312.80" font-size="6.2" font-weight="bold" font-style="normal" text-anchor="middle" fill="#ff2310" stroke="#ff2310" stroke-width="0.05" letter-spacing="0.2">*</text>
<text x="350.10" y="289.20" font-size="5.9" font-weight="normal" font-style="italic" text-anchor="middle" fill="#2f8a22" stroke="#2f8a22" stroke-width="0.16">#</text>
<text x="350.10" y="295.40" font-size="5.9" font-weight="normal" font-style="italic" text-anchor="middle" fill="#0a0aff" stroke="#0a0aff" stroke-width="0.16">#</text>
<text x="350.10" y="301.60" font-size="6.2" font-weight="bold" font-style="normal" text-anchor="middle" fill="#ff2310" stroke="#ff2310" stroke-width="0.05" letter-spacing="0.2">***</text>
<text x="382.00" y="268.60" font-size="5.9" font-weight="normal" font-style="italic" text-anchor="middle" fill="#2f8a22" stroke="#2f8a22" stroke-width="0.16">###</text>
<text x="382.00" y="274.70" font-size="5.9" font-weight="normal" font-style="italic" text-anchor="middle" fill="#0a0aff" stroke="#0a0aff" stroke-width="0.16">###</text>
<text x="382.00" y="281.10" font-size="6.2" font-weight="bold" font-style="normal" text-anchor="middle" fill="#ff2310" stroke="#ff2310" stroke-width="0.05" letter-spacing="0.2">***</text>
<text x="472.50" y="266.30" font-size="5.85" font-weight="bold" font-style="italic" text-anchor="middle" fill="#000" stroke="#000" stroke-width="0.22">Cer1</text>
<polyline fill="none" stroke="#000" stroke-width="0.9" points="432.30,317.66 448.20,317.44 464.40,321.93 480.30,328.22 496.30,305.75 512.40,323.73"/>
<line x1="432.30" y1="310.92" x2="432.30" y2="324.40" stroke="#000" stroke-width="0.55"/>
<line x1="431.00" y1="310.92" x2="433.60" y2="310.92" stroke="#000" stroke-width="0.55"/>
<line x1="431.00" y1="324.40" x2="433.60" y2="324.40" stroke="#000" stroke-width="0.55"/>
<circle cx="432.30" cy="317.66" r="1.19" fill="#000"/>
<line x1="448.20" y1="316.54" x2="448.20" y2="318.33" stroke="#000" stroke-width="0.55"/>
<line x1="446.90" y1="316.54" x2="449.50" y2="316.54" stroke="#000" stroke-width="0.55"/>
<line x1="446.90" y1="318.33" x2="449.50" y2="318.33" stroke="#000" stroke-width="0.55"/>
<circle cx="448.20" cy="317.44" r="1.19" fill="#000"/>
<line x1="464.40" y1="319.68" x2="464.40" y2="324.18" stroke="#000" stroke-width="0.55"/>
<line x1="463.10" y1="319.68" x2="465.70" y2="319.68" stroke="#000" stroke-width="0.55"/>
<line x1="463.10" y1="324.18" x2="465.70" y2="324.18" stroke="#000" stroke-width="0.55"/>
<circle cx="464.40" cy="321.93" r="1.19" fill="#000"/>
<line x1="480.30" y1="327.55" x2="480.30" y2="328.89" stroke="#000" stroke-width="0.55"/>
<line x1="479.00" y1="327.55" x2="481.60" y2="327.55" stroke="#000" stroke-width="0.55"/>
<line x1="479.00" y1="328.89" x2="481.60" y2="328.89" stroke="#000" stroke-width="0.55"/>
<circle cx="480.30" cy="328.22" r="1.19" fill="#000"/>
<line x1="496.30" y1="304.41" x2="496.30" y2="307.10" stroke="#000" stroke-width="0.55"/>
<line x1="495.00" y1="304.41" x2="497.60" y2="304.41" stroke="#000" stroke-width="0.55"/>
<line x1="495.00" y1="307.10" x2="497.60" y2="307.10" stroke="#000" stroke-width="0.55"/>
<circle cx="496.30" cy="305.75" r="1.19" fill="#000"/>
<line x1="512.40" y1="322.60" x2="512.40" y2="324.85" stroke="#000" stroke-width="0.55"/>
<line x1="511.10" y1="322.60" x2="513.70" y2="322.60" stroke="#000" stroke-width="0.55"/>
<line x1="511.10" y1="324.85" x2="513.70" y2="324.85" stroke="#000" stroke-width="0.55"/>
<circle cx="512.40" cy="323.73" r="1.19" fill="#000"/>
<polyline fill="none" stroke="#2f8a22" stroke-width="0.9" points="432.30,320.81 448.20,316.54 464.40,331.59 480.30,317.44 496.30,315.19 512.40,291.15"/>
<line x1="432.30" y1="318.56" x2="432.30" y2="323.05" stroke="#2f8a22" stroke-width="0.55"/>
<line x1="431.00" y1="318.56" x2="433.60" y2="318.56" stroke="#2f8a22" stroke-width="0.55"/>
<line x1="431.00" y1="323.05" x2="433.60" y2="323.05" stroke="#2f8a22" stroke-width="0.55"/>
<path d="M432.30 322.24 L433.68 319.74 L430.93 319.74Z" fill="#2f8a22"/>
<line x1="448.20" y1="313.17" x2="448.20" y2="319.91" stroke="#2f8a22" stroke-width="0.55"/>
<line x1="446.90" y1="313.17" x2="449.50" y2="313.17" stroke="#2f8a22" stroke-width="0.55"/>
<line x1="446.90" y1="319.91" x2="449.50" y2="319.91" stroke="#2f8a22" stroke-width="0.55"/>
<path d="M448.20 317.97 L449.57 315.47 L446.82 315.47Z" fill="#2f8a22"/>
<line x1="464.40" y1="328.89" x2="464.40" y2="334.29" stroke="#2f8a22" stroke-width="0.55"/>
<line x1="463.10" y1="328.89" x2="465.70" y2="328.89" stroke="#2f8a22" stroke-width="0.55"/>
<line x1="463.10" y1="334.29" x2="465.70" y2="334.29" stroke="#2f8a22" stroke-width="0.55"/>
<path d="M464.40 333.03 L465.77 330.53 L463.02 330.53Z" fill="#2f8a22"/>
<line x1="480.30" y1="315.19" x2="480.30" y2="319.68" stroke="#2f8a22" stroke-width="0.55"/>
<line x1="479.00" y1="315.19" x2="481.60" y2="315.19" stroke="#2f8a22" stroke-width="0.55"/>
<line x1="479.00" y1="319.68" x2="481.60" y2="319.68" stroke="#2f8a22" stroke-width="0.55"/>
<path d="M480.30 318.87 L481.68 316.37 L478.93 316.37Z" fill="#2f8a22"/>
<line x1="496.30" y1="310.25" x2="496.30" y2="320.13" stroke="#2f8a22" stroke-width="0.55"/>
<line x1="495.00" y1="310.25" x2="497.60" y2="310.25" stroke="#2f8a22" stroke-width="0.55"/>
<line x1="495.00" y1="320.13" x2="497.60" y2="320.13" stroke="#2f8a22" stroke-width="0.55"/>
<path d="M496.30 316.63 L497.68 314.13 L494.93 314.13Z" fill="#2f8a22"/>
<line x1="512.40" y1="287.78" x2="512.40" y2="294.52" stroke="#2f8a22" stroke-width="0.55"/>
<line x1="511.10" y1="287.78" x2="513.70" y2="287.78" stroke="#2f8a22" stroke-width="0.55"/>
<line x1="511.10" y1="294.52" x2="513.70" y2="294.52" stroke="#2f8a22" stroke-width="0.55"/>
<path d="M512.40 292.59 L513.77 290.09 L511.02 290.09Z" fill="#2f8a22"/>
<polyline fill="none" stroke="#0a0aff" stroke-width="0.9" points="432.30,325.52 448.20,317.44 464.40,328.67 480.30,328.67 496.30,312.49 512.40,323.28"/>
<line x1="432.30" y1="324.40" x2="432.30" y2="326.65" stroke="#0a0aff" stroke-width="0.55"/>
<line x1="431.00" y1="324.40" x2="433.60" y2="324.40" stroke="#0a0aff" stroke-width="0.55"/>
<line x1="431.00" y1="326.65" x2="433.60" y2="326.65" stroke="#0a0aff" stroke-width="0.55"/>
<path d="M432.30 324.09 L433.68 326.59 L430.93 326.59Z" fill="#0a0aff"/>
<line x1="448.20" y1="313.39" x2="448.20" y2="321.48" stroke="#0a0aff" stroke-width="0.55"/>
<line x1="446.90" y1="313.39" x2="449.50" y2="313.39" stroke="#0a0aff" stroke-width="0.55"/>
<line x1="446.90" y1="321.48" x2="449.50" y2="321.48" stroke="#0a0aff" stroke-width="0.55"/>
<path d="M448.20 316.00 L449.57 318.50 L446.82 318.50Z" fill="#0a0aff"/>
<line x1="464.40" y1="327.77" x2="464.40" y2="329.57" stroke="#0a0aff" stroke-width="0.55"/>
<line x1="463.10" y1="327.77" x2="465.70" y2="327.77" stroke="#0a0aff" stroke-width="0.55"/>
<line x1="463.10" y1="329.57" x2="465.70" y2="329.57" stroke="#0a0aff" stroke-width="0.55"/>
<path d="M464.40 327.23 L465.77 329.73 L463.02 329.73Z" fill="#0a0aff"/>
<line x1="480.30" y1="328.00" x2="480.30" y2="329.34" stroke="#0a0aff" stroke-width="0.55"/>
<line x1="479.00" y1="328.00" x2="481.60" y2="328.00" stroke="#0a0aff" stroke-width="0.55"/>
<line x1="479.00" y1="329.34" x2="481.60" y2="329.34" stroke="#0a0aff" stroke-width="0.55"/>
<path d="M480.30 327.23 L481.68 329.73 L478.93 329.73Z" fill="#0a0aff"/>
<line x1="496.30" y1="308.00" x2="496.30" y2="316.99" stroke="#0a0aff" stroke-width="0.55"/>
<line x1="495.00" y1="308.00" x2="497.60" y2="308.00" stroke="#0a0aff" stroke-width="0.55"/>
<line x1="495.00" y1="316.99" x2="497.60" y2="316.99" stroke="#0a0aff" stroke-width="0.55"/>
<path d="M496.30 311.06 L497.68 313.56 L494.93 313.56Z" fill="#0a0aff"/>
<line x1="512.40" y1="321.03" x2="512.40" y2="325.52" stroke="#0a0aff" stroke-width="0.55"/>
<line x1="511.10" y1="321.03" x2="513.70" y2="321.03" stroke="#0a0aff" stroke-width="0.55"/>
<line x1="511.10" y1="325.52" x2="513.70" y2="325.52" stroke="#0a0aff" stroke-width="0.55"/>
<path d="M512.40 321.84 L513.77 324.34 L511.02 324.34Z" fill="#0a0aff"/>
<polyline fill="none" stroke="#ff2310" stroke-width="0.9" points="432.30,323.73 448.20,308.00 464.40,318.11 480.30,327.77 496.30,300.81 512.40,314.74"/>
<line x1="432.30" y1="316.31" x2="432.30" y2="331.14" stroke="#ff2310" stroke-width="0.55"/>
<line x1="431.00" y1="316.31" x2="433.60" y2="316.31" stroke="#ff2310" stroke-width="0.55"/>
<line x1="431.00" y1="331.14" x2="433.60" y2="331.14" stroke="#ff2310" stroke-width="0.55"/>
<rect x="431.18" y="322.60" width="2.25" height="2.25" fill="#ff2310"/>
<line x1="448.20" y1="306.20" x2="448.20" y2="309.80" stroke="#ff2310" stroke-width="0.55"/>
<line x1="446.90" y1="306.20" x2="449.50" y2="306.20" stroke="#ff2310" stroke-width="0.55"/>
<line x1="446.90" y1="309.80" x2="449.50" y2="309.80" stroke="#ff2310" stroke-width="0.55"/>
<rect x="447.07" y="306.88" width="2.25" height="2.25" fill="#ff2310"/>
<line x1="464.40" y1="315.41" x2="464.40" y2="320.81" stroke="#ff2310" stroke-width="0.55"/>
<line x1="463.10" y1="315.41" x2="465.70" y2="315.41" stroke="#ff2310" stroke-width="0.55"/>
<line x1="463.10" y1="320.81" x2="465.70" y2="320.81" stroke="#ff2310" stroke-width="0.55"/>
<rect x="463.27" y="316.99" width="2.25" height="2.25" fill="#ff2310"/>
<line x1="480.30" y1="327.10" x2="480.30" y2="328.44" stroke="#ff2310" stroke-width="0.55"/>
<line x1="479.00" y1="327.10" x2="481.60" y2="327.10" stroke="#ff2310" stroke-width="0.55"/>
<line x1="479.00" y1="328.44" x2="481.60" y2="328.44" stroke="#ff2310" stroke-width="0.55"/>
<rect x="479.18" y="326.65" width="2.25" height="2.25" fill="#ff2310"/>
<line x1="496.30" y1="296.32" x2="496.30" y2="305.30" stroke="#ff2310" stroke-width="0.55"/>
<line x1="495.00" y1="296.32" x2="497.60" y2="296.32" stroke="#ff2310" stroke-width="0.55"/>
<line x1="495.00" y1="305.30" x2="497.60" y2="305.30" stroke="#ff2310" stroke-width="0.55"/>
<rect x="495.18" y="299.69" width="2.25" height="2.25" fill="#ff2310"/>
<line x1="512.40" y1="310.25" x2="512.40" y2="319.23" stroke="#ff2310" stroke-width="0.55"/>
<line x1="511.10" y1="310.25" x2="513.70" y2="310.25" stroke="#ff2310" stroke-width="0.55"/>
<line x1="511.10" y1="319.23" x2="513.70" y2="319.23" stroke="#ff2310" stroke-width="0.55"/>
<rect x="511.27" y="313.62" width="2.25" height="2.25" fill="#ff2310"/>
<line x1="421.50" y1="274.00" x2="421.50" y2="342.10" stroke="#000" stroke-width="0.8"/>
<line x1="421.10" y1="341.70" x2="523.60" y2="341.70" stroke="#000" stroke-width="0.8"/>
<line x1="419.30" y1="341.70" x2="421.50" y2="341.70" stroke="#000" stroke-width="0.7"/>
<text x="418.50" y="343.70" font-size="5.85" font-weight="bold" font-style="normal" text-anchor="end" fill="#000" stroke="#000" stroke-width="0.22">0</text>
<line x1="419.30" y1="319.23" x2="421.50" y2="319.23" stroke="#000" stroke-width="0.7"/>
<text x="418.50" y="321.23" font-size="5.85" font-weight="bold" font-style="normal" text-anchor="end" fill="#000" stroke="#000" stroke-width="0.22">1</text>
<line x1="419.30" y1="296.77" x2="421.50" y2="296.77" stroke="#000" stroke-width="0.7"/>
<text x="418.50" y="298.77" font-size="5.85" font-weight="bold" font-style="normal" text-anchor="end" fill="#000" stroke="#000" stroke-width="0.22">2</text>
<line x1="419.30" y1="274.30" x2="421.50" y2="274.30" stroke="#000" stroke-width="0.7"/>
<text x="418.50" y="276.30" font-size="5.85" font-weight="bold" font-style="normal" text-anchor="end" fill="#000" stroke="#000" stroke-width="0.22">3</text>
<line x1="432.30" y1="341.70" x2="432.30" y2="343.90" stroke="#000" stroke-width="0.7"/>
<text x="432.30" y="349.70" font-size="5.85" font-weight="bold" font-style="normal" text-anchor="middle" fill="#000" stroke="#000" stroke-width="0.22">1</text>
<line x1="448.20" y1="341.70" x2="448.20" y2="343.90" stroke="#000" stroke-width="0.7"/>
<text x="448.20" y="349.70" font-size="5.85" font-weight="bold" font-style="normal" text-anchor="middle" fill="#000" stroke="#000" stroke-width="0.22">5</text>
<line x1="464.40" y1="341.70" x2="464.40" y2="343.90" stroke="#000" stroke-width="0.7"/>
<text x="464.40" y="349.70" font-size="5.85" font-weight="bold" font-style="normal" text-anchor="middle" fill="#000" stroke="#000" stroke-width="0.22">10</text>
<line x1="480.30" y1="341.70" x2="480.30" y2="343.90" stroke="#000" stroke-width="0.7"/>
<text x="480.30" y="349.70" font-size="5.85" font-weight="bold" font-style="normal" text-anchor="middle" fill="#000" stroke="#000" stroke-width="0.22">13</text>
<line x1="496.30" y1="341.70" x2="496.30" y2="343.90" stroke="#000" stroke-width="0.7"/>
<text x="496.30" y="349.70" font-size="5.85" font-weight="bold" font-style="normal" text-anchor="middle" fill="#000" stroke="#000" stroke-width="0.22">15</text>
<line x1="512.40" y1="341.70" x2="512.40" y2="343.90" stroke="#000" stroke-width="0.7"/>
<text x="512.40" y="349.70" font-size="5.85" font-weight="bold" font-style="normal" text-anchor="middle" fill="#000" stroke="#000" stroke-width="0.22">20</text>
<text x="405.80" y="308.00" font-size="5.85" font-weight="bold" font-style="normal" text-anchor="middle" fill="#000" stroke="#000" stroke-width="0.22" transform="rotate(-90 405.80 308.00)">Relative expression of mRNA</text>
<text x="413.20" y="308.00" font-size="5.85" font-weight="bold" font-style="normal" text-anchor="middle" fill="#000" stroke="#000" stroke-width="0.22" transform="rotate(-90 413.20 308.00)">(vs ET of p.1)</text>
<text x="464.40" y="312.50" font-size="5.9" font-weight="normal" font-style="italic" text-anchor="middle" fill="#2f8a22" stroke="#2f8a22" stroke-width="0.16">#</text>
<text x="496.30" y="285.10" font-size="5.9" font-weight="normal" font-style="italic" text-anchor="middle" fill="#2f8a22" stroke="#2f8a22" stroke-width="0.16">##</text>
<text x="496.30" y="292.70" font-size="5.9" font-weight="normal" font-style="italic" text-anchor="middle" fill="#0a0aff" stroke="#0a0aff" stroke-width="0.16">#</text>
<text x="512.40" y="278.80" font-size="5.9" font-weight="normal" font-style="italic" text-anchor="middle" fill="#2f8a22" stroke="#2f8a22" stroke-width="0.16">###</text>
<text x="512.40" y="285.80" font-size="6.2" font-weight="bold" font-style="normal" text-anchor="middle" fill="#2f8a22" stroke="#2f8a22" stroke-width="0.05" letter-spacing="0.2">***</text>
<text x="607.00" y="266.30" font-size="5.85" font-weight="bold" font-style="italic" text-anchor="middle" fill="#000" stroke="#000" stroke-width="0.22">Snrpn</text>
<polyline fill="none" stroke="#000" stroke-width="0.9" points="567.20,295.13 583.20,296.04 599.20,290.61 615.10,305.09 631.10,290.61 647.10,295.13"/>
<line x1="567.20" y1="293.78" x2="567.20" y2="296.49" stroke="#000" stroke-width="0.55"/>
<line x1="565.90" y1="293.78" x2="568.50" y2="293.78" stroke="#000" stroke-width="0.55"/>
<line x1="565.90" y1="296.49" x2="568.50" y2="296.49" stroke="#000" stroke-width="0.55"/>
<circle cx="567.20" cy="295.13" r="1.19" fill="#000"/>
<line x1="583.20" y1="293.78" x2="583.20" y2="298.30" stroke="#000" stroke-width="0.55"/>
<line x1="581.90" y1="293.78" x2="584.50" y2="293.78" stroke="#000" stroke-width="0.55"/>
<line x1="581.90" y1="298.30" x2="584.50" y2="298.30" stroke="#000" stroke-width="0.55"/>
<circle cx="583.20" cy="296.04" r="1.19" fill="#000"/>
<line x1="599.20" y1="289.70" x2="599.20" y2="291.51" stroke="#000" stroke-width="0.55"/>
<line x1="597.90" y1="289.70" x2="600.50" y2="289.70" stroke="#000" stroke-width="0.55"/>
<line x1="597.90" y1="291.51" x2="600.50" y2="291.51" stroke="#000" stroke-width="0.55"/>
<circle cx="599.20" cy="290.61" r="1.19" fill="#000"/>
<line x1="615.10" y1="304.19" x2="615.10" y2="306.00" stroke="#000" stroke-width="0.55"/>
<line x1="613.80" y1="304.19" x2="616.40" y2="304.19" stroke="#000" stroke-width="0.55"/>
<line x1="613.80" y1="306.00" x2="616.40" y2="306.00" stroke="#000" stroke-width="0.55"/>
<circle cx="615.10" cy="305.09" r="1.19" fill="#000"/>
<line x1="631.10" y1="289.70" x2="631.10" y2="291.51" stroke="#000" stroke-width="0.55"/>
<line x1="629.80" y1="289.70" x2="632.40" y2="289.70" stroke="#000" stroke-width="0.55"/>
<line x1="629.80" y1="291.51" x2="632.40" y2="291.51" stroke="#000" stroke-width="0.55"/>
<circle cx="631.10" cy="290.61" r="1.19" fill="#000"/>
<line x1="647.10" y1="293.32" x2="647.10" y2="296.94" stroke="#000" stroke-width="0.55"/>
<line x1="645.80" y1="293.32" x2="648.40" y2="293.32" stroke="#000" stroke-width="0.55"/>
<line x1="645.80" y1="296.94" x2="648.40" y2="296.94" stroke="#000" stroke-width="0.55"/>
<circle cx="647.10" cy="295.13" r="1.19" fill="#000"/>
<polyline fill="none" stroke="#2f8a22" stroke-width="0.9" points="567.20,306.00 583.20,288.80 599.20,285.17 615.10,305.09 631.10,291.96 647.10,297.85"/>
<line x1="567.20" y1="304.19" x2="567.20" y2="307.81" stroke="#2f8a22" stroke-width="0.55"/>
<line x1="565.90" y1="304.19" x2="568.50" y2="304.19" stroke="#2f8a22" stroke-width="0.55"/>
<line x1="565.90" y1="307.81" x2="568.50" y2="307.81" stroke="#2f8a22" stroke-width="0.55"/>
<path d="M567.20 307.43 L568.58 304.93 L565.83 304.93Z" fill="#2f8a22"/>
<line x1="583.20" y1="287.44" x2="583.20" y2="290.15" stroke="#2f8a22" stroke-width="0.55"/>
<line x1="581.90" y1="287.44" x2="584.50" y2="287.44" stroke="#2f8a22" stroke-width="0.55"/>
<line x1="581.90" y1="290.15" x2="584.50" y2="290.15" stroke="#2f8a22" stroke-width="0.55"/>
<path d="M583.20 290.23 L584.58 287.73 L581.83 287.73Z" fill="#2f8a22"/>
<line x1="599.20" y1="282.91" x2="599.20" y2="287.44" stroke="#2f8a22" stroke-width="0.55"/>
<line x1="597.90" y1="282.91" x2="600.50" y2="282.91" stroke="#2f8a22" stroke-width="0.55"/>
<line x1="597.90" y1="287.44" x2="600.50" y2="287.44" stroke="#2f8a22" stroke-width="0.55"/>
<path d="M599.20 286.61 L600.58 284.11 L597.83 284.11Z" fill="#2f8a22"/>
<line x1="615.10" y1="303.73" x2="615.10" y2="306.45" stroke="#2f8a22" stroke-width="0.55"/>
<line x1="613.80" y1="303.73" x2="616.40" y2="303.73" stroke="#2f8a22" stroke-width="0.55"/>
<line x1="613.80" y1="306.45" x2="616.40" y2="306.45" stroke="#2f8a22" stroke-width="0.55"/>
<path d="M615.10 306.53 L616.48 304.03 L613.73 304.03Z" fill="#2f8a22"/>
<line x1="631.10" y1="290.15" x2="631.10" y2="293.78" stroke="#2f8a22" stroke-width="0.55"/>
<line x1="629.80" y1="290.15" x2="632.40" y2="290.15" stroke="#2f8a22" stroke-width="0.55"/>
<line x1="629.80" y1="293.78" x2="632.40" y2="293.78" stroke="#2f8a22" stroke-width="0.55"/>
<path d="M631.10 293.40 L632.48 290.90 L629.73 290.90Z" fill="#2f8a22"/>
<line x1="647.10" y1="296.49" x2="647.10" y2="299.21" stroke="#2f8a22" stroke-width="0.55"/>
<line x1="645.80" y1="296.49" x2="648.40" y2="296.49" stroke="#2f8a22" stroke-width="0.55"/>
<line x1="645.80" y1="299.21" x2="648.40" y2="299.21" stroke="#2f8a22" stroke-width="0.55"/>
<path d="M647.10 299.29 L648.48 296.79 L645.73 296.79Z" fill="#2f8a22"/>
<polyline fill="none" stroke="#0a0aff" stroke-width="0.9" points="567.20,291.51 583.20,292.42 599.20,281.55 615.10,308.71 631.10,291.51 647.10,296.04"/>
<line x1="567.20" y1="289.25" x2="567.20" y2="293.78" stroke="#0a0aff" stroke-width="0.55"/>
<line x1="565.90" y1="289.25" x2="568.50" y2="289.25" stroke="#0a0aff" stroke-width="0.55"/>
<line x1="565.90" y1="293.78" x2="568.50" y2="293.78" stroke="#0a0aff" stroke-width="0.55"/>
<path d="M567.20 290.07 L568.58 292.57 L565.83 292.57Z" fill="#0a0aff"/>
<line x1="583.20" y1="288.80" x2="583.20" y2="296.04" stroke="#0a0aff" stroke-width="0.55"/>
<line x1="581.90" y1="288.80" x2="584.50" y2="288.80" stroke="#0a0aff" stroke-width="0.55"/>
<line x1="581.90" y1="296.04" x2="584.50" y2="296.04" stroke="#0a0aff" stroke-width="0.55"/>
<path d="M583.20 290.98 L584.58 293.48 L581.83 293.48Z" fill="#0a0aff"/>
<line x1="599.20" y1="279.29" x2="599.20" y2="283.82" stroke="#0a0aff" stroke-width="0.55"/>
<line x1="597.90" y1="279.29" x2="600.50" y2="279.29" stroke="#0a0aff" stroke-width="0.55"/>
<line x1="597.90" y1="283.82" x2="600.50" y2="283.82" stroke="#0a0aff" stroke-width="0.55"/>
<path d="M599.20 280.12 L600.58 282.62 L597.83 282.62Z" fill="#0a0aff"/>
<line x1="615.10" y1="306.90" x2="615.10" y2="310.52" stroke="#0a0aff" stroke-width="0.55"/>
<line x1="613.80" y1="306.90" x2="616.40" y2="306.90" stroke="#0a0aff" stroke-width="0.55"/>
<line x1="613.80" y1="310.52" x2="616.40" y2="310.52" stroke="#0a0aff" stroke-width="0.55"/>
<path d="M615.10 307.28 L616.48 309.78 L613.73 309.78Z" fill="#0a0aff"/>
<line x1="631.10" y1="289.25" x2="631.10" y2="293.78" stroke="#0a0aff" stroke-width="0.55"/>
<line x1="629.80" y1="289.25" x2="632.40" y2="289.25" stroke="#0a0aff" stroke-width="0.55"/>
<line x1="629.80" y1="293.78" x2="632.40" y2="293.78" stroke="#0a0aff" stroke-width="0.55"/>
<path d="M631.10 290.07 L632.48 292.57 L629.73 292.57Z" fill="#0a0aff"/>
<line x1="647.10" y1="294.23" x2="647.10" y2="297.85" stroke="#0a0aff" stroke-width="0.55"/>
<line x1="645.80" y1="294.23" x2="648.40" y2="294.23" stroke="#0a0aff" stroke-width="0.55"/>
<line x1="645.80" y1="297.85" x2="648.40" y2="297.85" stroke="#0a0aff" stroke-width="0.55"/>
<path d="M647.10 294.60 L648.48 297.10 L645.73 297.10Z" fill="#0a0aff"/>
<polyline fill="none" stroke="#ff2310" stroke-width="0.9" points="567.20,289.25 583.20,291.96 599.20,281.55 615.10,295.13 631.10,278.38 647.10,288.34"/>
<line x1="567.20" y1="287.89" x2="567.20" y2="290.61" stroke="#ff2310" stroke-width="0.55"/>
<line x1="565.90" y1="287.89" x2="568.50" y2="287.89" stroke="#ff2310" stroke-width="0.55"/>
<line x1="565.90" y1="290.61" x2="568.50" y2="290.61" stroke="#ff2310" stroke-width="0.55"/>
<rect x="566.08" y="288.12" width="2.25" height="2.25" fill="#ff2310"/>
<line x1="583.20" y1="290.61" x2="583.20" y2="293.32" stroke="#ff2310" stroke-width="0.55"/>
<line x1="581.90" y1="290.61" x2="584.50" y2="290.61" stroke="#ff2310" stroke-width="0.55"/>
<line x1="581.90" y1="293.32" x2="584.50" y2="293.32" stroke="#ff2310" stroke-width="0.55"/>
<rect x="582.08" y="290.84" width="2.25" height="2.25" fill="#ff2310"/>
<line x1="599.20" y1="280.20" x2="599.20" y2="282.91" stroke="#ff2310" stroke-width="0.55"/>
<line x1="597.90" y1="280.20" x2="600.50" y2="280.20" stroke="#ff2310" stroke-width="0.55"/>
<line x1="597.90" y1="282.91" x2="600.50" y2="282.91" stroke="#ff2310" stroke-width="0.55"/>
<rect x="598.08" y="280.43" width="2.25" height="2.25" fill="#ff2310"/>
<line x1="615.10" y1="293.32" x2="615.10" y2="296.94" stroke="#ff2310" stroke-width="0.55"/>
<line x1="613.80" y1="293.32" x2="616.40" y2="293.32" stroke="#ff2310" stroke-width="0.55"/>
<line x1="613.80" y1="296.94" x2="616.40" y2="296.94" stroke="#ff2310" stroke-width="0.55"/>
<rect x="613.98" y="294.01" width="2.25" height="2.25" fill="#ff2310"/>
<line x1="631.10" y1="277.03" x2="631.10" y2="279.74" stroke="#ff2310" stroke-width="0.55"/>
<line x1="629.80" y1="277.03" x2="632.40" y2="277.03" stroke="#ff2310" stroke-width="0.55"/>
<line x1="629.80" y1="279.74" x2="632.40" y2="279.74" stroke="#ff2310" stroke-width="0.55"/>
<rect x="629.98" y="277.26" width="2.25" height="2.25" fill="#ff2310"/>
<line x1="647.10" y1="285.17" x2="647.10" y2="291.51" stroke="#ff2310" stroke-width="0.55"/>
<line x1="645.80" y1="285.17" x2="648.40" y2="285.17" stroke="#ff2310" stroke-width="0.55"/>
<line x1="645.80" y1="291.51" x2="648.40" y2="291.51" stroke="#ff2310" stroke-width="0.55"/>
<rect x="645.98" y="287.22" width="2.25" height="2.25" fill="#ff2310"/>
<line x1="555.80" y1="272.20" x2="555.80" y2="340.80" stroke="#000" stroke-width="0.8"/>
<line x1="555.40" y1="340.40" x2="657.60" y2="340.40" stroke="#000" stroke-width="0.8"/>
<line x1="553.60" y1="340.40" x2="555.80" y2="340.40" stroke="#000" stroke-width="0.7"/>
<text x="552.80" y="342.40" font-size="5.85" font-weight="bold" font-style="normal" text-anchor="end" fill="#000" stroke="#000" stroke-width="0.22">0.0</text>
<line x1="553.60" y1="317.77" x2="555.80" y2="317.77" stroke="#000" stroke-width="0.7"/>
<text x="552.80" y="319.77" font-size="5.85" font-weight="bold" font-style="normal" text-anchor="end" fill="#000" stroke="#000" stroke-width="0.22">0.5</text>
<line x1="553.60" y1="295.13" x2="555.80" y2="295.13" stroke="#000" stroke-width="0.7"/>
<text x="552.80" y="297.13" font-size="5.85" font-weight="bold" font-style="normal" text-anchor="end" fill="#000" stroke="#000" stroke-width="0.22">1.0</text>
<line x1="553.60" y1="272.50" x2="555.80" y2="272.50" stroke="#000" stroke-width="0.7"/>
<text x="552.80" y="274.50" font-size="5.85" font-weight="bold" font-style="normal" text-anchor="end" fill="#000" stroke="#000" stroke-width="0.22">1.5</text>
<line x1="567.20" y1="340.40" x2="567.20" y2="342.60" stroke="#000" stroke-width="0.7"/>
<text x="567.20" y="348.40" font-size="5.85" font-weight="bold" font-style="normal" text-anchor="middle" fill="#000" stroke="#000" stroke-width="0.22">1</text>
<line x1="583.20" y1="340.40" x2="583.20" y2="342.60" stroke="#000" stroke-width="0.7"/>
<text x="583.20" y="348.40" font-size="5.85" font-weight="bold" font-style="normal" text-anchor="middle" fill="#000" stroke="#000" stroke-width="0.22">5</text>
<line x1="599.20" y1="340.40" x2="599.20" y2="342.60" stroke="#000" stroke-width="0.7"/>
<text x="599.20" y="348.40" font-size="5.85" font-weight="bold" font-style="normal" text-anchor="middle" fill="#000" stroke="#000" stroke-width="0.22">10</text>
<line x1="615.10" y1="340.40" x2="615.10" y2="342.60" stroke="#000" stroke-width="0.7"/>
<text x="615.10" y="348.40" font-size="5.85" font-weight="bold" font-style="normal" text-anchor="middle" fill="#000" stroke="#000" stroke-width="0.22">13</text>
<line x1="631.10" y1="340.40" x2="631.10" y2="342.60" stroke="#000" stroke-width="0.7"/>
<text x="631.10" y="348.40" font-size="5.85" font-weight="bold" font-style="normal" text-anchor="middle" fill="#000" stroke="#000" stroke-width="0.22">15</text>
<line x1="647.10" y1="340.40" x2="647.10" y2="342.60" stroke="#000" stroke-width="0.7"/>
<text x="647.10" y="348.40" font-size="5.85" font-weight="bold" font-style="normal" text-anchor="middle" fill="#000" stroke="#000" stroke-width="0.22">20</text>
<text x="534.80" y="306.45" font-size="5.85" font-weight="bold" font-style="normal" text-anchor="middle" fill="#000" stroke="#000" stroke-width="0.22" transform="rotate(-90 534.80 306.45)">Relative expression of mRNA</text>
<text x="542.20" y="306.45" font-size="5.85" font-weight="bold" font-style="normal" text-anchor="middle" fill="#000" stroke="#000" stroke-width="0.22" transform="rotate(-90 542.20 306.45)">(vs ET of p.1)</text>
<text x="567.20" y="279.40" font-size="5.9" font-weight="normal" font-style="italic" text-anchor="middle" fill="#2f8a22" stroke="#2f8a22" stroke-width="0.16">###</text>
<text x="567.20" y="286.30" font-size="6.2" font-weight="bold" font-style="normal" text-anchor="middle" fill="#2f8a22" stroke="#2f8a22" stroke-width="0.05" letter-spacing="0.2">***</text>
<text x="583.20" y="284.90" font-size="6.2" font-weight="bold" font-style="normal" text-anchor="middle" fill="#2f8a22" stroke="#2f8a22" stroke-width="0.05" letter-spacing="0.2">*</text>
<text x="599.20" y="302.50" font-size="6.2" font-weight="bold" font-style="normal" text-anchor="middle" fill="#ff2310" stroke="#ff2310" stroke-width="0.05" letter-spacing="0.2">**</text>
<text x="599.20" y="308.60" font-size="6.2" font-weight="bold" font-style="normal" text-anchor="middle" fill="#0a0aff" stroke="#0a0aff" stroke-width="0.05" letter-spacing="0.2">**</text>
<text x="615.10" y="320.60" font-size="6.2" font-weight="bold" font-style="normal" text-anchor="middle" fill="#ff2310" stroke="#ff2310" stroke-width="0.05" letter-spacing="0.2">**</text>
<text x="615.10" y="325.00" font-size="5.9" font-weight="normal" font-style="italic" text-anchor="middle" fill="#0a0aff" stroke="#0a0aff" stroke-width="0.16">###</text>
<text x="615.10" y="330.90" font-size="5.9" font-weight="normal" font-style="italic" text-anchor="middle" fill="#2f8a22" stroke="#2f8a22" stroke-width="0.16">##</text>
<text x="631.10" y="303.10" font-size="6.2" font-weight="bold" font-style="normal" text-anchor="middle" fill="#ff2310" stroke="#ff2310" stroke-width="0.05" letter-spacing="0.2">***</text>
<text x="631.10" y="307.90" font-size="5.9" font-weight="normal" font-style="italic" text-anchor="middle" fill="#0a0aff" stroke="#0a0aff" stroke-width="0.16">###</text>
<text x="631.10" y="314.00" font-size="5.9" font-weight="normal" font-style="italic" text-anchor="middle" fill="#2f8a22" stroke="#2f8a22" stroke-width="0.16">###</text>
<text x="647.10" y="307.50" font-size="6.2" font-weight="bold" font-style="normal" text-anchor="middle" fill="#ff2310" stroke="#ff2310" stroke-width="0.05" letter-spacing="0.2">*</text>
<text x="647.10" y="312.30" font-size="5.9" font-weight="normal" font-style="italic" text-anchor="middle" fill="#0a0aff" stroke="#0a0aff" stroke-width="0.16">#</text>
<text x="647.10" y="318.40" font-size="5.9" font-weight="normal" font-style="italic" text-anchor="middle" fill="#2f8a22" stroke="#2f8a22" stroke-width="0.16">##</text>
<text x="661.00" y="348.00" font-size="5.85" font-weight="bold" font-style="normal" text-anchor="start" fill="#000" stroke="#000" stroke-width="0.22">: Passage</text>
<line x1="547.00" y1="361.00" x2="553.60" y2="361.00" stroke="#000" stroke-width="0.9"/>
<circle cx="550.30" cy="361.00" r="1.19" fill="#000"/>
<text x="558.50" y="363.00" font-size="5.85" font-weight="bold" font-style="normal" text-anchor="start" fill="#000" stroke="#000" stroke-width="0.22">ET</text>
<line x1="574.70" y1="361.00" x2="581.30" y2="361.00" stroke="#ff2310" stroke-width="0.9"/>
<rect x="576.88" y="359.88" width="2.25" height="2.25" fill="#ff2310"/>
<text x="585.50" y="363.00" font-size="5.85" font-weight="bold" font-style="normal" text-anchor="start" fill="#000" stroke="#000" stroke-width="0.22">WT</text>
<line x1="602.90" y1="361.00" x2="609.50" y2="361.00" stroke="#0a0aff" stroke-width="0.9"/>
<path d="M606.20 359.56 L607.58 362.06 L604.83 362.06Z" fill="#0a0aff"/>
<text x="613.50" y="363.00" font-size="5.85" font-weight="bold" font-style="normal" text-anchor="start" fill="#000" stroke="#000" stroke-width="0.22">K238R</text>
<line x1="640.50" y1="361.00" x2="647.10" y2="361.00" stroke="#2f8a22" stroke-width="0.9"/>
<path d="M643.80 362.44 L645.17 359.94 L642.42 359.94Z" fill="#2f8a22"/>
<text x="651.00" y="363.00" font-size="5.85" font-weight="bold" font-style="normal" text-anchor="start" fill="#000" stroke="#000" stroke-width="0.22">K412R</text>
<line x1="574.40" y1="367.50" x2="670.30" y2="367.50" stroke="#000" stroke-width="0.6"/>
<text x="621.50" y="375.30" font-size="5.85" font-weight="bold" font-style="italic" text-anchor="middle" fill="#000" stroke="#000" stroke-width="0.22">Dnmt3L</text>
<text x="0.80" y="392.30" font-size="11.5" font-weight="bold" font-style="normal" text-anchor="start" fill="#000" stroke="#000" stroke-width="0.22">d</text>
<text x="77.70" y="391.10" font-size="5.85" font-weight="bold" font-style="normal" text-anchor="middle" fill="#000" stroke="#000" stroke-width="0.22">5mC meDIP</text>
<text x="77.70" y="397.90" font-size="5.85" font-weight="bold" font-style="italic" text-anchor="middle" fill="#000" stroke="#000" stroke-width="0.22">Tfcp2l1</text>
<line x1="42.90" y1="444.83" x2="42.90" y2="454.47" stroke="#000" stroke-width="0.7"/>
<line x1="39.70" y1="444.83" x2="46.10" y2="444.83" stroke="#000" stroke-width="0.7"/>
<rect x="34.10" y="454.47" width="17.60" height="26.73" fill="#000"/>
<text x="42.90" y="490.20" font-size="5.85" font-weight="bold" font-style="normal" text-anchor="middle" fill="#000" stroke="#000" stroke-width="0.22">ET</text>
<line x1="42.90" y1="481.20" x2="42.90" y2="483.00" stroke="#000" stroke-width="0.6"/>
<rect x="57.60" y="419.03" width="17.40" height="62.17" fill="#ff2310"/>
<text x="66.30" y="490.20" font-size="5.85" font-weight="bold" font-style="normal" text-anchor="middle" fill="#000" stroke="#000" stroke-width="0.22">WT</text>
<line x1="66.30" y1="481.20" x2="66.30" y2="483.00" stroke="#000" stroke-width="0.6"/>
<line x1="89.80" y1="453.85" x2="89.80" y2="462.55" stroke="#000" stroke-width="0.7"/>
<line x1="86.60" y1="453.85" x2="93.00" y2="453.85" stroke="#000" stroke-width="0.7"/>
<rect x="81.10" y="462.55" width="17.40" height="18.65" fill="#0a0aff"/>
<text x="89.80" y="490.20" font-size="5.85" font-weight="bold" font-style="normal" text-anchor="middle" fill="#000" stroke="#000" stroke-width="0.22">K238R</text>
<line x1="89.80" y1="481.20" x2="89.80" y2="483.00" stroke="#000" stroke-width="0.6"/>
<line x1="113.10" y1="445.45" x2="113.10" y2="455.09" stroke="#000" stroke-width="0.7"/>
<line x1="109.90" y1="445.45" x2="116.30" y2="445.45" stroke="#000" stroke-width="0.7"/>
<rect x="104.20" y="455.09" width="17.80" height="26.11" fill="#2f8a22"/>
<text x="113.10" y="490.20" font-size="5.85" font-weight="bold" font-style="normal" text-anchor="middle" fill="#000" stroke="#000" stroke-width="0.22">K412R</text>
<line x1="113.10" y1="481.20" x2="113.10" y2="483.00" stroke="#000" stroke-width="0.6"/>
<line x1="30.20" y1="406.30" x2="30.20" y2="481.60" stroke="#000" stroke-width="0.8"/>
<line x1="29.80" y1="481.20" x2="125.70" y2="481.20" stroke="#000" stroke-width="0.8"/>
<line x1="28.20" y1="481.20" x2="30.20" y2="481.20" stroke="#000" stroke-width="0.7"/>
<text x="28.00" y="483.20" font-size="5.85" font-weight="bold" font-style="normal" text-anchor="end" fill="#000" stroke="#000" stroke-width="0.22">0.0</text>
<line x1="28.20" y1="462.55" x2="30.20" y2="462.55" stroke="#000" stroke-width="0.7"/>
<text x="28.00" y="464.55" font-size="5.85" font-weight="bold" font-style="normal" text-anchor="end" fill="#000" stroke="#000" stroke-width="0.22">0.3</text>
<line x1="28.20" y1="443.90" x2="30.20" y2="443.90" stroke="#000" stroke-width="0.7"/>
<text x="28.00" y="445.90" font-size="5.85" font-weight="bold" font-style="normal" text-anchor="end" fill="#000" stroke="#000" stroke-width="0.22">0.6</text>
<line x1="28.20" y1="425.25" x2="30.20" y2="425.25" stroke="#000" stroke-width="0.7"/>
<text x="28.00" y="427.25" font-size="5.85" font-weight="bold" font-style="normal" text-anchor="end" fill="#000" stroke="#000" stroke-width="0.22">0.9</text>
<line x1="28.20" y1="406.60" x2="30.20" y2="406.60" stroke="#000" stroke-width="0.7"/>
<text x="28.00" y="408.60" font-size="5.85" font-weight="bold" font-style="normal" text-anchor="end" fill="#000" stroke="#000" stroke-width="0.22">1.2</text>
<text x="17.00" y="443.90" font-size="5.85" font-weight="bold" font-style="normal" text-anchor="middle" fill="#000" stroke="#000" stroke-width="0.22" transform="rotate(-90 17.00 443.90)">Relative enrichment of B/UB</text>
<line x1="62.30" y1="494.50" x2="122.00" y2="494.50" stroke="#000" stroke-width="0.6"/>
<text x="91.00" y="502.80" font-size="5.85" font-weight="bold" font-style="italic" text-anchor="middle" fill="#000" stroke="#000" stroke-width="0.22">Dnmt3L</text>
<text x="42.90" y="439.90" font-size="5.9" font-weight="bold" font-style="italic" text-anchor="middle" fill="#111" stroke="#111" stroke-width="0.1">#</text>
<text x="89.90" y="447.00" font-size="5.9" font-weight="bold" font-style="italic" text-anchor="middle" fill="#111" stroke="#111" stroke-width="0.1">##</text>
<text x="112.40" y="440.30" font-size="5.9" font-weight="bold" font-style="italic" text-anchor="middle" fill="#111" stroke="#111" stroke-width="0.1">#</text>
<text x="210.00" y="391.10" font-size="5.85" font-weight="bold" font-style="normal" text-anchor="middle" fill="#000" stroke="#000" stroke-width="0.22">5mC meDIP</text>
<text x="210.00" y="397.90" font-size="5.85" font-weight="bold" font-style="italic" text-anchor="middle" fill="#000" stroke="#000" stroke-width="0.22">Stra8</text>
<line x1="175.20" y1="447.63" x2="175.20" y2="449.50" stroke="#000" stroke-width="0.7"/>
<line x1="172.00" y1="447.63" x2="178.40" y2="447.63" stroke="#000" stroke-width="0.7"/>
<rect x="166.40" y="449.50" width="17.60" height="31.70" fill="#000"/>
<text x="175.20" y="490.20" font-size="5.85" font-weight="bold" font-style="normal" text-anchor="middle" fill="#000" stroke="#000" stroke-width="0.22">ET</text>
<line x1="175.20" y1="481.20" x2="175.20" y2="483.00" stroke="#000" stroke-width="0.6"/>
<rect x="189.90" y="419.03" width="17.40" height="62.17" fill="#ff2310"/>
<text x="198.60" y="490.20" font-size="5.85" font-weight="bold" font-style="normal" text-anchor="middle" fill="#000" stroke="#000" stroke-width="0.22">WT</text>
<line x1="198.60" y1="481.20" x2="198.60" y2="483.00" stroke="#000" stroke-width="0.6"/>
<line x1="222.10" y1="457.58" x2="222.10" y2="461.93" stroke="#000" stroke-width="0.7"/>
<line x1="218.90" y1="457.58" x2="225.30" y2="457.58" stroke="#000" stroke-width="0.7"/>
<rect x="213.40" y="461.93" width="17.40" height="19.27" fill="#0a0aff"/>
<text x="222.10" y="490.20" font-size="5.85" font-weight="bold" font-style="normal" text-anchor="middle" fill="#000" stroke="#000" stroke-width="0.22">K238R</text>
<line x1="222.10" y1="481.20" x2="222.10" y2="483.00" stroke="#000" stroke-width="0.6"/>
<line x1="245.40" y1="442.35" x2="245.40" y2="445.76" stroke="#000" stroke-width="0.7"/>
<line x1="242.20" y1="442.35" x2="248.60" y2="442.35" stroke="#000" stroke-width="0.7"/>
<rect x="236.50" y="445.76" width="17.80" height="35.43" fill="#2f8a22"/>
<text x="245.40" y="490.20" font-size="5.85" font-weight="bold" font-style="normal" text-anchor="middle" fill="#000" stroke="#000" stroke-width="0.22">K412R</text>
<line x1="245.40" y1="481.20" x2="245.40" y2="483.00" stroke="#000" stroke-width="0.6"/>
<line x1="162.50" y1="406.30" x2="162.50" y2="481.60" stroke="#000" stroke-width="0.8"/>
<line x1="162.10" y1="481.20" x2="258.00" y2="481.20" stroke="#000" stroke-width="0.8"/>
<line x1="160.50" y1="481.20" x2="162.50" y2="481.20" stroke="#000" stroke-width="0.7"/>
<text x="160.30" y="483.20" font-size="5.85" font-weight="bold" font-style="normal" text-anchor="end" fill="#000" stroke="#000" stroke-width="0.22">0.0</text>
<line x1="160.50" y1="462.55" x2="162.50" y2="462.55" stroke="#000" stroke-width="0.7"/>
<text x="160.30" y="464.55" font-size="5.85" font-weight="bold" font-style="normal" text-anchor="end" fill="#000" stroke="#000" stroke-width="0.22">0.3</text>
<line x1="160.50" y1="443.90" x2="162.50" y2="443.90" stroke="#000" stroke-width="0.7"/>
<text x="160.30" y="445.90" font-size="5.85" font-weight="bold" font-style="normal" text-anchor="end" fill="#000" stroke="#000" stroke-width="0.22">0.6</text>
<line x1="160.50" y1="425.25" x2="162.50" y2="425.25" stroke="#000" stroke-width="0.7"/>
<text x="160.30" y="427.25" font-size="5.85" font-weight="bold" font-style="normal" text-anchor="end" fill="#000" stroke="#000" stroke-width="0.22">0.9</text>
<line x1="160.50" y1="406.60" x2="162.50" y2="406.60" stroke="#000" stroke-width="0.7"/>
<text x="160.30" y="408.60" font-size="5.85" font-weight="bold" font-style="normal" text-anchor="end" fill="#000" stroke="#000" stroke-width="0.22">1.2</text>
<text x="149.30" y="443.90" font-size="5.85" font-weight="bold" font-style="normal" text-anchor="middle" fill="#000" stroke="#000" stroke-width="0.22" transform="rotate(-90 149.30 443.90)">Relative enrichment of B/UB</text>
<line x1="194.60" y1="494.50" x2="254.30" y2="494.50" stroke="#000" stroke-width="0.6"/>
<text x="223.30" y="502.80" font-size="5.85" font-weight="bold" font-style="italic" text-anchor="middle" fill="#000" stroke="#000" stroke-width="0.22">Dnmt3L</text>
<text x="175.30" y="443.60" font-size="5.9" font-weight="bold" font-style="italic" text-anchor="middle" fill="#111" stroke="#111" stroke-width="0.1">###</text>
<text x="221.90" y="446.00" font-size="5.9" font-weight="bold" font-style="italic" text-anchor="middle" fill="#111" stroke="#111" stroke-width="0.1">###</text>
<text x="221.90" y="453.80" font-size="6.2" font-weight="bold" font-style="normal" text-anchor="middle" fill="#111" stroke="#111" stroke-width="0.05" letter-spacing="0.2">*</text>
<text x="245.40" y="438.50" font-size="5.9" font-weight="bold" font-style="italic" text-anchor="middle" fill="#111" stroke="#111" stroke-width="0.1">###</text>
<text x="342.70" y="391.10" font-size="5.85" font-weight="bold" font-style="normal" text-anchor="middle" fill="#000" stroke="#000" stroke-width="0.22">5mC meDIP</text>
<text x="342.70" y="397.90" font-size="5.85" font-weight="bold" font-style="italic" text-anchor="middle" fill="#000" stroke="#000" stroke-width="0.22">Foxa1</text>
<line x1="307.90" y1="439.36" x2="307.90" y2="444.83" stroke="#000" stroke-width="0.7"/>
<line x1="304.70" y1="439.36" x2="311.10" y2="439.36" stroke="#000" stroke-width="0.7"/>
<rect x="299.10" y="444.83" width="17.60" height="36.37" fill="#000"/>
<text x="307.90" y="490.20" font-size="5.85" font-weight="bold" font-style="normal" text-anchor="middle" fill="#000" stroke="#000" stroke-width="0.22">ET</text>
<line x1="307.90" y1="481.20" x2="307.90" y2="483.00" stroke="#000" stroke-width="0.6"/>
<rect x="322.60" y="419.03" width="17.40" height="62.17" fill="#ff2310"/>
<text x="331.30" y="490.20" font-size="5.85" font-weight="bold" font-style="normal" text-anchor="middle" fill="#000" stroke="#000" stroke-width="0.22">WT</text>
<line x1="331.30" y1="481.20" x2="331.30" y2="483.00" stroke="#000" stroke-width="0.6"/>
<line x1="354.80" y1="443.03" x2="354.80" y2="450.12" stroke="#000" stroke-width="0.7"/>
<line x1="351.60" y1="443.03" x2="358.00" y2="443.03" stroke="#000" stroke-width="0.7"/>
<rect x="346.10" y="450.12" width="17.40" height="31.08" fill="#0a0aff"/>
<text x="354.80" y="490.20" font-size="5.85" font-weight="bold" font-style="normal" text-anchor="middle" fill="#000" stroke="#000" stroke-width="0.22">K238R</text>
<line x1="354.80" y1="481.20" x2="354.80" y2="483.00" stroke="#000" stroke-width="0.6"/>
<line x1="378.10" y1="450.12" x2="378.10" y2="458.82" stroke="#000" stroke-width="0.7"/>
<line x1="374.90" y1="450.12" x2="381.30" y2="450.12" stroke="#000" stroke-width="0.7"/>
<rect x="369.20" y="458.82" width="17.80" height="22.38" fill="#2f8a22"/>
<text x="378.10" y="490.20" font-size="5.85" font-weight="bold" font-style="normal" text-anchor="middle" fill="#000" stroke="#000" stroke-width="0.22">K412R</text>
<line x1="378.10" y1="481.20" x2="378.10" y2="483.00" stroke="#000" stroke-width="0.6"/>
<line x1="295.20" y1="406.30" x2="295.20" y2="481.60" stroke="#000" stroke-width="0.8"/>
<line x1="294.80" y1="481.20" x2="390.70" y2="481.20" stroke="#000" stroke-width="0.8"/>
<line x1="293.20" y1="481.20" x2="295.20" y2="481.20" stroke="#000" stroke-width="0.7"/>
<text x="293.00" y="483.20" font-size="5.85" font-weight="bold" font-style="normal" text-anchor="end" fill="#000" stroke="#000" stroke-width="0.22">0.0</text>
<line x1="293.20" y1="462.55" x2="295.20" y2="462.55" stroke="#000" stroke-width="0.7"/>
<text x="293.00" y="464.55" font-size="5.85" font-weight="bold" font-style="normal" text-anchor="end" fill="#000" stroke="#000" stroke-width="0.22">0.3</text>
<line x1="293.20" y1="443.90" x2="295.20" y2="443.90" stroke="#000" stroke-width="0.7"/>
<text x="293.00" y="445.90" font-size="5.85" font-weight="bold" font-style="normal" text-anchor="end" fill="#000" stroke="#000" stroke-width="0.22">0.6</text>
<line x1="293.20" y1="425.25" x2="295.20" y2="425.25" stroke="#000" stroke-width="0.7"/>
<text x="293.00" y="427.25" font-size="5.85" font-weight="bold" font-style="normal" text-anchor="end" fill="#000" stroke="#000" stroke-width="0.22">0.9</text>
<line x1="293.20" y1="406.60" x2="295.20" y2="406.60" stroke="#000" stroke-width="0.7"/>
<text x="293.00" y="408.60" font-size="5.85" font-weight="bold" font-style="normal" text-anchor="end" fill="#000" stroke="#000" stroke-width="0.22">1.2</text>
<text x="282.00" y="443.90" font-size="5.85" font-weight="bold" font-style="normal" text-anchor="middle" fill="#000" stroke="#000" stroke-width="0.22" transform="rotate(-90 282.00 443.90)">Relative enrichment of B/UB</text>
<line x1="327.30" y1="494.50" x2="387.00" y2="494.50" stroke="#000" stroke-width="0.6"/>
<text x="356.00" y="502.80" font-size="5.85" font-weight="bold" font-style="italic" text-anchor="middle" fill="#000" stroke="#000" stroke-width="0.22">Dnmt3L</text>
<text x="308.50" y="434.80" font-size="5.9" font-weight="bold" font-style="italic" text-anchor="middle" fill="#111" stroke="#111" stroke-width="0.1">#</text>
<text x="354.50" y="438.50" font-size="5.9" font-weight="bold" font-style="italic" text-anchor="middle" fill="#111" stroke="#111" stroke-width="0.1">#</text>
<text x="377.80" y="446.00" font-size="5.9" font-weight="bold" font-style="italic" text-anchor="middle" fill="#111" stroke="#111" stroke-width="0.1">##</text>
<text x="475.30" y="391.10" font-size="5.85" font-weight="bold" font-style="normal" text-anchor="middle" fill="#000" stroke="#000" stroke-width="0.22">5mC meDIP</text>
<text x="475.30" y="397.90" font-size="5.85" font-weight="bold" font-style="italic" text-anchor="middle" fill="#000" stroke="#000" stroke-width="0.22">Cer1</text>
<line x1="440.50" y1="448.25" x2="440.50" y2="451.98" stroke="#000" stroke-width="0.7"/>
<line x1="437.30" y1="448.25" x2="443.70" y2="448.25" stroke="#000" stroke-width="0.7"/>
<rect x="431.70" y="451.98" width="17.60" height="29.22" fill="#000"/>
<text x="440.50" y="490.20" font-size="5.85" font-weight="bold" font-style="normal" text-anchor="middle" fill="#000" stroke="#000" stroke-width="0.22">ET</text>
<line x1="440.50" y1="481.20" x2="440.50" y2="483.00" stroke="#000" stroke-width="0.6"/>
<rect x="455.20" y="419.03" width="17.40" height="62.17" fill="#ff2310"/>
<text x="463.90" y="490.20" font-size="5.85" font-weight="bold" font-style="normal" text-anchor="middle" fill="#000" stroke="#000" stroke-width="0.22">WT</text>
<line x1="463.90" y1="481.20" x2="463.90" y2="483.00" stroke="#000" stroke-width="0.6"/>
<line x1="487.40" y1="458.82" x2="487.40" y2="462.24" stroke="#000" stroke-width="0.7"/>
<line x1="484.20" y1="458.82" x2="490.60" y2="458.82" stroke="#000" stroke-width="0.7"/>
<rect x="478.70" y="462.24" width="17.40" height="18.96" fill="#0a0aff"/>
<text x="487.40" y="490.20" font-size="5.85" font-weight="bold" font-style="normal" text-anchor="middle" fill="#000" stroke="#000" stroke-width="0.22">K238R</text>
<line x1="487.40" y1="481.20" x2="487.40" y2="483.00" stroke="#000" stroke-width="0.6"/>
<line x1="510.70" y1="443.90" x2="510.70" y2="449.50" stroke="#000" stroke-width="0.7"/>
<line x1="507.50" y1="443.90" x2="513.90" y2="443.90" stroke="#000" stroke-width="0.7"/>
<rect x="501.80" y="449.50" width="17.80" height="31.70" fill="#2f8a22"/>
<text x="510.70" y="490.20" font-size="5.85" font-weight="bold" font-style="normal" text-anchor="middle" fill="#000" stroke="#000" stroke-width="0.22">K412R</text>
<line x1="510.70" y1="481.20" x2="510.70" y2="483.00" stroke="#000" stroke-width="0.6"/>
<line x1="427.80" y1="406.30" x2="427.80" y2="481.60" stroke="#000" stroke-width="0.8"/>
<line x1="427.40" y1="481.20" x2="523.30" y2="481.20" stroke="#000" stroke-width="0.8"/>
<line x1="425.80" y1="481.20" x2="427.80" y2="481.20" stroke="#000" stroke-width="0.7"/>
<text x="425.60" y="483.20" font-size="5.85" font-weight="bold" font-style="normal" text-anchor="end" fill="#000" stroke="#000" stroke-width="0.22">0.0</text>
<line x1="425.80" y1="462.55" x2="427.80" y2="462.55" stroke="#000" stroke-width="0.7"/>
<text x="425.60" y="464.55" font-size="5.85" font-weight="bold" font-style="normal" text-anchor="end" fill="#000" stroke="#000" stroke-width="0.22">0.3</text>
<line x1="425.80" y1="443.90" x2="427.80" y2="443.90" stroke="#000" stroke-width="0.7"/>
<text x="425.60" y="445.90" font-size="5.85" font-weight="bold" font-style="normal" text-anchor="end" fill="#000" stroke="#000" stroke-width="0.22">0.6</text>
<line x1="425.80" y1="425.25" x2="427.80" y2="425.25" stroke="#000" stroke-width="0.7"/>
<text x="425.60" y="427.25" font-size="5.85" font-weight="bold" font-style="normal" text-anchor="end" fill="#000" stroke="#000" stroke-width="0.22">0.9</text>
<line x1="425.80" y1="406.60" x2="427.80" y2="406.60" stroke="#000" stroke-width="0.7"/>
<text x="425.60" y="408.60" font-size="5.85" font-weight="bold" font-style="normal" text-anchor="end" fill="#000" stroke="#000" stroke-width="0.22">1.2</text>
<text x="414.60" y="443.90" font-size="5.85" font-weight="bold" font-style="normal" text-anchor="middle" fill="#000" stroke="#000" stroke-width="0.22" transform="rotate(-90 414.60 443.90)">Relative enrichment of B/UB</text>
<line x1="459.90" y1="494.50" x2="519.60" y2="494.50" stroke="#000" stroke-width="0.6"/>
<text x="488.60" y="502.80" font-size="5.85" font-weight="bold" font-style="italic" text-anchor="middle" fill="#000" stroke="#000" stroke-width="0.22">Dnmt3L</text>
<text x="440.90" y="443.00" font-size="5.9" font-weight="bold" font-style="italic" text-anchor="middle" fill="#111" stroke="#111" stroke-width="0.1">###</text>
<text x="487.50" y="453.60" font-size="5.9" font-weight="bold" font-style="italic" text-anchor="middle" fill="#111" stroke="#111" stroke-width="0.1">###</text>
<text x="510.80" y="439.90" font-size="5.9" font-weight="bold" font-style="italic" text-anchor="middle" fill="#111" stroke="#111" stroke-width="0.1">###</text>
<text x="605.50" y="390.60" font-size="5.85" font-weight="bold" font-style="normal" text-anchor="middle" fill="#000" stroke="#000" stroke-width="0.22">5mC meDIP</text>
<text x="605.50" y="397.60" font-size="5.85" font-weight="bold" font-style="italic" text-anchor="middle" fill="#000" stroke="#000" stroke-width="0.22">Snrpn</text>
<line x1="571.90" y1="424.25" x2="571.90" y2="427.42" stroke="#000" stroke-width="0.7"/>
<line x1="568.70" y1="424.25" x2="575.10" y2="424.25" stroke="#000" stroke-width="0.7"/>
<rect x="563.50" y="427.42" width="16.80" height="55.88" fill="#000"/>
<text x="571.90" y="491.40" font-size="5.85" font-weight="bold" font-style="normal" text-anchor="middle" fill="#000" stroke="#000" stroke-width="0.22">ET</text>
<line x1="571.90" y1="483.30" x2="571.90" y2="485.10" stroke="#000" stroke-width="0.6"/>
<rect x="585.80" y="419.80" width="16.60" height="63.50" fill="#ff2310"/>
<text x="594.10" y="491.40" font-size="5.85" font-weight="bold" font-style="normal" text-anchor="middle" fill="#000" stroke="#000" stroke-width="0.22">WT</text>
<line x1="594.10" y1="483.30" x2="594.10" y2="485.10" stroke="#000" stroke-width="0.6"/>
<line x1="616.35" y1="442.15" x2="616.35" y2="443.93" stroke="#000" stroke-width="0.7"/>
<line x1="613.15" y1="442.15" x2="619.55" y2="442.15" stroke="#000" stroke-width="0.7"/>
<rect x="607.90" y="443.93" width="16.90" height="39.37" fill="#0a0aff"/>
<text x="616.35" y="491.40" font-size="5.85" font-weight="bold" font-style="normal" text-anchor="middle" fill="#000" stroke="#000" stroke-width="0.22">K238R</text>
<line x1="616.35" y1="483.30" x2="616.35" y2="485.10" stroke="#000" stroke-width="0.6"/>
<line x1="638.65" y1="434.28" x2="638.65" y2="437.26" stroke="#000" stroke-width="0.7"/>
<line x1="635.45" y1="434.28" x2="641.85" y2="434.28" stroke="#000" stroke-width="0.7"/>
<rect x="630.20" y="437.26" width="16.90" height="46.04" fill="#2f8a22"/>
<text x="638.65" y="491.40" font-size="5.85" font-weight="bold" font-style="normal" text-anchor="middle" fill="#000" stroke="#000" stroke-width="0.22">K412R</text>
<line x1="638.65" y1="483.30" x2="638.65" y2="485.10" stroke="#000" stroke-width="0.6"/>
<line x1="560.80" y1="406.80" x2="560.80" y2="483.70" stroke="#000" stroke-width="0.8"/>
<line x1="560.40" y1="483.30" x2="651.00" y2="483.30" stroke="#000" stroke-width="0.8"/>
<line x1="558.80" y1="483.30" x2="560.80" y2="483.30" stroke="#000" stroke-width="0.7"/>
<text x="558.60" y="485.30" font-size="5.85" font-weight="bold" font-style="normal" text-anchor="end" fill="#000" stroke="#000" stroke-width="0.22">0.0</text>
<line x1="558.80" y1="464.25" x2="560.80" y2="464.25" stroke="#000" stroke-width="0.7"/>
<text x="558.60" y="466.25" font-size="5.85" font-weight="bold" font-style="normal" text-anchor="end" fill="#000" stroke="#000" stroke-width="0.22">0.3</text>
<line x1="558.80" y1="445.20" x2="560.80" y2="445.20" stroke="#000" stroke-width="0.7"/>
<text x="558.60" y="447.20" font-size="5.85" font-weight="bold" font-style="normal" text-anchor="end" fill="#000" stroke="#000" stroke-width="0.22">0.6</text>
<line x1="558.80" y1="426.15" x2="560.80" y2="426.15" stroke="#000" stroke-width="0.7"/>
<text x="558.60" y="428.15" font-size="5.85" font-weight="bold" font-style="normal" text-anchor="end" fill="#000" stroke="#000" stroke-width="0.22">0.9</text>
<line x1="558.80" y1="407.10" x2="560.80" y2="407.10" stroke="#000" stroke-width="0.7"/>
<text x="558.60" y="409.10" font-size="5.85" font-weight="bold" font-style="normal" text-anchor="end" fill="#000" stroke="#000" stroke-width="0.22">1.2</text>
<text x="547.20" y="445.20" font-size="5.85" font-weight="bold" font-style="normal" text-anchor="middle" fill="#000" stroke="#000" stroke-width="0.22" transform="rotate(-90 547.20 445.20)">Relative enrichment of B/UB</text>
<line x1="590.80" y1="496.70" x2="647.10" y2="496.70" stroke="#000" stroke-width="0.6"/>
<text x="618.20" y="504.80" font-size="5.85" font-weight="bold" font-style="italic" text-anchor="middle" fill="#000" stroke="#000" stroke-width="0.22">Dnmt3L</text>
<text x="616.50" y="432.20" font-size="5.9" font-weight="bold" font-style="italic" text-anchor="middle" fill="#111" stroke="#111" stroke-width="0.1">###</text>
<text x="616.50" y="439.50" font-size="6.2" font-weight="bold" font-style="normal" text-anchor="middle" fill="#111" stroke="#111" stroke-width="0.05" letter-spacing="0.2">***</text>
<text x="639.00" y="425.60" font-size="5.9" font-weight="bold" font-style="italic" text-anchor="middle" fill="#111" stroke="#111" stroke-width="0.1">###</text>
<text x="639.00" y="432.90" font-size="6.2" font-weight="bold" font-style="normal" text-anchor="middle" fill="#111" stroke="#111" stroke-width="0.05" letter-spacing="0.2">*</text>
<text x="0.90" y="527.70" font-size="11.8" font-weight="bold" font-style="normal" text-anchor="start" fill="#000" stroke="#000" stroke-width="0.22">e</text>
<text x="255.00" y="534.60" font-size="5.9" font-weight="bold" font-style="italic" text-anchor="middle" fill="#000" stroke="#000" stroke-width="0.22">Dnmt3L</text>
<line x1="119.00" y1="540.50" x2="392.60" y2="540.50" stroke="#000" stroke-width="0.8"/>
<text x="13.80" y="609.00" font-size="5.3" font-weight="bold" font-style="italic" text-anchor="middle" fill="#000" stroke="#000" stroke-width="0.22" transform="rotate(-90 13.80 609.00)">Stra8</text>
<text x="65.97" y="550.60" font-size="5.9" font-weight="bold" font-style="normal" text-anchor="middle" fill="#000" stroke="#000" stroke-width="0.22">ET</text>
<circle cx="25.10" cy="561.10" r="3.1" fill="#fff" stroke="#000" stroke-width="0.6"/>
<circle cx="33.41" cy="561.10" r="3.1" fill="#fff" stroke="#000" stroke-width="0.6"/>
<circle cx="41.71" cy="561.10" r="3.1" fill="#fff" stroke="#000" stroke-width="0.6"/>
<circle cx="50.02" cy="561.10" r="3.1" fill="#fff" stroke="#000" stroke-width="0.6"/>
<circle cx="58.32" cy="561.10" r="3.1" fill="#fff" stroke="#000" stroke-width="0.6"/>
<circle cx="66.62" cy="561.10" r="3.1" fill="#fff" stroke="#000" stroke-width="0.6"/>
<circle cx="74.93" cy="561.10" r="3.1" fill="#fff" stroke="#000" stroke-width="0.6"/>
<circle cx="83.23" cy="561.10" r="3.4" fill="#000"/>
<circle cx="91.54" cy="561.10" r="3.1" fill="#fff" stroke="#000" stroke-width="0.6"/>
<circle cx="99.84" cy="561.10" r="3.4" fill="#000"/>
<circle cx="25.10" cy="569.40" r="3.1" fill="#fff" stroke="#000" stroke-width="0.6"/>
<circle cx="33.41" cy="569.40" r="3.1" fill="#fff" stroke="#000" stroke-width="0.6"/>
<circle cx="41.71" cy="569.40" r="3.1" fill="#fff" stroke="#000" stroke-width="0.6"/>
<circle cx="50.02" cy="569.40" r="3.1" fill="#fff" stroke="#000" stroke-width="0.6"/>
<circle cx="58.32" cy="569.40" r="3.1" fill="#fff" stroke="#000" stroke-width="0.6"/>
<circle cx="66.62" cy="569.40" r="3.1" fill="#fff" stroke="#000" stroke-width="0.6"/>
<circle cx="74.93" cy="569.40" r="3.1" fill="#fff" stroke="#000" stroke-width="0.6"/>
<circle cx="83.23" cy="569.40" r="3.4" fill="#000"/>
<circle cx="91.54" cy="569.40" r="3.4" fill="#000"/>
<circle cx="99.84" cy="569.40" r="3.1" fill="#fff" stroke="#000" stroke-width="0.6"/>
<circle cx="25.10" cy="577.71" r="3.4" fill="#000"/>
<circle cx="33.41" cy="577.71" r="3.1" fill="#fff" stroke="#000" stroke-width="0.6"/>
<circle cx="41.71" cy="577.71" r="3.1" fill="#fff" stroke="#000" stroke-width="0.6"/>
<circle cx="50.02" cy="577.71" r="3.1" fill="#fff" stroke="#000" stroke-width="0.6"/>
<circle cx="58.32" cy="577.71" r="3.1" fill="#fff" stroke="#000" stroke-width="0.6"/>
<circle cx="66.62" cy="577.71" r="3.1" fill="#fff" stroke="#000" stroke-width="0.6"/>
<circle cx="74.93" cy="577.71" r="3.1" fill="#fff" stroke="#000" stroke-width="0.6"/>
<circle cx="83.23" cy="577.71" r="3.1" fill="#fff" stroke="#000" stroke-width="0.6"/>
<circle cx="91.54" cy="577.71" r="3.1" fill="#fff" stroke="#000" stroke-width="0.6"/>
<circle cx="99.84" cy="577.71" r="3.4" fill="#000"/>
<circle cx="25.10" cy="586.01" r="3.4" fill="#000"/>
<circle cx="33.41" cy="586.01" r="3.1" fill="#fff" stroke="#000" stroke-width="0.6"/>
<circle cx="41.71" cy="586.01" r="3.1" fill="#fff" stroke="#000" stroke-width="0.6"/>
<circle cx="50.02" cy="586.01" r="3.1" fill="#fff" stroke="#000" stroke-width="0.6"/>
<circle cx="58.32" cy="586.01" r="3.1" fill="#fff" stroke="#000" stroke-width="0.6"/>
<circle cx="66.62" cy="586.01" r="3.1" fill="#fff" stroke="#000" stroke-width="0.6"/>
<circle cx="74.93" cy="586.01" r="3.1" fill="#fff" stroke="#000" stroke-width="0.6"/>
<circle cx="83.23" cy="586.01" r="3.1" fill="#fff" stroke="#000" stroke-width="0.6"/>
<circle cx="91.54" cy="586.01" r="3.4" fill="#000"/>
<circle cx="99.84" cy="586.01" r="3.1" fill="#fff" stroke="#000" stroke-width="0.6"/>
<circle cx="25.10" cy="594.32" r="3.4" fill="#000"/>
<circle cx="33.41" cy="594.32" r="3.1" fill="#fff" stroke="#000" stroke-width="0.6"/>
<circle cx="41.71" cy="594.32" r="3.1" fill="#fff" stroke="#000" stroke-width="0.6"/>
<circle cx="50.02" cy="594.32" r="3.1" fill="#fff" stroke="#000" stroke-width="0.6"/>
<circle cx="58.32" cy="594.32" r="3.1" fill="#fff" stroke="#000" stroke-width="0.6"/>
<circle cx="66.62" cy="594.32" r="3.1" fill="#fff" stroke="#000" stroke-width="0.6"/>
<circle cx="74.93" cy="594.32" r="3.1" fill="#fff" stroke="#000" stroke-width="0.6"/>
<circle cx="83.23" cy="594.32" r="3.4" fill="#000"/>
<circle cx="91.54" cy="594.32" r="3.4" fill="#000"/>
<circle cx="99.84" cy="594.32" r="3.4" fill="#000"/>
<circle cx="25.10" cy="602.62" r="3.4" fill="#000"/>
<circle cx="33.41" cy="602.62" r="3.1" fill="#fff" stroke="#000" stroke-width="0.6"/>
<circle cx="41.71" cy="602.62" r="3.1" fill="#fff" stroke="#000" stroke-width="0.6"/>
<circle cx="50.02" cy="602.62" r="3.1" fill="#fff" stroke="#000" stroke-width="0.6"/>
<circle cx="58.32" cy="602.62" r="3.1" fill="#fff" stroke="#000" stroke-width="0.6"/>
<circle cx="66.62" cy="602.62" r="3.4" fill="#000"/>
<circle cx="74.93" cy="602.62" r="3.4" fill="#000"/>
<circle cx="83.23" cy="602.62" r="3.4" fill="#000"/>
<circle cx="91.54" cy="602.62" r="3.1" fill="#fff" stroke="#000" stroke-width="0.6"/>
<circle cx="99.84" cy="602.62" r="3.4" fill="#000"/>
<circle cx="25.10" cy="610.93" r="3.4" fill="#000"/>
<circle cx="33.41" cy="610.93" r="3.1" fill="#fff" stroke="#000" stroke-width="0.6"/>
<circle cx="41.71" cy="610.93" r="3.1" fill="#fff" stroke="#000" stroke-width="0.6"/>
<circle cx="50.02" cy="610.93" r="3.1" fill="#fff" stroke="#000" stroke-width="0.6"/>
<circle cx="58.32" cy="610.93" r="3.1" fill="#fff" stroke="#000" stroke-width="0.6"/>
<circle cx="66.62" cy="610.93" r="3.4" fill="#000"/>
<circle cx="74.93" cy="610.93" r="3.4" fill="#000"/>
<circle cx="83.23" cy="610.93" r="3.4" fill="#000"/>
<circle cx="91.54" cy="610.93" r="3.1" fill="#fff" stroke="#000" stroke-width="0.6"/>
<circle cx="99.84" cy="610.93" r="3.4" fill="#000"/>
<circle cx="25.10" cy="619.24" r="3.4" fill="#000"/>
<circle cx="33.41" cy="619.24" r="3.4" fill="#000"/>
<circle cx="41.71" cy="619.24" r="3.4" fill="#000"/>
<circle cx="50.02" cy="619.24" r="3.4" fill="#000"/>
<circle cx="58.32" cy="619.24" r="3.1" fill="#fff" stroke="#000" stroke-width="0.6"/>
<circle cx="66.62" cy="619.24" r="3.1" fill="#fff" stroke="#000" stroke-width="0.6"/>
<circle cx="74.93" cy="619.24" r="3.1" fill="#fff" stroke="#000" stroke-width="0.6"/>
<circle cx="83.23" cy="619.24" r="3.4" fill="#000"/>
<circle cx="91.54" cy="619.24" r="3.4" fill="#000"/>
<circle cx="99.84" cy="619.24" r="3.1" fill="#fff" stroke="#000" stroke-width="0.6"/>
<circle cx="25.10" cy="627.54" r="3.4" fill="#000"/>
<circle cx="33.41" cy="627.54" r="3.4" fill="#000"/>
<circle cx="41.71" cy="627.54" r="3.1" fill="#fff" stroke="#000" stroke-width="0.6"/>
<circle cx="50.02" cy="627.54" r="3.4" fill="#000"/>
<circle cx="58.32" cy="627.54" r="3.4" fill="#000"/>
<circle cx="66.62" cy="627.54" r="3.4" fill="#000"/>
<circle cx="74.93" cy="627.54" r="3.4" fill="#000"/>
<circle cx="83.23" cy="627.54" r="3.1" fill="#fff" stroke="#000" stroke-width="0.6"/>
<circle cx="91.54" cy="627.54" r="3.4" fill="#000"/>
<circle cx="99.84" cy="627.54" r="3.1" fill="#fff" stroke="#000" stroke-width="0.6"/>
<circle cx="25.10" cy="635.85" r="3.4" fill="#000"/>
<circle cx="33.41" cy="635.85" r="3.4" fill="#000"/>
<circle cx="41.71" cy="635.85" r="3.4" fill="#000"/>
<circle cx="50.02" cy="635.85" r="3.4" fill="#000"/>
<circle cx="58.32" cy="635.85" r="3.1" fill="#fff" stroke="#000" stroke-width="0.6"/>
<circle cx="66.62" cy="635.85" r="3.1" fill="#fff" stroke="#000" stroke-width="0.6"/>
<circle cx="74.93" cy="635.85" r="3.4" fill="#000"/>
<circle cx="83.23" cy="635.85" r="3.4" fill="#000"/>
<circle cx="91.54" cy="635.85" r="3.1" fill="#fff" stroke="#000" stroke-width="0.6"/>
<circle cx="99.84" cy="635.85" r="3.4" fill="#000"/>
<circle cx="25.10" cy="644.15" r="3.4" fill="#000"/>
<circle cx="33.41" cy="644.15" r="3.4" fill="#000"/>
<circle cx="41.71" cy="644.15" r="3.1" fill="#fff" stroke="#000" stroke-width="0.6"/>
<circle cx="50.02" cy="644.15" r="3.4" fill="#000"/>
<circle cx="58.32" cy="644.15" r="3.4" fill="#000"/>
<circle cx="66.62" cy="644.15" r="3.4" fill="#000"/>
<circle cx="74.93" cy="644.15" r="3.4" fill="#000"/>
<circle cx="83.23" cy="644.15" r="3.4" fill="#000"/>
<circle cx="91.54" cy="644.15" r="3.4" fill="#000"/>
<circle cx="99.84" cy="644.15" r="3.4" fill="#000"/>
<circle cx="25.10" cy="652.46" r="3.4" fill="#000"/>
<circle cx="33.41" cy="652.46" r="3.4" fill="#000"/>
<circle cx="41.71" cy="652.46" r="3.4" fill="#000"/>
<circle cx="50.02" cy="652.46" r="3.4" fill="#000"/>
<circle cx="58.32" cy="652.46" r="3.4" fill="#000"/>
<circle cx="66.62" cy="652.46" r="3.4" fill="#000"/>
<circle cx="74.93" cy="652.46" r="3.4" fill="#000"/>
<circle cx="83.23" cy="652.46" r="3.4" fill="#000"/>
<circle cx="91.54" cy="652.46" r="3.4" fill="#000"/>
<circle cx="99.84" cy="652.46" r="3.4" fill="#000"/>
<text x="58.97" y="668.00" font-size="5.9" font-weight="bold" font-style="normal" text-anchor="middle" fill="#000" stroke="#000" stroke-width="0.22">50.45 ± 3.61</text>
<text x="74.47" y="665.00" font-size="3.6" font-weight="bold" font-style="italic" text-anchor="start" fill="#000" stroke="#000" stroke-width="0.22">###</text>
<text x="157.07" y="550.60" font-size="5.9" font-weight="bold" font-style="normal" text-anchor="middle" fill="#000" stroke="#000" stroke-width="0.22">WT</text>
<circle cx="122.00" cy="561.10" r="3.4" fill="#000"/>
<circle cx="130.31" cy="561.10" r="3.4" fill="#000"/>
<circle cx="138.61" cy="561.10" r="3.4" fill="#000"/>
<circle cx="146.91" cy="561.10" r="3.1" fill="#fff" stroke="#000" stroke-width="0.6"/>
<circle cx="155.22" cy="561.10" r="3.4" fill="#000"/>
<circle cx="163.53" cy="561.10" r="3.4" fill="#000"/>
<circle cx="171.83" cy="561.10" r="3.4" fill="#000"/>
<circle cx="180.13" cy="561.10" r="3.4" fill="#000"/>
<circle cx="188.44" cy="561.10" r="3.1" fill="#fff" stroke="#000" stroke-width="0.6"/>
<circle cx="196.75" cy="561.10" r="3.4" fill="#000"/>
<circle cx="122.00" cy="569.40" r="3.1" fill="#fff" stroke="#000" stroke-width="0.6"/>
<circle cx="130.31" cy="569.40" r="3.4" fill="#000"/>
<circle cx="138.61" cy="569.40" r="3.4" fill="#000"/>
<circle cx="146.91" cy="569.40" r="3.4" fill="#000"/>
<circle cx="155.22" cy="569.40" r="3.4" fill="#000"/>
<circle cx="163.53" cy="569.40" r="3.4" fill="#000"/>
<circle cx="171.83" cy="569.40" r="3.4" fill="#000"/>
<circle cx="180.13" cy="569.40" r="3.4" fill="#000"/>
<circle cx="188.44" cy="569.40" r="3.4" fill="#000"/>
<circle cx="196.75" cy="569.40" r="3.4" fill="#000"/>
<circle cx="122.00" cy="577.71" r="3.1" fill="#fff" stroke="#000" stroke-width="0.6"/>
<circle cx="130.31" cy="577.71" r="3.4" fill="#000"/>
<circle cx="138.61" cy="577.71" r="3.4" fill="#000"/>
<circle cx="146.91" cy="577.71" r="3.4" fill="#000"/>
<circle cx="155.22" cy="577.71" r="3.4" fill="#000"/>
<circle cx="163.53" cy="577.71" r="3.4" fill="#000"/>
<circle cx="171.83" cy="577.71" r="3.4" fill="#000"/>
<circle cx="180.13" cy="577.71" r="3.4" fill="#000"/>
<circle cx="188.44" cy="577.71" r="3.4" fill="#000"/>
<circle cx="196.75" cy="577.71" r="3.4" fill="#000"/>
<circle cx="122.00" cy="586.01" r="3.4" fill="#000"/>
<circle cx="130.31" cy="586.01" r="3.4" fill="#000"/>
<circle cx="138.61" cy="586.01" r="3.1" fill="#fff" stroke="#000" stroke-width="0.6"/>
<circle cx="146.91" cy="586.01" r="3.4" fill="#000"/>
<circle cx="155.22" cy="586.01" r="3.4" fill="#000"/>
<circle cx="163.53" cy="586.01" r="3.4" fill="#000"/>
<circle cx="171.83" cy="586.01" r="3.4" fill="#000"/>
<circle cx="180.13" cy="586.01" r="3.4" fill="#000"/>
<circle cx="188.44" cy="586.01" r="3.4" fill="#000"/>
<circle cx="196.75" cy="586.01" r="3.4" fill="#000"/>
<circle cx="122.00" cy="594.32" r="3.4" fill="#000"/>
<circle cx="130.31" cy="594.32" r="3.4" fill="#000"/>
<circle cx="138.61" cy="594.32" r="3.4" fill="#000"/>
<circle cx="146.91" cy="594.32" r="3.1" fill="#fff" stroke="#000" stroke-width="0.6"/>
<circle cx="155.22" cy="594.32" r="3.4" fill="#000"/>
<circle cx="163.53" cy="594.32" r="3.4" fill="#000"/>
<circle cx="171.83" cy="594.32" r="3.4" fill="#000"/>
<circle cx="180.13" cy="594.32" r="3.4" fill="#000"/>
<circle cx="188.44" cy="594.32" r="3.4" fill="#000"/>
<circle cx="196.75" cy="594.32" r="3.4" fill="#000"/>
<circle cx="122.00" cy="602.62" r="3.4" fill="#000"/>
<circle cx="130.31" cy="602.62" r="3.4" fill="#000"/>
<circle cx="138.61" cy="602.62" r="3.4" fill="#000"/>
<circle cx="146.91" cy="602.62" r="3.4" fill="#000"/>
<circle cx="155.22" cy="602.62" r="3.1" fill="#fff" stroke="#000" stroke-width="0.6"/>
<circle cx="163.53" cy="602.62" r="3.4" fill="#000"/>
<circle cx="171.83" cy="602.62" r="3.4" fill="#000"/>
<circle cx="180.13" cy="602.62" r="3.4" fill="#000"/>
<circle cx="188.44" cy="602.62" r="3.4" fill="#000"/>
<circle cx="196.75" cy="602.62" r="3.4" fill="#000"/>
<circle cx="122.00" cy="610.93" r="3.4" fill="#000"/>
<circle cx="130.31" cy="610.93" r="3.4" fill="#000"/>
<circle cx="138.61" cy="610.93" r="3.4" fill="#000"/>
<circle cx="146.91" cy="610.93" r="3.4" fill="#000"/>
<circle cx="155.22" cy="610.93" r="3.4" fill="#000"/>
<circle cx="163.53" cy="610.93" r="3.1" fill="#fff" stroke="#000" stroke-width="0.6"/>
<circle cx="171.83" cy="610.93" r="3.4" fill="#000"/>
<circle cx="180.13" cy="610.93" r="3.4" fill="#000"/>
<circle cx="188.44" cy="610.93" r="3.4" fill="#000"/>
<circle cx="196.75" cy="610.93" r="3.4" fill="#000"/>
<circle cx="122.00" cy="619.24" r="3.4" fill="#000"/>
<circle cx="130.31" cy="619.24" r="3.4" fill="#000"/>
<circle cx="138.61" cy="619.24" r="3.4" fill="#000"/>
<circle cx="146.91" cy="619.24" r="3.4" fill="#000"/>
<circle cx="155.22" cy="619.24" r="3.4" fill="#000"/>
<circle cx="163.53" cy="619.24" r="3.4" fill="#000"/>
<circle cx="171.83" cy="619.24" r="3.4" fill="#000"/>
<circle cx="180.13" cy="619.24" r="3.1" fill="#fff" stroke="#000" stroke-width="0.6"/>
<circle cx="188.44" cy="619.24" r="3.4" fill="#000"/>
<circle cx="196.75" cy="619.24" r="3.4" fill="#000"/>
<circle cx="122.00" cy="627.54" r="3.4" fill="#000"/>
<circle cx="130.31" cy="627.54" r="3.4" fill="#000"/>
<circle cx="138.61" cy="627.54" r="3.4" fill="#000"/>
<circle cx="146.91" cy="627.54" r="3.4" fill="#000"/>
<circle cx="155.22" cy="627.54" r="3.4" fill="#000"/>
<circle cx="163.53" cy="627.54" r="3.4" fill="#000"/>
<circle cx="171.83" cy="627.54" r="3.4" fill="#000"/>
<circle cx="180.13" cy="627.54" r="3.4" fill="#000"/>
<circle cx="188.44" cy="627.54" r="3.4" fill="#000"/>
<circle cx="196.75" cy="627.54" r="3.4" fill="#000"/>
<circle cx="122.00" cy="635.85" r="3.4" fill="#000"/>
<circle cx="130.31" cy="635.85" r="3.4" fill="#000"/>
<circle cx="138.61" cy="635.85" r="3.4" fill="#000"/>
<circle cx="146.91" cy="635.85" r="3.4" fill="#000"/>
<circle cx="155.22" cy="635.85" r="3.4" fill="#000"/>
<circle cx="163.53" cy="635.85" r="3.4" fill="#000"/>
<circle cx="171.83" cy="635.85" r="3.4" fill="#000"/>
<circle cx="180.13" cy="635.85" r="3.4" fill="#000"/>
<circle cx="188.44" cy="635.85" r="3.4" fill="#000"/>
<circle cx="196.75" cy="635.85" r="3.4" fill="#000"/>
<circle cx="122.00" cy="644.15" r="3.4" fill="#000"/>
<circle cx="130.31" cy="644.15" r="3.4" fill="#000"/>
<circle cx="138.61" cy="644.15" r="3.4" fill="#000"/>
<circle cx="146.91" cy="644.15" r="3.4" fill="#000"/>
<circle cx="155.22" cy="644.15" r="3.4" fill="#000"/>
<circle cx="163.53" cy="644.15" r="3.4" fill="#000"/>
<circle cx="171.83" cy="644.15" r="3.4" fill="#000"/>
<circle cx="180.13" cy="644.15" r="3.4" fill="#000"/>
<circle cx="188.44" cy="644.15" r="3.4" fill="#000"/>
<circle cx="196.75" cy="644.15" r="3.4" fill="#000"/>
<circle cx="122.00" cy="652.46" r="3.4" fill="#000"/>
<circle cx="130.31" cy="652.46" r="3.4" fill="#000"/>
<circle cx="138.61" cy="652.46" r="3.4" fill="#000"/>
<circle cx="146.91" cy="652.46" r="3.4" fill="#000"/>
<circle cx="155.22" cy="652.46" r="3.4" fill="#000"/>
<circle cx="163.53" cy="652.46" r="3.4" fill="#000"/>
<circle cx="171.83" cy="652.46" r="3.4" fill="#000"/>
<circle cx="180.13" cy="652.46" r="3.4" fill="#000"/>
<circle cx="188.44" cy="652.46" r="3.4" fill="#000"/>
<circle cx="196.75" cy="652.46" r="3.4" fill="#000"/>
<text x="155.87" y="668.00" font-size="5.9" font-weight="bold" font-style="normal" text-anchor="middle" fill="#000" stroke="#000" stroke-width="0.22">92.5 ± 0.46</text>
<text x="171.37" y="665.00" font-size="3.6" font-weight="bold" font-style="normal" text-anchor="start" fill="#000" stroke="#000" stroke-width="0.22">***</text>
<text x="254.17" y="550.60" font-size="5.9" font-weight="bold" font-style="normal" text-anchor="middle" fill="#000" stroke="#000" stroke-width="0.22">K238R</text>
<circle cx="218.80" cy="561.10" r="3.1" fill="#fff" stroke="#000" stroke-width="0.6"/>
<circle cx="227.11" cy="561.10" r="3.1" fill="#fff" stroke="#000" stroke-width="0.6"/>
<circle cx="235.41" cy="561.10" r="3.1" fill="#fff" stroke="#000" stroke-width="0.6"/>
<circle cx="243.72" cy="561.10" r="3.1" fill="#fff" stroke="#000" stroke-width="0.6"/>
<circle cx="252.02" cy="561.10" r="3.1" fill="#fff" stroke="#000" stroke-width="0.6"/>
<circle cx="260.32" cy="561.10" r="3.1" fill="#fff" stroke="#000" stroke-width="0.6"/>
<circle cx="268.63" cy="561.10" r="3.1" fill="#fff" stroke="#000" stroke-width="0.6"/>
<circle cx="276.94" cy="561.10" r="3.1" fill="#fff" stroke="#000" stroke-width="0.6"/>
<circle cx="285.24" cy="561.10" r="3.1" fill="#fff" stroke="#000" stroke-width="0.6"/>
<circle cx="293.55" cy="561.10" r="3.1" fill="#fff" stroke="#000" stroke-width="0.6"/>
<circle cx="218.80" cy="569.40" r="3.1" fill="#fff" stroke="#000" stroke-width="0.6"/>
<circle cx="227.11" cy="569.40" r="3.1" fill="#fff" stroke="#000" stroke-width="0.6"/>
<circle cx="235.41" cy="569.40" r="3.1" fill="#fff" stroke="#000" stroke-width="0.6"/>
<circle cx="243.72" cy="569.40" r="3.1" fill="#fff" stroke="#000" stroke-width="0.6"/>
<circle cx="252.02" cy="569.40" r="3.1" fill="#fff" stroke="#000" stroke-width="0.6"/>
<circle cx="260.32" cy="569.40" r="3.1" fill="#fff" stroke="#000" stroke-width="0.6"/>
<circle cx="268.63" cy="569.40" r="3.1" fill="#fff" stroke="#000" stroke-width="0.6"/>
<circle cx="276.94" cy="569.40" r="3.4" fill="#000"/>
<circle cx="285.24" cy="569.40" r="3.4" fill="#000"/>
<circle cx="293.55" cy="569.40" r="3.1" fill="#fff" stroke="#000" stroke-width="0.6"/>
<circle cx="218.80" cy="577.71" r="3.1" fill="#fff" stroke="#000" stroke-width="0.6"/>
<circle cx="227.11" cy="577.71" r="3.1" fill="#fff" stroke="#000" stroke-width="0.6"/>
<circle cx="235.41" cy="577.71" r="3.4" fill="#000"/>
<circle cx="243.72" cy="577.71" r="3.1" fill="#fff" stroke="#000" stroke-width="0.6"/>
<circle cx="252.02" cy="577.71" r="3.1" fill="#fff" stroke="#000" stroke-width="0.6"/>
<circle cx="260.32" cy="577.71" r="3.1" fill="#fff" stroke="#000" stroke-width="0.6"/>
<circle cx="268.63" cy="577.71" r="3.1" fill="#fff" stroke="#000" stroke-width="0.6"/>
<circle cx="276.94" cy="577.71" r="3.4" fill="#000"/>
<circle cx="285.24" cy="577.71" r="3.1" fill="#fff" stroke="#000" stroke-width="0.6"/>
<circle cx="293.55" cy="577.71" r="3.4" fill="#000"/>
<circle cx="218.80" cy="586.01" r="3.4" fill="#000"/>
<circle cx="227.11" cy="586.01" r="3.1" fill="#fff" stroke="#000" stroke-width="0.6"/>
<circle cx="235.41" cy="586.01" r="3.1" fill="#fff" stroke="#000" stroke-width="0.6"/>
<circle cx="243.72" cy="586.01" r="3.1" fill="#fff" stroke="#000" stroke-width="0.6"/>
<circle cx="252.02" cy="586.01" r="3.1" fill="#fff" stroke="#000" stroke-width="0.6"/>
<circle cx="260.32" cy="586.01" r="3.1" fill="#fff" stroke="#000" stroke-width="0.6"/>
<circle cx="268.63" cy="586.01" r="3.1" fill="#fff" stroke="#000" stroke-width="0.6"/>
<circle cx="276.94" cy="586.01" r="3.1" fill="#fff" stroke="#000" stroke-width="0.6"/>
<circle cx="285.24" cy="586.01" r="3.4" fill="#000"/>
<circle cx="293.55" cy="586.01" r="3.4" fill="#000"/>
<circle cx="218.80" cy="594.32" r="3.4" fill="#000"/>
<circle cx="227.11" cy="594.32" r="3.1" fill="#fff" stroke="#000" stroke-width="0.6"/>
<circle cx="235.41" cy="594.32" r="3.1" fill="#fff" stroke="#000" stroke-width="0.6"/>
<circle cx="243.72" cy="594.32" r="3.4" fill="#000"/>
<circle cx="252.02" cy="594.32" r="3.1" fill="#fff" stroke="#000" stroke-width="0.6"/>
<circle cx="260.32" cy="594.32" r="3.1" fill="#fff" stroke="#000" stroke-width="0.6"/>
<circle cx="268.63" cy="594.32" r="3.4" fill="#000"/>
<circle cx="276.94" cy="594.32" r="3.1" fill="#fff" stroke="#000" stroke-width="0.6"/>
<circle cx="285.24" cy="594.32" r="3.1" fill="#fff" stroke="#000" stroke-width="0.6"/>
<circle cx="293.55" cy="594.32" r="3.1" fill="#fff" stroke="#000" stroke-width="0.6"/>
<circle cx="218.80" cy="602.62" r="3.4" fill="#000"/>
<circle cx="227.11" cy="602.62" r="3.1" fill="#fff" stroke="#000" stroke-width="0.6"/>
<circle cx="235.41" cy="602.62" r="3.1" fill="#fff" stroke="#000" stroke-width="0.6"/>
<circle cx="243.72" cy="602.62" r="3.1" fill="#fff" stroke="#000" stroke-width="0.6"/>
<circle cx="252.02" cy="602.62" r="3.1" fill="#fff" stroke="#000" stroke-width="0.6"/>
<circle cx="260.32" cy="602.62" r="3.1" fill="#fff" stroke="#000" stroke-width="0.6"/>
<circle cx="268.63" cy="602.62" r="3.4" fill="#000"/>
<circle cx="276.94" cy="602.62" r="3.4" fill="#000"/>
<circle cx="285.24" cy="602.62" r="3.4" fill="#000"/>
<circle cx="293.55" cy="602.62" r="3.4" fill="#000"/>
<circle cx="218.80" cy="610.93" r="3.4" fill="#000"/>
<circle cx="227.11" cy="610.93" r="3.1" fill="#fff" stroke="#000" stroke-width="0.6"/>
<circle cx="235.41" cy="610.93" r="3.1" fill="#fff" stroke="#000" stroke-width="0.6"/>
<circle cx="243.72" cy="610.93" r="3.1" fill="#fff" stroke="#000" stroke-width="0.6"/>
<circle cx="252.02" cy="610.93" r="3.1" fill="#fff" stroke="#000" stroke-width="0.6"/>
<circle cx="260.32" cy="610.93" r="3.1" fill="#fff" stroke="#000" stroke-width="0.6"/>
<circle cx="268.63" cy="610.93" r="3.4" fill="#000"/>
<circle cx="276.94" cy="610.93" r="3.4" fill="#000"/>
<circle cx="285.24" cy="610.93" r="3.4" fill="#000"/>
<circle cx="293.55" cy="610.93" r="3.4" fill="#000"/>
<circle cx="218.80" cy="619.24" r="3.4" fill="#000"/>
<circle cx="227.11" cy="619.24" r="3.1" fill="#fff" stroke="#000" stroke-width="0.6"/>
<circle cx="235.41" cy="619.24" r="3.1" fill="#fff" stroke="#000" stroke-width="0.6"/>
<circle cx="243.72" cy="619.24" r="3.1" fill="#fff" stroke="#000" stroke-width="0.6"/>
<circle cx="252.02" cy="619.24" r="3.1" fill="#fff" stroke="#000" stroke-width="0.6"/>
<circle cx="260.32" cy="619.24" r="3.4" fill="#000"/>
<circle cx="268.63" cy="619.24" r="3.1" fill="#fff" stroke="#000" stroke-width="0.6"/>
<circle cx="276.94" cy="619.24" r="3.4" fill="#000"/>
<circle cx="285.24" cy="619.24" r="3.4" fill="#000"/>
<circle cx="293.55" cy="619.24" r="3.4" fill="#000"/>
<circle cx="218.80" cy="627.54" r="3.4" fill="#000"/>
<circle cx="227.11" cy="627.54" r="3.4" fill="#000"/>
<circle cx="235.41" cy="627.54" r="3.4" fill="#000"/>
<circle cx="243.72" cy="627.54" r="3.4" fill="#000"/>
<circle cx="252.02" cy="627.54" r="3.1" fill="#fff" stroke="#000" stroke-width="0.6"/>
<circle cx="260.32" cy="627.54" r="3.1" fill="#fff" stroke="#000" stroke-width="0.6"/>
<circle cx="268.63" cy="627.54" r="3.1" fill="#fff" stroke="#000" stroke-width="0.6"/>
<circle cx="276.94" cy="627.54" r="3.4" fill="#000"/>
<circle cx="285.24" cy="627.54" r="3.4" fill="#000"/>
<circle cx="293.55" cy="627.54" r="3.1" fill="#fff" stroke="#000" stroke-width="0.6"/>
<circle cx="218.80" cy="635.85" r="3.1" fill="#fff" stroke="#000" stroke-width="0.6"/>
<circle cx="227.11" cy="635.85" r="3.4" fill="#000"/>
<circle cx="235.41" cy="635.85" r="3.1" fill="#fff" stroke="#000" stroke-width="0.6"/>
<circle cx="243.72" cy="635.85" r="3.4" fill="#000"/>
<circle cx="252.02" cy="635.85" r="3.4" fill="#000"/>
<circle cx="260.32" cy="635.85" r="3.4" fill="#000"/>
<circle cx="268.63" cy="635.85" r="3.4" fill="#000"/>
<circle cx="276.94" cy="635.85" r="3.4" fill="#000"/>
<circle cx="285.24" cy="635.85" r="3.4" fill="#000"/>
<circle cx="293.55" cy="635.85" r="3.4" fill="#000"/>
<circle cx="218.80" cy="644.15" r="3.4" fill="#000"/>
<circle cx="227.11" cy="644.15" r="3.4" fill="#000"/>
<circle cx="235.41" cy="644.15" r="3.4" fill="#000"/>
<circle cx="243.72" cy="644.15" r="3.4" fill="#000"/>
<circle cx="252.02" cy="644.15" r="3.4" fill="#000"/>
<circle cx="260.32" cy="644.15" r="3.4" fill="#000"/>
<circle cx="268.63" cy="644.15" r="3.4" fill="#000"/>
<circle cx="276.94" cy="644.15" r="3.4" fill="#000"/>
<circle cx="285.24" cy="644.15" r="3.4" fill="#000"/>
<circle cx="293.55" cy="644.15" r="3.4" fill="#000"/>
<circle cx="218.80" cy="652.46" r="3.4" fill="#000"/>
<circle cx="227.11" cy="652.46" r="3.4" fill="#000"/>
<circle cx="235.41" cy="652.46" r="3.4" fill="#000"/>
<circle cx="243.72" cy="652.46" r="3.4" fill="#000"/>
<circle cx="252.02" cy="652.46" r="3.4" fill="#000"/>
<circle cx="260.32" cy="652.46" r="3.4" fill="#000"/>
<circle cx="268.63" cy="652.46" r="3.4" fill="#000"/>
<circle cx="276.94" cy="652.46" r="3.4" fill="#000"/>
<circle cx="285.24" cy="652.46" r="3.4" fill="#000"/>
<circle cx="293.55" cy="652.46" r="3.4" fill="#000"/>
<text x="252.67" y="668.00" font-size="5.9" font-weight="bold" font-style="normal" text-anchor="middle" fill="#000" stroke="#000" stroke-width="0.22">45.4 ± 3.47</text>
<text x="268.17" y="665.00" font-size="3.6" font-weight="bold" font-style="italic" text-anchor="start" fill="#000" stroke="#000" stroke-width="0.22">###</text>
<text x="354.57" y="550.60" font-size="5.9" font-weight="bold" font-style="normal" text-anchor="middle" fill="#000" stroke="#000" stroke-width="0.22">K412R</text>
<circle cx="315.70" cy="561.10" r="3.1" fill="#fff" stroke="#000" stroke-width="0.6"/>
<circle cx="324.00" cy="561.10" r="3.1" fill="#fff" stroke="#000" stroke-width="0.6"/>
<circle cx="332.31" cy="561.10" r="3.1" fill="#fff" stroke="#000" stroke-width="0.6"/>
<circle cx="340.62" cy="561.10" r="3.1" fill="#fff" stroke="#000" stroke-width="0.6"/>
<circle cx="348.92" cy="561.10" r="3.1" fill="#fff" stroke="#000" stroke-width="0.6"/>
<circle cx="357.22" cy="561.10" r="3.1" fill="#fff" stroke="#000" stroke-width="0.6"/>
<circle cx="365.53" cy="561.10" r="3.1" fill="#fff" stroke="#000" stroke-width="0.6"/>
<circle cx="373.83" cy="561.10" r="3.4" fill="#000"/>
<circle cx="382.14" cy="561.10" r="3.1" fill="#fff" stroke="#000" stroke-width="0.6"/>
<circle cx="390.44" cy="561.10" r="3.4" fill="#000"/>
<circle cx="315.70" cy="569.40" r="3.1" fill="#fff" stroke="#000" stroke-width="0.6"/>
<circle cx="324.00" cy="569.40" r="3.1" fill="#fff" stroke="#000" stroke-width="0.6"/>
<circle cx="332.31" cy="569.40" r="3.1" fill="#fff" stroke="#000" stroke-width="0.6"/>
<circle cx="340.62" cy="569.40" r="3.1" fill="#fff" stroke="#000" stroke-width="0.6"/>
<circle cx="348.92" cy="569.40" r="3.1" fill="#fff" stroke="#000" stroke-width="0.6"/>
<circle cx="357.22" cy="569.40" r="3.1" fill="#fff" stroke="#000" stroke-width="0.6"/>
<circle cx="365.53" cy="569.40" r="3.1" fill="#fff" stroke="#000" stroke-width="0.6"/>
<circle cx="373.83" cy="569.40" r="3.4" fill="#000"/>
<circle cx="382.14" cy="569.40" r="3.4" fill="#000"/>
<circle cx="390.44" cy="569.40" r="3.1" fill="#fff" stroke="#000" stroke-width="0.6"/>
<circle cx="315.70" cy="577.71" r="3.4" fill="#000"/>
<circle cx="324.00" cy="577.71" r="3.1" fill="#fff" stroke="#000" stroke-width="0.6"/>
<circle cx="332.31" cy="577.71" r="3.1" fill="#fff" stroke="#000" stroke-width="0.6"/>
<circle cx="340.62" cy="577.71" r="3.1" fill="#fff" stroke="#000" stroke-width="0.6"/>
<circle cx="348.92" cy="577.71" r="3.1" fill="#fff" stroke="#000" stroke-width="0.6"/>
<circle cx="357.22" cy="577.71" r="3.1" fill="#fff" stroke="#000" stroke-width="0.6"/>
<circle cx="365.53" cy="577.71" r="3.4" fill="#000"/>
<circle cx="373.83" cy="577.71" r="3.1" fill="#fff" stroke="#000" stroke-width="0.6"/>
<circle cx="382.14" cy="577.71" r="3.4" fill="#000"/>
<circle cx="390.44" cy="577.71" r="3.1" fill="#fff" stroke="#000" stroke-width="0.6"/>
<circle cx="315.70" cy="586.01" r="3.4" fill="#000"/>
<circle cx="324.00" cy="586.01" r="3.1" fill="#fff" stroke="#000" stroke-width="0.6"/>
<circle cx="332.31" cy="586.01" r="3.1" fill="#fff" stroke="#000" stroke-width="0.6"/>
<circle cx="340.62" cy="586.01" r="3.1" fill="#fff" stroke="#000" stroke-width="0.6"/>
<circle cx="348.92" cy="586.01" r="3.1" fill="#fff" stroke="#000" stroke-width="0.6"/>
<circle cx="357.22" cy="586.01" r="3.1" fill="#fff" stroke="#000" stroke-width="0.6"/>
<circle cx="365.53" cy="586.01" r="3.4" fill="#000"/>
<circle cx="373.83" cy="586.01" r="3.4" fill="#000"/>
<circle cx="382.14" cy="586.01" r="3.1" fill="#fff" stroke="#000" stroke-width="0.6"/>
<circle cx="390.44" cy="586.01" r="3.1" fill="#fff" stroke="#000" stroke-width="0.6"/>
<circle cx="315.70" cy="594.32" r="3.1" fill="#fff" stroke="#000" stroke-width="0.6"/>
<circle cx="324.00" cy="594.32" r="3.1" fill="#fff" stroke="#000" stroke-width="0.6"/>
<circle cx="332.31" cy="594.32" r="3.1" fill="#fff" stroke="#000" stroke-width="0.6"/>
<circle cx="340.62" cy="594.32" r="3.1" fill="#fff" stroke="#000" stroke-width="0.6"/>
<circle cx="348.92" cy="594.32" r="3.4" fill="#000"/>
<circle cx="357.22" cy="594.32" r="3.1" fill="#fff" stroke="#000" stroke-width="0.6"/>
<circle cx="365.53" cy="594.32" r="3.4" fill="#000"/>
<circle cx="373.83" cy="594.32" r="3.4" fill="#000"/>
<circle cx="382.14" cy="594.32" r="3.1" fill="#fff" stroke="#000" stroke-width="0.6"/>
<circle cx="390.44" cy="594.32" r="3.4" fill="#000"/>
<circle cx="315.70" cy="602.62" r="3.4" fill="#000"/>
<circle cx="324.00" cy="602.62" r="3.4" fill="#000"/>
<circle cx="332.31" cy="602.62" r="3.1" fill="#fff" stroke="#000" stroke-width="0.6"/>
<circle cx="340.62" cy="602.62" r="3.1" fill="#fff" stroke="#000" stroke-width="0.6"/>
<circle cx="348.92" cy="602.62" r="3.1" fill="#fff" stroke="#000" stroke-width="0.6"/>
<circle cx="357.22" cy="602.62" r="3.1" fill="#fff" stroke="#000" stroke-width="0.6"/>
<circle cx="365.53" cy="602.62" r="3.1" fill="#fff" stroke="#000" stroke-width="0.6"/>
<circle cx="373.83" cy="602.62" r="3.4" fill="#000"/>
<circle cx="382.14" cy="602.62" r="3.4" fill="#000"/>
<circle cx="390.44" cy="602.62" r="3.4" fill="#000"/>
<circle cx="315.70" cy="610.93" r="3.1" fill="#fff" stroke="#000" stroke-width="0.6"/>
<circle cx="324.00" cy="610.93" r="3.1" fill="#fff" stroke="#000" stroke-width="0.6"/>
<circle cx="332.31" cy="610.93" r="3.1" fill="#fff" stroke="#000" stroke-width="0.6"/>
<circle cx="340.62" cy="610.93" r="3.1" fill="#fff" stroke="#000" stroke-width="0.6"/>
<circle cx="348.92" cy="610.93" r="3.4" fill="#000"/>
<circle cx="357.22" cy="610.93" r="3.4" fill="#000"/>
<circle cx="365.53" cy="610.93" r="3.4" fill="#000"/>
<circle cx="373.83" cy="610.93" r="3.4" fill="#000"/>
<circle cx="382.14" cy="610.93" r="3.4" fill="#000"/>
<circle cx="390.44" cy="610.93" r="3.4" fill="#000"/>
<circle cx="315.70" cy="619.24" r="3.4" fill="#000"/>
<circle cx="324.00" cy="619.24" r="3.4" fill="#000"/>
<circle cx="332.31" cy="619.24" r="3.4" fill="#000"/>
<circle cx="340.62" cy="619.24" r="3.1" fill="#fff" stroke="#000" stroke-width="0.6"/>
<circle cx="348.92" cy="619.24" r="3.1" fill="#fff" stroke="#000" stroke-width="0.6"/>
<circle cx="357.22" cy="619.24" r="3.4" fill="#000"/>
<circle cx="365.53" cy="619.24" r="3.4" fill="#000"/>
<circle cx="373.83" cy="619.24" r="3.1" fill="#fff" stroke="#000" stroke-width="0.6"/>
<circle cx="382.14" cy="619.24" r="3.4" fill="#000"/>
<circle cx="390.44" cy="619.24" r="3.1" fill="#fff" stroke="#000" stroke-width="0.6"/>
<circle cx="315.70" cy="627.54" r="3.4" fill="#000"/>
<circle cx="324.00" cy="627.54" r="3.4" fill="#000"/>
<circle cx="332.31" cy="627.54" r="3.4" fill="#000"/>
<circle cx="340.62" cy="627.54" r="3.4" fill="#000"/>
<circle cx="348.92" cy="627.54" r="3.1" fill="#fff" stroke="#000" stroke-width="0.6"/>
<circle cx="357.22" cy="627.54" r="3.1" fill="#fff" stroke="#000" stroke-width="0.6"/>
<circle cx="365.53" cy="627.54" r="3.4" fill="#000"/>
<circle cx="373.83" cy="627.54" r="3.1" fill="#fff" stroke="#000" stroke-width="0.6"/>
<circle cx="382.14" cy="627.54" r="3.4" fill="#000"/>
<circle cx="390.44" cy="627.54" r="3.1" fill="#fff" stroke="#000" stroke-width="0.6"/>
<circle cx="315.70" cy="635.85" r="3.4" fill="#000"/>
<circle cx="324.00" cy="635.85" r="3.4" fill="#000"/>
<circle cx="332.31" cy="635.85" r="3.4" fill="#000"/>
<circle cx="340.62" cy="635.85" r="3.4" fill="#000"/>
<circle cx="348.92" cy="635.85" r="3.4" fill="#000"/>
<circle cx="357.22" cy="635.85" r="3.4" fill="#000"/>
<circle cx="365.53" cy="635.85" r="3.4" fill="#000"/>
<circle cx="373.83" cy="635.85" r="3.4" fill="#000"/>
<circle cx="382.14" cy="635.85" r="3.4" fill="#000"/>
<circle cx="390.44" cy="635.85" r="3.4" fill="#000"/>
<circle cx="315.70" cy="644.15" r="3.4" fill="#000"/>
<circle cx="324.00" cy="644.15" r="3.4" fill="#000"/>
<circle cx="332.31" cy="644.15" r="3.4" fill="#000"/>
<circle cx="340.62" cy="644.15" r="3.4" fill="#000"/>
<circle cx="348.92" cy="644.15" r="3.4" fill="#000"/>
<circle cx="357.22" cy="644.15" r="3.4" fill="#000"/>
<circle cx="365.53" cy="644.15" r="3.4" fill="#000"/>
<circle cx="373.83" cy="644.15" r="3.4" fill="#000"/>
<circle cx="382.14" cy="644.15" r="3.4" fill="#000"/>
<circle cx="390.44" cy="644.15" r="3.4" fill="#000"/>
<circle cx="315.70" cy="652.46" r="3.4" fill="#000"/>
<circle cx="324.00" cy="652.46" r="3.4" fill="#000"/>
<circle cx="332.31" cy="652.46" r="3.4" fill="#000"/>
<circle cx="340.62" cy="652.46" r="3.4" fill="#000"/>
<circle cx="348.92" cy="652.46" r="3.4" fill="#000"/>
<circle cx="357.22" cy="652.46" r="3.4" fill="#000"/>
<circle cx="365.53" cy="652.46" r="3.4" fill="#000"/>
<circle cx="373.83" cy="652.46" r="3.4" fill="#000"/>
<circle cx="382.14" cy="652.46" r="3.4" fill="#000"/>
<circle cx="390.44" cy="652.46" r="3.4" fill="#000"/>
<text x="349.57" y="668.00" font-size="5.9" font-weight="bold" font-style="normal" text-anchor="middle" fill="#000" stroke="#000" stroke-width="0.22">58.75 ± 1.84</text>
<text x="365.07" y="665.00" font-size="3.6" font-weight="bold" font-style="italic" text-anchor="start" fill="#000" stroke="#000" stroke-width="0.22">###</text>
<text x="417.50" y="528.00" font-size="12" font-weight="bold" font-style="normal" text-anchor="start" fill="#000" stroke="#000" stroke-width="0.22">f</text>
<line x1="454.50" y1="526.20" x2="669.80" y2="526.20" stroke="#c4c4c4" stroke-width="0.45"/>
<line x1="454.50" y1="528.30" x2="669.80" y2="528.30" stroke="#c4c4c4" stroke-width="0.45"/>
<path d="M457 528.3 L454.6 528.6 L456.4 529.9" fill="none" stroke="#b8b8b8" stroke-width="0.4"/>
<path d="M667.4 524.6 L669.8 526.0 L667.4 526.2" fill="none" stroke="#b8b8b8" stroke-width="0.4"/>
<text x="475.10" y="534.40" font-size="4.6" font-weight="normal" font-style="normal" text-anchor="middle" fill="#222">34.895 mb</text>
<text x="514.80" y="534.40" font-size="4.6" font-weight="normal" font-style="normal" text-anchor="middle" fill="#222">34.9 mb</text>
<text x="554.20" y="534.40" font-size="4.6" font-weight="normal" font-style="normal" text-anchor="middle" fill="#222">34.905 mb</text>
<text x="593.70" y="534.40" font-size="4.6" font-weight="normal" font-style="normal" text-anchor="middle" fill="#222">34.91 mb</text>
<text x="633.20" y="534.40" font-size="4.6" font-weight="normal" font-style="normal" text-anchor="middle" fill="#222">34.915 mb</text>
<line x1="449.60" y1="547.10" x2="449.60" y2="591.40" stroke="#000" stroke-width="0.55"/>
<line x1="446.80" y1="591.10" x2="449.60" y2="591.10" stroke="#000" stroke-width="0.55"/>
<text x="444.30" y="593.10" font-size="6.0" font-weight="bold" font-style="normal" text-anchor="end" fill="#000" stroke="#000" stroke-width="0.22">0</text>
<line x1="446.80" y1="582.66" x2="449.60" y2="582.66" stroke="#000" stroke-width="0.55"/>
<text x="444.30" y="584.66" font-size="6.0" font-weight="bold" font-style="normal" text-anchor="end" fill="#000" stroke="#000" stroke-width="0.22">5</text>
<line x1="446.80" y1="574.22" x2="449.60" y2="574.22" stroke="#000" stroke-width="0.55"/>
<text x="444.30" y="576.22" font-size="6.0" font-weight="bold" font-style="normal" text-anchor="end" fill="#000" stroke="#000" stroke-width="0.22">10</text>
<line x1="446.80" y1="565.78" x2="449.60" y2="565.78" stroke="#000" stroke-width="0.55"/>
<text x="444.30" y="567.78" font-size="6.0" font-weight="bold" font-style="normal" text-anchor="end" fill="#000" stroke="#000" stroke-width="0.22">15</text>
<line x1="446.80" y1="557.34" x2="449.60" y2="557.34" stroke="#000" stroke-width="0.55"/>
<text x="444.30" y="559.34" font-size="6.0" font-weight="bold" font-style="normal" text-anchor="end" fill="#000" stroke="#000" stroke-width="0.22">20</text>
<line x1="446.80" y1="548.90" x2="449.60" y2="548.90" stroke="#000" stroke-width="0.55"/>
<text x="444.30" y="550.90" font-size="6.0" font-weight="bold" font-style="normal" text-anchor="end" fill="#000" stroke="#000" stroke-width="0.22">25</text>
<text x="429.90" y="570.50" font-size="5.7" font-weight="bold" font-style="normal" text-anchor="middle" fill="#000" stroke="#000" stroke-width="0.22" transform="rotate(-90 429.90 570.50)">H3K27me3</text>
<polygon points="451.00,591.10 451.0,591.10 451.2,591.10 451.4,591.10 451.6,591.10 451.8,591.10 452.0,591.10 452.2,591.10 452.4,591.10 452.6,591.10 452.8,591.10 453.0,591.10 453.2,591.10 453.4,591.10 453.6,591.10 453.8,591.10 454.0,590.98 454.2,590.61 454.4,590.59 454.6,590.97 454.8,591.10 455.0,591.10 455.2,590.81 455.4,590.44 455.6,590.44 455.8,590.81 456.0,591.10 456.2,591.10 456.4,591.10 456.6,591.10 456.8,591.10 457.0,591.10 457.2,591.10 457.4,591.10 457.6,591.10 457.8,591.10 458.0,591.10 458.2,591.10 458.4,591.10 458.6,591.10 458.8,591.10 459.0,591.10 459.2,591.10 459.4,591.10 459.6,591.07 459.8,590.60 460.0,590.13 460.2,589.67 460.4,590.01 460.6,590.48 460.8,590.95 461.0,591.10 461.2,591.10 461.4,591.10 461.6,591.10 461.8,591.10 462.0,591.10 462.2,591.10 462.4,591.10 462.6,591.10 462.8,591.10 463.0,591.10 463.2,591.10 463.4,591.10 463.6,591.10 463.8,591.10 464.0,591.10 464.2,591.10 464.4,591.10 464.6,591.10 464.8,591.10 465.0,591.10 465.2,591.10 465.4,591.10 465.6,591.10 465.8,591.10 466.0,591.10 466.2,591.10 466.4,591.10 466.6,591.10 466.8,591.10 467.0,591.10 467.2,591.10 467.4,591.10 467.6,591.10 467.8,591.10 468.0,591.10 468.2,591.10 468.4,591.10 468.6,591.10 468.8,591.10 469.0,591.10 469.2,590.51 469.4,589.78 469.6,589.78 469.8,590.51 470.0,590.77 470.2,590.62 470.4,590.77 470.6,590.73 470.8,590.32 471.0,590.02 471.2,590.43 471.4,590.83 471.6,591.10 471.8,591.10 472.0,591.10 472.2,591.10 472.4,591.10 472.6,591.10 472.8,591.02 473.0,590.90 473.2,590.78 473.4,590.83 473.6,590.95 473.8,591.07 474.0,591.10 474.2,591.10 474.4,591.10 474.6,591.10 474.8,591.10 475.0,591.10 475.2,591.10 475.4,591.10 475.6,591.10 475.8,591.10 476.0,591.10 476.2,591.10 476.4,591.10 476.6,591.10 476.8,591.10 477.0,591.10 477.2,591.10 477.4,591.10 477.6,591.10 477.8,591.10 478.0,591.10 478.2,591.10 478.4,591.10 478.6,591.10 478.8,591.10 479.0,591.10 479.2,591.10 479.4,591.10 479.6,591.10 479.8,591.10 480.0,591.10 480.2,591.10 480.4,591.10 480.6,591.10 480.8,591.10 481.0,591.10 481.2,591.10 481.4,591.10 481.6,591.10 481.8,591.10 482.0,591.10 482.2,591.10 482.4,591.10 482.6,591.10 482.8,591.10 483.0,591.10 483.2,591.10 483.4,591.10 483.6,591.10 483.8,591.10 484.0,591.10 484.2,591.10 484.4,591.10 484.6,591.10 484.8,591.10 485.0,591.10 485.2,591.10 485.4,591.10 485.6,591.10 485.8,591.10 486.0,591.10 486.2,591.10 486.4,591.10 486.6,591.10 486.8,591.10 487.0,591.10 487.2,591.10 487.4,591.10 487.6,591.10 487.8,591.10 488.0,591.10 488.2,591.10 488.4,591.10 488.6,591.10 488.8,591.10 489.0,591.10 489.2,591.10 489.4,591.10 489.6,591.10 489.8,590.89 490.0,590.59 490.2,590.46 490.4,590.76 490.6,591.06 490.8,591.10 491.0,591.10 491.2,591.03 491.4,590.78 491.6,590.54 491.8,590.58 492.0,590.83 492.2,591.07 492.4,590.75 492.6,590.44 492.8,590.12 493.0,590.13 493.2,590.60 493.4,591.03 493.6,590.48 493.8,589.78 494.0,589.07 494.2,589.78 494.4,589.89 494.6,590.35 494.8,590.81 495.0,591.10 495.2,591.10 495.4,591.10 495.6,591.10 495.8,591.10 496.0,591.10 496.2,591.10 496.4,591.10 496.6,591.10 496.8,590.85 497.0,590.31 497.2,589.77 497.4,590.31 497.6,590.72 497.8,589.64 498.0,588.21 498.2,586.79 498.4,585.36 498.6,586.79 498.8,588.21 499.0,589.64 499.2,590.76 499.4,588.80 499.6,586.84 499.8,584.89 500.0,582.93 500.2,580.97 500.4,582.93 500.6,584.89 500.8,580.67 501.0,572.73 501.2,564.78 501.4,556.83 501.6,564.78 501.8,572.73 502.0,580.67 502.2,583.17 502.4,581.71 502.6,581.71 502.8,583.17 503.0,582.16 503.2,577.23 503.4,572.30 503.6,572.30 503.8,577.23 504.0,582.16 504.2,587.09 504.4,591.10 504.6,591.10 504.8,590.15 505.0,588.05 505.2,585.95 505.4,583.84 505.6,585.95 505.8,588.05 506.0,590.15 506.2,591.10 506.4,591.10 506.6,591.10 506.8,591.10 507.0,591.10 507.2,591.10 507.4,591.10 507.6,591.10 507.8,591.10 508.0,591.10 508.2,591.10 508.4,591.10 508.6,590.33 508.8,589.45 509.0,588.57 509.2,589.45 509.4,590.33 509.6,591.10 509.8,591.10 510.0,591.10 510.2,589.10 510.4,587.00 510.6,584.89 510.8,584.89 511.0,587.00 511.2,589.10 511.4,590.44 511.6,588.97 511.8,587.50 512.0,586.04 512.2,587.50 512.4,588.97 512.6,590.44 512.8,591.10 513.0,591.10 513.2,591.10 513.4,591.10 513.6,591.10 513.8,591.10 514.0,591.10 514.2,591.04 514.4,590.91 514.6,590.79 514.8,590.82 515.0,590.94 515.2,591.07 515.4,591.10 515.6,591.10 515.8,591.10 516.0,591.10 516.2,591.10 516.4,591.10 516.6,591.10 516.8,591.10 517.0,591.10 517.2,591.10 517.4,591.10 517.6,591.10 517.8,591.10 518.0,591.10 518.2,591.10 518.4,591.10 518.6,591.10 518.8,591.10 519.0,591.10 519.2,591.10 519.4,591.10 519.6,591.10 519.8,591.10 520.0,590.51 520.2,589.78 520.4,589.78 520.6,590.51 520.8,591.10 521.0,591.10 521.2,591.10 521.4,591.10 521.6,591.10 521.8,591.10 522.0,591.10 522.2,591.10 522.4,591.10 522.6,591.10 522.8,591.10 523.0,591.10 523.2,590.97 523.4,590.73 523.6,590.80 523.8,591.05 524.0,591.10 524.2,591.10 524.4,591.10 524.6,591.10 524.8,591.10 525.0,591.10 525.2,591.10 525.4,591.10 525.6,591.10 525.8,591.10 526.0,591.10 526.2,591.10 526.4,591.10 526.6,591.10 526.8,590.77 527.0,589.89 527.2,589.01 527.4,589.01 527.6,589.89 527.8,590.77 528.0,591.10 528.2,591.10 528.4,591.10 528.6,591.10 528.8,591.10 529.0,591.10 529.2,591.10 529.4,591.10 529.6,591.10 529.8,591.10 530.0,591.10 530.2,591.10 530.4,591.10 530.6,591.10 530.8,591.10 531.0,591.10 531.2,590.50 531.4,589.86 531.6,589.22 531.8,589.22 532.0,589.86 532.2,590.50 532.4,591.10 532.6,591.10 532.8,591.10 533.0,590.54 533.2,589.96 533.4,589.37 533.6,589.37 533.8,589.96 534.0,590.54 534.2,591.10 534.4,591.10 534.6,591.10 534.8,591.10 535.0,591.10 535.2,591.10 535.4,591.10 535.6,591.10 535.8,591.10 536.0,591.10 536.2,591.10 536.4,591.10 536.6,591.10 536.8,591.10 537.0,591.10 537.2,591.10 537.4,591.10 537.6,591.10 537.8,591.10 538.0,591.10 538.2,591.10 538.4,591.10 538.6,591.10 538.8,590.95 539.0,590.44 539.2,589.92 539.4,590.39 539.6,590.91 539.8,591.10 540.0,591.10 540.2,591.10 540.4,591.10 540.6,591.10 540.8,591.10 541.0,591.10 541.2,591.10 541.4,591.10 541.6,591.10 541.8,591.10 542.0,591.10 542.2,591.10 542.4,591.10 542.6,591.10 542.8,591.10 543.0,591.10 543.2,591.10 543.4,591.10 543.6,591.10 543.8,591.10 544.0,591.10 544.2,591.10 544.4,591.10 544.6,591.10 544.8,591.10 545.0,591.10 545.2,591.10 545.4,591.10 545.6,591.10 545.8,591.10 546.0,591.10 546.2,591.10 546.4,591.10 546.6,591.10 546.8,591.10 547.0,590.33 547.2,588.27 547.4,586.22 547.6,586.22 547.8,588.27 548.0,590.33 548.2,590.22 548.4,587.87 548.6,585.52 548.8,585.52 549.0,587.87 549.2,590.22 549.4,591.10 549.6,591.10 549.8,591.10 550.0,591.10 550.2,588.79 550.4,586.15 550.6,583.50 550.8,586.15 551.0,588.79 551.2,591.00 551.4,591.10 551.6,591.10 551.8,590.33 552.0,589.45 552.2,588.57 552.4,589.45 552.6,590.33 552.8,590.91 553.0,590.71 553.2,590.52 553.4,590.67 553.6,589.11 553.8,587.41 554.0,585.70 554.2,587.41 554.4,589.11 554.6,590.82 554.8,591.10 555.0,591.10 555.2,591.10 555.4,591.10 555.6,591.10 555.8,591.10 556.0,591.10 556.2,591.10 556.4,591.10 556.6,591.10 556.8,591.10 557.0,591.10 557.2,591.10 557.4,591.10 557.6,591.10 557.8,591.10 558.0,591.10 558.2,591.10 558.4,591.10 558.6,591.10 558.8,591.10 559.0,591.10 559.2,591.10 559.4,591.10 559.6,591.10 559.8,591.10 560.0,591.10 560.2,591.10 560.4,591.10 560.6,591.10 560.8,591.10 561.0,591.10 561.2,591.10 561.4,591.10 561.6,591.10 561.8,591.10 562.0,591.10 562.2,591.10 562.4,591.10 562.6,591.10 562.8,591.10 563.0,591.10 563.2,591.10 563.4,590.18 563.6,589.12 563.8,588.06 564.0,589.12 564.2,590.18 564.4,591.10 564.6,591.10 564.8,591.10 565.0,590.87 565.2,590.53 565.4,590.32 565.6,590.66 565.8,590.99 566.0,591.10 566.2,591.10 566.4,591.10 566.6,591.10 566.8,591.10 567.0,591.10 567.2,591.10 567.4,591.10 567.6,591.10 567.8,591.10 568.0,591.10 568.2,591.10 568.4,591.10 568.6,591.10 568.8,591.10 569.0,591.10 569.2,591.10 569.4,590.92 569.6,590.53 569.8,590.14 570.0,589.75 570.2,590.14 570.4,590.53 570.6,590.92 570.8,591.10 571.0,591.10 571.2,591.10 571.4,591.10 571.6,591.10 571.8,591.10 572.0,591.10 572.2,591.10 572.4,590.92 572.6,590.53 572.8,590.14 573.0,589.75 573.2,590.14 573.4,590.53 573.6,590.92 573.8,591.10 574.0,591.10 574.2,591.10 574.4,591.10 574.6,591.10 574.8,591.10 575.0,591.10 575.2,591.10 575.4,590.92 575.6,590.53 575.8,590.14 576.0,589.75 576.2,590.14 576.4,590.53 576.6,590.92 576.8,591.10 577.0,591.10 577.2,591.10 577.4,591.10 577.6,591.10 577.8,591.10 578.0,591.10 578.2,591.10 578.4,591.10 578.6,591.10 578.8,591.10 579.0,591.10 579.2,591.10 579.4,591.10 579.6,591.10 579.8,591.10 580.0,591.10 580.2,591.10 580.4,591.10 580.6,591.10 580.8,591.10 581.0,591.10 581.2,591.10 581.4,591.10 581.6,591.10 581.8,591.10 582.0,591.10 582.2,591.10 582.4,591.10 582.6,591.10 582.8,591.10 583.0,591.08 583.2,590.86 583.4,590.65 583.6,590.73 583.8,590.77 584.0,590.60 584.2,590.89 584.4,591.10 584.6,591.10 584.8,591.10 585.0,591.10 585.2,591.10 585.4,591.10 585.6,591.10 585.8,591.10 586.0,591.10 586.2,591.10 586.4,591.10 586.6,591.10 586.8,591.10 587.0,591.10 587.2,591.10 587.4,591.10 587.6,591.10 587.8,591.10 588.0,591.10 588.2,591.10 588.4,591.10 588.6,591.10 588.8,591.10 589.0,591.10 589.2,591.10 589.4,590.70 589.6,590.20 589.8,590.36 590.0,590.85 590.2,591.10 590.4,591.10 590.6,591.10 590.8,591.10 591.0,591.10 591.2,591.10 591.4,591.10 591.6,591.10 591.8,591.07 592.0,590.96 592.2,590.84 592.4,590.74 592.6,590.85 592.8,590.74 593.0,590.88 593.2,591.03 593.4,591.10 593.6,591.10 593.8,591.10 594.0,591.10 594.2,591.10 594.4,591.10 594.6,591.10 594.8,590.82 595.0,590.42 595.2,590.58 595.4,590.99 595.6,591.10 595.8,591.10 596.0,591.10 596.2,591.10 596.4,591.10 596.6,590.97 596.8,590.69 597.0,590.58 597.2,590.86 597.4,591.10 597.6,591.10 597.8,591.10 598.0,591.10 598.2,591.10 598.4,591.10 598.6,591.10 598.8,591.10 599.0,591.10 599.2,591.10 599.4,591.10 599.6,591.10 599.8,591.10 600.0,591.10 600.2,591.10 600.4,591.10 600.6,591.10 600.8,591.10 601.0,590.54 601.2,589.96 601.4,589.37 601.6,589.37 601.8,589.96 602.0,590.54 602.2,591.10 602.4,591.10 602.6,591.10 602.8,591.10 603.0,589.87 603.2,588.46 603.4,587.05 603.6,588.46 603.8,589.87 604.0,591.10 604.2,591.10 604.4,591.10 604.6,591.10 604.8,591.10 605.0,591.10 605.2,591.10 605.4,591.10 605.6,591.10 605.8,591.10 606.0,591.10 606.2,591.10 606.4,591.10 606.6,591.00 606.8,590.78 607.0,590.71 607.2,590.93 607.4,591.10 607.6,591.10 607.8,591.10 608.0,591.10 608.2,591.10 608.4,591.10 608.6,591.10 608.8,591.10 609.0,591.10 609.2,591.10 609.4,591.10 609.6,590.92 609.8,590.34 610.0,589.75 610.2,590.34 610.4,590.92 610.6,591.10 610.8,591.10 611.0,591.10 611.2,591.10 611.4,591.10 611.6,591.10 611.8,591.10 612.0,591.10 612.2,591.10 612.4,591.10 612.6,591.10 612.8,591.10 613.0,591.10 613.2,591.10 613.4,591.10 613.6,591.10 613.8,591.10 614.0,591.10 614.2,591.10 614.4,591.10 614.6,591.10 614.8,591.10 615.0,591.10 615.2,591.10 615.4,591.10 615.6,591.10 615.8,591.10 616.0,591.10 616.2,591.10 616.4,591.10 616.6,590.88 616.8,590.15 617.0,589.41 617.2,590.15 617.4,590.88 617.6,591.08 617.8,590.90 618.0,590.73 618.2,590.91 618.4,591.08 618.6,591.10 618.8,591.10 619.0,591.10 619.2,590.33 619.4,589.45 619.6,588.57 619.8,589.45 620.0,590.33 620.2,591.10 620.4,591.10 620.6,588.89 620.8,586.37 621.0,583.84 621.2,586.37 621.4,588.89 621.6,591.10 621.8,591.10 622.0,591.10 622.2,591.10 622.4,591.10 622.6,591.10 622.8,591.10 623.0,591.10 623.2,591.10 623.4,591.10 623.6,591.10 623.8,591.10 624.0,591.10 624.2,591.10 624.4,591.10 624.6,591.10 624.8,591.10 625.0,591.10 625.2,591.10 625.4,590.98 625.6,590.81 625.8,590.82 626.0,590.99 626.2,591.10 626.4,591.10 626.6,591.10 626.8,591.10 627.0,591.10 627.2,591.10 627.4,591.08 627.6,590.93 627.8,590.78 628.0,590.64 628.2,590.79 628.4,590.94 628.6,591.09 628.8,591.10 629.0,591.10 629.2,591.10 629.4,591.10 629.6,591.10 629.8,591.10 630.0,590.64 630.2,590.15 630.4,589.66 630.6,589.66 630.8,590.15 631.0,590.64 631.2,591.10 631.4,591.10 631.6,591.10 631.8,591.10 632.0,591.10 632.2,591.10 632.4,591.10 632.6,591.10 632.8,591.10 633.0,591.10 633.2,591.10 633.4,591.10 633.6,591.10 633.8,591.10 634.0,590.46 634.2,588.76 634.4,587.06 634.6,587.06 634.8,588.76 635.0,590.46 635.2,590.77 635.4,589.89 635.6,589.01 635.8,589.01 636.0,589.89 636.2,590.77 636.4,591.10 636.6,591.10 636.8,591.10 637.0,591.10 637.2,591.10 637.4,591.10 637.6,591.10 637.8,591.10 638.0,591.10 638.2,591.10 638.4,591.10 638.6,591.10 638.8,591.10 639.0,591.10 639.2,590.77 639.4,589.89 639.6,589.01 639.8,589.01 640.0,589.89 640.2,590.77 640.4,591.10 640.6,590.55 640.8,589.08 641.0,587.61 641.2,587.61 641.4,589.08 641.6,590.55 641.8,590.80 642.0,590.77 642.2,589.89 642.4,589.01 642.6,589.01 642.8,589.89 643.0,590.77 643.2,591.10 643.4,591.10 643.6,590.70 643.8,589.65 644.0,588.59 644.2,588.59 644.4,589.65 644.6,590.70 644.8,591.10 645.0,591.10 645.2,591.10 645.4,590.59 645.6,590.00 645.8,589.41 646.0,590.00 646.2,590.59 646.4,591.10 646.6,591.10 646.8,591.10 647.0,591.10 647.2,591.10 647.4,591.10 647.6,591.10 647.8,591.10 648.0,591.10 648.2,591.10 648.4,591.10 648.6,591.10 648.8,591.10 649.0,591.10 649.2,591.10 649.4,591.10 649.6,591.10 649.8,591.10 650.0,591.10 650.2,591.10 650.4,591.10 650.6,591.10 650.8,590.83 651.0,590.29 651.2,590.16 651.4,590.69 651.6,591.10 651.8,591.10 652.0,591.10 652.2,591.10 652.4,591.10 652.6,591.10 652.8,591.10 653.0,591.10 653.2,591.10 653.4,591.10 653.6,591.10 653.8,591.10 654.0,591.10 654.2,591.10 654.4,591.10 654.6,591.10 654.8,591.10 655.0,591.10 655.2,591.10 655.4,591.10 655.6,591.10 655.8,591.10 656.0,591.10 656.2,591.10 656.4,591.10 656.6,591.10 656.8,591.10 657.0,591.10 657.2,591.10 657.4,591.10 657.6,591.10 657.8,591.10 658.0,591.10 658.2,591.10 658.4,591.10 658.6,591.10 658.8,591.10 659.0,591.10 659.2,591.10 659.4,591.10 659.6,591.10 659.8,591.10 660.0,591.10 660.2,591.10 660.4,591.10 660.6,591.10 660.8,591.10 661.0,591.10 661.2,591.10 661.4,591.10 661.6,591.10 661.8,590.78 662.0,590.09 662.2,590.39 662.4,590.59 662.6,590.83 662.8,591.08 663.0,591.10 663.2,591.10 663.4,591.10 663.6,591.10 663.8,591.10 664.0,591.10 664.2,591.10 664.4,591.10 664.6,591.10 664.8,591.10 665.0,591.10 665.2,591.10 665.4,591.10 665.6,591.10 665.8,591.10 666.0,591.10 666.2,591.10 666.4,591.10 666.6,591.10 666.8,590.81 667.0,590.60 667.2,590.89 667.4,591.10 667.6,591.10 667.8,591.10 668.0,591.10 668.2,590.33 668.4,589.45 668.6,588.57 668.8,589.45 669.0,590.33 669.2,591.10 669.4,590.40 669.6,588.83 669.8,587.26 670.0,585.70 670.2,587.26 670.4,588.83 670.6,590.04 670.8,589.62 671.0,590.12 671.2,590.63 671.30,591.10" fill="#adadad" stroke="#8a8a8a" stroke-width="0.25" stroke-linejoin="round"/>
<line x1="451.00" y1="591.20" x2="671.30" y2="591.20" stroke="#a0a0a0" stroke-width="0.35"/>
<line x1="449.60" y1="597.60" x2="449.60" y2="644.30" stroke="#000" stroke-width="0.55"/>
<line x1="446.80" y1="644.00" x2="449.60" y2="644.00" stroke="#000" stroke-width="0.55"/>
<text x="444.30" y="646.00" font-size="6.0" font-weight="bold" font-style="normal" text-anchor="end" fill="#000" stroke="#000" stroke-width="0.22">0</text>
<line x1="446.80" y1="635.08" x2="449.60" y2="635.08" stroke="#000" stroke-width="0.55"/>
<text x="444.30" y="637.08" font-size="6.0" font-weight="bold" font-style="normal" text-anchor="end" fill="#000" stroke="#000" stroke-width="0.22">5</text>
<line x1="446.80" y1="626.16" x2="449.60" y2="626.16" stroke="#000" stroke-width="0.55"/>
<text x="444.30" y="628.16" font-size="6.0" font-weight="bold" font-style="normal" text-anchor="end" fill="#000" stroke="#000" stroke-width="0.22">10</text>
<line x1="446.80" y1="617.24" x2="449.60" y2="617.24" stroke="#000" stroke-width="0.55"/>
<text x="444.30" y="619.24" font-size="6.0" font-weight="bold" font-style="normal" text-anchor="end" fill="#000" stroke="#000" stroke-width="0.22">15</text>
<line x1="446.80" y1="608.32" x2="449.60" y2="608.32" stroke="#000" stroke-width="0.55"/>
<text x="444.30" y="610.32" font-size="6.0" font-weight="bold" font-style="normal" text-anchor="end" fill="#000" stroke="#000" stroke-width="0.22">20</text>
<line x1="446.80" y1="599.40" x2="449.60" y2="599.40" stroke="#000" stroke-width="0.55"/>
<text x="444.30" y="601.40" font-size="6.0" font-weight="bold" font-style="normal" text-anchor="end" fill="#000" stroke="#000" stroke-width="0.22">25</text>
<text x="429.90" y="622.20" font-size="5.7" font-weight="bold" font-style="italic" text-anchor="middle" fill="#000" stroke="#000" stroke-width="0.22" transform="rotate(-90 429.90 622.20)">Dnmt3A2</text>
<polygon points="451.00,644.00 451.0,644.00 451.2,644.00 451.4,644.00 451.6,644.00 451.8,644.00 452.0,644.00 452.2,644.00 452.4,644.00 452.6,644.00 452.8,644.00 453.0,644.00 453.2,644.00 453.4,643.88 453.6,642.30 453.8,640.71 454.0,639.12 454.2,637.54 454.4,635.95 454.6,634.37 454.8,635.95 455.0,637.54 455.2,639.12 455.4,640.71 455.6,642.30 455.8,643.88 456.0,644.00 456.2,643.98 456.4,643.54 456.6,643.10 456.8,642.66 457.0,642.22 457.2,642.66 457.4,643.10 457.6,643.54 457.8,643.98 458.0,644.00 458.2,643.92 458.4,643.75 458.6,643.57 458.8,643.53 459.0,643.70 459.2,643.50 459.4,642.46 459.6,642.20 459.8,643.24 460.0,644.00 460.2,644.00 460.4,644.00 460.6,644.00 460.8,644.00 461.0,644.00 461.2,644.00 461.4,644.00 461.6,644.00 461.8,644.00 462.0,644.00 462.2,644.00 462.4,644.00 462.6,643.32 462.8,642.37 463.0,641.43 463.2,640.48 463.4,639.54 463.6,640.48 463.8,641.43 464.0,642.37 464.2,643.32 464.4,642.84 464.6,641.74 464.8,640.64 465.0,639.54 465.2,640.64 465.4,641.74 465.6,642.84 465.8,643.94 466.0,644.00 466.2,644.00 466.4,644.00 466.6,643.91 466.8,642.06 467.0,640.21 467.2,638.36 467.4,636.51 467.6,638.36 467.8,640.21 468.0,641.82 468.2,640.41 468.4,639.00 468.6,639.00 468.8,640.41 469.0,641.27 469.2,639.51 469.4,637.74 469.6,637.74 469.8,639.51 470.0,641.27 470.2,643.03 470.4,643.70 470.6,642.38 470.8,641.06 471.0,639.74 471.2,638.42 471.4,638.42 471.6,639.74 471.8,641.06 472.0,642.38 472.2,643.18 472.4,642.05 472.6,640.91 472.8,639.78 473.0,638.65 473.2,639.78 473.4,640.91 473.6,642.05 473.8,642.70 474.0,641.94 474.2,641.19 474.4,640.43 474.6,641.19 474.8,641.94 475.0,642.70 475.2,641.36 475.4,638.35 475.6,635.34 475.8,635.34 476.0,638.35 476.2,641.36 476.4,643.60 476.6,642.61 476.8,641.62 477.0,640.63 477.2,639.64 477.4,638.65 477.6,639.64 477.8,640.63 478.0,641.62 478.2,642.61 478.4,642.41 478.6,641.75 478.8,641.09 479.0,640.43 479.2,641.09 479.4,641.75 479.6,642.41 479.8,643.07 480.0,641.98 480.2,639.14 480.4,636.31 480.6,633.47 480.8,636.31 481.0,639.14 481.2,641.98 481.4,640.39 481.6,638.63 481.8,636.86 482.0,638.63 482.2,640.39 482.4,642.15 482.6,643.91 482.8,644.00 483.0,644.00 483.2,644.00 483.4,644.00 483.6,644.00 483.8,644.00 484.0,644.00 484.2,643.96 484.4,643.07 484.6,642.19 484.8,641.31 485.0,640.43 485.2,641.31 485.4,642.19 485.6,643.07 485.8,643.96 486.0,644.00 486.2,644.00 486.4,644.00 486.6,644.00 486.8,643.94 487.0,642.84 487.2,641.74 487.4,640.64 487.6,639.54 487.8,640.64 488.0,641.74 488.2,642.84 488.4,643.94 488.6,644.00 488.8,644.00 489.0,644.00 489.2,644.00 489.4,644.00 489.6,643.70 489.8,642.91 490.0,642.12 490.2,641.32 490.4,642.12 490.6,642.91 490.8,643.70 491.0,644.00 491.2,644.00 491.4,644.00 491.6,644.00 491.8,644.00 492.0,644.00 492.2,644.00 492.4,644.00 492.6,644.00 492.8,644.00 493.0,644.00 493.2,644.00 493.4,644.00 493.6,644.00 493.8,644.00 494.0,644.00 494.2,644.00 494.4,644.00 494.6,644.00 494.8,644.00 495.0,644.00 495.2,644.00 495.4,644.00 495.6,644.00 495.8,643.35 496.0,642.62 496.2,641.89 496.4,641.17 496.6,640.44 496.8,640.44 497.0,641.17 497.2,641.89 497.4,642.02 497.6,641.19 497.8,640.37 498.0,639.54 498.2,640.37 498.4,641.19 498.6,642.02 498.8,641.13 499.0,640.13 499.2,639.14 499.4,639.14 499.6,637.92 499.8,636.60 500.0,635.28 500.2,633.96 500.4,633.96 500.6,631.08 500.8,624.86 501.0,618.63 501.2,612.40 501.4,606.18 501.6,612.40 501.8,618.63 502.0,624.86 502.2,631.08 502.4,633.04 502.6,628.78 502.8,624.52 503.0,620.26 503.2,620.26 503.4,624.52 503.6,628.78 503.8,633.04 504.0,637.29 504.2,641.55 504.4,643.54 504.6,642.38 504.8,641.22 505.0,640.07 505.2,638.91 505.4,637.76 505.6,638.91 505.8,640.07 506.0,641.22 506.2,642.38 506.4,643.54 506.6,644.00 506.8,643.58 507.0,641.69 507.2,639.80 507.4,637.91 507.6,636.02 507.8,636.02 508.0,637.91 508.2,639.80 508.4,640.61 508.6,638.65 508.8,636.69 509.0,634.72 509.2,636.69 509.4,638.65 509.6,640.61 509.8,642.58 510.0,641.99 510.2,638.33 510.4,634.68 510.6,631.02 510.8,631.02 511.0,634.68 511.2,638.33 511.4,640.09 511.6,637.83 511.8,635.56 512.0,633.30 512.2,635.56 512.4,637.83 512.6,640.09 512.8,642.30 513.0,643.29 513.2,644.00 513.4,644.00 513.6,644.00 513.8,644.00 514.0,644.00 514.2,644.00 514.4,644.00 514.6,644.00 514.8,644.00 515.0,644.00 515.2,644.00 515.4,644.00 515.6,644.00 515.8,644.00 516.0,644.00 516.2,644.00 516.4,644.00 516.6,644.00 516.8,644.00 517.0,644.00 517.2,642.84 517.4,641.52 517.6,640.20 517.8,640.20 518.0,641.52 518.2,642.84 518.4,644.00 518.6,644.00 518.8,644.00 519.0,644.00 519.2,644.00 519.4,644.00 519.6,644.00 519.8,642.38 520.0,640.53 520.2,638.68 520.4,638.68 520.6,640.53 520.8,642.38 521.0,643.27 521.2,642.02 521.4,642.59 521.6,641.46 521.8,639.61 522.0,637.76 522.2,639.61 522.4,641.46 522.6,643.31 522.8,644.00 523.0,644.00 523.2,644.00 523.4,644.00 523.6,644.00 523.8,644.00 524.0,644.00 524.2,644.00 524.4,644.00 524.6,644.00 524.8,644.00 525.0,644.00 525.2,644.00 525.4,644.00 525.6,644.00 525.8,643.03 526.0,641.27 526.2,639.51 526.4,637.74 526.6,637.74 526.8,639.51 527.0,641.27 527.2,643.03 527.4,643.93 527.6,642.61 527.8,641.29 528.0,639.97 528.2,638.65 528.4,639.97 528.6,641.29 528.8,642.61 529.0,642.63 529.2,641.75 529.4,640.87 529.6,640.87 529.8,641.75 530.0,642.63 530.2,643.21 530.4,641.09 530.6,638.98 530.8,636.86 531.0,638.98 531.2,641.09 531.4,643.21 531.6,644.00 531.8,644.00 532.0,644.00 532.2,644.00 532.4,644.00 532.6,643.78 532.8,642.80 533.0,641.82 533.2,640.83 533.4,639.85 533.6,639.85 533.8,640.83 534.0,641.82 534.2,642.80 534.4,643.78 534.6,642.61 534.8,641.29 535.0,639.97 535.2,638.65 535.4,639.97 535.6,641.29 535.8,642.61 536.0,640.73 536.2,638.35 536.4,635.97 536.6,638.35 536.8,640.73 537.0,643.11 537.2,644.00 537.4,644.00 537.6,644.00 537.8,644.00 538.0,644.00 538.2,644.00 538.4,644.00 538.6,644.00 538.8,644.00 539.0,644.00 539.2,644.00 539.4,644.00 539.6,644.00 539.8,643.39 540.0,642.29 540.2,641.19 540.4,640.09 540.6,640.09 540.8,641.19 541.0,642.29 541.2,643.39 541.4,644.00 541.6,644.00 541.8,644.00 542.0,644.00 542.2,641.64 542.4,638.32 542.6,635.01 542.8,631.69 543.0,635.01 543.2,638.32 543.4,641.64 543.6,640.39 543.8,638.63 544.0,636.86 544.2,638.63 544.4,640.39 544.6,642.15 544.8,643.91 545.0,644.00 545.2,644.00 545.4,644.00 545.6,642.79 545.8,640.59 546.0,638.38 546.2,636.18 546.4,636.18 546.6,638.38 546.8,640.59 547.0,641.74 547.2,640.64 547.4,639.54 547.6,640.64 547.8,641.74 548.0,641.29 548.2,639.97 548.4,638.65 548.6,639.97 548.8,641.29 549.0,642.61 549.2,642.84 549.4,641.74 549.6,640.64 549.8,639.54 550.0,640.64 550.2,641.74 550.4,641.69 550.6,639.48 550.8,637.28 551.0,635.08 551.2,637.28 551.4,639.48 551.6,640.76 551.8,637.68 552.0,634.60 552.2,631.51 552.4,634.60 552.6,637.68 552.8,639.03 553.0,636.61 553.2,634.19 553.4,636.61 553.6,638.58 553.8,635.94 554.0,633.30 554.2,635.94 554.4,638.58 554.6,641.22 554.8,642.61 555.0,641.29 555.2,639.97 555.4,638.65 555.6,639.97 555.8,641.29 556.0,642.61 556.2,643.93 556.4,644.00 556.6,644.00 556.8,644.00 557.0,644.00 557.2,644.00 557.4,643.70 557.6,642.91 557.8,642.12 558.0,641.32 558.2,642.12 558.4,642.91 558.6,643.70 558.8,644.00 559.0,644.00 559.2,644.00 559.4,644.00 559.6,644.00 559.8,644.00 560.0,644.00 560.2,644.00 560.4,644.00 560.6,644.00 560.8,644.00 561.0,644.00 561.2,644.00 561.4,644.00 561.6,644.00 561.8,644.00 562.0,643.27 562.2,641.95 562.4,640.63 562.6,639.31 562.8,639.31 563.0,640.63 563.2,641.95 563.4,643.27 563.6,644.00 563.8,644.00 564.0,644.00 564.2,644.00 564.4,644.00 564.6,643.27 564.8,641.95 565.0,640.63 565.2,639.31 565.4,639.31 565.6,640.63 565.8,641.95 566.0,643.27 566.2,644.00 566.4,644.00 566.6,644.00 566.8,644.00 567.0,644.00 567.2,644.00 567.4,644.00 567.6,644.00 567.8,644.00 568.0,643.94 568.2,642.84 568.4,641.74 568.6,640.64 568.8,639.54 569.0,640.64 569.2,641.74 569.4,642.84 569.6,643.94 569.8,644.00 570.0,643.75 570.2,642.61 570.4,641.48 570.6,640.35 570.8,639.21 571.0,639.21 571.2,640.35 571.4,641.48 571.6,642.61 571.8,642.38 572.0,641.06 572.2,639.74 572.4,638.42 572.6,638.42 572.8,639.74 573.0,641.06 573.2,642.38 573.4,639.43 573.6,636.14 573.8,632.84 574.0,629.55 574.2,632.84 574.4,636.14 574.6,639.43 574.8,642.72 575.0,642.91 575.2,641.39 575.4,639.88 575.6,638.37 575.8,636.86 576.0,638.37 576.2,639.88 576.4,641.39 576.6,642.91 576.8,642.61 577.0,641.48 577.2,640.35 577.4,639.21 577.6,639.21 577.8,640.35 578.0,641.48 578.2,642.61 578.4,643.75 578.6,644.00 578.8,644.00 579.0,644.00 579.2,644.00 579.4,644.00 579.6,644.00 579.8,644.00 580.0,644.00 580.2,644.00 580.4,644.00 580.6,644.00 580.8,644.00 581.0,644.00 581.2,644.00 581.4,644.00 581.6,643.90 581.8,641.92 582.0,639.94 582.2,637.95 582.4,635.97 582.6,637.95 582.8,639.94 583.0,641.92 583.2,643.90 583.4,644.00 583.6,644.00 583.8,644.00 584.0,643.07 584.2,642.02 584.4,640.96 584.6,640.96 584.8,642.02 585.0,643.07 585.2,643.52 585.4,643.72 585.6,643.92 585.8,643.31 586.0,642.51 586.2,641.72 586.4,641.72 586.6,642.51 586.8,643.31 587.0,644.00 587.2,644.00 587.4,644.00 587.6,644.00 587.8,644.00 588.0,644.00 588.2,643.93 588.4,643.63 588.6,643.32 588.8,643.39 589.0,643.69 589.2,643.99 589.4,644.00 589.6,644.00 589.8,644.00 590.0,644.00 590.2,644.00 590.4,644.00 590.6,643.97 590.8,643.64 591.0,643.30 591.2,643.13 591.4,643.46 591.6,643.80 591.8,644.00 592.0,644.00 592.2,644.00 592.4,644.00 592.6,644.00 592.8,643.31 593.0,642.51 593.2,641.72 593.4,641.72 593.6,642.51 593.8,643.31 594.0,644.00 594.2,644.00 594.4,644.00 594.6,644.00 594.8,644.00 595.0,644.00 595.2,644.00 595.4,644.00 595.6,644.00 595.8,644.00 596.0,644.00 596.2,644.00 596.4,644.00 596.6,644.00 596.8,644.00 597.0,644.00 597.2,643.07 597.4,642.02 597.6,640.96 597.8,640.96 598.0,642.02 598.2,643.07 598.4,644.00 598.6,644.00 598.8,644.00 599.0,644.00 599.2,642.71 599.4,639.28 599.6,635.84 599.8,632.40 600.0,635.84 600.2,639.28 600.4,642.71 600.6,644.00 600.8,644.00 601.0,644.00 601.2,643.93 601.4,642.61 601.6,641.29 601.8,639.97 602.0,638.65 602.2,639.97 602.4,641.29 602.6,642.61 602.8,639.10 603.0,634.43 603.2,629.76 603.4,625.09 603.6,629.76 603.8,634.43 604.0,639.10 604.2,641.22 604.4,638.58 604.6,635.94 604.8,633.30 605.0,635.94 605.2,638.58 605.4,641.22 605.6,642.89 605.8,643.81 606.0,643.59 606.2,643.37 606.4,643.55 606.6,643.76 606.8,643.98 607.0,644.00 607.2,644.00 607.4,644.00 607.6,644.00 607.8,644.00 608.0,644.00 608.2,644.00 608.4,644.00 608.6,644.00 608.8,644.00 609.0,644.00 609.2,644.00 609.4,643.70 609.6,642.91 609.8,642.12 610.0,641.32 610.2,642.12 610.4,642.91 610.6,643.70 610.8,644.00 611.0,644.00 611.2,644.00 611.4,644.00 611.6,644.00 611.8,644.00 612.0,644.00 612.2,644.00 612.4,644.00 612.6,644.00 612.8,643.98 613.0,643.50 613.2,643.02 613.4,642.63 613.6,643.11 613.8,642.15 614.0,640.04 614.2,637.92 614.4,637.92 614.6,640.04 614.8,642.15 615.0,644.00 615.2,644.00 615.4,644.00 615.6,644.00 615.8,644.00 616.0,644.00 616.2,644.00 616.4,643.07 616.6,642.02 616.8,640.96 617.0,640.96 617.2,642.02 617.4,643.07 617.6,644.00 617.8,644.00 618.0,644.00 618.2,644.00 618.4,644.00 618.6,644.00 618.8,644.00 619.0,643.21 619.2,641.09 619.4,638.98 619.6,636.86 619.8,638.98 620.0,641.09 620.2,643.21 620.4,644.00 620.6,644.00 620.8,644.00 621.0,644.00 621.2,644.00 621.4,644.00 621.6,644.00 621.8,644.00 622.0,644.00 622.2,643.96 622.4,643.07 622.6,642.19 622.8,641.31 623.0,640.43 623.2,641.31 623.4,642.19 623.6,643.07 623.8,643.96 624.0,644.00 624.2,644.00 624.4,643.32 624.6,642.37 624.8,641.43 625.0,640.48 625.2,639.54 625.4,640.48 625.6,641.43 625.8,642.37 626.0,641.23 626.2,637.33 626.4,633.44 626.6,629.55 626.8,633.44 627.0,637.33 627.2,641.23 627.4,644.00 627.6,642.79 627.8,640.59 628.0,638.38 628.2,636.18 628.4,636.18 628.6,638.38 628.8,640.59 629.0,642.79 629.2,643.90 629.4,641.92 629.6,639.94 629.8,637.95 630.0,635.97 630.2,637.95 630.4,639.94 630.6,641.92 630.8,643.90 631.0,643.91 631.2,642.15 631.4,640.39 631.6,638.63 631.8,636.86 632.0,638.63 632.2,640.39 632.4,642.15 632.6,643.91 632.8,644.00 633.0,642.29 633.2,639.89 633.4,637.48 633.6,635.08 633.8,637.48 634.0,639.89 634.2,642.29 634.4,644.00 634.6,644.00 634.8,644.00 635.0,643.03 635.2,641.27 635.4,639.51 635.6,637.74 635.8,637.74 636.0,639.51 636.2,641.27 636.4,643.03 636.6,644.00 636.8,644.00 637.0,644.00 637.2,643.15 637.4,641.61 637.6,640.07 637.8,638.53 638.0,638.53 638.2,640.07 638.4,641.61 638.6,643.15 638.8,644.00 639.0,644.00 639.2,644.00 639.4,644.00 639.6,644.00 639.8,643.94 640.0,642.84 640.2,641.74 640.4,640.64 640.6,639.54 640.8,640.64 641.0,641.74 641.2,642.84 641.4,643.94 641.6,644.00 641.8,644.00 642.0,644.00 642.2,644.00 642.4,643.93 642.6,642.61 642.8,641.29 643.0,639.97 643.2,638.65 643.4,639.97 643.6,641.29 643.8,642.61 644.0,641.61 644.2,640.07 644.4,638.53 644.6,638.53 644.8,640.07 645.0,639.77 645.2,637.04 645.4,634.30 645.6,634.30 645.8,637.04 646.0,639.77 646.2,642.50 646.4,641.46 646.6,639.63 646.8,637.80 647.0,635.97 647.2,637.80 647.4,639.63 647.6,641.46 647.8,643.29 648.0,644.00 648.2,644.00 648.4,644.00 648.6,644.00 648.8,644.00 649.0,643.92 649.2,643.12 649.4,642.33 649.6,642.69 649.8,643.49 650.0,644.00 650.2,643.94 650.4,642.84 650.6,641.74 650.8,640.64 651.0,639.54 651.2,640.64 651.4,641.74 651.6,642.84 651.8,643.94 652.0,644.00 652.2,643.75 652.4,643.48 652.6,643.28 652.8,643.55 653.0,643.82 653.2,644.00 653.4,643.79 653.6,642.84 653.8,641.90 654.0,640.96 654.2,640.01 654.4,640.01 654.6,640.96 654.8,641.90 655.0,640.93 655.2,638.95 655.4,636.96 655.6,636.96 655.8,638.95 656.0,640.93 656.2,640.24 656.4,637.82 656.6,635.40 656.8,635.40 657.0,637.82 657.2,640.24 657.4,642.61 657.6,641.29 657.8,639.97 658.0,638.65 658.2,639.97 658.4,641.29 658.6,642.61 658.8,643.93 659.0,644.00 659.2,644.00 659.4,644.00 659.6,644.00 659.8,644.00 660.0,644.00 660.2,643.54 660.4,643.01 660.6,642.48 660.8,642.48 661.0,643.01 661.2,643.54 661.4,644.00 661.6,644.00 661.8,644.00 662.0,644.00 662.2,644.00 662.4,644.00 662.6,644.00 662.8,644.00 663.0,644.00 663.2,644.00 663.4,644.00 663.6,644.00 663.8,644.00 664.0,644.00 664.2,644.00 664.4,644.00 664.6,644.00 664.8,644.00 665.0,644.00 665.2,644.00 665.4,644.00 665.6,644.00 665.8,644.00 666.0,644.00 666.2,643.52 666.4,642.63 666.6,641.75 666.8,640.87 667.0,640.87 667.2,641.75 667.4,642.63 667.6,643.52 667.8,644.00 668.0,644.00 668.2,643.32 668.4,642.37 668.6,641.43 668.8,640.48 669.0,639.54 669.2,640.48 669.4,641.43 669.6,642.37 669.8,642.18 670.0,642.66 670.2,641.61 670.4,640.07 670.6,638.53 670.8,638.53 671.0,640.07 671.2,641.61 671.30,644.00" fill="#adadad" stroke="#8a8a8a" stroke-width="0.25" stroke-linejoin="round"/>
<line x1="451.00" y1="644.10" x2="671.30" y2="644.10" stroke="#a0a0a0" stroke-width="0.35"/>
<line x1="491.60" y1="648.80" x2="643.60" y2="648.80" stroke="#1414ff" stroke-width="0.6"/>
<line x1="491.60" y1="647.60" x2="491.60" y2="650.00" stroke="#1414ff" stroke-width="0.6"/>
<path d="M491.00 647.30 L493.90 648.80 L491.00 650.30Z" fill="#1414ff"/>
<rect x="496.30" y="647.70" width="2.20" height="2.20" fill="#1414ff"/>
<rect x="551.20" y="647.70" width="2.20" height="2.20" fill="#1414ff"/>
<rect x="571.70" y="647.70" width="2.20" height="2.20" fill="#1414ff"/>
<rect x="575.60" y="647.70" width="2.20" height="2.20" fill="#1414ff"/>
<path d="M592.80 647.30 L595.70 648.80 L592.80 650.30Z" fill="#1414ff"/>
<path d="M600.50 647.30 L603.40 648.80 L600.50 650.30Z" fill="#1414ff"/>
<rect x="612.30" y="647.70" width="2.20" height="2.20" fill="#1414ff"/>
<rect x="632.40" y="647.70" width="2.20" height="2.20" fill="#1414ff"/>
<path d="M641.10 647.30 L644.00 648.80 L641.10 650.30Z" fill="#1414ff"/>
<text x="489.00" y="650.60" font-size="5.6" font-weight="bold" font-style="italic" text-anchor="end" fill="#000" stroke="#000" stroke-width="0.22">Stra8</text>
<line x1="498.50" y1="654.60" x2="643.60" y2="654.60" stroke="#1414ff" stroke-width="0.6"/>
<line x1="498.50" y1="653.40" x2="498.50" y2="655.80" stroke="#1414ff" stroke-width="0.6"/>
<rect x="551.20" y="653.50" width="2.20" height="2.20" fill="#1414ff"/>
<rect x="571.70" y="653.50" width="2.20" height="2.20" fill="#1414ff"/>
<rect x="575.60" y="653.50" width="2.20" height="2.20" fill="#1414ff"/>
<path d="M592.80 653.10 L595.70 654.60 L592.80 656.10Z" fill="#1414ff"/>
<path d="M600.50 653.10 L603.40 654.60 L600.50 656.10Z" fill="#1414ff"/>
<rect x="612.30" y="653.50" width="2.20" height="2.20" fill="#1414ff"/>
<rect x="632.40" y="653.50" width="2.20" height="2.20" fill="#1414ff"/>
<path d="M641.10 653.10 L644.00 654.60 L641.10 656.10Z" fill="#1414ff"/>
<text x="494.80" y="656.40" font-size="5.6" font-weight="bold" font-style="italic" text-anchor="end" fill="#000" stroke="#000" stroke-width="0.22">Stra8</text>
<line x1="498.50" y1="660.20" x2="643.60" y2="660.20" stroke="#1414ff" stroke-width="0.6"/>
<line x1="498.50" y1="659.00" x2="498.50" y2="661.40" stroke="#1414ff" stroke-width="0.6"/>
<rect x="571.70" y="659.10" width="2.20" height="2.20" fill="#1414ff"/>
<rect x="575.60" y="659.10" width="2.20" height="2.20" fill="#1414ff"/>
<path d="M592.80 658.70 L595.70 660.20 L592.80 661.70Z" fill="#1414ff"/>
<path d="M600.50 658.70 L603.40 660.20 L600.50 661.70Z" fill="#1414ff"/>
<rect x="612.30" y="659.10" width="2.20" height="2.20" fill="#1414ff"/>
<rect x="632.40" y="659.10" width="2.20" height="2.20" fill="#1414ff"/>
<path d="M641.10 658.70 L644.00 660.20 L641.10 661.70Z" fill="#1414ff"/>
<text x="494.80" y="662.00" font-size="5.6" font-weight="bold" font-style="italic" text-anchor="end" fill="#000" stroke="#000" stroke-width="0.22">Stra8</text>
<text x="424.00" y="656.20" font-size="5.8" font-weight="bold" font-style="normal" text-anchor="start" fill="#000" stroke="#000" stroke-width="0.22">UCSC genes</text>
<text x="424.00" y="669.30" font-size="5.8" font-weight="bold" font-style="normal" text-anchor="start" fill="#000" stroke="#000" stroke-width="0.22">CpG island</text>
<text x="424.00" y="679.00" font-size="5.8" font-weight="bold" font-style="normal" text-anchor="start" fill="#000" stroke="#000" stroke-width="0.22">Primer</text>
<rect x="501.20" y="666.20" width="3.20" height="3.20" fill="#55d62a"/>
<rect x="497.00" y="675.50" width="1.20" height="3.60" fill="#ff2a12"/>
<text x="0.80" y="703.40" font-size="11.5" font-weight="bold" font-style="normal" text-anchor="start" fill="#000" stroke="#000" stroke-width="0.22">g</text>
<text x="77.70" y="710.50" font-size="5.85" font-weight="bold" font-style="normal" text-anchor="middle" fill="#000" stroke="#000" stroke-width="0.22">FLAG Dnmt3L ChIP</text>
<text x="77.70" y="717.00" font-size="5.85" font-weight="bold" font-style="italic" text-anchor="middle" fill="#000" stroke="#000" stroke-width="0.22">Tfcp2l1</text>
<line x1="36.25" y1="800.55" x2="36.25" y2="800.99" stroke="#000" stroke-width="0.7"/>
<line x1="33.05" y1="800.55" x2="39.45" y2="800.55" stroke="#000" stroke-width="0.7"/>
<rect x="28.60" y="800.99" width="15.30" height="0.31" fill="#000"/>
<text x="36.25" y="809.00" font-size="5.85" font-weight="bold" font-style="normal" text-anchor="middle" fill="#000" stroke="#000" stroke-width="0.22">IgG</text>
<line x1="36.25" y1="801.30" x2="36.25" y2="803.10" stroke="#000" stroke-width="0.6"/>
<line x1="57.00" y1="796.64" x2="57.00" y2="798.50" stroke="#000" stroke-width="0.7"/>
<line x1="53.80" y1="796.64" x2="60.20" y2="796.64" stroke="#000" stroke-width="0.7"/>
<rect x="49.00" y="798.50" width="16.00" height="2.80" fill="#000"/>
<text x="57.00" y="809.00" font-size="5.85" font-weight="bold" font-style="normal" text-anchor="middle" fill="#000" stroke="#000" stroke-width="0.22">ET</text>
<line x1="57.00" y1="801.30" x2="57.00" y2="803.10" stroke="#000" stroke-width="0.6"/>
<rect x="69.90" y="739.13" width="15.90" height="62.17" fill="#ff2310"/>
<text x="77.85" y="809.00" font-size="5.85" font-weight="bold" font-style="normal" text-anchor="middle" fill="#000" stroke="#000" stroke-width="0.22">WT</text>
<line x1="77.85" y1="801.30" x2="77.85" y2="803.10" stroke="#000" stroke-width="0.6"/>
<line x1="98.60" y1="773.33" x2="98.60" y2="776.12" stroke="#000" stroke-width="0.7"/>
<line x1="95.40" y1="773.33" x2="101.80" y2="773.33" stroke="#000" stroke-width="0.7"/>
<rect x="90.50" y="776.12" width="16.20" height="25.18" fill="#0a0aff"/>
<text x="98.60" y="809.00" font-size="5.85" font-weight="bold" font-style="normal" text-anchor="middle" fill="#000" stroke="#000" stroke-width="0.22">K238R</text>
<line x1="98.60" y1="801.30" x2="98.60" y2="803.10" stroke="#000" stroke-width="0.6"/>
<line x1="119.25" y1="798.81" x2="119.25" y2="799.75" stroke="#000" stroke-width="0.7"/>
<line x1="116.05" y1="798.81" x2="122.45" y2="798.81" stroke="#000" stroke-width="0.7"/>
<rect x="111.40" y="799.75" width="15.70" height="1.55" fill="#2f8a22"/>
<text x="119.25" y="809.00" font-size="5.85" font-weight="bold" font-style="normal" text-anchor="middle" fill="#000" stroke="#000" stroke-width="0.22">K412R</text>
<line x1="119.25" y1="801.30" x2="119.25" y2="803.10" stroke="#000" stroke-width="0.6"/>
<line x1="24.10" y1="726.40" x2="24.10" y2="801.70" stroke="#000" stroke-width="0.8"/>
<line x1="23.70" y1="801.30" x2="132.80" y2="801.30" stroke="#000" stroke-width="0.8"/>
<line x1="22.10" y1="801.30" x2="24.10" y2="801.30" stroke="#000" stroke-width="0.7"/>
<text x="21.90" y="803.30" font-size="5.85" font-weight="bold" font-style="normal" text-anchor="end" fill="#000" stroke="#000" stroke-width="0.22">0.0</text>
<line x1="22.10" y1="782.65" x2="24.10" y2="782.65" stroke="#000" stroke-width="0.7"/>
<text x="21.90" y="784.65" font-size="5.85" font-weight="bold" font-style="normal" text-anchor="end" fill="#000" stroke="#000" stroke-width="0.22">0.3</text>
<line x1="22.10" y1="764.00" x2="24.10" y2="764.00" stroke="#000" stroke-width="0.7"/>
<text x="21.90" y="766.00" font-size="5.85" font-weight="bold" font-style="normal" text-anchor="end" fill="#000" stroke="#000" stroke-width="0.22">0.6</text>
<line x1="22.10" y1="745.35" x2="24.10" y2="745.35" stroke="#000" stroke-width="0.7"/>
<text x="21.90" y="747.35" font-size="5.85" font-weight="bold" font-style="normal" text-anchor="end" fill="#000" stroke="#000" stroke-width="0.22">0.9</text>
<line x1="22.10" y1="726.70" x2="24.10" y2="726.70" stroke="#000" stroke-width="0.7"/>
<text x="21.90" y="728.70" font-size="5.85" font-weight="bold" font-style="normal" text-anchor="end" fill="#000" stroke="#000" stroke-width="0.22">1.2</text>
<text x="10.90" y="764.00" font-size="5.85" font-weight="bold" font-style="normal" text-anchor="middle" fill="#000" stroke="#000" stroke-width="0.22" transform="rotate(-90 10.90 764.00)">Relative enrichment of B/UB</text>
<line x1="78.70" y1="813.50" x2="118.50" y2="813.50" stroke="#000" stroke-width="0.6"/>
<text x="98.10" y="820.20" font-size="5.85" font-weight="bold" font-style="italic" text-anchor="middle" fill="#000" stroke="#000" stroke-width="0.22">Dnmt3L</text>
<text x="36.80" y="796.10" font-size="5.9" font-weight="bold" font-style="italic" text-anchor="middle" fill="#111" stroke="#111" stroke-width="0.1">###</text>
<text x="57.20" y="792.60" font-size="5.9" font-weight="bold" font-style="italic" text-anchor="middle" fill="#111" stroke="#111" stroke-width="0.1">###</text>
<text x="98.70" y="764.60" font-size="5.9" font-weight="bold" font-style="italic" text-anchor="middle" fill="#111" stroke="#111" stroke-width="0.1">###</text>
<text x="98.70" y="771.80" font-size="6.2" font-weight="bold" font-style="normal" text-anchor="middle" fill="#111" stroke="#111" stroke-width="0.05" letter-spacing="0.2">***</text>
<text x="119.60" y="796.10" font-size="5.9" font-weight="bold" font-style="italic" text-anchor="middle" fill="#111" stroke="#111" stroke-width="0.1">###</text>
<text x="212.70" y="710.50" font-size="5.85" font-weight="bold" font-style="normal" text-anchor="middle" fill="#000" stroke="#000" stroke-width="0.22">FLAG Dnmt3L ChIP</text>
<text x="212.70" y="717.00" font-size="5.85" font-weight="bold" font-style="italic" text-anchor="middle" fill="#000" stroke="#000" stroke-width="0.22">Stra8</text>
<line x1="171.25" y1="799.43" x2="171.25" y2="800.80" stroke="#000" stroke-width="0.7"/>
<line x1="168.05" y1="799.43" x2="174.45" y2="799.43" stroke="#000" stroke-width="0.7"/>
<rect x="163.60" y="800.80" width="15.30" height="0.50" fill="#000"/>
<text x="171.25" y="809.00" font-size="5.85" font-weight="bold" font-style="normal" text-anchor="middle" fill="#000" stroke="#000" stroke-width="0.22">IgG</text>
<line x1="171.25" y1="801.30" x2="171.25" y2="803.10" stroke="#000" stroke-width="0.6"/>
<line x1="192.00" y1="796.64" x2="192.00" y2="798.19" stroke="#000" stroke-width="0.7"/>
<line x1="188.80" y1="796.64" x2="195.20" y2="796.64" stroke="#000" stroke-width="0.7"/>
<rect x="184.00" y="798.19" width="16.00" height="3.11" fill="#000"/>
<text x="192.00" y="809.00" font-size="5.85" font-weight="bold" font-style="normal" text-anchor="middle" fill="#000" stroke="#000" stroke-width="0.22">ET</text>
<line x1="192.00" y1="801.30" x2="192.00" y2="803.10" stroke="#000" stroke-width="0.6"/>
<rect x="204.90" y="739.13" width="15.90" height="62.17" fill="#ff2310"/>
<text x="212.85" y="809.00" font-size="5.85" font-weight="bold" font-style="normal" text-anchor="middle" fill="#000" stroke="#000" stroke-width="0.22">WT</text>
<line x1="212.85" y1="801.30" x2="212.85" y2="803.10" stroke="#000" stroke-width="0.6"/>
<line x1="233.60" y1="769.60" x2="233.60" y2="774.26" stroke="#000" stroke-width="0.7"/>
<line x1="230.40" y1="769.60" x2="236.80" y2="769.60" stroke="#000" stroke-width="0.7"/>
<rect x="225.50" y="774.26" width="16.20" height="27.04" fill="#0a0aff"/>
<text x="233.60" y="809.00" font-size="5.85" font-weight="bold" font-style="normal" text-anchor="middle" fill="#000" stroke="#000" stroke-width="0.22">K238R</text>
<line x1="233.60" y1="801.30" x2="233.60" y2="803.10" stroke="#000" stroke-width="0.6"/>
<line x1="254.25" y1="798.19" x2="254.25" y2="799.12" stroke="#000" stroke-width="0.7"/>
<line x1="251.05" y1="798.19" x2="257.45" y2="798.19" stroke="#000" stroke-width="0.7"/>
<rect x="246.40" y="799.12" width="15.70" height="2.18" fill="#2f8a22"/>
<text x="254.25" y="809.00" font-size="5.85" font-weight="bold" font-style="normal" text-anchor="middle" fill="#000" stroke="#000" stroke-width="0.22">K412R</text>
<line x1="254.25" y1="801.30" x2="254.25" y2="803.10" stroke="#000" stroke-width="0.6"/>
<line x1="159.10" y1="726.40" x2="159.10" y2="801.70" stroke="#000" stroke-width="0.8"/>
<line x1="158.70" y1="801.30" x2="267.80" y2="801.30" stroke="#000" stroke-width="0.8"/>
<line x1="157.10" y1="801.30" x2="159.10" y2="801.30" stroke="#000" stroke-width="0.7"/>
<text x="156.90" y="803.30" font-size="5.85" font-weight="bold" font-style="normal" text-anchor="end" fill="#000" stroke="#000" stroke-width="0.22">0.0</text>
<line x1="157.10" y1="782.65" x2="159.10" y2="782.65" stroke="#000" stroke-width="0.7"/>
<text x="156.90" y="784.65" font-size="5.85" font-weight="bold" font-style="normal" text-anchor="end" fill="#000" stroke="#000" stroke-width="0.22">0.3</text>
<line x1="157.10" y1="764.00" x2="159.10" y2="764.00" stroke="#000" stroke-width="0.7"/>
<text x="156.90" y="766.00" font-size="5.85" font-weight="bold" font-style="normal" text-anchor="end" fill="#000" stroke="#000" stroke-width="0.22">0.6</text>
<line x1="157.10" y1="745.35" x2="159.10" y2="745.35" stroke="#000" stroke-width="0.7"/>
<text x="156.90" y="747.35" font-size="5.85" font-weight="bold" font-style="normal" text-anchor="end" fill="#000" stroke="#000" stroke-width="0.22">0.9</text>
<line x1="157.10" y1="726.70" x2="159.10" y2="726.70" stroke="#000" stroke-width="0.7"/>
<text x="156.90" y="728.70" font-size="5.85" font-weight="bold" font-style="normal" text-anchor="end" fill="#000" stroke="#000" stroke-width="0.22">1.2</text>
<text x="145.90" y="764.00" font-size="5.85" font-weight="bold" font-style="normal" text-anchor="middle" fill="#000" stroke="#000" stroke-width="0.22" transform="rotate(-90 145.90 764.00)">Relative enrichment of B/UB</text>
<line x1="213.70" y1="813.50" x2="253.50" y2="813.50" stroke="#000" stroke-width="0.6"/>
<text x="233.10" y="820.20" font-size="5.85" font-weight="bold" font-style="italic" text-anchor="middle" fill="#000" stroke="#000" stroke-width="0.22">Dnmt3L</text>
<text x="171.80" y="794.60" font-size="5.9" font-weight="bold" font-style="italic" text-anchor="middle" fill="#111" stroke="#111" stroke-width="0.1">###</text>
<text x="192.20" y="792.00" font-size="5.9" font-weight="bold" font-style="italic" text-anchor="middle" fill="#111" stroke="#111" stroke-width="0.1">###</text>
<text x="233.70" y="761.40" font-size="5.9" font-weight="bold" font-style="italic" text-anchor="middle" fill="#111" stroke="#111" stroke-width="0.1">###</text>
<text x="233.70" y="768.30" font-size="6.2" font-weight="bold" font-style="normal" text-anchor="middle" fill="#111" stroke="#111" stroke-width="0.05" letter-spacing="0.2">***</text>
<text x="254.60" y="794.60" font-size="5.9" font-weight="bold" font-style="italic" text-anchor="middle" fill="#111" stroke="#111" stroke-width="0.1">###</text>
<text x="347.30" y="710.50" font-size="5.85" font-weight="bold" font-style="normal" text-anchor="middle" fill="#000" stroke="#000" stroke-width="0.22">FLAG Dnmt3L ChIP</text>
<text x="347.30" y="717.00" font-size="5.85" font-weight="bold" font-style="italic" text-anchor="middle" fill="#000" stroke="#000" stroke-width="0.22">Foxa1</text>
<text x="305.85" y="809.00" font-size="5.85" font-weight="bold" font-style="normal" text-anchor="middle" fill="#000" stroke="#000" stroke-width="0.22">IgG</text>
<line x1="305.85" y1="801.30" x2="305.85" y2="803.10" stroke="#000" stroke-width="0.6"/>
<line x1="326.60" y1="795.70" x2="326.60" y2="797.88" stroke="#000" stroke-width="0.7"/>
<line x1="323.40" y1="795.70" x2="329.80" y2="795.70" stroke="#000" stroke-width="0.7"/>
<rect x="318.60" y="797.88" width="16.00" height="3.42" fill="#000"/>
<text x="326.60" y="809.00" font-size="5.85" font-weight="bold" font-style="normal" text-anchor="middle" fill="#000" stroke="#000" stroke-width="0.22">ET</text>
<line x1="326.60" y1="801.30" x2="326.60" y2="803.10" stroke="#000" stroke-width="0.6"/>
<rect x="339.50" y="739.13" width="15.90" height="62.17" fill="#ff2310"/>
<text x="347.45" y="809.00" font-size="5.85" font-weight="bold" font-style="normal" text-anchor="middle" fill="#000" stroke="#000" stroke-width="0.22">WT</text>
<line x1="347.45" y1="801.30" x2="347.45" y2="803.10" stroke="#000" stroke-width="0.6"/>
<line x1="368.20" y1="769.28" x2="368.20" y2="770.22" stroke="#000" stroke-width="0.7"/>
<line x1="365.00" y1="769.28" x2="371.40" y2="769.28" stroke="#000" stroke-width="0.7"/>
<rect x="360.10" y="770.22" width="16.20" height="31.08" fill="#0a0aff"/>
<text x="368.20" y="809.00" font-size="5.85" font-weight="bold" font-style="normal" text-anchor="middle" fill="#000" stroke="#000" stroke-width="0.22">K238R</text>
<line x1="368.20" y1="801.30" x2="368.20" y2="803.10" stroke="#000" stroke-width="0.6"/>
<line x1="388.85" y1="796.64" x2="388.85" y2="797.88" stroke="#000" stroke-width="0.7"/>
<line x1="385.65" y1="796.64" x2="392.05" y2="796.64" stroke="#000" stroke-width="0.7"/>
<rect x="381.00" y="797.88" width="15.70" height="3.42" fill="#2f8a22"/>
<text x="388.85" y="809.00" font-size="5.85" font-weight="bold" font-style="normal" text-anchor="middle" fill="#000" stroke="#000" stroke-width="0.22">K412R</text>
<line x1="388.85" y1="801.30" x2="388.85" y2="803.10" stroke="#000" stroke-width="0.6"/>
<line x1="293.70" y1="726.40" x2="293.70" y2="801.70" stroke="#000" stroke-width="0.8"/>
<line x1="293.30" y1="801.30" x2="402.40" y2="801.30" stroke="#000" stroke-width="0.8"/>
<line x1="291.70" y1="801.30" x2="293.70" y2="801.30" stroke="#000" stroke-width="0.7"/>
<text x="291.50" y="803.30" font-size="5.85" font-weight="bold" font-style="normal" text-anchor="end" fill="#000" stroke="#000" stroke-width="0.22">0.0</text>
<line x1="291.70" y1="782.65" x2="293.70" y2="782.65" stroke="#000" stroke-width="0.7"/>
<text x="291.50" y="784.65" font-size="5.85" font-weight="bold" font-style="normal" text-anchor="end" fill="#000" stroke="#000" stroke-width="0.22">0.3</text>
<line x1="291.70" y1="764.00" x2="293.70" y2="764.00" stroke="#000" stroke-width="0.7"/>
<text x="291.50" y="766.00" font-size="5.85" font-weight="bold" font-style="normal" text-anchor="end" fill="#000" stroke="#000" stroke-width="0.22">0.6</text>
<line x1="291.70" y1="745.35" x2="293.70" y2="745.35" stroke="#000" stroke-width="0.7"/>
<text x="291.50" y="747.35" font-size="5.85" font-weight="bold" font-style="normal" text-anchor="end" fill="#000" stroke="#000" stroke-width="0.22">0.9</text>
<line x1="291.70" y1="726.70" x2="293.70" y2="726.70" stroke="#000" stroke-width="0.7"/>
<text x="291.50" y="728.70" font-size="5.85" font-weight="bold" font-style="normal" text-anchor="end" fill="#000" stroke="#000" stroke-width="0.22">1.2</text>
<text x="280.50" y="764.00" font-size="5.85" font-weight="bold" font-style="normal" text-anchor="middle" fill="#000" stroke="#000" stroke-width="0.22" transform="rotate(-90 280.50 764.00)">Relative enrichment of B/UB</text>
<line x1="348.30" y1="813.50" x2="388.10" y2="813.50" stroke="#000" stroke-width="0.6"/>
<text x="367.70" y="820.20" font-size="5.85" font-weight="bold" font-style="italic" text-anchor="middle" fill="#000" stroke="#000" stroke-width="0.22">Dnmt3L</text>
<text x="306.40" y="796.10" font-size="5.9" font-weight="bold" font-style="italic" text-anchor="middle" fill="#111" stroke="#111" stroke-width="0.1">###</text>
<text x="326.80" y="790.60" font-size="5.9" font-weight="bold" font-style="italic" text-anchor="middle" fill="#111" stroke="#111" stroke-width="0.1">###</text>
<text x="368.30" y="761.00" font-size="5.9" font-weight="bold" font-style="italic" text-anchor="middle" fill="#111" stroke="#111" stroke-width="0.1">###</text>
<text x="368.30" y="767.80" font-size="6.2" font-weight="bold" font-style="normal" text-anchor="middle" fill="#111" stroke="#111" stroke-width="0.05" letter-spacing="0.2">***</text>
<text x="389.20" y="792.60" font-size="5.9" font-weight="bold" font-style="italic" text-anchor="middle" fill="#111" stroke="#111" stroke-width="0.1">###</text>
<text x="482.30" y="710.50" font-size="5.85" font-weight="bold" font-style="normal" text-anchor="middle" fill="#000" stroke="#000" stroke-width="0.22">FLAG Dnmt3L ChIP</text>
<text x="482.30" y="717.00" font-size="5.85" font-weight="bold" font-style="italic" text-anchor="middle" fill="#000" stroke="#000" stroke-width="0.22">Cer1</text>
<rect x="433.20" y="800.80" width="15.30" height="0.50" fill="#000"/>
<text x="440.85" y="809.00" font-size="5.85" font-weight="bold" font-style="normal" text-anchor="middle" fill="#000" stroke="#000" stroke-width="0.22">IgG</text>
<line x1="440.85" y1="801.30" x2="440.85" y2="803.10" stroke="#000" stroke-width="0.6"/>
<line x1="461.60" y1="798.81" x2="461.60" y2="799.43" stroke="#000" stroke-width="0.7"/>
<line x1="458.40" y1="798.81" x2="464.80" y2="798.81" stroke="#000" stroke-width="0.7"/>
<rect x="453.60" y="799.43" width="16.00" height="1.86" fill="#000"/>
<text x="461.60" y="809.00" font-size="5.85" font-weight="bold" font-style="normal" text-anchor="middle" fill="#000" stroke="#000" stroke-width="0.22">ET</text>
<line x1="461.60" y1="801.30" x2="461.60" y2="803.10" stroke="#000" stroke-width="0.6"/>
<rect x="474.50" y="739.13" width="15.90" height="62.17" fill="#ff2310"/>
<text x="482.45" y="809.00" font-size="5.85" font-weight="bold" font-style="normal" text-anchor="middle" fill="#000" stroke="#000" stroke-width="0.22">WT</text>
<line x1="482.45" y1="801.30" x2="482.45" y2="803.10" stroke="#000" stroke-width="0.6"/>
<line x1="503.20" y1="776.43" x2="503.20" y2="777.99" stroke="#000" stroke-width="0.7"/>
<line x1="500.00" y1="776.43" x2="506.40" y2="776.43" stroke="#000" stroke-width="0.7"/>
<rect x="495.10" y="777.99" width="16.20" height="23.31" fill="#0a0aff"/>
<text x="503.20" y="809.00" font-size="5.85" font-weight="bold" font-style="normal" text-anchor="middle" fill="#000" stroke="#000" stroke-width="0.22">K238R</text>
<line x1="503.20" y1="801.30" x2="503.20" y2="803.10" stroke="#000" stroke-width="0.6"/>
<line x1="523.85" y1="799.12" x2="523.85" y2="799.75" stroke="#000" stroke-width="0.7"/>
<line x1="520.65" y1="799.12" x2="527.05" y2="799.12" stroke="#000" stroke-width="0.7"/>
<rect x="516.00" y="799.75" width="15.70" height="1.55" fill="#2f8a22"/>
<text x="523.85" y="809.00" font-size="5.85" font-weight="bold" font-style="normal" text-anchor="middle" fill="#000" stroke="#000" stroke-width="0.22">K412R</text>
<line x1="523.85" y1="801.30" x2="523.85" y2="803.10" stroke="#000" stroke-width="0.6"/>
<line x1="428.70" y1="726.40" x2="428.70" y2="801.70" stroke="#000" stroke-width="0.8"/>
<line x1="428.30" y1="801.30" x2="537.40" y2="801.30" stroke="#000" stroke-width="0.8"/>
<line x1="426.70" y1="801.30" x2="428.70" y2="801.30" stroke="#000" stroke-width="0.7"/>
<text x="426.50" y="803.30" font-size="5.85" font-weight="bold" font-style="normal" text-anchor="end" fill="#000" stroke="#000" stroke-width="0.22">0.0</text>
<line x1="426.70" y1="782.65" x2="428.70" y2="782.65" stroke="#000" stroke-width="0.7"/>
<text x="426.50" y="784.65" font-size="5.85" font-weight="bold" font-style="normal" text-anchor="end" fill="#000" stroke="#000" stroke-width="0.22">0.3</text>
<line x1="426.70" y1="764.00" x2="428.70" y2="764.00" stroke="#000" stroke-width="0.7"/>
<text x="426.50" y="766.00" font-size="5.85" font-weight="bold" font-style="normal" text-anchor="end" fill="#000" stroke="#000" stroke-width="0.22">0.6</text>
<line x1="426.70" y1="745.35" x2="428.70" y2="745.35" stroke="#000" stroke-width="0.7"/>
<text x="426.50" y="747.35" font-size="5.85" font-weight="bold" font-style="normal" text-anchor="end" fill="#000" stroke="#000" stroke-width="0.22">0.9</text>
<line x1="426.70" y1="726.70" x2="428.70" y2="726.70" stroke="#000" stroke-width="0.7"/>
<text x="426.50" y="728.70" font-size="5.85" font-weight="bold" font-style="normal" text-anchor="end" fill="#000" stroke="#000" stroke-width="0.22">1.2</text>
<text x="415.50" y="764.00" font-size="5.85" font-weight="bold" font-style="normal" text-anchor="middle" fill="#000" stroke="#000" stroke-width="0.22" transform="rotate(-90 415.50 764.00)">Relative enrichment of B/UB</text>
<line x1="483.30" y1="813.50" x2="523.10" y2="813.50" stroke="#000" stroke-width="0.6"/>
<text x="502.70" y="820.20" font-size="5.85" font-weight="bold" font-style="italic" text-anchor="middle" fill="#000" stroke="#000" stroke-width="0.22">Dnmt3L</text>
<text x="441.40" y="795.30" font-size="5.9" font-weight="bold" font-style="italic" text-anchor="middle" fill="#111" stroke="#111" stroke-width="0.1">###</text>
<text x="461.80" y="793.10" font-size="5.9" font-weight="bold" font-style="italic" text-anchor="middle" fill="#111" stroke="#111" stroke-width="0.1">###</text>
<text x="503.30" y="767.60" font-size="5.9" font-weight="bold" font-style="italic" text-anchor="middle" fill="#111" stroke="#111" stroke-width="0.1">###</text>
<text x="503.30" y="774.40" font-size="6.2" font-weight="bold" font-style="normal" text-anchor="middle" fill="#111" stroke="#111" stroke-width="0.05" letter-spacing="0.2">***</text>
<text x="524.20" y="795.30" font-size="5.9" font-weight="bold" font-style="italic" text-anchor="middle" fill="#111" stroke="#111" stroke-width="0.1">###</text>
<text x="617.10" y="710.40" font-size="5.85" font-weight="bold" font-style="normal" text-anchor="middle" fill="#000" stroke="#000" stroke-width="0.22">FLAG Dnmt3L ChIP</text>
<text x="617.10" y="717.40" font-size="5.85" font-weight="bold" font-style="italic" text-anchor="middle" fill="#000" stroke="#000" stroke-width="0.22">Snrpn</text>
<text x="576.00" y="809.30" font-size="5.85" font-weight="bold" font-style="normal" text-anchor="middle" fill="#000" stroke="#000" stroke-width="0.22">IgG</text>
<line x1="576.00" y1="801.20" x2="576.00" y2="803.00" stroke="#000" stroke-width="0.6"/>
<line x1="596.50" y1="797.10" x2="596.50" y2="797.48" stroke="#000" stroke-width="0.7"/>
<line x1="593.30" y1="797.10" x2="599.70" y2="797.10" stroke="#000" stroke-width="0.7"/>
<rect x="588.60" y="797.48" width="15.80" height="3.73" fill="#000"/>
<text x="596.50" y="809.30" font-size="5.85" font-weight="bold" font-style="normal" text-anchor="middle" fill="#000" stroke="#000" stroke-width="0.22">ET</text>
<line x1="596.50" y1="801.20" x2="596.50" y2="803.00" stroke="#000" stroke-width="0.6"/>
<rect x="609.40" y="739.12" width="15.40" height="62.08" fill="#ff2310"/>
<text x="617.10" y="809.30" font-size="5.85" font-weight="bold" font-style="normal" text-anchor="middle" fill="#000" stroke="#000" stroke-width="0.22">WT</text>
<line x1="617.10" y1="801.20" x2="617.10" y2="803.00" stroke="#000" stroke-width="0.6"/>
<line x1="637.60" y1="777.30" x2="637.60" y2="779.16" stroke="#000" stroke-width="0.7"/>
<line x1="634.40" y1="777.30" x2="640.80" y2="777.30" stroke="#000" stroke-width="0.7"/>
<rect x="629.60" y="779.16" width="16.00" height="22.04" fill="#0a0aff"/>
<text x="637.60" y="809.30" font-size="5.85" font-weight="bold" font-style="normal" text-anchor="middle" fill="#000" stroke="#000" stroke-width="0.22">K238R</text>
<line x1="637.60" y1="801.20" x2="637.60" y2="803.00" stroke="#000" stroke-width="0.6"/>
<line x1="658.40" y1="797.79" x2="658.40" y2="798.41" stroke="#000" stroke-width="0.7"/>
<line x1="655.20" y1="797.79" x2="661.60" y2="797.79" stroke="#000" stroke-width="0.7"/>
<rect x="650.40" y="798.41" width="16.00" height="2.79" fill="#2f8a22"/>
<text x="658.40" y="809.30" font-size="5.85" font-weight="bold" font-style="normal" text-anchor="middle" fill="#000" stroke="#000" stroke-width="0.22">K412R</text>
<line x1="658.40" y1="801.20" x2="658.40" y2="803.00" stroke="#000" stroke-width="0.6"/>
<line x1="563.00" y1="726.40" x2="563.00" y2="801.60" stroke="#000" stroke-width="0.8"/>
<line x1="562.60" y1="801.20" x2="671.90" y2="801.20" stroke="#000" stroke-width="0.8"/>
<line x1="561.00" y1="801.20" x2="563.00" y2="801.20" stroke="#000" stroke-width="0.7"/>
<text x="560.80" y="803.20" font-size="5.85" font-weight="bold" font-style="normal" text-anchor="end" fill="#000" stroke="#000" stroke-width="0.22">0.0</text>
<line x1="561.00" y1="782.58" x2="563.00" y2="782.58" stroke="#000" stroke-width="0.7"/>
<text x="560.80" y="784.58" font-size="5.85" font-weight="bold" font-style="normal" text-anchor="end" fill="#000" stroke="#000" stroke-width="0.22">0.3</text>
<line x1="561.00" y1="763.95" x2="563.00" y2="763.95" stroke="#000" stroke-width="0.7"/>
<text x="560.80" y="765.95" font-size="5.85" font-weight="bold" font-style="normal" text-anchor="end" fill="#000" stroke="#000" stroke-width="0.22">0.6</text>
<line x1="561.00" y1="745.33" x2="563.00" y2="745.33" stroke="#000" stroke-width="0.7"/>
<text x="560.80" y="747.33" font-size="5.85" font-weight="bold" font-style="normal" text-anchor="end" fill="#000" stroke="#000" stroke-width="0.22">0.9</text>
<line x1="561.00" y1="726.70" x2="563.00" y2="726.70" stroke="#000" stroke-width="0.7"/>
<text x="560.80" y="728.70" font-size="5.85" font-weight="bold" font-style="normal" text-anchor="end" fill="#000" stroke="#000" stroke-width="0.22">1.2</text>
<text x="549.00" y="763.95" font-size="5.85" font-weight="bold" font-style="normal" text-anchor="middle" fill="#000" stroke="#000" stroke-width="0.22" transform="rotate(-90 549.00 763.95)">Relative enrichment of B/UB</text>
<line x1="617.80" y1="813.50" x2="658.70" y2="813.50" stroke="#000" stroke-width="0.6"/>
<text x="637.50" y="820.60" font-size="5.85" font-weight="bold" font-style="italic" text-anchor="middle" fill="#000" stroke="#000" stroke-width="0.22">Dnmt3L</text>
<text x="576.00" y="790.30" font-size="5.9" font-weight="bold" font-style="italic" text-anchor="middle" fill="#111" stroke="#111" stroke-width="0.1">###</text>
<text x="576.00" y="798.10" font-size="6.2" font-weight="bold" font-style="normal" text-anchor="middle" fill="#111" stroke="#111" stroke-width="0.05" letter-spacing="0.2">*</text>
<text x="596.30" y="791.80" font-size="5.9" font-weight="bold" font-style="italic" text-anchor="middle" fill="#111" stroke="#111" stroke-width="0.1">###</text>
<text x="637.90" y="768.20" font-size="5.9" font-weight="bold" font-style="italic" text-anchor="middle" fill="#111" stroke="#111" stroke-width="0.1">###</text>
<text x="637.90" y="775.50" font-size="6.2" font-weight="bold" font-style="normal" text-anchor="middle" fill="#111" stroke="#111" stroke-width="0.05" letter-spacing="0.2">***</text>
<text x="658.30" y="794.50" font-size="5.9" font-weight="bold" font-style="italic" text-anchor="middle" fill="#111" stroke="#111" stroke-width="0.1">###</text>
</g>
</svg>
</body></html>
